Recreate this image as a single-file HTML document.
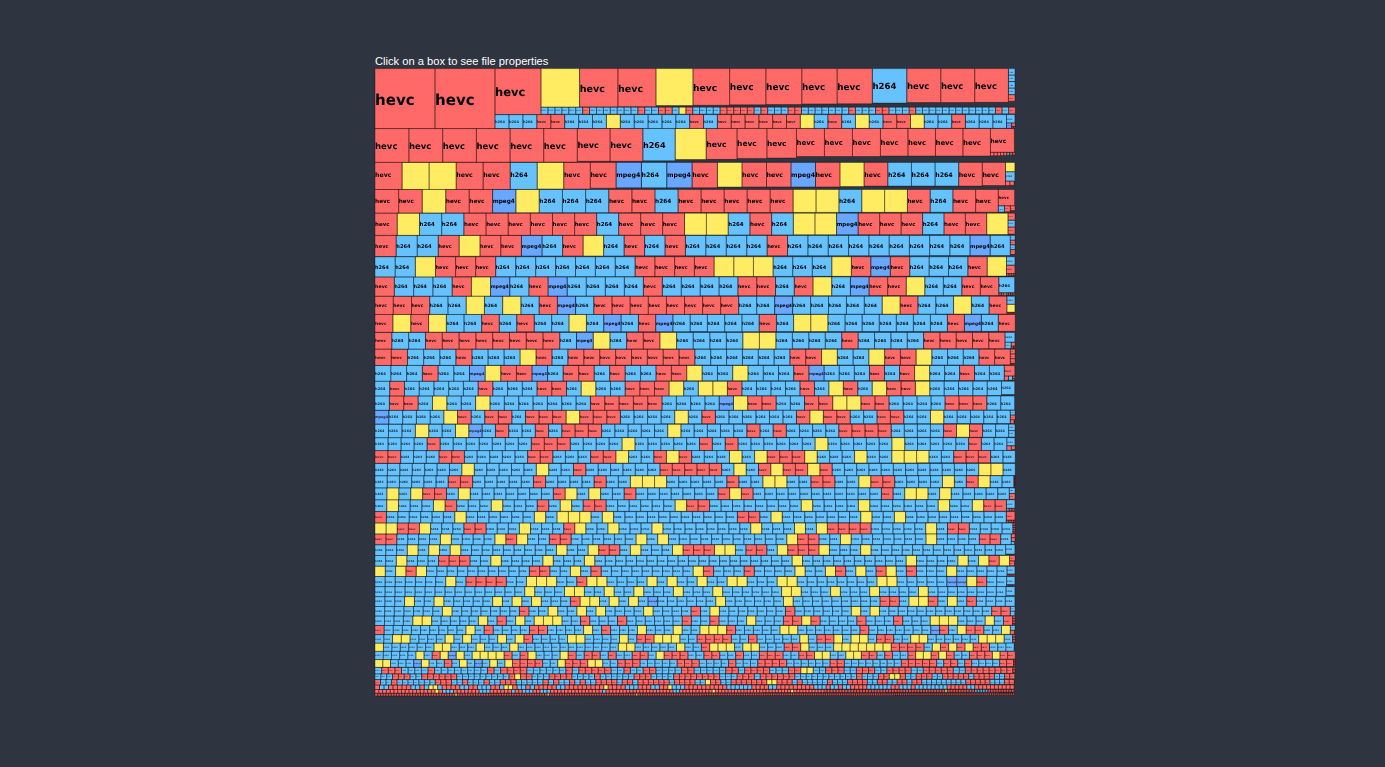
<!DOCTYPE html>
<html lang="en"><head><meta charset="utf-8"><title>Video files</title>
<style>
html,body{margin:0;padding:0;background:#2e3440;}
body{width:1385px;height:767px;overflow:hidden;position:relative;font-family:"Liberation Sans",sans-serif;}
#t{position:absolute;left:375px;top:53.8px;color:#fff;font-size:11.15px;line-height:14px;white-space:nowrap}
svg{position:absolute;left:0;top:0;filter:blur(.3px)}
svg text{font-family:"DejaVu Sans","Liberation Sans",sans-serif;font-weight:bold;fill:#000}
</style></head><body>
<div id="t">Click on a box to see file properties</div>
<svg width="1385" height="767" viewBox="0 0 1385 767" text-rendering="geometricPrecision">
<path fill="#ff6a68" d="M375 68.6h60v60h-60zM435 68.6h60v60h-60zM495 68.6h46v46h-46zM579.6 68.6h38.3v38.3h-38.3zM617.9 68.6h38.1v38.1h-38.1zM693 68.6h36.65v36.65h-36.65zM729.65 68.6h36.25v36.25h-36.25zM765.9 68.6h35.95v35.95h-35.95zM801.85 68.6h35.3v35.3h-35.3zM837.15 68.6h35.2v35.2h-35.2zM906.8 68.6h34v34h-34zM940.8 68.6h33.9v33.9h-33.9zM974.7 68.6h33.75v33.75h-33.75zM375 128.5h33.9v33.9h-33.9zM408.9 128.5h33.8v33.8h-33.8zM442.7 128.5h33.7v33.7h-33.7zM476.4 128.5h33.7v33.7h-33.7zM510.1 128.5h33.6v33.6h-33.6zM543.7 128.5h33.6v33.6h-33.6zM577.3 128.5h32.8v32.8h-32.8zM610.1 128.5h32.8v32.8h-32.8zM706.2 128.5h30.85v30.85h-30.85zM737.05 128.5h29.9v29.9h-29.9zM766.95 128.5h29.5v29.5h-29.5zM796.45 128.5h28v28h-28zM824.45 128.5h28v28h-28zM852.45 128.5h28v28h-28zM880.45 128.5h27.5v27.5h-27.5zM907.95 128.5h27.5v27.5h-27.5zM935.45 128.5h27.5v27.5h-27.5zM962.95 128.5h27.5v27.5h-27.5zM375 162.4h27.1v27.1h-27.1zM456.2 162.4h27v27h-27zM483.2 162.4h27v27h-27zM563.75 162.4h26.55v26.55h-26.55zM590.3 162.4h25.8v25.8h-25.8zM692.1 162.4h25.3v25.3h-25.3zM742 162.4h24.5v24.5h-24.5zM766.5 162.4h24.5v24.5h-24.5zM815.5 162.4h24.5v24.5h-24.5zM864.1 162.4h23.7v23.7h-23.7zM958.7 162.4h23.6v23.6h-23.6zM982.3 162.4h23.2v23.2h-23.2zM375 189.5h23.65v23.65h-23.65zM398.65 189.5h23.58v23.58h-23.58zM445.75 189.5h23.46v23.46h-23.46zM469.21 189.5h23.4v23.4h-23.4zM608.78 189.5h23.13v23.13h-23.13zM631.91 189.5h23.1v23.1h-23.1zM678.07 189.5h23.03v23.03h-23.03zM701.1 189.5h23.05v23.05h-23.05zM724.15 189.5h23.02v23.02h-23.02zM747.17 189.5h22.99v22.99h-22.99zM770.16 189.5h22.96v22.96h-22.96zM907.43 189.5h22.77v22.77h-22.77zM952.93 189.5h22.7v22.7h-22.7zM975.63 189.5h22.67v22.67h-22.67zM375 213.2h22.24v22.24h-22.24zM463.88 213.2h22.18v22.18h-22.18zM486.06 213.2h22.17v22.17h-22.17zM508.23 213.2h22.15v22.15h-22.15zM530.38 213.2h22.14v22.14h-22.14zM552.51 213.2h22.1v22.1h-22.1zM574.61 213.2h22.06v22.06h-22.06zM618.69 213.2h21.98v21.98h-21.98zM640.68 213.2h21.95v21.95h-21.95zM662.62 213.2h21.91v21.91h-21.91zM749.94 213.2h21.71v21.71h-21.71zM858.13 213.2h21.52v21.52h-21.52zM879.65 213.2h21.49v21.49h-21.49zM901.14 213.2h21.45v21.45h-21.45zM944 213.2h21.37v21.37h-21.37zM965.37 213.2h21.33v21.33h-21.33zM375 235.4h21.16v21.16h-21.16zM438.24 235.4h20.92v20.92h-20.92zM480.01 235.4h20.76v20.76h-20.76zM500.77 235.4h20.68v20.68h-20.68zM562.61 235.4h20.53v20.53h-20.53zM624.12 235.4h20.46v20.46h-20.46zM665.01 235.4h20.41v20.41h-20.41zM767.14 235.4h20.4v20.4h-20.4zM435.48 256.8h20.1v20.1h-20.1zM455.58 256.8h20.07v20.07h-20.07zM475.65 256.8h20.03v20.03h-20.03zM635.08 256.8h19.8v19.8h-19.8zM654.87 256.8h19.77v19.77h-19.77zM674.64 256.8h19.74v19.74h-19.74zM694.39 256.8h19.71v19.71h-19.71zM851.35 256.8h19.49v19.49h-19.49zM890.31 256.8h19.44v19.44h-19.44zM967.88 256.8h19.32v19.32h-19.32zM375 277h19.31v19.31h-19.31zM452.13 277h19.23v19.23h-19.23zM528.92 277h19.14v19.14h-19.14zM643.36 277h18.97v18.97h-18.97zM737.92 277h18.82v18.82h-18.82zM756.74 277h18.79v18.79h-18.79zM794.29 277h18.73v18.73h-18.73zM869.05 277h18.62v18.62h-18.62zM887.67 277h18.59v18.59h-18.59zM961.87 277h18.48v18.48h-18.48zM980.35 277h18.45v18.45h-18.45zM375 296.3h18.24v18.24h-18.24zM393.24 296.3h18.24v18.24h-18.24zM411.48 296.3h18.24v18.24h-18.24zM539.15 296.3h18.23v18.23h-18.23zM593.79 296.3h18.18v18.18h-18.18zM611.97 296.3h18.16v18.16h-18.16zM630.13 296.3h18.14v18.14h-18.14zM648.27 296.3h18.13v18.13h-18.13zM666.4 296.3h18.11v18.11h-18.11zM684.51 296.3h18.09v18.09h-18.09zM702.6 296.3h18.04v18.04h-18.04zM720.64 296.3h18.02v18.02h-18.02zM900.07 296.3h17.85v17.85h-17.85zM989.14 296.3h17.76v17.76h-17.76zM375 314.4h17.92v17.92h-17.92zM410.78 314.4h17.8v17.8h-17.8zM481.66 314.4h17.58v17.58h-17.58zM516.76 314.4h17.47v17.47h-17.47zM638.39 314.4h17.29v17.29h-17.29zM759.18 314.4h17.22v17.22h-17.22zM947.4 314.4h16.98v16.98h-16.98zM998.28 314.4h16.92v16.92h-16.92zM375 332.4h16.83v16.83h-16.83zM425.47 332.4h16.81v16.81h-16.81zM442.28 332.4h16.8v16.8h-16.8zM459.08 332.4h16.8v16.8h-16.8zM475.88 332.4h16.79v16.79h-16.79zM492.67 332.4h16.78v16.78h-16.78zM509.46 332.4h16.78v16.78h-16.78zM526.23 332.4h16.77v16.77h-16.77zM543.01 332.4h16.76v16.76h-16.76zM626.63 332.4h16.67v16.67h-16.67zM643.3 332.4h16.65v16.65h-16.65zM841.72 332.4h16.41v16.41h-16.41zM923.58 332.4h16.32v16.32h-16.32zM939.9 332.4h16.3v16.3h-16.3zM956.2 332.4h16.28v16.28h-16.28zM972.49 332.4h16.27v16.27h-16.27zM988.75 332.4h16.25v16.25h-16.25zM375 349.2h16.25v16.25h-16.25zM391.25 349.2h16.21v16.21h-16.21zM455.91 349.2h16.09v16.09h-16.09zM536.04 349.2h15.93v15.93h-15.93zM567.9 349.2h15.91v15.91h-15.91zM583.81 349.2h15.9v15.9h-15.9zM599.71 349.2h15.89v15.89h-15.89zM615.6 349.2h15.88v15.88h-15.88zM631.47 349.2h15.87v15.87h-15.87zM647.34 349.2h15.86v15.86h-15.86zM663.2 349.2h15.85v15.85h-15.85zM679.04 349.2h15.83v15.83h-15.83zM789.92 349.2h15.81v15.81h-15.81zM805.73 349.2h15.8v15.8h-15.8zM884.63 349.2h15.75v15.75h-15.75zM900.38 349.2h15.74v15.74h-15.74zM978.95 349.2h15.68v15.68h-15.68zM994.63 349.2h15.67v15.67h-15.67zM422.34 365.5h15.73v15.73h-15.73zM500.78 365.5h15.62v15.62h-15.62zM516.4 365.5h15.6v15.6h-15.6zM563.13 365.5h15.53v15.53h-15.53zM578.67 365.5h15.51v15.51h-15.51zM609.66 365.5h15.46v15.46h-15.46zM655.98 365.5h15.4v15.4h-15.4zM671.38 365.5h15.37v15.37h-15.37zM793.72 365.5h15.19v15.19h-15.19zM869.44 365.5h15.08v15.08h-15.08zM899.56 365.5h15.03v15.03h-15.03zM959.55 365.5h14.94v14.94h-14.94zM389.73 381.3h14.73v14.73h-14.73zM478.11 381.3h14.73v14.73h-14.73zM537.03 381.3h14.72v14.72h-14.72zM551.75 381.3h14.71v14.71h-14.71zM625.17 381.3h14.65v14.65h-14.65zM639.82 381.3h14.64v14.64h-14.64zM654.46 381.3h14.63v14.63h-14.63zM727.4 381.3h14.53v14.53h-14.53zM799.95 381.3h14.47v14.47h-14.47zM843.34 381.3h14.44v14.44h-14.44zM886.62 381.3h14.4v14.4h-14.4zM901.02 381.3h14.39v14.39h-14.39zM389.37 396h14.37v14.37h-14.37zM403.74 396h14.37v14.37h-14.37zM590.4 396h14.34v14.34h-14.34zM604.74 396h14.33v14.33h-14.33zM619.07 396h14.32v14.32h-14.32zM633.39 396h14.32v14.32h-14.32zM647.71 396h14.31v14.31h-14.31zM747.71 396h14.22v14.22h-14.22zM761.93 396h14.21v14.21h-14.21zM804.5 396h14.13v14.13h-14.13zM818.63 396h14.11v14.11h-14.11zM860.92 396h14.06v14.06h-14.06zM874.98 396h14.04v14.04h-14.04zM945.01 396h13.95v13.95h-13.95zM958.96 396h13.94v13.94h-13.94zM972.9 396h13.92v13.92h-13.92zM457.52 410.3h13.63v13.63h-13.63zM484.75 410.3h13.58v13.58h-13.58zM498.33 410.3h13.57v13.57h-13.57zM525.46 410.3h13.56v13.56h-13.56zM539.02 410.3h13.55v13.55h-13.55zM552.58 410.3h13.55v13.55h-13.55zM579.66 410.3h13.54v13.54h-13.54zM593.2 410.3h13.6v13.6h-13.6zM606.8 410.3h13.59v13.59h-13.59zM701.83 410.3h13.55v13.55h-13.55zM796.43 410.3h13.47v13.47h-13.47zM823.34 410.3h13.43v13.43h-13.43zM836.77 410.3h13.42v13.42h-13.42zM877 410.3h13.38v13.38h-13.38zM890.38 410.3h13.37v13.37h-13.37zM495.44 424.2h13.29v13.29h-13.29zM535.29 424.2h13.27v13.27h-13.27zM561.81 424.2h13.25v13.25h-13.25zM575.06 424.2h13.24v13.24h-13.24zM588.3 424.2h13.26v13.26h-13.26zM746.85 424.2h13.16v13.16h-13.16zM773.17 424.2h13.14v13.14h-13.14zM838.81 424.2h13.11v13.11h-13.11zM851.92 424.2h13.1v13.1h-13.1zM865.02 424.2h13.09v13.09h-13.09zM878.11 424.2h13.08v13.08h-13.08zM943.45 424.2h13.04v13.04h-13.04zM969.54 424.2h13.03v13.03h-13.03zM427.11 437.7h13.03v13.03h-13.03zM531.3 437.7h13v13h-13zM544.29 437.7h12.99v12.99h-12.99zM557.28 437.7h12.98v12.98h-12.98zM699.47 437.7h12.87v12.87h-12.87zM725.2 437.7h12.86v12.86h-12.86zM968.57 437.7h12.75v12.75h-12.75zM375 450.5h12.85v12.85h-12.85zM387.85 450.5h12.83v12.83h-12.83zM438.99 450.5h12.72v12.72h-12.72zM451.71 450.5h12.69v12.69h-12.69zM527.58 450.5h12.61v12.61h-12.61zM540.19 450.5h12.61v12.61h-12.61zM590.6 450.5h12.65v12.65h-12.65zM603.25 450.5h12.65v12.65h-12.65zM653.8 450.5h12.62v12.62h-12.62zM679.04 450.5h12.61v12.61h-12.61zM767.13 450.5h12.54v12.54h-12.54zM779.67 450.5h12.52v12.52h-12.52zM792.19 450.5h12.51v12.51h-12.51zM953.67 450.5h12.33v12.33h-12.33zM966 450.5h12.32v12.32h-12.32zM978.32 450.5h12.31v12.31h-12.31zM573.45 463.4h12.38v12.38h-12.38zM659.95 463.4h12.34v12.34h-12.34zM672.29 463.4h12.33v12.33h-12.33zM684.62 463.4h12.33v12.33h-12.33zM696.95 463.4h12.32v12.32h-12.32zM709.28 463.4h12.32v12.32h-12.32zM758.51 463.4h12.29v12.29h-12.29zM783.08 463.4h12.28v12.28h-12.28zM795.36 463.4h12.27v12.27h-12.27zM819.9 463.4h12.25v12.25h-12.25zM448.2 475.7h12.19v12.19h-12.19zM460.39 475.7h12.19v12.19h-12.19zM533.43 475.7h12.15v12.15h-12.15zM594.1 475.7h12.1v12.1h-12.1zM726.83 475.7h12.03v12.03h-12.03zM810.9 475.7h11.99v11.99h-11.99zM822.89 475.7h11.98v11.98h-11.98zM870.78 475.7h11.96v11.96h-11.96zM882.74 475.7h11.95v11.95h-11.95zM966.29 475.7h11.91v11.91h-11.91zM422.64 487.9h11.9v11.9h-11.9zM434.54 487.9h11.9v11.9h-11.9zM553.32 487.9h11.84v11.84h-11.84zM624.13 487.9h11.76v11.76h-11.76zM717.97 487.9h11.7v11.7h-11.7zM741.37 487.9h11.69v11.69h-11.69zM881.41 487.9h11.65v11.65h-11.65zM445.07 499.8h11.58v11.58h-11.58zM537.23 499.8h11.48v11.48h-11.48zM583.13 499.8h11.47v11.47h-11.47zM594.6 499.8h11.52v11.52h-11.52zM686.61 499.8h11.48v11.48h-11.48zM698.09 499.8h11.48v11.48h-11.48zM983.68 499.8h11.36v11.36h-11.36zM995.04 499.8h11.36v11.36h-11.36zM375 511.6h11.41v11.41h-11.41zM737.36 511.6h11.23v11.23h-11.23zM748.59 511.6h11.22v11.22h-11.22zM397.22 523h11.11v11.11h-11.11zM408.33 523h11.11v11.11h-11.11zM463.88 523h11.11v11.11h-11.11zM474.99 523h11.11v11.11h-11.11zM563.72 523h11.06v11.06h-11.06zM827.34 523h10.94v10.94h-10.94zM838.28 523h10.94v10.94h-10.94zM849.22 523h10.93v10.93h-10.93zM860.15 523h10.93v10.93h-10.93zM947.51 523h10.91v10.91h-10.91zM958.42 523h10.9v10.9h-10.9zM375 533.9h10.9v10.9h-10.9zM385.9 533.9h10.9v10.9h-10.9zM505.84 533.9h10.89v10.89h-10.89zM549.37 533.9h10.87v10.87h-10.87zM560.23 533.9h10.86v10.86h-10.86zM797.55 533.9h10.73v10.73h-10.73zM808.28 533.9h10.72v10.72h-10.72zM979.35 533.9h10.65v10.65h-10.65zM990.01 533.9h10.65v10.65h-10.65zM598.7 544.7h10.56v10.56h-10.56zM609.26 544.7h10.56v10.56h-10.56zM683 544.7h10.5v10.5h-10.5zM693.5 544.7h10.49v10.49h-10.49zM703.99 544.7h10.49v10.49h-10.49zM745.9 544.7h10.46v10.46h-10.46zM756.36 544.7h10.46v10.46h-10.46zM787.71 544.7h10.44v10.44h-10.44zM798.15 544.7h10.43v10.43h-10.43zM808.58 544.7h10.42v10.42h-10.42zM438.54 555.5h10.51v10.51h-10.51zM449.05 555.5h10.49v10.49h-10.49zM459.54 555.5h10.46v10.46h-10.46zM988.92 555.5h10.34v10.34h-10.34zM405.91 566.2h10.3v10.3h-10.3zM529.36 566.2h10.27v10.27h-10.27zM539.62 566.2h10.26v10.26h-10.26zM590.9 566.2h10.24v10.24h-10.24zM703.35 566.2h10.2v10.2h-10.2zM744.12 566.2h10.18v10.18h-10.18zM835.53 566.2h10.13v10.13h-10.13zM876.01 566.2h10.11v10.11h-10.11zM906.32 566.2h10.09v10.09h-10.09zM465.91 576.5h10.09v10.09h-10.09zM476 576.5h10.09v10.09h-10.09zM486.1 576.5h10.09v10.09h-10.09zM496.19 576.5h10.09v10.09h-10.09zM576.79 576.5h10.06v10.06h-10.06zM976.72 576.5h9.96v9.96h-9.96zM570.4 596.6h9.7v9.7h-9.7zM880.01 596.6h9.65v9.65h-9.65zM889.66 596.6h9.64v9.64h-9.64zM928.23 596.6h9.64v9.64h-9.64zM966.77 596.6h9.63v9.63h-9.63zM519.36 606.5h9.6v9.6h-9.6zM691.01 606.5h9.47v9.47h-9.47zM785.46 606.5h9.42v9.42h-9.42zM991.66 606.5h9.32v9.32h-9.32zM1000.98 606.5h9.32v9.32h-9.32zM497 616h9.3v9.3h-9.3zM580.5 616h9.25v9.25h-9.25zM617.52 616h9.25v9.25h-9.25zM682.17 616h9.22v9.22h-9.22zM709.8 616h9.2v9.2h-9.2zM783.37 616h9.19v9.19h-9.19zM792.55 616h9.18v9.18h-9.18zM810.92 616h9.18v9.18h-9.18zM856.84 616h9.18v9.18h-9.18zM893.54 616h9.17v9.17h-9.17zM1003.45 616h9.15v9.15h-9.15zM375 625.5h9.11v9.11h-9.11zM484.12 625.5h9.07v9.07h-9.07zM529.43 625.5h9.04v9.04h-9.04zM538.47 625.5h9.04v9.04h-9.04zM601.58 625.5h8.97v8.97h-8.97zM726.67 625.5h8.9v8.9h-8.9zM859.9 625.5h8.87v8.87h-8.87zM939.62 625.5h8.84v8.84h-8.84zM966.15 625.5h8.84v8.84h-8.84zM974.98 625.5h8.83v8.83h-8.83zM523.91 634.6h8.73v8.73h-8.73zM636.81 634.6h8.62v8.62h-8.62zM645.43 634.6h8.62v8.62h-8.62zM697.05 634.6h8.58v8.58h-8.58zM705.63 634.6h8.58v8.58h-8.58zM714.21 634.6h8.57v8.57h-8.57zM722.78 634.6h8.57v8.57h-8.57zM748.48 634.6h8.56v8.56h-8.56zM816.87 634.6h8.53v8.53h-8.53zM825.4 634.6h8.54v8.54h-8.54zM876.6 634.6h8.52v8.52h-8.52zM885.13 634.6h8.52v8.52h-8.52zM701.39 643h8.29v8.29h-8.29zM784.17 643h8.26v8.26h-8.26zM792.43 643h8.25v8.25h-8.25zM891.24 643h8.21v8.21h-8.21zM899.45 643h8.21v8.21h-8.21zM907.65 643h8.2v8.2h-8.2zM915.85 643h8.2v8.2h-8.2zM940.44 643h8.19v8.19h-8.19zM956.81 643h8.18v8.18h-8.18zM973.17 643h8.17v8.17h-8.17zM981.34 643h8.17v8.17h-8.17zM432.11 651.3h8.05v8.05h-8.05zM504.08 651.3h7.98v7.98h-7.98zM520.03 651.3h7.97v7.97h-7.97zM568.12 651.3h8.02v8.02h-8.02zM584.16 651.3h8.01v8.01h-8.01zM592.17 651.3h8.01v8.01h-8.01zM608.18 651.3h8v8h-8zM632.17 651.3h7.99v7.99h-7.99zM640.15 651.3h7.98v7.98h-7.98zM664.08 651.3h7.96v7.96h-7.96zM672.04 651.3h7.96v7.96h-7.96zM680 651.3h7.96v7.96h-7.96zM703.86 651.3h7.94v7.94h-7.94zM711.8 651.3h7.94v7.94h-7.94zM735.6 651.3h7.92v7.92h-7.92zM759.36 651.3h7.91v7.91h-7.91zM767.26 651.3h7.9v7.9h-7.9zM775.16 651.3h7.89v7.89h-7.89zM798.79 651.3h7.86v7.86h-7.86zM806.65 651.3h7.85v7.85h-7.85zM861.39 651.3h7.78v7.78h-7.78zM869.16 651.3h7.77v7.77h-7.77zM884.69 651.3h7.75v7.75h-7.75zM907.91 651.3h7.72v7.72h-7.72zM931.05 651.3h7.7v7.7h-7.7zM946.43 651.3h7.68v7.68h-7.68zM969.44 651.3h7.65v7.65h-7.65zM977.09 651.3h7.64v7.64h-7.64zM984.73 651.3h7.63v7.63h-7.63zM999.98 651.3h7.61v7.61h-7.61zM1007.6 651.3h7.6v7.6h-7.6zM444.28 659.6h7.61v7.61h-7.61zM512.44 659.6h7.54v7.54h-7.54zM519.97 659.6h7.53v7.53h-7.53zM527.5 659.6h7.56v7.56h-7.56zM535.06 659.6h7.55v7.55h-7.55zM565.21 659.6h7.52v7.52h-7.52zM572.73 659.6h7.51v7.51h-7.51zM580.24 659.6h7.5v7.5h-7.5zM617.69 659.6h7.46v7.46h-7.46zM625.15 659.6h7.45v7.45h-7.45zM632.6 659.6h7.44v7.44h-7.44zM677.12 659.6h7.38v7.38h-7.38zM684.5 659.6h7.37v7.37h-7.37zM691.87 659.6h7.36v7.36h-7.36zM728.55 659.6h7.31v7.31h-7.31zM757.71 659.6h7.27v7.27h-7.27zM764.98 659.6h7.26v7.26h-7.26zM772.24 659.6h7.25v7.25h-7.25zM779.49 659.6h7.24v7.24h-7.24zM829.96 659.6h7.17v7.17h-7.17zM837.14 659.6h7.16v7.16h-7.16zM901.29 659.6h7.08v7.08h-7.08zM908.38 659.6h7.07v7.07h-7.07zM915.45 659.6h7.06v7.06h-7.06zM922.51 659.6h7.05v7.05h-7.05zM929.57 659.6h7.05v7.05h-7.05zM943.65 659.6h7.03v7.03h-7.03zM950.68 659.6h7.02v7.02h-7.02zM964.7 659.6h7v7h-7zM999.6 659.6h6.95v6.95h-6.95zM1006.56 659.6h6.94v6.94h-6.94zM381.62 667.4h6.62v6.62h-6.62zM388.24 667.4h6.62v6.62h-6.62zM394.86 667.4h6.62v6.62h-6.62zM427.96 667.4h6.62v6.62h-6.62zM487.43 667.4h6.58v6.58h-6.58zM500.58 667.4h6.57v6.57h-6.57zM507.14 667.4h6.56v6.56h-6.56zM513.7 667.4h6.55v6.55h-6.55zM520.25 667.4h6.55v6.55h-6.55zM565.83 667.4h6.48v6.48h-6.48zM578.78 667.4h6.47v6.47h-6.47zM585.25 667.4h6.46v6.46h-6.46zM591.71 667.4h6.45v6.45h-6.45zM598.16 667.4h6.45v6.45h-6.45zM604.61 667.4h6.44v6.44h-6.44zM623.91 667.4h6.42v6.42h-6.42zM643.14 667.4h6.4v6.4h-6.4zM649.53 667.4h6.39v6.39h-6.39zM681.4 667.4h6.35v6.35h-6.35zM687.75 667.4h6.35v6.35h-6.35zM725.71 667.4h6.3v6.3h-6.3zM732.01 667.4h6.29v6.29h-6.29zM744.59 667.4h6.28v6.28h-6.28zM750.87 667.4h6.27v6.27h-6.27zM757.14 667.4h6.26v6.26h-6.26zM763.41 667.4h6.26v6.26h-6.26zM788.38 667.4h6.22v6.22h-6.22zM794.6 667.4h6.21v6.21h-6.21zM825.57 667.4h6.17v6.17h-6.17zM831.74 667.4h6.16v6.16h-6.16zM837.9 667.4h6.15v6.15h-6.15zM856.32 667.4h6.12v6.12h-6.12zM862.44 667.4h6.11v6.11h-6.11zM868.55 667.4h6.11v6.11h-6.11zM886.84 667.4h6.08v6.08h-6.08zM892.92 667.4h6.07v6.07h-6.07zM898.99 667.4h6.06v6.06h-6.06zM905.06 667.4h6.05v6.05h-6.05zM923.19 667.4h6.03v6.03h-6.03zM929.22 667.4h6.02v6.02h-6.02zM935.24 667.4h6.01v6.01h-6.01zM941.25 667.4h6v6h-6zM947.25 667.4h5.99v5.99h-5.99zM965.2 667.4h5.97v5.97h-5.97zM971.17 667.4h5.96v5.96h-5.96zM977.13 667.4h5.95v5.95h-5.95zM983.08 667.4h5.94v5.94h-5.94zM989.02 667.4h5.93v5.93h-5.93zM994.95 667.4h5.92v5.92h-5.92zM1000.88 667.4h5.92v5.92h-5.92zM1006.79 667.4h5.91v5.91h-5.91zM392.51 673.8h5.84v5.84h-5.84zM398.35 673.8h5.84v5.84h-5.84zM404.19 673.8h5.84v5.84h-5.84zM421.7 673.8h5.84v5.84h-5.84zM427.54 673.8h5.84v5.84h-5.84zM433.38 673.8h5.84v5.84h-5.84zM439.21 673.8h5.84v5.84h-5.84zM445.05 673.8h5.84v5.84h-5.84zM450.89 673.8h5.83v5.83h-5.83zM508.98 673.8h5.78v5.78h-5.78zM520.53 673.8h5.77v5.77h-5.77zM526.3 673.8h5.71v5.71h-5.71zM549.12 673.8h5.69v5.69h-5.69zM554.82 673.8h5.69v5.69h-5.69zM560.5 673.8h5.68v5.68h-5.68zM566.18 673.8h5.68v5.68h-5.68zM594.5 673.8h5.65v5.65h-5.65zM634.02 673.8h5.65v5.65h-5.65zM639.68 673.8h5.66v5.66h-5.66zM645.33 673.8h5.66v5.66h-5.66zM673.65 673.8h5.67v5.67h-5.67zM679.33 673.8h5.67v5.67h-5.67zM685 673.8h5.77v5.77h-5.77zM690.77 673.8h5.77v5.77h-5.77zM696.53 673.8h5.77v5.77h-5.77zM702.31 673.8h5.77v5.77h-5.77zM708.08 673.8h5.78v5.78h-5.78zM713.86 673.8h5.78v5.78h-5.78zM736.99 673.8h5.79v5.79h-5.79zM742.78 673.8h5.79v5.79h-5.79zM748.57 673.8h5.8v5.8h-5.8zM760.16 673.8h5.8v5.8h-5.8zM765.96 673.8h5.79v5.79h-5.79zM771.75 673.8h5.77v5.77h-5.77zM777.52 673.8h5.76v5.76h-5.76zM783.27 673.8h5.74v5.74h-5.74zM789.01 673.8h5.73v5.73h-5.73zM856.55 673.8h5.49v5.49h-5.49zM878.41 673.8h5.43v5.43h-5.43zM883.84 673.8h5.41v5.41h-5.41zM900.04 673.8h5.37v5.37h-5.37zM916.1 673.8h5.32v5.32h-5.32zM921.42 673.8h5.31v5.31h-5.31zM926.73 673.8h5.29v5.29h-5.29zM942.57 673.8h5.25v5.25h-5.25zM947.81 673.8h5.23v5.23h-5.23zM953.05 673.8h5.22v5.22h-5.22zM958.27 673.8h5.2v5.2h-5.2zM963.47 673.8h5.19v5.19h-5.19zM973.84 673.8h5.16v5.16h-5.16zM979 673.8h5.15v5.15h-5.15zM984.14 673.8h5.13v5.13h-5.13zM989.27 673.8h5.12v5.12h-5.12zM1004.57 673.8h5.07v5.07h-5.07zM1009.64 673.8h5.06v5.06h-5.06zM375 679.5h5.5v5.5h-5.5zM391.48 679.5h5.48v5.48h-5.48zM435.19 679.5h5.44v5.44h-5.44zM440.63 679.5h5.43v5.43h-5.43zM446.06 679.5h5.43v5.43h-5.43zM462.32 679.5h5.41v5.41h-5.41zM483.93 679.5h5.39v5.39h-5.39zM500.07 679.5h5.37v5.37h-5.37zM505.44 679.5h5.36v5.36h-5.36zM510.81 679.5h5.36v5.36h-5.36zM542.88 679.5h5.33v5.33h-5.33zM553.52 679.5h5.31v5.31h-5.31zM569.45 679.5h5.3v5.3h-5.3zM580.04 679.5h5.29v5.29h-5.29zM595.88 679.5h5.27v5.27h-5.27zM601.15 679.5h5.26v5.26h-5.26zM606.41 679.5h5.26v5.26h-5.26zM611.67 679.5h5.25v5.25h-5.25zM622.16 679.5h5.24v5.24h-5.24zM627.4 679.5h5.23v5.23h-5.23zM637.87 679.5h5.22v5.22h-5.22zM643.09 679.5h5.22v5.22h-5.22zM648.31 679.5h5.21v5.21h-5.21zM653.52 679.5h5.21v5.21h-5.21zM658.73 679.5h5.2v5.2h-5.2zM663.93 679.5h5.2v5.2h-5.2zM674.32 679.5h5.18v5.18h-5.18zM679.5 679.5h5.18v5.18h-5.18zM684.68 679.5h5.17v5.17h-5.17zM689.85 679.5h5.17v5.17h-5.17zM710.49 679.5h5.14v5.14h-5.14zM715.63 679.5h5.14v5.14h-5.14zM731.03 679.5h5.12v5.12h-5.12zM736.16 679.5h5.12v5.12h-5.12zM741.27 679.5h5.11v5.11h-5.11zM746.38 679.5h5.11v5.11h-5.11zM751.49 679.5h5.1v5.1h-5.1zM756.59 679.5h5.09v5.09h-5.09zM761.68 679.5h5.09v5.09h-5.09zM776.93 679.5h5.07v5.07h-5.07zM782 679.5h5.07v5.07h-5.07zM787.07 679.5h5.06v5.06h-5.06zM797.18 679.5h5.05v5.05h-5.05zM827.39 679.5h5.02v5.02h-5.02zM847.42 679.5h4.99v4.99h-4.99zM852.41 679.5h4.99v4.99h-4.99zM857.4 679.5h4.98v4.98h-4.98zM862.38 679.5h4.98v4.98h-4.98zM877.29 679.5h4.96v4.96h-4.96zM882.25 679.5h4.95v4.95h-4.95zM897.09 679.5h4.94v4.94h-4.94zM902.03 679.5h4.93v4.93h-4.93zM911.88 679.5h4.92v4.92h-4.92zM916.8 679.5h4.91v4.91h-4.91zM965.68 679.5h4.86v4.86h-4.86zM970.54 679.5h4.85v4.85h-4.85zM975.39 679.5h4.85v4.85h-4.85zM980.24 679.5h4.84v4.84h-4.84zM985.08 679.5h4.83v4.83h-4.83zM1004.38 679.5h4.81v4.81h-4.81zM1009.19 679.5h4.81v4.81h-4.81zM375 685h4.5v4.5h-4.5zM388.49 685h4.49v4.49h-4.49zM392.98 685h4.48v4.48h-4.48zM397.46 685h4.48v4.48h-4.48zM401.94 685h4.48v4.48h-4.48zM406.42 685h4.47v4.47h-4.47zM419.82 685h4.46v4.46h-4.46zM442.09 685h4.44v4.44h-4.44zM446.53 685h4.44v4.44h-4.44zM450.97 685h4.43v4.43h-4.43zM455.4 685h4.43v4.43h-4.43zM468.68 685h4.42v4.42h-4.42zM473.09 685h4.41v4.41h-4.41zM490.73 685h4.4v4.4h-4.4zM495.12 685h4.39v4.39h-4.39zM512.68 685h4.38v4.38h-4.38zM525.8 685h4.37v4.37h-4.37zM534.53 685h4.36v4.36h-4.36zM538.89 685h4.35v4.35h-4.35zM543.24 685h4.35v4.35h-4.35zM547.59 685h4.35v4.35h-4.35zM551.94 685h4.34v4.34h-4.34zM564.96 685h4.33v4.33h-4.33zM569.29 685h4.33v4.33h-4.33zM573.62 685h4.32v4.32h-4.32zM577.94 685h4.32v4.32h-4.32zM582.26 685h4.32v4.32h-4.32zM586.58 685h4.31v4.31h-4.31zM590.89 685h4.31v4.31h-4.31zM595.2 685h4.3v4.3h-4.3zM599.5 685h4.3v4.3h-4.3zM608.1 685h4.29v4.29h-4.29zM612.39 685h4.29v4.29h-4.29zM616.68 685h4.28v4.28h-4.28zM620.96 685h4.28v4.28h-4.28zM638.06 685h4.26v4.26h-4.26zM642.32 685h4.26v4.26h-4.26zM646.58 685h4.26v4.26h-4.26zM659.34 685h4.25v4.25h-4.25zM663.59 685h4.24v4.24h-4.24zM684.76 685h4.22v4.22h-4.22zM688.98 685h4.22v4.22h-4.22zM693.2 685h4.21v4.21h-4.21zM697.41 685h4.21v4.21h-4.21zM701.62 685h4.21v4.21h-4.21zM705.82 685h4.2v4.2h-4.2zM710.03 685h4.2v4.2h-4.2zM714.22 685h4.19v4.19h-4.19zM718.42 685h4.19v4.19h-4.19zM722.61 685h4.19v4.19h-4.19zM751.83 685h4.16v4.16h-4.16zM755.99 685h4.15v4.15h-4.15zM760.14 685h4.15v4.15h-4.15zM764.3 685h4.15v4.15h-4.15zM776.72 685h4.14v4.14h-4.14zM780.86 685h4.13v4.13h-4.13zM784.99 685h4.13v4.13h-4.13zM789.12 685h4.12v4.12h-4.12zM793.24 685h4.12v4.12h-4.12zM797.36 685h4.12v4.12h-4.12zM801.48 685h4.11v4.11h-4.11zM805.59 685h4.11v4.11h-4.11zM809.7 685h4.1v4.1h-4.1zM826.09 685h4.09v4.09h-4.09zM838.34 685h4.08v4.08h-4.08zM850.56 685h4.06v4.06h-4.06zM854.63 685h4.06v4.06h-4.06zM858.69 685h4.06v4.06h-4.06zM862.74 685h4.05v4.05h-4.05zM891.03 685h4.03v4.03h-4.03zM895.06 685h4.02v4.02h-4.02zM911.12 685h4.01v4.01h-4.01zM947.03 685h3.97v3.97h-3.97zM951 685h3.97v3.97h-3.97zM954.97 685h3.96v3.96h-3.96zM958.93 685h3.96v3.96h-3.96zM962.89 685h3.95v3.95h-3.95zM974.74 685h3.94v3.94h-3.94zM978.69 685h3.94v3.94h-3.94zM982.63 685h3.94v3.94h-3.94zM986.56 685h3.93v3.93h-3.93zM990.49 685h3.93v3.93h-3.93zM994.42 685h3.92v3.92h-3.92zM998.34 685h3.92v3.92h-3.92zM1002.26 685h3.92v3.92h-3.92zM1006.18 685h3.91v3.91h-3.91zM1010.09 685h3.91v3.91h-3.91zM375 689.5h3.8v3.8h-3.8zM378.8 689.5h3.79v3.79h-3.79zM382.59 689.5h3.79v3.79h-3.79zM386.38 689.5h3.78v3.78h-3.78zM390.16 689.5h3.78v3.78h-3.78zM393.94 689.5h3.77v3.77h-3.77zM397.71 689.5h3.76v3.76h-3.76zM401.47 689.5h3.76v3.76h-3.76zM405.23 689.5h3.75v3.75h-3.75zM408.98 689.5h3.75v3.75h-3.75zM412.73 689.5h3.74v3.74h-3.74zM416.47 689.5h3.73v3.73h-3.73zM420.2 689.5h3.73v3.73h-3.73zM423.93 689.5h3.72v3.72h-3.72zM427.65 689.5h3.71v3.71h-3.71zM431.36 689.5h3.71v3.71h-3.71zM438.77 689.5h3.7v3.7h-3.7zM453.52 689.5h3.67v3.67h-3.67zM457.2 689.5h3.67v3.67h-3.67zM460.86 689.5h3.66v3.66h-3.66zM464.52 689.5h3.65v3.65h-3.65zM468.18 689.5h3.65v3.65h-3.65zM471.82 689.5h3.64v3.64h-3.64zM475.47 689.5h3.64v3.64h-3.64zM489.97 689.5h3.61v3.61h-3.61zM493.58 689.5h3.61v3.61h-3.61zM497.19 689.5h3.6v3.6h-3.6zM500.79 689.5h3.59v3.59h-3.59zM504.38 689.5h3.59v3.59h-3.59zM507.97 689.5h3.58v3.58h-3.58zM515.13 689.5h3.57v3.57h-3.57zM518.69 689.5h3.56v3.56h-3.56zM532.91 689.5h3.54v3.54h-3.54zM536.45 689.5h3.53v3.53h-3.53zM550.54 689.5h3.51v3.51h-3.51zM554.05 689.5h3.5v3.5h-3.5zM557.55 689.5h3.5v3.5h-3.5zM561.05 689.5h3.49v3.49h-3.49zM564.54 689.5h3.48v3.48h-3.48zM568.02 689.5h3.48v3.48h-3.48zM571.5 689.5h3.47v3.47h-3.47zM574.97 689.5h3.47v3.47h-3.47zM578.44 689.5h3.46v3.46h-3.46zM581.9 689.5h3.45v3.45h-3.45zM585.35 689.5h3.45v3.45h-3.45zM588.8 689.5h3.44v3.44h-3.44zM592.24 689.5h3.44v3.44h-3.44zM595.67 689.5h3.43v3.43h-3.43zM599.1 689.5h3.42v3.42h-3.42zM605.94 689.5h3.41v3.41h-3.41zM609.35 689.5h3.4v3.4h-3.4zM612.76 689.5h3.4v3.4h-3.4zM616.16 689.5h3.39v3.39h-3.39zM619.55 689.5h3.39v3.39h-3.39zM622.94 689.5h3.38v3.38h-3.38zM626.32 689.5h3.37v3.37h-3.37zM629.69 689.5h3.37v3.37h-3.37zM633.06 689.5h3.36v3.36h-3.36zM636.42 689.5h3.36v3.36h-3.36zM639.78 689.5h3.35v3.35h-3.35zM643.13 689.5h3.34v3.34h-3.34zM646.47 689.5h3.34v3.34h-3.34zM649.81 689.5h3.33v3.33h-3.33zM653.14 689.5h3.33v3.33h-3.33zM656.47 689.5h3.32v3.32h-3.32zM659.79 689.5h3.31v3.31h-3.31zM663.1 689.5h3.31v3.31h-3.31zM666.41 689.5h3.3v3.3h-3.3zM669.71 689.5h3.3v3.3h-3.3zM679.58 689.5h3.28v3.28h-3.28zM682.85 689.5h3.27v3.27h-3.27zM686.12 689.5h3.26v3.26h-3.26zM689.39 689.5h3.26v3.26h-3.26zM692.65 689.5h3.25v3.25h-3.25zM695.9 689.5h3.25v3.25h-3.25zM699.15 689.5h3.24v3.24h-3.24zM702.39 689.5h3.23v3.23h-3.23zM705.62 689.5h3.23v3.23h-3.23zM708.85 689.5h3.22v3.22h-3.22zM715.29 689.5h3.21v3.21h-3.21zM718.5 689.5h3.2v3.2h-3.2zM721.7 689.5h3.2v3.2h-3.2zM724.9 689.5h3.19v3.19h-3.19zM728.09 689.5h3.19v3.19h-3.19zM731.28 689.5h3.18v3.18h-3.18zM734.46 689.5h3.17v3.17h-3.17zM737.63 689.5h3.17v3.17h-3.17zM740.8 689.5h3.16v3.16h-3.16zM743.96 689.5h3.16v3.16h-3.16zM747.12 689.5h3.15v3.15h-3.15zM750.27 689.5h3.14v3.14h-3.14zM753.41 689.5h3.14v3.14h-3.14zM756.55 689.5h3.13v3.13h-3.13zM759.68 689.5h3.13v3.13h-3.13zM762.8 689.5h3.12v3.12h-3.12zM765.92 689.5h3.11v3.11h-3.11zM769.04 689.5h3.11v3.11h-3.11zM772.14 689.5h3.1v3.1h-3.1zM775.24 689.5h3.09v3.09h-3.09zM778.34 689.5h3.09v3.09h-3.09zM781.43 689.5h3.08v3.08h-3.08zM784.51 689.5h3.08v3.08h-3.08zM787.59 689.5h3.07v3.07h-3.07zM793.72 689.5h3.06v3.06h-3.06zM796.78 689.5h3.05v3.05h-3.05zM799.83 689.5h3.05v3.05h-3.05zM802.88 689.5h3.04v3.04h-3.04zM805.92 689.5h3.03v3.03h-3.03zM808.95 689.5h3.03v3.03h-3.03zM811.98 689.5h3.02v3.02h-3.02zM815 689.5h3.02v3.02h-3.02zM818.02 689.5h3.01v3.01h-3.01zM821.03 689.5h3v3h-3zM824.03 689.5h3v3h-3zM827.03 689.5h2.99v2.99h-2.99zM830.02 689.5h2.99v2.99h-2.99zM833 689.5h2.98v2.98h-2.98zM835.98 689.5h2.97v2.97h-2.97zM838.95 689.5h2.97v2.97h-2.97zM841.92 689.5h2.96v2.96h-2.96zM844.88 689.5h2.95v2.95h-2.95zM847.84 689.5h2.95v2.95h-2.95zM850.79 689.5h2.94v2.94h-2.94zM853.73 689.5h2.94v2.94h-2.94zM856.67 689.5h2.93v2.93h-2.93zM859.6 689.5h2.92v2.92h-2.92zM862.52 689.5h2.92v2.92h-2.92zM865.44 689.5h2.91v2.91h-2.91zM868.35 689.5h2.91v2.91h-2.91zM871.26 689.5h2.9v2.9h-2.9zM874.16 689.5h2.89v2.89h-2.89zM877.05 689.5h2.89v2.89h-2.89zM879.94 689.5h2.88v2.88h-2.88zM882.82 689.5h2.88v2.88h-2.88zM885.7 689.5h2.87v2.87h-2.87zM888.57 689.5h2.86v2.86h-2.86zM891.43 689.5h2.86v2.86h-2.86zM894.29 689.5h2.85v2.85h-2.85zM897.14 689.5h2.85v2.85h-2.85zM899.98 689.5h2.84v2.84h-2.84zM902.82 689.5h2.83v2.83h-2.83zM905.66 689.5h2.83v2.83h-2.83zM908.48 689.5h2.82v2.82h-2.82zM911.31 689.5h2.81v2.81h-2.81zM914.12 689.5h2.81v2.81h-2.81zM916.93 689.5h2.8v2.8h-2.8zM919.73 689.5h2.8v2.8h-2.8zM922.53 689.5h2.79v2.79h-2.79zM925.32 689.5h2.78v2.78h-2.78zM928.1 689.5h2.78v2.78h-2.78zM930.88 689.5h2.77v2.77h-2.77zM933.66 689.5h2.77v2.77h-2.77zM936.42 689.5h2.76v2.76h-2.76zM939.18 689.5h2.75v2.75h-2.75zM941.94 689.5h2.75v2.75h-2.75zM947.43 689.5h2.74v2.74h-2.74zM950.16 689.5h2.73v2.73h-2.73zM952.89 689.5h2.72v2.72h-2.72zM955.62 689.5h2.72v2.72h-2.72zM958.33 689.5h2.71v2.71h-2.71zM961.04 689.5h2.71v2.71h-2.71zM963.75 689.5h2.7v2.7h-2.7zM966.45 689.5h2.69v2.69h-2.69zM969.14 689.5h2.69v2.69h-2.69zM971.83 689.5h2.68v2.68h-2.68zM987.83 689.5h2.64v2.64h-2.64zM990.47 689.5h2.64v2.64h-2.64zM993.11 689.5h2.63v2.63h-2.63zM995.74 689.5h2.63v2.63h-2.63zM998.37 689.5h2.62v2.62h-2.62zM1000.99 689.5h2.61v2.61h-2.61zM1003.6 689.5h2.61v2.61h-2.61zM1006.21 689.5h2.6v2.6h-2.6zM1008.81 689.5h2.6v2.6h-2.6zM1011.41 689.5h2.59v2.59h-2.59zM375 693.3h2.7v2.7h-2.7zM377.7 693.3h2.7v2.7h-2.7zM380.4 693.3h2.69v2.69h-2.69zM383.09 693.3h2.69v2.69h-2.69zM385.78 693.3h2.69v2.69h-2.69zM388.47 693.3h2.69v2.69h-2.69zM391.16 693.3h2.68v2.68h-2.68zM393.84 693.3h2.68v2.68h-2.68zM396.52 693.3h2.68v2.68h-2.68zM399.2 693.3h2.67v2.67h-2.67zM401.87 693.3h2.67v2.67h-2.67zM404.54 693.3h2.67v2.67h-2.67zM407.21 693.3h2.67v2.67h-2.67zM409.87 693.3h2.66v2.66h-2.66zM412.54 693.3h2.66v2.66h-2.66zM415.2 693.3h2.66v2.66h-2.66zM417.85 693.3h2.65v2.65h-2.65zM420.51 693.3h2.65v2.65h-2.65zM423.16 693.3h2.65v2.65h-2.65zM425.81 693.3h2.65v2.65h-2.65zM428.45 693.3h2.64v2.64h-2.64zM431.09 693.3h2.64v2.64h-2.64zM433.73 693.3h2.64v2.64h-2.64zM436.37 693.3h2.63v2.63h-2.63zM439 693.3h2.63v2.63h-2.63zM441.63 693.3h2.63v2.63h-2.63zM444.26 693.3h2.62v2.62h-2.62zM446.89 693.3h2.62v2.62h-2.62zM449.51 693.3h2.62v2.62h-2.62zM452.13 693.3h2.62v2.62h-2.62zM457.36 693.3h2.61v2.61h-2.61zM459.97 693.3h2.61v2.61h-2.61zM462.58 693.3h2.6v2.6h-2.6zM465.18 693.3h2.6v2.6h-2.6zM467.78 693.3h2.6v2.6h-2.6zM470.38 693.3h2.6v2.6h-2.6zM472.98 693.3h2.59v2.59h-2.59zM475.57 693.3h2.59v2.59h-2.59zM478.16 693.3h2.59v2.59h-2.59zM480.75 693.3h2.58v2.58h-2.58zM483.33 693.3h2.58v2.58h-2.58zM485.92 693.3h2.58v2.58h-2.58zM488.49 693.3h2.58v2.58h-2.58zM491.07 693.3h2.57v2.57h-2.57zM493.64 693.3h2.57v2.57h-2.57zM496.21 693.3h2.57v2.57h-2.57zM498.78 693.3h2.56v2.56h-2.56zM501.35 693.3h2.56v2.56h-2.56zM503.91 693.3h2.56v2.56h-2.56zM506.47 693.3h2.56v2.56h-2.56zM509.02 693.3h2.55v2.55h-2.55zM511.57 693.3h2.55v2.55h-2.55zM514.12 693.3h2.55v2.55h-2.55zM516.67 693.3h2.54v2.54h-2.54zM519.22 693.3h2.54v2.54h-2.54zM521.76 693.3h2.54v2.54h-2.54zM524.29 693.3h2.54v2.54h-2.54zM526.83 693.3h2.53v2.53h-2.53zM529.36 693.3h2.53v2.53h-2.53zM531.89 693.3h2.53v2.53h-2.53zM534.42 693.3h2.52v2.52h-2.52zM536.94 693.3h2.52v2.52h-2.52zM539.46 693.3h2.52v2.52h-2.52zM541.98 693.3h2.52v2.52h-2.52zM544.5 693.3h2.51v2.51h-2.51zM549.52 693.3h2.51v2.51h-2.51zM552.03 693.3h2.5v2.5h-2.5zM554.53 693.3h2.5v2.5h-2.5zM557.03 693.3h2.5v2.5h-2.5zM559.53 693.3h2.5v2.5h-2.5zM562.02 693.3h2.49v2.49h-2.49zM564.52 693.3h2.49v2.49h-2.49zM567.01 693.3h2.49v2.49h-2.49zM569.49 693.3h2.48v2.48h-2.48zM571.98 693.3h2.48v2.48h-2.48zM574.46 693.3h2.48v2.48h-2.48zM576.93 693.3h2.47v2.47h-2.47zM579.41 693.3h2.47v2.47h-2.47zM581.88 693.3h2.47v2.47h-2.47zM584.35 693.3h2.47v2.47h-2.47zM586.82 693.3h2.46v2.46h-2.46zM589.28 693.3h2.46v2.46h-2.46zM591.74 693.3h2.46v2.46h-2.46zM594.2 693.3h2.45v2.45h-2.45zM596.65 693.3h2.45v2.45h-2.45zM599.11 693.3h2.45v2.45h-2.45zM601.55 693.3h2.45v2.45h-2.45zM604 693.3h2.44v2.44h-2.44zM606.44 693.3h2.44v2.44h-2.44zM608.88 693.3h2.44v2.44h-2.44zM611.32 693.3h2.43v2.43h-2.43zM613.76 693.3h2.43v2.43h-2.43zM616.19 693.3h2.43v2.43h-2.43zM618.62 693.3h2.43v2.43h-2.43zM621.04 693.3h2.42v2.42h-2.42zM623.47 693.3h2.42v2.42h-2.42zM625.89 693.3h2.42v2.42h-2.42zM628.3 693.3h2.41v2.41h-2.41zM630.72 693.3h2.41v2.41h-2.41zM633.13 693.3h2.41v2.41h-2.41zM637.94 693.3h2.4v2.4h-2.4zM640.35 693.3h2.4v2.4h-2.4zM642.75 693.3h2.4v2.4h-2.4zM645.14 693.3h2.39v2.39h-2.39zM647.54 693.3h2.39v2.39h-2.39zM649.93 693.3h2.39v2.39h-2.39zM652.32 693.3h2.39v2.39h-2.39zM654.7 693.3h2.38v2.38h-2.38zM657.08 693.3h2.38v2.38h-2.38zM659.46 693.3h2.38v2.38h-2.38zM661.84 693.3h2.37v2.37h-2.37zM664.21 693.3h2.37v2.37h-2.37zM666.59 693.3h2.37v2.37h-2.37zM668.95 693.3h2.37v2.37h-2.37zM671.32 693.3h2.36v2.36h-2.36zM673.68 693.3h2.36v2.36h-2.36zM676.04 693.3h2.36v2.36h-2.36zM678.4 693.3h2.35v2.35h-2.35zM680.75 693.3h2.35v2.35h-2.35zM683.1 693.3h2.35v2.35h-2.35zM685.45 693.3h2.35v2.35h-2.35zM687.8 693.3h2.34v2.34h-2.34zM690.14 693.3h2.34v2.34h-2.34zM692.48 693.3h2.34v2.34h-2.34zM694.81 693.3h2.33v2.33h-2.33zM697.15 693.3h2.33v2.33h-2.33zM699.48 693.3h2.33v2.33h-2.33zM701.81 693.3h2.32v2.32h-2.32zM704.13 693.3h2.32v2.32h-2.32zM706.45 693.3h2.32v2.32h-2.32zM708.77 693.3h2.32v2.32h-2.32zM711.09 693.3h2.31v2.31h-2.31zM713.4 693.3h2.31v2.31h-2.31zM715.71 693.3h2.31v2.31h-2.31zM718.02 693.3h2.3v2.3h-2.3zM720.32 693.3h2.3v2.3h-2.3zM722.63 693.3h2.3v2.3h-2.3zM724.92 693.3h2.3v2.3h-2.3zM727.22 693.3h2.29v2.29h-2.29zM729.51 693.3h2.29v2.29h-2.29zM731.8 693.3h2.29v2.29h-2.29zM734.09 693.3h2.28v2.28h-2.28zM736.38 693.3h2.28v2.28h-2.28zM738.66 693.3h2.28v2.28h-2.28zM740.94 693.3h2.28v2.28h-2.28zM743.21 693.3h2.27v2.27h-2.27zM745.48 693.3h2.27v2.27h-2.27zM747.75 693.3h2.27v2.27h-2.27zM750.02 693.3h2.26v2.26h-2.26zM752.29 693.3h2.26v2.26h-2.26zM754.55 693.3h2.26v2.26h-2.26zM756.81 693.3h2.26v2.26h-2.26zM759.06 693.3h2.25v2.25h-2.25zM761.31 693.3h2.25v2.25h-2.25zM763.56 693.3h2.25v2.25h-2.25zM765.81 693.3h2.24v2.24h-2.24zM768.06 693.3h2.24v2.24h-2.24zM770.3 693.3h2.24v2.24h-2.24zM772.53 693.3h2.24v2.24h-2.24zM774.77 693.3h2.23v2.23h-2.23zM777 693.3h2.23v2.23h-2.23zM779.23 693.3h2.23v2.23h-2.23zM781.46 693.3h2.22v2.22h-2.22zM783.68 693.3h2.22v2.22h-2.22zM785.9 693.3h2.22v2.22h-2.22zM788.12 693.3h2.22v2.22h-2.22zM790.34 693.3h2.21v2.21h-2.21zM792.55 693.3h2.21v2.21h-2.21zM794.76 693.3h2.21v2.21h-2.21zM796.97 693.3h2.2v2.2h-2.2zM799.17 693.3h2.2v2.2h-2.2zM801.37 693.3h2.2v2.2h-2.2zM803.57 693.3h2.2v2.2h-2.2zM805.76 693.3h2.19v2.19h-2.19zM807.96 693.3h2.19v2.19h-2.19zM810.14 693.3h2.19v2.19h-2.19zM812.33 693.3h2.18v2.18h-2.18zM814.51 693.3h2.18v2.18h-2.18zM816.7 693.3h2.18v2.18h-2.18zM818.87 693.3h2.17v2.17h-2.17zM821.05 693.3h2.17v2.17h-2.17zM823.22 693.3h2.17v2.17h-2.17zM825.39 693.3h2.17v2.17h-2.17zM827.56 693.3h2.16v2.16h-2.16zM829.72 693.3h2.16v2.16h-2.16zM831.88 693.3h2.16v2.16h-2.16zM834.04 693.3h2.15v2.15h-2.15zM836.19 693.3h2.15v2.15h-2.15zM838.34 693.3h2.15v2.15h-2.15zM840.49 693.3h2.15v2.15h-2.15zM842.64 693.3h2.14v2.14h-2.14zM844.78 693.3h2.14v2.14h-2.14zM846.92 693.3h2.14v2.14h-2.14zM849.06 693.3h2.13v2.13h-2.13zM851.19 693.3h2.13v2.13h-2.13zM853.32 693.3h2.13v2.13h-2.13zM855.45 693.3h2.13v2.13h-2.13zM857.58 693.3h2.12v2.12h-2.12zM859.7 693.3h2.12v2.12h-2.12zM861.82 693.3h2.12v2.12h-2.12zM863.94 693.3h2.11v2.11h-2.11zM866.05 693.3h2.11v2.11h-2.11zM868.16 693.3h2.11v2.11h-2.11zM870.27 693.3h2.11v2.11h-2.11zM872.38 693.3h2.1v2.1h-2.1zM874.48 693.3h2.1v2.1h-2.1zM876.58 693.3h2.1v2.1h-2.1zM878.68 693.3h2.09v2.09h-2.09zM880.77 693.3h2.09v2.09h-2.09zM882.86 693.3h2.09v2.09h-2.09zM884.95 693.3h2.09v2.09h-2.09zM887.04 693.3h2.08v2.08h-2.08zM889.12 693.3h2.08v2.08h-2.08zM891.2 693.3h2.08v2.08h-2.08zM893.28 693.3h2.07v2.07h-2.07zM895.35 693.3h2.07v2.07h-2.07zM897.42 693.3h2.07v2.07h-2.07zM899.49 693.3h2.07v2.07h-2.07zM901.55 693.3h2.06v2.06h-2.06zM903.62 693.3h2.06v2.06h-2.06zM905.68 693.3h2.06v2.06h-2.06zM907.73 693.3h2.05v2.05h-2.05zM909.79 693.3h2.05v2.05h-2.05zM911.84 693.3h2.05v2.05h-2.05zM913.88 693.3h2.04v2.04h-2.04zM915.93 693.3h2.04v2.04h-2.04zM917.97 693.3h2.04v2.04h-2.04zM920.01 693.3h2.04v2.04h-2.04zM922.05 693.3h2.03v2.03h-2.03zM924.08 693.3h2.03v2.03h-2.03zM926.11 693.3h2.03v2.03h-2.03zM928.14 693.3h2.02v2.02h-2.02zM930.16 693.3h2.02v2.02h-2.02zM932.19 693.3h2.02v2.02h-2.02zM934.2 693.3h2.02v2.02h-2.02zM936.22 693.3h2.01v2.01h-2.01zM938.23 693.3h2.01v2.01h-2.01zM940.24 693.3h2.01v2.01h-2.01zM942.25 693.3h2v2h-2zM944.26 693.3h2v2h-2zM946.26 693.3h2v2h-2zM948.26 693.3h2v2h-2zM950.25 693.3h1.99v1.99h-1.99zM952.25 693.3h1.99v1.99h-1.99zM954.24 693.3h1.99v1.99h-1.99zM956.22 693.3h1.98v1.98h-1.98zM958.21 693.3h1.98v1.98h-1.98zM960.19 693.3h1.98v1.98h-1.98zM962.17 693.3h1.98v1.98h-1.98zM964.14 693.3h1.97v1.97h-1.97zM966.12 693.3h1.97v1.97h-1.97zM968.09 693.3h1.97v1.97h-1.97zM970.05 693.3h1.96v1.96h-1.96zM972.02 693.3h1.96v1.96h-1.96zM973.98 693.3h1.96v1.96h-1.96zM975.94 693.3h1.96v1.96h-1.96zM977.89 693.3h1.95v1.95h-1.95zM979.85 693.3h1.95v1.95h-1.95zM981.8 693.3h1.95v1.95h-1.95zM983.74 693.3h1.94v1.94h-1.94zM985.69 693.3h1.94v1.94h-1.94zM987.63 693.3h1.94v1.94h-1.94zM989.57 693.3h1.94v1.94h-1.94zM991.5 693.3h1.93v1.93h-1.93zM993.43 693.3h1.93v1.93h-1.93zM995.36 693.3h1.93v1.93h-1.93zM997.29 693.3h1.92v1.92h-1.92zM999.21 693.3h1.92v1.92h-1.92zM1001.13 693.3h1.92v1.92h-1.92zM1003.05 693.3h1.92v1.92h-1.92zM1004.97 693.3h1.91v1.91h-1.91zM1006.88 693.3h1.91v1.91h-1.91zM1008.79 693.3h1.91v1.91h-1.91zM1010.7 693.3h1.9v1.9h-1.9zM1012.6 693.3h1.9v1.9h-1.9zM1008.45 94.66h6.51v6.51h-6.51zM990.45 128.5h23.88v23.88h-23.88zM990.45 152.38h3.49v3.49h-3.49zM993.94 152.38h3.37v3.37h-3.37zM997.31 152.38h3.25v3.25h-3.25zM1000.56 152.38h3.14v3.14h-3.14zM1003.69 152.38h3.03v3.03h-3.03zM1009.64 152.38h2.82v2.82h-2.82zM1012.46 152.38h2.65v2.65h-2.65zM1005.5 181.12h4.32v4.32h-4.32zM1009.82 181.12h4.17v4.17h-4.17zM998.3 189.5h16.31v16.31h-16.31zM1004.44 205.81h5.92v5.92h-5.92zM1010.36 205.81h4.67v4.67h-4.67zM1010.36 210.48h1.21v1.21h-1.21zM1008 213.2h6.95v6.95h-6.95zM1008 227.1h6.95v6.95h-6.95zM1010.3 240.13h4.73v4.73h-4.73zM1010.3 249.59h4.73v4.73h-4.73zM1006.5 265.2h8.4v8.4h-8.4zM1006.5 273.59h2.42v2.42h-2.42zM1008.92 273.59h2.33v2.33h-2.33zM1011.25 273.59h2.25v2.25h-2.25zM1013.5 273.59h1.64v1.64h-1.64zM998.8 292.83h2.53v2.53h-2.53zM1001.33 292.83h2.44v2.44h-2.44zM1006.13 292.83h2.28v2.28h-2.28zM1008.41 292.83h2.2v2.2h-2.2zM1010.61 292.83h2.12v2.12h-2.12zM1012.73 292.83h2.05v2.05h-2.05zM1006.9 312.32h1.68v1.68h-1.68zM1008.58 312.32h1.62v1.62h-1.62zM1010.21 312.32h1.57v1.57h-1.57zM1011.77 312.32h1.51v1.51h-1.51zM1013.29 312.32h1.46v1.46h-1.46zM1011.18 342.24h3.88v3.88h-3.88zM1011.18 346.12h2.22v2.22h-2.22zM1013.4 346.12h1.73v1.73h-1.73zM1010.3 349.2h4.73v4.73h-4.73zM1010.3 353.93h4.73v4.73h-4.73zM1010.3 358.66h4.73v4.73h-4.73zM1010.3 363.39h1.43v1.43h-1.43zM1011.73 363.39h1.38v1.38h-1.38zM1013.12 363.39h1.33v1.33h-1.33zM1004.3 365.5h10.52v10.52h-10.52zM1004.3 376.02h4.22v4.22h-4.22zM1012.6 376.02h2.51v2.51h-2.51zM1010.3 415.03h4.73v4.73h-4.73zM1010.3 419.76h3.69v3.69h-3.69zM1006.8 445.81h4.47v4.47h-4.47zM1011.27 445.81h3.79v3.79h-3.79zM1013.9 475.7h1.25v1.25h-1.25zM1013.9 476.95h1.25v1.25h-1.25zM1013.9 478.21h1.25v1.25h-1.25zM1013.9 479.46h1.25v1.25h-1.25zM1013.9 480.72h1.25v1.25h-1.25zM1013.9 481.97h1.25v1.25h-1.25zM1013.9 483.23h1.25v1.25h-1.25zM1013.9 484.48h1.25v1.25h-1.25zM1013.9 485.74h1.25v1.25h-1.25zM1009.3 493.59h5.69v5.69h-5.69zM1009.17 508.29h2.67v2.67h-2.67zM1011.84 508.29h2.58v2.58h-2.58zM1006.3 511.6h8.59v8.59h-8.59zM1006.3 520.19h2.5v2.5h-2.5zM1008.8 520.19h2.42v2.42h-2.42zM1011.22 520.19h2.33v2.33h-2.33zM1013.55 520.19h1.59v1.59h-1.59zM1012.9 523h2.22v2.22h-2.22zM1012.9 525.22h2.22v2.22h-2.22zM1012.9 527.44h2.22v2.22h-2.22zM1012.9 529.66h2.22v2.22h-2.22zM1012.9 531.88h1.94v1.94h-1.94zM1011.3 533.9h3.76v3.76h-3.76zM1011.3 537.66h3.76v3.76h-3.76zM1009.6 555.5h5.4v5.4h-5.4zM1009.6 560.9h4.76v4.76h-4.76zM1007 574.11h2.06v2.06h-2.06zM1009.06 574.11h1.99v1.99h-1.99zM1011.04 574.11h1.92v1.92h-1.92zM1012.96 574.11h1.85v1.85h-1.85zM1006.6 584.8h1.6v1.6h-1.6zM1008.2 584.8h1.55v1.55h-1.55zM1009.75 584.8h1.49v1.49h-1.49zM1011.24 584.8h1.44v1.44h-1.44zM1012.68 584.8h1.39v1.39h-1.39zM1012.6 616h2.51v2.51h-2.51zM1012.6 618.51h2.51v2.51h-2.51zM1012.6 621.02h2.51v2.51h-2.51zM1012.6 623.53h1.56v1.56h-1.56zM1010.3 630.23h3.95v3.95h-3.95zM1012.6 634.6h2.51v2.51h-2.51zM1012.6 637.11h2.51v2.51h-2.51zM1012.6 639.62h2.51v2.51h-2.51zM1013.5 659.6h1.64v1.64h-1.64zM1013.5 661.24h1.64v1.64h-1.64zM1013.5 662.88h1.64v1.64h-1.64zM1013.5 664.52h1.64v1.64h-1.64zM1012.7 667.4h2.41v2.41h-2.41zM1012.7 669.81h2.41v2.41h-2.41zM536.83 114.6h13.93v13.93h-13.93zM550.76 114.6h13.92v13.92h-13.92zM689.67 114.6h13.85v13.85h-13.85zM717.37 114.6h13.84v13.84h-13.84zM731.21 114.6h13.83v13.83h-13.83zM745.04 114.6h13.82v13.82h-13.82zM758.86 114.6h13.82v13.82h-13.82zM772.68 114.6h13.81v13.81h-13.81zM786.49 114.6h13.8v13.8h-13.8zM827.88 114.6h13.78v13.78h-13.78zM882.97 114.6h13.76v13.76h-13.76zM896.73 114.6h13.75v13.75h-13.75zM951.68 114.6h13.72v13.72h-13.72zM1011.67 122.97h3.41v3.41h-3.41zM1011.67 126.38h1.67v1.67h-1.67zM1013.34 126.38h1.61v1.61h-1.61zM582.62 107.2h6.92v6.92h-6.92zM637.84 107.2h6.88v6.88h-6.88zM658.46 107.2h6.86v6.86h-6.86zM665.32 107.2h6.86v6.86h-6.86zM685.88 107.2h6.84v6.84h-6.84zM720.05 107.2h6.82v6.82h-6.82zM726.87 107.2h6.81v6.81h-6.81zM733.68 107.2h6.81v6.81h-6.81zM740.49 107.2h6.8v6.8h-6.8zM747.29 107.2h6.8v6.8h-6.8zM760.88 107.2h6.79v6.79h-6.79zM788 107.2h6.77v6.77h-6.77zM794.77 107.2h6.76v6.76h-6.76zM848.73 107.2h6.72v6.72h-6.72zM875.58 107.2h6.7v6.7h-6.7zM882.29 107.2h6.7v6.7h-6.7zM909.04 107.2h6.68v6.68h-6.68zM995.43 107.2h6.61v6.61h-6.61zM1008.65 107.2h6.6v6.6h-6.6z"/>
<path fill="#66c2ff" d="M872.35 68.6h34.45v34.45h-34.45zM642.9 128.5h32.3v32.3h-32.3zM510.2 162.4h27v27h-27zM641.45 162.4h25.35v25.35h-25.35zM887.8 162.4h23.65v23.65h-23.65zM911.45 162.4h23.65v23.65h-23.65zM935.1 162.4h23.6v23.6h-23.6zM539.21 189.5h23.22v23.22h-23.22zM562.43 189.5h23.19v23.19h-23.19zM585.62 189.5h23.16v23.16h-23.16zM655 189.5h23.06v23.06h-23.06zM838.94 189.5h22.86v22.86h-22.86zM930.19 189.5h22.73v22.73h-22.73zM419.47 213.2h22.21v22.21h-22.21zM441.68 213.2h22.2v22.2h-22.2zM596.67 213.2h22.02v22.02h-22.02zM728.19 213.2h21.75v21.75h-21.75zM771.65 213.2h21.68v21.68h-21.68zM922.59 213.2h21.41v21.41h-21.41zM396.16 235.4h21.08v21.08h-21.08zM417.24 235.4h21v21h-21zM542.06 235.4h20.55v20.55h-20.55zM603.64 235.4h20.48v20.48h-20.48zM644.58 235.4h20.43v20.43h-20.43zM685.42 235.4h20.38v20.38h-20.38zM705.8 235.4h20.47v20.47h-20.47zM726.27 235.4h20.45v20.45h-20.45zM746.71 235.4h20.42v20.42h-20.42zM787.53 235.4h20.37v20.37h-20.37zM807.9 235.4h20.35v20.35h-20.35zM828.25 235.4h20.32v20.32h-20.32zM848.58 235.4h20.3v20.3h-20.3zM868.88 235.4h20.28v20.28h-20.28zM889.15 235.4h20.25v20.25h-20.25zM909.4 235.4h20.23v20.23h-20.23zM929.63 235.4h20.2v20.2h-20.2zM949.84 235.4h20.18v20.18h-20.18zM990.17 235.4h20.13v20.13h-20.13zM375 256.8h20.19v20.19h-20.19zM395.19 256.8h20.16v20.16h-20.16zM495.68 256.8h20v20h-20zM515.69 256.8h19.97v19.97h-19.97zM535.66 256.8h19.94v19.94h-19.94zM555.6 256.8h19.91v19.91h-19.91zM575.51 256.8h19.88v19.88h-19.88zM595.39 256.8h19.86v19.86h-19.86zM615.25 256.8h19.83v19.83h-19.83zM773.09 256.8h19.61v19.61h-19.61zM792.7 256.8h19.58v19.58h-19.58zM812.28 256.8h19.55v19.55h-19.55zM909.74 256.8h19.41v19.41h-19.41zM929.15 256.8h19.38v19.38h-19.38zM948.53 256.8h19.35v19.35h-19.35zM394.31 277h19.29v19.29h-19.29zM413.61 277h19.27v19.27h-19.27zM432.88 277h19.25v19.25h-19.25zM509.76 277h19.17v19.17h-19.17zM567.18 277h19.09v19.09h-19.09zM586.27 277h19.06v19.06h-19.06zM605.33 277h19.03v19.03h-19.03zM624.36 277h19v19h-19zM662.34 277h18.95v18.95h-18.95zM681.28 277h18.92v18.92h-18.92zM700.2 277h18.87v18.87h-18.87zM719.07 277h18.85v18.85h-18.85zM775.53 277h18.76v18.76h-18.76zM831.73 277h18.68v18.68h-18.68zM924.83 277h18.54v18.54h-18.54zM943.36 277h18.51v18.51h-18.51zM429.72 296.3h18.24v18.24h-18.24zM447.95 296.3h18.24v18.24h-18.24zM484.43 296.3h18.24v18.24h-18.24zM520.91 296.3h18.24v18.24h-18.24zM575.59 296.3h18.2v18.2h-18.2zM738.66 296.3h18v18h-18zM756.66 296.3h17.99v17.99h-17.99zM792.61 296.3h17.95v17.95h-17.95zM810.57 296.3h17.93v17.93h-17.93zM828.5 296.3h17.92v17.92h-17.92zM846.42 296.3h17.9v17.9h-17.9zM864.32 296.3h17.88v17.88h-17.88zM917.91 296.3h17.83v17.83h-17.83zM935.75 296.3h17.81v17.81h-17.81zM971.36 296.3h17.78v17.78h-17.78zM446.33 314.4h17.69v17.69h-17.69zM464.02 314.4h17.64v17.64h-17.64zM499.24 314.4h17.52v17.52h-17.52zM534.23 314.4h17.41v17.41h-17.41zM551.64 314.4h17.39v17.39h-17.39zM586.4 314.4h17.35v17.35h-17.35zM621.08 314.4h17.31v17.31h-17.31zM672.94 314.4h17.24v17.24h-17.24zM690.18 314.4h17.22v17.22h-17.22zM707.4 314.4h17.28v17.28h-17.28zM724.68 314.4h17.26v17.26h-17.26zM741.94 314.4h17.24v17.24h-17.24zM776.4 314.4h17.2v17.2h-17.2zM827.92 314.4h17.13v17.13h-17.13zM845.05 314.4h17.11v17.11h-17.11zM862.16 314.4h17.09v17.09h-17.09zM879.25 314.4h17.07v17.07h-17.07zM896.32 314.4h17.05v17.05h-17.05zM913.37 314.4h17.03v17.03h-17.03zM930.39 314.4h17v17h-17zM981.34 314.4h16.94v16.94h-16.94zM391.83 332.4h16.82v16.82h-16.82zM408.65 332.4h16.82v16.82h-16.82zM559.77 332.4h16.74v16.74h-16.74zM609.94 332.4h16.69v16.69h-16.69zM676.58 332.4h16.62v16.62h-16.62zM693.2 332.4h16.6v16.6h-16.6zM709.8 332.4h16.55v16.55h-16.55zM726.35 332.4h16.53v16.53h-16.53zM775.9 332.4h16.48v16.48h-16.48zM792.38 332.4h16.46v16.46h-16.46zM808.84 332.4h16.44v16.44h-16.44zM825.29 332.4h16.43v16.43h-16.43zM858.12 332.4h16.39v16.39h-16.39zM874.52 332.4h16.37v16.37h-16.37zM890.89 332.4h16.36v16.36h-16.36zM907.24 332.4h16.34v16.34h-16.34zM407.46 349.2h16.18v16.18h-16.18zM423.64 349.2h16.15v16.15h-16.15zM439.79 349.2h16.12v16.12h-16.12zM472 349.2h16.06v16.06h-16.06zM488.06 349.2h16.03v16.03h-16.03zM504.09 349.2h15.99v15.99h-15.99zM551.98 349.2h15.92v15.92h-15.92zM694.88 349.2h15.82v15.82h-15.82zM710.7 349.2h15.87v15.87h-15.87zM726.57 349.2h15.86v15.86h-15.86zM742.42 349.2h15.84v15.84h-15.84zM758.27 349.2h15.83v15.83h-15.83zM774.1 349.2h15.82v15.82h-15.82zM837.33 349.2h15.78v15.78h-15.78zM853.1 349.2h15.77v15.77h-15.77zM931.84 349.2h15.71v15.71h-15.71zM947.55 349.2h15.7v15.7h-15.7zM963.26 349.2h15.69v15.69h-15.69zM375 365.5h15.8v15.8h-15.8zM390.8 365.5h15.78v15.78h-15.78zM406.58 365.5h15.76v15.76h-15.76zM438.07 365.5h15.71v15.71h-15.71zM453.78 365.5h15.69v15.69h-15.69zM547.58 365.5h15.55v15.55h-15.55zM594.17 365.5h15.49v15.49h-15.49zM625.12 365.5h15.44v15.44h-15.44zM640.56 365.5h15.42v15.42h-15.42zM702.1 365.5h15.33v15.33h-15.33zM717.43 365.5h15.3v15.3h-15.3zM748.01 365.5h15.26v15.26h-15.26zM763.27 365.5h15.24v15.24h-15.24zM778.5 365.5h15.21v15.21h-15.21zM824.07 365.5h15.14v15.14h-15.14zM839.22 365.5h15.12v15.12h-15.12zM854.34 365.5h15.1v15.1h-15.1zM884.51 365.5h15.05v15.05h-15.05zM929.6 365.5h14.98v14.98h-14.98zM944.59 365.5h14.96v14.96h-14.96zM974.49 365.5h14.92v14.92h-14.92zM989.41 365.5h14.89v14.89h-14.89zM375 381.3h14.73v14.73h-14.73zM404.46 381.3h14.73v14.73h-14.73zM419.19 381.3h14.73v14.73h-14.73zM433.92 381.3h14.73v14.73h-14.73zM448.65 381.3h14.73v14.73h-14.73zM463.38 381.3h14.73v14.73h-14.73zM492.84 381.3h14.73v14.73h-14.73zM507.57 381.3h14.73v14.73h-14.73zM522.3 381.3h14.73v14.73h-14.73zM566.46 381.3h14.7v14.7h-14.7zM595.84 381.3h14.67v14.67h-14.67zM610.51 381.3h14.66v14.66h-14.66zM683.7 381.3h14.6v14.6h-14.6zM741.94 381.3h14.52v14.52h-14.52zM756.46 381.3h14.51v14.51h-14.51zM770.97 381.3h14.5v14.5h-14.5zM785.47 381.3h14.49v14.49h-14.49zM814.43 381.3h14.46v14.46h-14.46zM857.78 381.3h14.43v14.43h-14.43zM929.79 381.3h14.37v14.37h-14.37zM944.15 381.3h14.35v14.35h-14.35zM958.51 381.3h14.34v14.34h-14.34zM972.85 381.3h14.33v14.33h-14.33zM987.18 381.3h14.32v14.32h-14.32zM375 396h14.37v14.37h-14.37zM418.11 396h14.37v14.37h-14.37zM446.85 396h14.37v14.37h-14.37zM461.22 396h14.37v14.37h-14.37zM489.97 396h14.37v14.37h-14.37zM504.33 396h14.36v14.36h-14.36zM518.69 396h14.35v14.35h-14.35zM533.04 396h14.35v14.35h-14.35zM547.39 396h14.34v14.34h-14.34zM561.73 396h14.34v14.34h-14.34zM576.07 396h14.33v14.33h-14.33zM662.02 396h14.31v14.31h-14.31zM676.33 396h14.3v14.3h-14.3zM690.63 396h14.3v14.3h-14.3zM704.93 396h14.28v14.28h-14.28zM776.14 396h14.19v14.19h-14.19zM790.33 396h14.17v14.17h-14.17zM889.02 396h14.02v14.02h-14.02zM903.04 396h14.01v14.01h-14.01zM917.05 396h13.99v13.99h-13.99zM931.04 396h13.97v13.97h-13.97zM986.82 396h13.9v13.9h-13.9zM1000.72 396h13.88v13.88h-13.88zM388.84 410.3h13.81v13.81h-13.81zM402.65 410.3h13.77v13.77h-13.77zM416.42 410.3h13.74v13.74h-13.74zM430.15 410.3h13.7v13.7h-13.7zM471.15 410.3h13.6v13.6h-13.6zM511.9 410.3h13.56v13.56h-13.56zM620.39 410.3h13.59v13.59h-13.59zM633.98 410.3h13.58v13.58h-13.58zM647.56 410.3h13.58v13.58h-13.58zM661.14 410.3h13.57v13.57h-13.57zM688.27 410.3h13.56v13.56h-13.56zM715.38 410.3h13.54v13.54h-13.54zM728.92 410.3h13.53v13.53h-13.53zM742.45 410.3h13.51v13.51h-13.51zM755.96 410.3h13.5v13.5h-13.5zM769.46 410.3h13.49v13.49h-13.49zM782.95 410.3h13.48v13.48h-13.48zM850.19 410.3h13.41v13.41h-13.41zM863.6 410.3h13.4v13.4h-13.4zM903.75 410.3h13.36v13.36h-13.36zM917.11 410.3h13.35v13.35h-13.35zM943.8 410.3h13.32v13.32h-13.32zM957.12 410.3h13.31v13.31h-13.31zM970.43 410.3h13.3v13.3h-13.3zM983.73 410.3h13.29v13.29h-13.29zM997.02 410.3h13.28v13.28h-13.28zM375 424.2h13.47v13.47h-13.47zM388.47 424.2h13.45v13.45h-13.45zM401.92 424.2h13.43v13.43h-13.43zM428.75 424.2h13.38v13.38h-13.38zM442.13 424.2h13.36v13.36h-13.36zM482.14 424.2h13.3v13.3h-13.3zM508.73 424.2h13.28v13.28h-13.28zM522.01 424.2h13.27v13.27h-13.27zM548.55 424.2h13.26v13.26h-13.26zM601.56 424.2h13.25v13.25h-13.25zM614.81 424.2h13.24v13.24h-13.24zM628.05 424.2h13.23v13.23h-13.23zM641.28 424.2h13.23v13.23h-13.23zM654.51 424.2h13.22v13.22h-13.22zM680.94 424.2h13.2v13.2h-13.2zM694.14 424.2h13.19v13.19h-13.19zM707.33 424.2h13.18v13.18h-13.18zM720.51 424.2h13.18v13.18h-13.18zM733.69 424.2h13.17v13.17h-13.17zM760.02 424.2h13.15v13.15h-13.15zM786.31 424.2h13.14v13.14h-13.14zM799.45 424.2h13.13v13.13h-13.13zM812.58 424.2h13.12v13.12h-13.12zM825.7 424.2h13.11v13.11h-13.11zM891.2 424.2h13.08v13.08h-13.08zM904.27 424.2h13.07v13.07h-13.07zM917.34 424.2h13.06v13.06h-13.06zM930.4 424.2h13.05v13.05h-13.05zM982.56 424.2h13.02v13.02h-13.02zM995.59 424.2h13.01v13.01h-13.01zM375 437.7h13.03v13.03h-13.03zM388.03 437.7h13.03v13.03h-13.03zM401.06 437.7h13.03v13.03h-13.03zM414.09 437.7h13.03v13.03h-13.03zM440.14 437.7h13.03v13.03h-13.03zM453.17 437.7h13.03v13.03h-13.03zM466.2 437.7h13.03v13.03h-13.03zM479.23 437.7h13.03v13.03h-13.03zM492.26 437.7h13.02v13.02h-13.02zM505.28 437.7h13.01v13.01h-13.01zM518.29 437.7h13v13h-13zM570.26 437.7h12.97v12.97h-12.97zM583.24 437.7h12.96v12.96h-12.96zM596.2 437.7h12.94v12.94h-12.94zM609.14 437.7h12.93v12.93h-12.93zM634.98 437.7h12.91v12.91h-12.91zM647.9 437.7h12.9v12.9h-12.9zM660.8 437.7h12.9v12.9h-12.9zM673.7 437.7h12.89v12.89h-12.89zM686.59 437.7h12.88v12.88h-12.88zM712.34 437.7h12.87v12.87h-12.87zM738.06 437.7h12.85v12.85h-12.85zM750.92 437.7h12.85v12.85h-12.85zM763.77 437.7h12.84v12.84h-12.84zM776.61 437.7h12.84v12.84h-12.84zM789.45 437.7h12.83v12.83h-12.83zM802.28 437.7h12.82v12.82h-12.82zM827.92 437.7h12.82v12.82h-12.82zM840.74 437.7h12.81v12.81h-12.81zM853.55 437.7h12.8v12.8h-12.8zM866.35 437.7h12.8v12.8h-12.8zM879.15 437.7h12.79v12.79h-12.79zM904.73 437.7h12.78v12.78h-12.78zM917.51 437.7h12.77v12.77h-12.77zM930.28 437.7h12.77v12.77h-12.77zM943.05 437.7h12.76v12.76h-12.76zM955.81 437.7h12.76v12.76h-12.76zM981.32 437.7h12.74v12.74h-12.74zM994.06 437.7h12.74v12.74h-12.74zM400.68 450.5h12.8v12.8h-12.8zM413.48 450.5h12.77v12.77h-12.77zM426.25 450.5h12.74v12.74h-12.74zM464.4 450.5h12.66v12.66h-12.66zM477.07 450.5h12.64v12.64h-12.64zM489.7 450.5h12.63v12.63h-12.63zM502.33 450.5h12.63v12.63h-12.63zM514.96 450.5h12.62v12.62h-12.62zM552.8 450.5h12.6v12.6h-12.6zM565.41 450.5h12.6v12.6h-12.6zM578.01 450.5h12.59v12.59h-12.59zM628.54 450.5h12.63v12.63h-12.63zM641.17 450.5h12.63v12.63h-12.63zM691.66 450.5h12.61v12.61h-12.61zM704.26 450.5h12.6v12.6h-12.6zM716.86 450.5h12.59v12.59h-12.59zM742.02 450.5h12.56v12.56h-12.56zM817.2 450.5h12.47v12.47h-12.47zM829.67 450.5h12.46v12.46h-12.46zM842.13 450.5h12.44v12.44h-12.44zM867 450.5h12.42v12.42h-12.42zM879.42 450.5h12.41v12.41h-12.41zM928.97 450.5h12.36v12.36h-12.36zM941.33 450.5h12.34v12.34h-12.34zM990.63 450.5h12.29v12.29h-12.29zM1002.92 450.5h12.28v12.28h-12.28zM375 463.4h12.41v12.41h-12.41zM387.41 463.4h12.41v12.41h-12.41zM399.82 463.4h12.41v12.41h-12.41zM412.23 463.4h12.41v12.41h-12.41zM424.64 463.4h12.41v12.41h-12.41zM437.05 463.4h12.41v12.41h-12.41zM449.46 463.4h12.41v12.41h-12.41zM474.28 463.4h12.41v12.41h-12.41zM486.69 463.4h12.41v12.41h-12.41zM499.1 463.4h12.4v12.4h-12.4zM511.51 463.4h12.4v12.4h-12.4zM523.9 463.4h12.39v12.39h-12.39zM548.69 463.4h12.38v12.38h-12.38zM561.07 463.4h12.38v12.38h-12.38zM585.83 463.4h12.37v12.37h-12.37zM598.2 463.4h12.36v12.36h-12.36zM610.56 463.4h12.36v12.36h-12.36zM622.92 463.4h12.35v12.35h-12.35zM635.27 463.4h12.35v12.35h-12.35zM647.61 463.4h12.34v12.34h-12.34zM721.59 463.4h12.31v12.31h-12.31zM746.21 463.4h12.3v12.3h-12.3zM832.15 463.4h12.25v12.25h-12.25zM844.4 463.4h12.24v12.24h-12.24zM856.65 463.4h12.24v12.24h-12.24zM868.88 463.4h12.23v12.23h-12.23zM881.11 463.4h12.22v12.22h-12.22zM893.33 463.4h12.22v12.22h-12.22zM905.55 463.4h12.21v12.21h-12.21zM917.76 463.4h12.2v12.2h-12.2zM929.96 463.4h12.2v12.2h-12.2zM942.16 463.4h12.19v12.19h-12.19zM954.35 463.4h12.18v12.18h-12.18zM966.53 463.4h12.18v12.18h-12.18zM1003.04 463.4h12.16v12.16h-12.16zM375 475.7h12.21v12.21h-12.21zM387.21 475.7h12.21v12.21h-12.21zM399.41 475.7h12.2v12.2h-12.2zM411.62 475.7h12.2v12.2h-12.2zM423.81 475.7h12.2v12.2h-12.2zM436.01 475.7h12.19v12.19h-12.19zM472.58 475.7h12.18v12.18h-12.18zM484.76 475.7h12.18v12.18h-12.18zM496.94 475.7h12.17v12.17h-12.17zM509.11 475.7h12.16v12.16h-12.16zM521.27 475.7h12.16v12.16h-12.16zM545.58 475.7h12.14v12.14h-12.14zM557.72 475.7h12.13v12.13h-12.13zM569.85 475.7h12.13v12.13h-12.13zM581.98 475.7h12.12v12.12h-12.12zM606.2 475.7h12.09v12.09h-12.09zM618.3 475.7h12.09v12.09h-12.09zM666.61 475.7h12.06v12.06h-12.06zM678.67 475.7h12.05v12.05h-12.05zM690.72 475.7h12.05v12.05h-12.05zM702.76 475.7h12.04v12.04h-12.04zM714.8 475.7h12.03v12.03h-12.03zM738.86 475.7h12.02v12.02h-12.02zM750.88 475.7h12.02v12.02h-12.02zM786.91 475.7h12v12h-12zM798.91 475.7h11.99v11.99h-11.99zM834.87 475.7h11.98v11.98h-11.98zM846.85 475.7h11.97v11.97h-11.97zM894.69 475.7h11.95v11.95h-11.95zM906.64 475.7h11.94v11.94h-11.94zM918.58 475.7h11.94v11.94h-11.94zM930.52 475.7h11.93v11.93h-11.93zM954.37 475.7h11.92v11.92h-11.92zM990.11 475.7h11.9v11.9h-11.9zM1002.01 475.7h11.89v11.89h-11.89zM375 487.9h11.91v11.91h-11.91zM398.82 487.9h11.91v11.91h-11.91zM446.44 487.9h11.9v11.9h-11.9zM470.23 487.9h11.89v11.89h-11.89zM482.13 487.9h11.89v11.89h-11.89zM494.01 487.9h11.88v11.88h-11.88zM505.89 487.9h11.87v11.87h-11.87zM517.76 487.9h11.86v11.86h-11.86zM529.62 487.9h11.85v11.85h-11.85zM541.48 487.9h11.84v11.84h-11.84zM576.98 487.9h11.82v11.82h-11.82zM600.59 487.9h11.78v11.78h-11.78zM612.36 487.9h11.77v11.77h-11.77zM635.89 487.9h11.75v11.75h-11.75zM647.64 487.9h11.74v11.74h-11.74zM659.39 487.9h11.73v11.73h-11.73zM671.12 487.9h11.73v11.73h-11.73zM682.85 487.9h11.72v11.72h-11.72zM694.56 487.9h11.71v11.71h-11.71zM706.27 487.9h11.7v11.7h-11.7zM753.05 487.9h11.68v11.68h-11.68zM764.74 487.9h11.68v11.68h-11.68zM776.42 487.9h11.68v11.68h-11.68zM788.1 487.9h11.67v11.67h-11.67zM799.77 487.9h11.67v11.67h-11.67zM811.44 487.9h11.66v11.66h-11.66zM823.1 487.9h11.67v11.67h-11.67zM834.77 487.9h11.67v11.67h-11.67zM846.44 487.9h11.66v11.66h-11.66zM858.1 487.9h11.66v11.66h-11.66zM869.75 487.9h11.65v11.65h-11.65zM893.05 487.9h11.64v11.64h-11.64zM927.97 487.9h11.63v11.63h-11.63zM951.23 487.9h11.62v11.62h-11.62zM962.85 487.9h11.62v11.62h-11.62zM974.47 487.9h11.61v11.61h-11.61zM986.09 487.9h11.61v11.61h-11.61zM997.69 487.9h11.61v11.61h-11.61zM375 499.8h11.75v11.75h-11.75zM398.46 499.8h11.69v11.69h-11.69zM410.16 499.8h11.67v11.67h-11.67zM421.82 499.8h11.64v11.64h-11.64zM456.66 499.8h11.56v11.56h-11.56zM468.21 499.8h11.53v11.53h-11.53zM479.75 499.8h11.5v11.5h-11.5zM502.75 499.8h11.5v11.5h-11.5zM514.25 499.8h11.49v11.49h-11.49zM525.74 499.8h11.49v11.49h-11.49zM548.71 499.8h11.48v11.48h-11.48zM571.66 499.8h11.47v11.47h-11.47zM606.12 499.8h11.51v11.51h-11.51zM617.63 499.8h11.51v11.51h-11.51zM629.14 499.8h11.5v11.5h-11.5zM640.64 499.8h11.5v11.5h-11.5zM652.14 499.8h11.49v11.49h-11.49zM663.63 499.8h11.49v11.49h-11.49zM709.57 499.8h11.47v11.47h-11.47zM721.04 499.8h11.47v11.47h-11.47zM732.51 499.8h11.46v11.46h-11.46zM743.98 499.8h11.46v11.46h-11.46zM755.44 499.8h11.46v11.46h-11.46zM766.89 499.8h11.45v11.45h-11.45zM778.34 499.8h11.45v11.45h-11.45zM789.79 499.8h11.44v11.44h-11.44zM812.67 499.8h11.43v11.43h-11.43zM824.1 499.8h11.43v11.43h-11.43zM835.53 499.8h11.42v11.42h-11.42zM846.95 499.8h11.42v11.42h-11.42zM869.78 499.8h11.41v11.41h-11.41zM881.19 499.8h11.41v11.41h-11.41zM892.6 499.8h11.4v11.4h-11.4zM904 499.8h11.4v11.4h-11.4zM915.39 499.8h11.39v11.39h-11.39zM926.79 499.8h11.39v11.39h-11.39zM949.56 499.8h11.38v11.38h-11.38zM960.93 499.8h11.37v11.37h-11.37zM386.41 511.6h11.4v11.4h-11.4zM397.81 511.6h11.4v11.4h-11.4zM409.21 511.6h11.4v11.4h-11.4zM420.61 511.6h11.39v11.39h-11.39zM432 511.6h11.39v11.39h-11.39zM443.39 511.6h11.39v11.39h-11.39zM466.15 511.6h11.38v11.38h-11.38zM477.53 511.6h11.37v11.37h-11.37zM488.91 511.6h11.37v11.37h-11.37zM500.28 511.6h11.36v11.36h-11.36zM511.64 511.6h11.36v11.36h-11.36zM523 511.6h11.35v11.35h-11.35zM545.69 511.6h11.34v11.34h-11.34zM591 511.6h11.3v11.3h-11.3zM613.58 511.6h11.28v11.28h-11.28zM624.87 511.6h11.28v11.28h-11.28zM636.14 511.6h11.27v11.27h-11.27zM647.41 511.6h11.26v11.26h-11.26zM658.68 511.6h11.26v11.26h-11.26zM669.93 511.6h11.25v11.25h-11.25zM681.19 511.6h11.25v11.25h-11.25zM692.43 511.6h11.24v11.24h-11.24zM703.67 511.6h11.23v11.23h-11.23zM714.9 511.6h11.23v11.23h-11.23zM726.13 511.6h11.23v11.23h-11.23zM759.81 511.6h11.22v11.22h-11.22zM782.25 511.6h11.22v11.22h-11.22zM793.47 511.6h11.21v11.21h-11.21zM804.68 511.6h11.21v11.21h-11.21zM815.89 511.6h11.21v11.21h-11.21zM827.1 511.6h11.22v11.22h-11.22zM838.32 511.6h11.22v11.22h-11.22zM849.53 511.6h11.21v11.21h-11.21zM871.96 511.6h11.21v11.21h-11.21zM883.16 511.6h11.21v11.21h-11.21zM905.57 511.6h11.2v11.2h-11.2zM916.77 511.6h11.2v11.2h-11.2zM927.97 511.6h11.2v11.2h-11.2zM939.17 511.6h11.19v11.19h-11.19zM950.36 511.6h11.19v11.19h-11.19zM961.56 511.6h11.19v11.19h-11.19zM972.75 511.6h11.19v11.19h-11.19zM983.93 511.6h11.18v11.18h-11.18zM995.12 511.6h11.18v11.18h-11.18zM430.55 523h11.11v11.11h-11.11zM441.66 523h11.11v11.11h-11.11zM452.77 523h11.11v11.11h-11.11zM486.1 523h11.11v11.11h-11.11zM497.21 523h11.1v11.1h-11.1zM508.31 523h11.09v11.09h-11.09zM530.49 523h11.08v11.08h-11.08zM541.58 523h11.08v11.08h-11.08zM552.65 523h11.07v11.07h-11.07zM585.85 523h11.05v11.05h-11.05zM596.9 523h11.02v11.02h-11.02zM618.94 523h11.01v11.01h-11.01zM629.96 523h11.01v11.01h-11.01zM640.96 523h11v11h-11zM662.96 523h10.99v10.99h-10.99zM673.95 523h10.98v10.98h-10.98zM684.93 523h10.98v10.98h-10.98zM695.91 523h10.97v10.97h-10.97zM706.88 523h10.97v10.97h-10.97zM717.84 523h10.96v10.96h-10.96zM728.81 523h10.96v10.96h-10.96zM739.77 523h10.96v10.96h-10.96zM761.68 523h10.95v10.95h-10.95zM772.63 523h10.95v10.95h-10.95zM783.58 523h10.94v10.94h-10.94zM805.46 523h10.94v10.94h-10.94zM871.08 523h10.93v10.93h-10.93zM882.01 523h10.92v10.92h-10.92zM892.93 523h10.92v10.92h-10.92zM903.86 523h10.92v10.92h-10.92zM914.77 523h10.92v10.92h-10.92zM936.6 523h10.91v10.91h-10.91zM969.32 523h10.9v10.9h-10.9zM980.22 523h10.9v10.9h-10.9zM991.12 523h10.89v10.89h-10.89zM1002.01 523h10.89v10.89h-10.89zM396.81 533.9h10.9v10.9h-10.9zM407.71 533.9h10.9v10.9h-10.9zM418.62 533.9h10.9v10.9h-10.9zM429.52 533.9h10.9v10.9h-10.9zM451.33 533.9h10.9v10.9h-10.9zM462.24 533.9h10.9v10.9h-10.9zM473.14 533.9h10.9v10.9h-10.9zM484.04 533.9h10.9v10.9h-10.9zM527.62 533.9h10.88v10.88h-10.88zM538.49 533.9h10.87v10.87h-10.87zM571.1 533.9h10.86v10.86h-10.86zM581.95 533.9h10.85v10.85h-10.85zM592.8 533.9h10.83v10.83h-10.83zM603.63 533.9h10.82v10.82h-10.82zM614.45 533.9h10.81v10.81h-10.81zM625.26 533.9h10.81v10.81h-10.81zM646.87 533.9h10.8v10.8h-10.8zM668.46 533.9h10.79v10.79h-10.79zM679.25 533.9h10.78v10.78h-10.78zM690.03 533.9h10.77v10.77h-10.77zM700.8 533.9h10.77v10.77h-10.77zM711.57 533.9h10.76v10.76h-10.76zM722.33 533.9h10.76v10.76h-10.76zM733.09 533.9h10.75v10.75h-10.75zM743.84 533.9h10.75v10.75h-10.75zM754.59 533.9h10.75v10.75h-10.75zM765.34 533.9h10.74v10.74h-10.74zM776.08 533.9h10.74v10.74h-10.74zM819 533.9h10.72v10.72h-10.72zM829.72 533.9h10.72v10.72h-10.72zM851.15 533.9h10.71v10.71h-10.71zM861.86 533.9h10.7v10.7h-10.7zM872.56 533.9h10.7v10.7h-10.7zM883.26 533.9h10.69v10.69h-10.69zM893.96 533.9h10.69v10.69h-10.69zM904.65 533.9h10.69v10.69h-10.69zM915.33 533.9h10.68v10.68h-10.68zM936.69 533.9h10.67v10.67h-10.67zM947.36 533.9h10.67v10.67h-10.67zM958.03 533.9h10.66v10.66h-10.66zM968.69 533.9h10.66v10.66h-10.66zM1000.66 533.9h10.64v10.64h-10.64zM375 544.7h10.78v10.78h-10.78zM385.78 544.7h10.77v10.77h-10.77zM396.55 544.7h10.75v10.75h-10.75zM418.04 544.7h10.72v10.72h-10.72zM439.47 544.7h10.69v10.69h-10.69zM460.84 544.7h10.66v10.66h-10.66zM471.5 544.7h10.65v10.65h-10.65zM482.15 544.7h10.63v10.63h-10.63zM492.78 544.7h10.63v10.63h-10.63zM503.41 544.7h10.62v10.62h-10.62zM514.03 544.7h10.61v10.61h-10.61zM524.64 544.7h10.6v10.6h-10.6zM535.24 544.7h10.6v10.6h-10.6zM545.84 544.7h10.59v10.59h-10.59zM567.01 544.7h10.57v10.57h-10.57zM577.58 544.7h10.56v10.56h-10.56zM619.82 544.7h10.55v10.55h-10.55zM640.91 544.7h10.53v10.53h-10.53zM651.44 544.7h10.53v10.53h-10.53zM661.97 544.7h10.52v10.52h-10.52zM735.43 544.7h10.47v10.47h-10.47zM766.82 544.7h10.45v10.45h-10.45zM829.42 544.7h10.41v10.41h-10.41zM839.83 544.7h10.41v10.41h-10.41zM850.24 544.7h10.4v10.4h-10.4zM871.04 544.7h10.39v10.39h-10.39zM881.43 544.7h10.38v10.38h-10.38zM891.81 544.7h10.38v10.38h-10.38zM902.19 544.7h10.37v10.37h-10.37zM912.56 544.7h10.36v10.36h-10.36zM922.92 544.7h10.36v10.36h-10.36zM933.28 544.7h10.35v10.35h-10.35zM943.63 544.7h10.34v10.34h-10.34zM953.97 544.7h10.34v10.34h-10.34zM964.31 544.7h10.33v10.33h-10.33zM974.64 544.7h10.33v10.33h-10.33zM984.97 544.7h10.32v10.32h-10.32zM995.29 544.7h10.31v10.31h-10.31zM375 555.5h10.65v10.65h-10.65zM385.65 555.5h10.63v10.63h-10.63zM406.88 555.5h10.58v10.58h-10.58zM417.45 555.5h10.56v10.56h-10.56zM428.01 555.5h10.53v10.53h-10.53zM470 555.5h10.44v10.44h-10.44zM480.44 555.5h10.42v10.42h-10.42zM501.27 555.5h10.41v10.41h-10.41zM511.68 555.5h10.4v10.4h-10.4zM522.08 555.5h10.4v10.4h-10.4zM532.48 555.5h10.4v10.4h-10.4zM553.27 555.5h10.39v10.39h-10.39zM563.66 555.5h10.38v10.38h-10.38zM574.04 555.5h10.38v10.38h-10.38zM594.8 555.5h10.42v10.42h-10.42zM605.22 555.5h10.41v10.41h-10.41zM615.63 555.5h10.41v10.41h-10.41zM626.04 555.5h10.4v10.4h-10.4zM636.44 555.5h10.4v10.4h-10.4zM646.84 555.5h10.4v10.4h-10.4zM657.24 555.5h10.39v10.39h-10.39zM667.63 555.5h10.39v10.39h-10.39zM678.02 555.5h10.38v10.38h-10.38zM688.41 555.5h10.38v10.38h-10.38zM698.79 555.5h10.38v10.38h-10.38zM709.17 555.5h10.38v10.38h-10.38zM719.54 555.5h10.38v10.38h-10.38zM729.92 555.5h10.37v10.37h-10.37zM740.29 555.5h10.37v10.37h-10.37zM750.66 555.5h10.37v10.37h-10.37zM761.03 555.5h10.37v10.37h-10.37zM771.4 555.5h10.37v10.37h-10.37zM781.77 555.5h10.37v10.37h-10.37zM802.5 555.5h10.37v10.37h-10.37zM812.87 555.5h10.37v10.37h-10.37zM823.24 555.5h10.37v10.37h-10.37zM833.6 555.5h10.36v10.36h-10.36zM843.97 555.5h10.36v10.36h-10.36zM854.33 555.5h10.36v10.36h-10.36zM864.69 555.5h10.36v10.36h-10.36zM875.05 555.5h10.36v10.36h-10.36zM885.41 555.5h10.36v10.36h-10.36zM895.77 555.5h10.36v10.36h-10.36zM916.48 555.5h10.35v10.35h-10.35zM926.83 555.5h10.35v10.35h-10.35zM937.18 555.5h10.35v10.35h-10.35zM947.53 555.5h10.35v10.35h-10.35zM968.23 555.5h10.35v10.35h-10.35zM385.31 566.2h10.3v10.3h-10.3zM426.51 566.2h10.3v10.3h-10.3zM436.8 566.2h10.29v10.29h-10.29zM447.1 566.2h10.29v10.29h-10.29zM457.39 566.2h10.29v10.29h-10.29zM467.68 566.2h10.29v10.29h-10.29zM477.97 566.2h10.29v10.29h-10.29zM488.25 566.2h10.28v10.28h-10.28zM498.53 566.2h10.28v10.28h-10.28zM508.81 566.2h10.27v10.27h-10.27zM519.09 566.2h10.27v10.27h-10.27zM549.89 566.2h10.26v10.26h-10.26zM560.15 566.2h10.26v10.26h-10.26zM580.65 566.2h10.25v10.25h-10.25zM601.14 566.2h10.24v10.24h-10.24zM611.38 566.2h10.23v10.23h-10.23zM621.61 566.2h10.23v10.23h-10.23zM631.85 566.2h10.23v10.23h-10.23zM642.07 566.2h10.22v10.22h-10.22zM652.29 566.2h10.22v10.22h-10.22zM662.51 566.2h10.21v10.21h-10.21zM672.73 566.2h10.21v10.21h-10.21zM682.94 566.2h10.21v10.21h-10.21zM713.55 566.2h10.19v10.19h-10.19zM723.74 566.2h10.19v10.19h-10.19zM733.93 566.2h10.18v10.18h-10.18zM754.3 566.2h10.17v10.17h-10.17zM764.47 566.2h10.17v10.17h-10.17zM774.64 566.2h10.16v10.16h-10.16zM784.8 566.2h10.16v10.16h-10.16zM805.11 566.2h10.15v10.15h-10.15zM815.26 566.2h10.14v10.14h-10.14zM845.66 566.2h10.12v10.12h-10.12zM865.9 566.2h10.11v10.11h-10.11zM896.22 566.2h10.1v10.1h-10.1zM916.41 566.2h10.09v10.09h-10.09zM926.5 566.2h10.08v10.08h-10.08zM936.58 566.2h10.08v10.08h-10.08zM956.72 566.2h10.07v10.07h-10.07zM966.79 566.2h10.06v10.06h-10.06zM976.85 566.2h10.06v10.06h-10.06zM986.91 566.2h10.05v10.05h-10.05zM996.96 566.2h10.04v10.04h-10.04zM375 576.5h10.11v10.11h-10.11zM385.11 576.5h10.1v10.1h-10.1zM395.21 576.5h10.1v10.1h-10.1zM405.31 576.5h10.1v10.1h-10.1zM415.42 576.5h10.1v10.1h-10.1zM425.52 576.5h10.1v10.1h-10.1zM435.62 576.5h10.1v10.1h-10.1zM455.81 576.5h10.1v10.1h-10.1zM506.27 576.5h10.08v10.08h-10.08zM516.36 576.5h10.08v10.08h-10.08zM556.66 576.5h10.07v10.07h-10.07zM566.72 576.5h10.06v10.06h-10.06zM606.94 576.5h10.04v10.04h-10.04zM616.98 576.5h10.03v10.03h-10.03zM627.01 576.5h10.03v10.03h-10.03zM637.04 576.5h10.03v10.03h-10.03zM657.09 576.5h10.02v10.02h-10.02zM677.13 576.5h10.01v10.01h-10.01zM687.14 576.5h10.01v10.01h-10.01zM707.16 576.5h10v10h-10zM717.16 576.5h10v10h-10zM747.16 576.5h10v10h-10zM757.16 576.5h9.99v9.99h-9.99zM767.15 576.5h9.99v9.99h-9.99zM797.13 576.5h9.99v9.99h-9.99zM807.11 576.5h9.99v9.99h-9.99zM817.1 576.5h9.99v9.99h-9.99zM827.09 576.5h9.99v9.99h-9.99zM837.08 576.5h9.99v9.99h-9.99zM847.06 576.5h9.98v9.98h-9.98zM857.05 576.5h9.98v9.98h-9.98zM867.03 576.5h9.98v9.98h-9.98zM896.97 576.5h9.98v9.98h-9.98zM906.94 576.5h9.97v9.97h-9.97zM916.91 576.5h9.97v9.97h-9.97zM926.89 576.5h9.97v9.97h-9.97zM936.86 576.5h9.97v9.97h-9.97zM986.68 576.5h9.96v9.96h-9.96zM996.64 576.5h9.96v9.96h-9.96zM375 586.6h10.01v10.01h-10.01zM385.01 586.6h10v10h-10zM395.01 586.6h10v10h-10zM405.01 586.6h10v10h-10zM415.01 586.6h9.99v9.99h-9.99zM425 586.6h9.99v9.99h-9.99zM434.99 586.6h9.99v9.99h-9.99zM444.98 586.6h9.99v9.99h-9.99zM454.97 586.6h9.98v9.98h-9.98zM464.95 586.6h9.98v9.98h-9.98zM474.93 586.6h9.98v9.98h-9.98zM484.9 586.6h9.97v9.97h-9.97zM494.88 586.6h9.97v9.97h-9.97zM504.84 586.6h9.96v9.96h-9.96zM514.8 586.6h9.96v9.96h-9.96zM534.71 586.6h9.95v9.95h-9.95zM544.65 586.6h9.94v9.94h-9.94zM554.59 586.6h9.93v9.93h-9.93zM584.38 586.6h9.92v9.92h-9.92zM594.3 586.6h9.91v9.91h-9.91zM614.1 586.6h9.89v9.89h-9.89zM624 586.6h9.89v9.89h-9.89zM643.77 586.6h9.88v9.88h-9.88zM653.65 586.6h9.87v9.87h-9.87zM663.52 586.6h9.87v9.87h-9.87zM683.25 586.6h9.86v9.86h-9.86zM693.11 586.6h9.85v9.85h-9.85zM702.96 586.6h9.85v9.85h-9.85zM722.65 586.6h9.84v9.84h-9.84zM732.49 586.6h9.83v9.83h-9.83zM742.32 586.6h9.83v9.83h-9.83zM752.14 586.6h9.82v9.82h-9.82zM761.97 586.6h9.82v9.82h-9.82zM771.78 586.6h9.81v9.81h-9.81zM801.21 586.6h9.8v9.8h-9.8zM811.01 586.6h9.79v9.79h-9.79zM820.8 586.6h9.79v9.79h-9.79zM840.38 586.6h9.78v9.78h-9.78zM850.16 586.6h9.78v9.78h-9.78zM859.93 586.6h9.77v9.77h-9.77zM879.47 586.6h9.76v9.76h-9.76zM889.23 586.6h9.76v9.76h-9.76zM898.99 586.6h9.75v9.75h-9.75zM908.74 586.6h9.75v9.75h-9.75zM928.23 586.6h9.74v9.74h-9.74zM937.97 586.6h9.73v9.73h-9.73zM947.7 586.6h9.73v9.73h-9.73zM957.43 586.6h9.72v9.72h-9.72zM967.15 586.6h9.72v9.72h-9.72zM976.87 586.6h9.71v9.71h-9.71zM986.59 586.6h9.71v9.71h-9.71zM996.3 586.6h9.7v9.7h-9.7zM375 596.6h9.87v9.87h-9.87zM384.87 596.6h9.86v9.86h-9.86zM394.73 596.6h9.85v9.85h-9.85zM414.42 596.6h9.82v9.82h-9.82zM424.24 596.6h9.81v9.81h-9.81zM443.85 596.6h9.79v9.79h-9.79zM453.64 596.6h9.77v9.77h-9.77zM463.41 596.6h9.76v9.76h-9.76zM473.17 596.6h9.75v9.75h-9.75zM482.92 596.6h9.73v9.73h-9.73zM502.38 596.6h9.73v9.73h-9.73zM521.84 596.6h9.72v9.72h-9.72zM541.27 596.6h9.71v9.71h-9.71zM550.99 596.6h9.71v9.71h-9.71zM560.7 596.6h9.71v9.71h-9.71zM599.5 596.6h9.71v9.71h-9.71zM618.92 596.6h9.71v9.71h-9.71zM638.33 596.6h9.7v9.7h-9.7zM657.72 596.6h9.69v9.69h-9.69zM667.41 596.6h9.69v9.69h-9.69zM677.1 596.6h9.68v9.68h-9.68zM686.78 596.6h9.68v9.68h-9.68zM696.46 596.6h9.68v9.68h-9.68zM706.14 596.6h9.67v9.67h-9.67zM725.48 596.6h9.67v9.67h-9.67zM735.15 596.6h9.67v9.67h-9.67zM744.82 596.6h9.67v9.67h-9.67zM754.49 596.6h9.66v9.66h-9.66zM764.15 596.6h9.66v9.66h-9.66zM773.81 596.6h9.66v9.66h-9.66zM793.13 596.6h9.66v9.66h-9.66zM802.79 596.6h9.66v9.66h-9.66zM812.45 596.6h9.65v9.65h-9.65zM822.1 596.6h9.66v9.66h-9.66zM831.76 596.6h9.66v9.66h-9.66zM841.41 596.6h9.65v9.65h-9.65zM851.07 596.6h9.65v9.65h-9.65zM860.72 596.6h9.65v9.65h-9.65zM870.37 596.6h9.65v9.65h-9.65zM899.31 596.6h9.64v9.64h-9.64zM937.87 596.6h9.64v9.64h-9.64zM957.13 596.6h9.63v9.63h-9.63zM976.4 596.6h9.63v9.63h-9.63zM986.03 596.6h9.63v9.63h-9.63zM995.65 596.6h9.62v9.62h-9.62zM1005.28 596.6h9.62v9.62h-9.62zM375 606.5h9.63v9.63h-9.63zM384.63 606.5h9.63v9.63h-9.63zM394.25 606.5h9.63v9.63h-9.63zM403.88 606.5h9.63v9.63h-9.63zM413.51 606.5h9.63v9.63h-9.63zM423.13 606.5h9.63v9.63h-9.63zM432.76 606.5h9.63v9.63h-9.63zM452.01 606.5h9.63v9.63h-9.63zM461.64 606.5h9.63v9.63h-9.63zM471.27 606.5h9.63v9.63h-9.63zM480.89 606.5h9.63v9.63h-9.63zM490.52 606.5h9.62v9.62h-9.62zM500.14 606.5h9.61v9.61h-9.61zM509.75 606.5h9.61v9.61h-9.61zM528.96 606.5h9.6v9.6h-9.6zM538.56 606.5h9.59v9.59h-9.59zM557.73 606.5h9.58v9.58h-9.58zM567.31 606.5h9.57v9.57h-9.57zM586.44 606.5h9.56v9.56h-9.56zM605.53 606.5h9.52v9.52h-9.52zM615.05 606.5h9.52v9.52h-9.52zM624.57 606.5h9.51v9.51h-9.51zM634.08 606.5h9.5v9.5h-9.5zM653.08 606.5h9.49v9.49h-9.49zM662.57 606.5h9.49v9.49h-9.49zM672.06 606.5h9.48v9.48h-9.48zM681.54 606.5h9.47v9.47h-9.47zM700.48 606.5h9.46v9.46h-9.46zM719.4 606.5h9.45v9.45h-9.45zM728.85 606.5h9.45v9.45h-9.45zM738.29 606.5h9.44v9.44h-9.44zM747.74 606.5h9.44v9.44h-9.44zM757.17 606.5h9.43v9.43h-9.43zM766.6 606.5h9.43v9.43h-9.43zM776.03 606.5h9.42v9.42h-9.42zM794.87 606.5h9.41v9.41h-9.41zM804.29 606.5h9.41v9.41h-9.41zM813.7 606.5h9.4v9.4h-9.4zM823.1 606.5h9.4v9.4h-9.4zM832.5 606.5h9.4v9.4h-9.4zM841.9 606.5h9.39v9.39h-9.39zM860.69 606.5h9.39v9.39h-9.39zM879.46 606.5h9.38v9.38h-9.38zM888.83 606.5h9.37v9.37h-9.37zM898.2 606.5h9.37v9.37h-9.37zM907.57 606.5h9.36v9.36h-9.36zM916.93 606.5h9.36v9.36h-9.36zM926.29 606.5h9.35v9.35h-9.35zM935.64 606.5h9.35v9.35h-9.35zM944.99 606.5h9.34v9.34h-9.34zM954.34 606.5h9.34v9.34h-9.34zM963.67 606.5h9.33v9.33h-9.33zM973.01 606.5h9.33v9.33h-9.33zM982.34 606.5h9.33v9.33h-9.33zM375 616h9.47v9.47h-9.47zM384.47 616h9.46v9.46h-9.46zM393.93 616h9.44v9.44h-9.44zM403.37 616h9.43v9.43h-9.43zM431.61 616h9.38v9.38h-9.38zM441 616h9.37v9.37h-9.37zM450.37 616h9.36v9.36h-9.36zM459.72 616h9.34v9.34h-9.34zM469.06 616h9.33v9.33h-9.33zM487.7 616h9.3v9.3h-9.3zM506.3 616h9.29v9.29h-9.29zM524.88 616h9.28v9.28h-9.28zM561.98 616h9.26v9.26h-9.26zM571.24 616h9.26v9.26h-9.26zM589.75 616h9.25v9.25h-9.25zM599 616h9.26v9.26h-9.26zM608.26 616h9.26v9.26h-9.26zM626.77 616h9.25v9.25h-9.25zM636.02 616h9.24v9.24h-9.24zM645.26 616h9.24v9.24h-9.24zM654.49 616h9.23v9.23h-9.23zM663.72 616h9.23v9.23h-9.23zM672.95 616h9.22v9.22h-9.22zM691.39 616h9.21v9.21h-9.21zM700.6 616h9.21v9.21h-9.21zM719.01 616h9.2v9.2h-9.2zM728.21 616h9.2v9.2h-9.2zM737.41 616h9.2v9.2h-9.2zM755.8 616h9.19v9.19h-9.19zM764.99 616h9.19v9.19h-9.19zM774.18 616h9.19v9.19h-9.19zM820.1 616h9.19v9.19h-9.19zM829.29 616h9.19v9.19h-9.19zM838.47 616h9.18v9.18h-9.18zM847.65 616h9.18v9.18h-9.18zM866.01 616h9.18v9.18h-9.18zM875.19 616h9.17v9.17h-9.17zM884.37 616h9.17v9.17h-9.17zM902.71 616h9.17v9.17h-9.17zM911.88 616h9.17v9.17h-9.17zM921.05 616h9.16v9.16h-9.16zM957.69 616h9.16v9.16h-9.16zM966.85 616h9.15v9.15h-9.15zM976 616h9.15v9.15h-9.15zM994.31 616h9.15v9.15h-9.15zM384.11 625.5h9.11v9.11h-9.11zM393.22 625.5h9.1v9.1h-9.1zM402.32 625.5h9.1v9.1h-9.1zM411.42 625.5h9.1v9.1h-9.1zM420.52 625.5h9.09v9.09h-9.09zM429.61 625.5h9.09v9.09h-9.09zM438.71 625.5h9.09v9.09h-9.09zM447.79 625.5h9.09v9.09h-9.09zM456.88 625.5h9.08v9.08h-9.08zM475.04 625.5h9.08v9.08h-9.08zM493.2 625.5h9.07v9.07h-9.07zM502.26 625.5h9.06v9.06h-9.06zM511.32 625.5h9.05v9.05h-9.05zM520.38 625.5h9.05v9.05h-9.05zM547.51 625.5h9.03v9.03h-9.03zM556.54 625.5h9.02v9.02h-9.02zM565.56 625.5h9.02v9.02h-9.02zM574.58 625.5h9.01v9.01h-9.01zM592.6 625.5h8.98v8.98h-8.98zM610.55 625.5h8.97v8.97h-8.97zM619.52 625.5h8.96v8.96h-8.96zM628.48 625.5h8.96v8.96h-8.96zM646.39 625.5h8.94v8.94h-8.94zM655.33 625.5h8.94v8.94h-8.94zM664.27 625.5h8.93v8.93h-8.93zM682.13 625.5h8.92v8.92h-8.92zM691.05 625.5h8.91v8.91h-8.91zM735.57 625.5h8.9v8.9h-8.9zM744.46 625.5h8.89v8.89h-8.89zM753.36 625.5h8.89v8.89h-8.89zM762.25 625.5h8.89v8.89h-8.89zM771.13 625.5h8.88v8.88h-8.88zM797.78 625.5h8.88v8.88h-8.88zM806.66 625.5h8.87v8.87h-8.87zM815.53 625.5h8.87v8.87h-8.87zM824.4 625.5h8.88v8.88h-8.88zM833.28 625.5h8.88v8.88h-8.88zM842.16 625.5h8.87v8.87h-8.87zM851.03 625.5h8.87v8.87h-8.87zM868.77 625.5h8.87v8.87h-8.87zM877.63 625.5h8.86v8.86h-8.86zM886.5 625.5h8.86v8.86h-8.86zM895.36 625.5h8.86v8.86h-8.86zM904.22 625.5h8.86v8.86h-8.86zM913.07 625.5h8.85v8.85h-8.85zM921.92 625.5h8.85v8.85h-8.85zM948.46 625.5h8.84v8.84h-8.84zM983.82 625.5h8.83v8.83h-8.83zM992.65 625.5h8.83v8.83h-8.83zM375 634.6h8.76v8.76h-8.76zM383.76 634.6h8.76v8.76h-8.76zM410.05 634.6h8.76v8.76h-8.76zM418.82 634.6h8.76v8.76h-8.76zM427.58 634.6h8.76v8.76h-8.76zM436.34 634.6h8.76v8.76h-8.76zM453.87 634.6h8.76v8.76h-8.76zM471.39 634.6h8.76v8.76h-8.76zM480.16 634.6h8.76v8.76h-8.76zM488.92 634.6h8.76v8.76h-8.76zM506.43 634.6h8.74v8.74h-8.74zM532.64 634.6h8.73v8.73h-8.73zM541.37 634.6h8.72v8.72h-8.72zM550.09 634.6h8.71v8.71h-8.71zM558.8 634.6h8.71v8.71h-8.71zM584.91 634.6h8.69v8.69h-8.69zM593.6 634.6h8.65v8.65h-8.65zM602.25 634.6h8.65v8.65h-8.65zM610.9 634.6h8.64v8.64h-8.64zM628.18 634.6h8.63v8.63h-8.63zM679.87 634.6h8.59v8.59h-8.59zM688.46 634.6h8.59v8.59h-8.59zM731.35 634.6h8.57v8.57h-8.57zM739.91 634.6h8.56v8.56h-8.56zM757.04 634.6h8.56v8.56h-8.56zM765.59 634.6h8.55v8.55h-8.55zM774.14 634.6h8.55v8.55h-8.55zM782.7 634.6h8.55v8.55h-8.55zM791.24 634.6h8.54v8.54h-8.54zM808.33 634.6h8.54v8.54h-8.54zM842.48 634.6h8.54v8.54h-8.54zM868.08 634.6h8.53v8.53h-8.53zM893.65 634.6h8.52v8.52h-8.52zM902.16 634.6h8.51v8.51h-8.51zM927.7 634.6h8.5v8.5h-8.5zM936.2 634.6h8.5v8.5h-8.5zM944.7 634.6h8.5v8.5h-8.5zM953.2 634.6h8.5v8.5h-8.5zM961.69 634.6h8.49v8.49h-8.49zM970.19 634.6h8.49v8.49h-8.49zM1004.12 634.6h8.48v8.48h-8.48zM383.43 643h8.43v8.43h-8.43zM391.85 643h8.43v8.43h-8.43zM400.28 643h8.43v8.43h-8.43zM408.71 643h8.43v8.43h-8.43zM417.14 643h8.43v8.43h-8.43zM425.56 643h8.43v8.43h-8.43zM450.84 643h8.42v8.42h-8.42zM459.27 643h8.42v8.42h-8.42zM467.69 643h8.42v8.42h-8.42zM484.51 643h8.41v8.41h-8.41zM492.92 643h8.4v8.4h-8.4zM501.32 643h8.4v8.4h-8.4zM518.11 643h8.39v8.39h-8.39zM526.5 643h8.37v8.37h-8.37zM534.87 643h8.37v8.37h-8.37zM543.24 643h8.36v8.36h-8.36zM551.6 643h8.36v8.36h-8.36zM559.95 643h8.35v8.35h-8.35zM568.3 643h8.35v8.35h-8.35zM576.65 643h8.34v8.34h-8.34zM584.99 643h8.34v8.34h-8.34zM593.33 643h8.33v8.33h-8.33zM601.66 643h8.33v8.33h-8.33zM609.99 643h8.33v8.33h-8.33zM634.96 643h8.32v8.32h-8.32zM643.27 643h8.31v8.31h-8.31zM651.59 643h8.31v8.31h-8.31zM659.89 643h8.31v8.31h-8.31zM668.2 643h8.3v8.3h-8.3zM684.8 643h8.3v8.3h-8.3zM693.1 643h8.3v8.3h-8.3zM734.54 643h8.28v8.28h-8.28zM759.37 643h8.27v8.27h-8.27zM767.64 643h8.27v8.27h-8.27zM775.91 643h8.26v8.26h-8.26zM808.93 643h8.25v8.25h-8.25zM817.18 643h8.24v8.24h-8.24zM825.42 643h8.24v8.24h-8.24zM924.05 643h8.2v8.2h-8.2zM989.51 643h8.17v8.17h-8.17zM997.68 643h8.16v8.16h-8.16zM1005.84 643h8.16v8.16h-8.16zM375 651.3h8.24v8.24h-8.24zM383.24 651.3h8.21v8.21h-8.21zM391.45 651.3h8.19v8.19h-8.19zM399.64 651.3h8.16v8.16h-8.16zM407.8 651.3h8.13v8.13h-8.13zM424.03 651.3h8.08v8.08h-8.08zM464.16 651.3h7.99v7.99h-7.99zM512.06 651.3h7.97v7.97h-7.97zM536.03 651.3h8.03v8.03h-8.03zM544.06 651.3h8.02v8.02h-8.02zM552.08 651.3h8.02v8.02h-8.02zM576.14 651.3h8.01v8.01h-8.01zM600.18 651.3h8.01v8.01h-8.01zM616.18 651.3h8v8h-8zM624.18 651.3h7.99v7.99h-7.99zM648.13 651.3h7.97v7.97h-7.97zM687.96 651.3h7.95v7.95h-7.95zM695.91 651.3h7.95v7.95h-7.95zM719.74 651.3h7.93v7.93h-7.93zM727.68 651.3h7.93v7.93h-7.93zM743.53 651.3h7.92v7.92h-7.92zM751.44 651.3h7.91v7.91h-7.91zM783.04 651.3h7.88v7.88h-7.88zM790.92 651.3h7.87v7.87h-7.87zM830.18 651.3h7.82v7.82h-7.82zM838 651.3h7.8v7.8h-7.8zM876.93 651.3h7.76v7.76h-7.76zM892.44 651.3h7.74v7.74h-7.74zM900.18 651.3h7.73v7.73h-7.73zM954.11 651.3h7.67v7.67h-7.67zM961.78 651.3h7.66v7.66h-7.66zM390.52 659.6h7.73v7.73h-7.73zM398.26 659.6h7.72v7.72h-7.72zM405.98 659.6h7.7v7.7h-7.7zM429.02 659.6h7.64v7.64h-7.64zM436.66 659.6h7.62v7.62h-7.62zM451.89 659.6h7.59v7.59h-7.59zM467.07 659.6h7.58v7.58h-7.58zM482.22 659.6h7.56v7.56h-7.56zM497.34 659.6h7.55v7.55h-7.55zM542.6 659.6h7.54v7.54h-7.54zM550.15 659.6h7.53v7.53h-7.53zM602.73 659.6h7.48v7.48h-7.48zM610.21 659.6h7.47v7.47h-7.47zM640.05 659.6h7.43v7.43h-7.43zM647.48 659.6h7.42v7.42h-7.42zM654.9 659.6h7.41v7.41h-7.41zM662.32 659.6h7.4v7.4h-7.4zM669.72 659.6h7.39v7.39h-7.39zM699.22 659.6h7.35v7.35h-7.35zM706.57 659.6h7.34v7.34h-7.34zM713.9 659.6h7.33v7.33h-7.33zM721.23 659.6h7.32v7.32h-7.32zM735.85 659.6h7.3v7.3h-7.3zM743.15 659.6h7.29v7.29h-7.29zM750.44 659.6h7.28v7.28h-7.28zM786.72 659.6h7.23v7.23h-7.23zM793.95 659.6h7.22v7.22h-7.22zM801.17 659.6h7.21v7.21h-7.21zM808.38 659.6h7.2v7.2h-7.2zM815.59 659.6h7.19v7.19h-7.19zM822.78 659.6h7.18v7.18h-7.18zM844.3 659.6h7.16v7.16h-7.16zM851.46 659.6h7.15v7.15h-7.15zM858.6 659.6h7.14v7.14h-7.14zM865.74 659.6h7.13v7.13h-7.13zM872.87 659.6h7.12v7.12h-7.12zM879.99 659.6h7.11v7.11h-7.11zM887.1 659.6h7.1v7.1h-7.1zM894.2 659.6h7.09v7.09h-7.09zM936.61 659.6h7.04v7.04h-7.04zM957.69 659.6h7.01v7.01h-7.01zM971.7 659.6h6.99v6.99h-6.99zM978.69 659.6h6.98v6.98h-6.98zM985.67 659.6h6.97v6.97h-6.97zM992.64 659.6h6.96v6.96h-6.96zM375 667.4h6.62v6.62h-6.62zM401.48 667.4h6.62v6.62h-6.62zM408.1 667.4h6.62v6.62h-6.62zM414.72 667.4h6.62v6.62h-6.62zM421.34 667.4h6.62v6.62h-6.62zM434.57 667.4h6.62v6.62h-6.62zM441.19 667.4h6.62v6.62h-6.62zM447.81 667.4h6.62v6.62h-6.62zM454.43 667.4h6.61v6.61h-6.61zM461.05 667.4h6.61v6.61h-6.61zM467.65 667.4h6.6v6.6h-6.6zM474.25 667.4h6.59v6.59h-6.59zM480.84 667.4h6.59v6.59h-6.59zM494.01 667.4h6.57v6.57h-6.57zM526.8 667.4h6.52v6.52h-6.52zM533.32 667.4h6.51v6.51h-6.51zM539.84 667.4h6.51v6.51h-6.51zM546.34 667.4h6.5v6.5h-6.5zM552.84 667.4h6.49v6.49h-6.49zM559.34 667.4h6.49v6.49h-6.49zM572.31 667.4h6.47v6.47h-6.47zM611.05 667.4h6.43v6.43h-6.43zM617.48 667.4h6.43v6.43h-6.43zM630.33 667.4h6.41v6.41h-6.41zM636.74 667.4h6.4v6.4h-6.4zM655.92 667.4h6.38v6.38h-6.38zM662.3 667.4h6.37v6.37h-6.37zM668.68 667.4h6.37v6.37h-6.37zM675.04 667.4h6.36v6.36h-6.36zM694.1 667.4h6.34v6.34h-6.34zM700.44 667.4h6.33v6.33h-6.33zM706.77 667.4h6.32v6.32h-6.32zM713.09 667.4h6.32v6.32h-6.32zM719.41 667.4h6.31v6.31h-6.31zM738.31 667.4h6.29v6.29h-6.29zM769.66 667.4h6.25v6.25h-6.25zM775.91 667.4h6.24v6.24h-6.24zM782.15 667.4h6.23v6.23h-6.23zM813.21 667.4h6.19v6.19h-6.19zM819.39 667.4h6.18v6.18h-6.18zM844.05 667.4h6.14v6.14h-6.14zM850.19 667.4h6.13v6.13h-6.13zM874.66 667.4h6.1v6.1h-6.1zM880.76 667.4h6.09v6.09h-6.09zM911.11 667.4h6.04v6.04h-6.04zM917.15 667.4h6.04v6.04h-6.04zM953.24 667.4h5.98v5.98h-5.98zM959.23 667.4h5.98v5.98h-5.98zM375 673.8h5.84v5.84h-5.84zM380.84 673.8h5.84v5.84h-5.84zM386.68 673.8h5.84v5.84h-5.84zM410.03 673.8h5.84v5.84h-5.84zM415.86 673.8h5.84v5.84h-5.84zM456.72 673.8h5.83v5.83h-5.83zM462.55 673.8h5.82v5.82h-5.82zM468.37 673.8h5.82v5.82h-5.82zM474.19 673.8h5.81v5.81h-5.81zM480 673.8h5.81v5.81h-5.81zM485.81 673.8h5.8v5.8h-5.8zM491.61 673.8h5.8v5.8h-5.8zM497.41 673.8h5.79v5.79h-5.79zM503.2 673.8h5.78v5.78h-5.78zM532.01 673.8h5.71v5.71h-5.71zM537.72 673.8h5.7v5.7h-5.7zM543.43 673.8h5.7v5.7h-5.7zM571.86 673.8h5.67v5.67h-5.67zM577.53 673.8h5.66v5.66h-5.66zM583.19 673.8h5.66v5.66h-5.66zM588.85 673.8h5.65v5.65h-5.65zM600.15 673.8h5.64v5.64h-5.64zM605.79 673.8h5.64v5.64h-5.64zM611.43 673.8h5.64v5.64h-5.64zM617.08 673.8h5.65v5.65h-5.65zM622.72 673.8h5.65v5.65h-5.65zM628.37 673.8h5.65v5.65h-5.65zM650.99 673.8h5.66v5.66h-5.66zM656.65 673.8h5.66v5.66h-5.66zM662.32 673.8h5.67v5.67h-5.67zM667.98 673.8h5.67v5.67h-5.67zM719.63 673.8h5.78v5.78h-5.78zM725.42 673.8h5.78v5.78h-5.78zM731.2 673.8h5.79v5.79h-5.79zM754.36 673.8h5.8v5.8h-5.8zM794.74 673.8h5.71v5.71h-5.71zM800.45 673.8h5.7v5.7h-5.7zM806.15 673.8h5.68v5.68h-5.68zM811.83 673.8h5.67v5.67h-5.67zM817.49 673.8h5.65v5.65h-5.65zM823.14 673.8h5.63v5.63h-5.63zM828.78 673.8h5.62v5.62h-5.62zM834.4 673.8h5.6v5.6h-5.6zM840 673.8h5.53v5.53h-5.53zM845.53 673.8h5.52v5.52h-5.52zM851.05 673.8h5.5v5.5h-5.5zM862.04 673.8h5.47v5.47h-5.47zM867.51 673.8h5.46v5.46h-5.46zM872.97 673.8h5.44v5.44h-5.44zM905.4 673.8h5.35v5.35h-5.35zM910.76 673.8h5.34v5.34h-5.34zM932.02 673.8h5.28v5.28h-5.28zM937.3 673.8h5.26v5.26h-5.26zM968.66 673.8h5.17v5.17h-5.17zM994.39 673.8h5.1v5.1h-5.1zM999.49 673.8h5.09v5.09h-5.09zM380.5 679.5h5.49v5.49h-5.49zM385.99 679.5h5.49v5.49h-5.49zM396.97 679.5h5.48v5.48h-5.48zM402.44 679.5h5.47v5.47h-5.47zM407.92 679.5h5.47v5.47h-5.47zM413.38 679.5h5.46v5.46h-5.46zM418.84 679.5h5.45v5.45h-5.45zM424.3 679.5h5.45v5.45h-5.45zM429.75 679.5h5.44v5.44h-5.44zM451.49 679.5h5.42v5.42h-5.42zM456.91 679.5h5.42v5.42h-5.42zM467.73 679.5h5.4v5.4h-5.4zM473.14 679.5h5.4v5.4h-5.4zM478.54 679.5h5.39v5.39h-5.39zM489.32 679.5h5.38v5.38h-5.38zM494.7 679.5h5.38v5.38h-5.38zM516.17 679.5h5.35v5.35h-5.35zM521.52 679.5h5.35v5.35h-5.35zM526.87 679.5h5.34v5.34h-5.34zM532.21 679.5h5.34v5.34h-5.34zM537.55 679.5h5.33v5.33h-5.33zM548.2 679.5h5.32v5.32h-5.32zM558.84 679.5h5.31v5.31h-5.31zM564.15 679.5h5.3v5.3h-5.3zM574.74 679.5h5.29v5.29h-5.29zM585.32 679.5h5.28v5.28h-5.28zM590.6 679.5h5.27v5.27h-5.27zM616.92 679.5h5.25v5.25h-5.25zM632.64 679.5h5.23v5.23h-5.23zM669.13 679.5h5.19v5.19h-5.19zM695.02 679.5h5.16v5.16h-5.16zM700.18 679.5h5.16v5.16h-5.16zM720.77 679.5h5.13v5.13h-5.13zM725.91 679.5h5.13v5.13h-5.13zM792.13 679.5h5.05v5.05h-5.05zM802.23 679.5h5.04v5.04h-5.04zM807.27 679.5h5.04v5.04h-5.04zM812.31 679.5h5.03v5.03h-5.03zM817.34 679.5h5.03v5.03h-5.03zM822.37 679.5h5.02v5.02h-5.02zM832.41 679.5h5.01v5.01h-5.01zM837.42 679.5h5v5h-5zM842.42 679.5h5v5h-5zM867.35 679.5h4.97v4.97h-4.97zM872.32 679.5h4.96v4.96h-4.96zM887.2 679.5h4.95v4.95h-4.95zM892.15 679.5h4.94v4.94h-4.94zM906.96 679.5h4.92v4.92h-4.92zM921.71 679.5h4.91v4.91h-4.91zM926.62 679.5h4.9v4.9h-4.9zM931.52 679.5h4.9v4.9h-4.9zM936.42 679.5h4.89v4.89h-4.89zM941.31 679.5h4.89v4.89h-4.89zM946.2 679.5h4.88v4.88h-4.88zM951.08 679.5h4.87v4.87h-4.87zM955.95 679.5h4.87v4.87h-4.87zM960.82 679.5h4.86v4.86h-4.86zM989.91 679.5h4.83v4.83h-4.83zM994.74 679.5h4.82v4.82h-4.82zM999.56 679.5h4.82v4.82h-4.82zM379.5 685h4.5v4.5h-4.5zM384 685h4.49v4.49h-4.49zM410.89 685h4.47v4.47h-4.47zM415.36 685h4.46v4.46h-4.46zM424.28 685h4.46v4.46h-4.46zM437.64 685h4.45v4.45h-4.45zM459.83 685h4.43v4.43h-4.43zM464.25 685h4.42v4.42h-4.42zM477.51 685h4.41v4.41h-4.41zM481.92 685h4.41v4.41h-4.41zM486.32 685h4.4v4.4h-4.4zM499.52 685h4.39v4.39h-4.39zM517.06 685h4.37v4.37h-4.37zM521.43 685h4.37v4.37h-4.37zM530.17 685h4.36v4.36h-4.36zM556.28 685h4.34v4.34h-4.34zM560.62 685h4.34v4.34h-4.34zM625.24 685h4.28v4.28h-4.28zM629.52 685h4.27v4.27h-4.27zM633.79 685h4.27v4.27h-4.27zM650.84 685h4.25v4.25h-4.25zM655.09 685h4.25v4.25h-4.25zM672.07 685h4.23v4.23h-4.23zM676.3 685h4.23v4.23h-4.23zM680.53 685h4.23v4.23h-4.23zM726.8 685h4.18v4.18h-4.18zM730.98 685h4.18v4.18h-4.18zM735.16 685h4.17v4.17h-4.17zM739.33 685h4.17v4.17h-4.17zM743.5 685h4.17v4.17h-4.17zM747.67 685h4.16v4.16h-4.16zM768.44 685h4.14v4.14h-4.14zM772.59 685h4.14v4.14h-4.14zM813.8 685h4.1v4.1h-4.1zM817.9 685h4.1v4.1h-4.1zM822 685h4.09v4.09h-4.09zM830.18 685h4.08v4.08h-4.08zM834.26 685h4.08v4.08h-4.08zM842.42 685h4.07v4.07h-4.07zM846.49 685h4.07v4.07h-4.07zM866.8 685h4.05v4.05h-4.05zM870.85 685h4.05v4.05h-4.05zM874.89 685h4.04v4.04h-4.04zM878.93 685h4.04v4.04h-4.04zM882.97 685h4.03v4.03h-4.03zM887 685h4.03v4.03h-4.03zM899.08 685h4.02v4.02h-4.02zM903.1 685h4.01v4.01h-4.01zM907.11 685h4.01v4.01h-4.01zM915.13 685h4v4h-4zM919.13 685h4v4h-4zM923.13 685h3.99v3.99h-3.99zM927.12 685h3.99v3.99h-3.99zM931.11 685h3.99v3.99h-3.99zM935.1 685h3.98v3.98h-3.98zM939.08 685h3.98v3.98h-3.98zM943.06 685h3.97v3.97h-3.97zM966.85 685h3.95v3.95h-3.95zM970.8 685h3.95v3.95h-3.95zM442.47 689.5h3.69v3.69h-3.69zM446.16 689.5h3.68v3.68h-3.68zM449.84 689.5h3.68v3.68h-3.68zM479.1 689.5h3.63v3.63h-3.63zM482.73 689.5h3.62v3.62h-3.62zM486.36 689.5h3.62v3.62h-3.62zM511.55 689.5h3.58v3.58h-3.58zM522.26 689.5h3.56v3.56h-3.56zM525.81 689.5h3.55v3.55h-3.55zM529.36 689.5h3.54v3.54h-3.54zM539.98 689.5h3.53v3.53h-3.53zM543.51 689.5h3.52v3.52h-3.52zM547.03 689.5h3.51v3.51h-3.51zM602.52 689.5h3.42v3.42h-3.42zM673 689.5h3.29v3.29h-3.29zM676.29 689.5h3.28v3.28h-3.28zM974.51 689.5h2.68v2.68h-2.68zM977.19 689.5h2.67v2.67h-2.67zM979.86 689.5h2.66v2.66h-2.66zM982.52 689.5h2.66v2.66h-2.66zM985.18 689.5h2.65v2.65h-2.65zM1008.45 68.6h6.51v6.51h-6.51zM1008.45 75.11h6.51v6.51h-6.51zM1008.45 81.63h6.51v6.51h-6.51zM1008.45 88.14h6.51v6.51h-6.51zM1006.72 152.38h2.92v2.92h-2.92zM1005.5 171.76h9.36v9.36h-9.36zM998.3 205.81h6.14v6.14h-6.14zM1008 220.15h6.95v6.95h-6.95zM1010.3 235.4h4.73v4.73h-4.73zM1010.3 244.86h4.73v4.73h-4.73zM1006.5 256.8h8.4v8.4h-8.4zM998.8 277h15.83v15.83h-15.83zM1006.9 296.3h8.01v8.01h-8.01zM1005 332.4h9.84v9.84h-9.84zM1005 342.24h6.18v6.18h-6.18zM1008.52 376.02h4.07v4.07h-4.07zM1001.5 381.3h13.22v13.22h-13.22zM1010.3 410.3h4.73v4.73h-4.73zM1008.6 424.2h6.37v6.37h-6.37zM1008.6 430.57h6.37v6.37h-6.37zM1006.8 437.7h8.11v8.11h-8.11zM1009.3 487.9h5.69v5.69h-5.69zM1006.4 499.8h8.49v8.49h-8.49zM1006.4 508.29h2.77v2.77h-2.77zM1011.3 541.43h3.01v3.01h-3.01zM1005.6 544.7h9.26v9.26h-9.26zM1007 566.2h7.91v7.91h-7.91zM1006.6 576.5h8.3v8.3h-8.3zM1006 586.6h8.88v8.88h-8.88zM1010.3 606.5h4.73v4.73h-4.73zM1010.3 611.23h4.43v4.43h-4.43zM1010.3 625.5h4.73v4.73h-4.73zM495 114.6h13.95v13.95h-13.95zM508.95 114.6h13.94v13.94h-13.94zM522.89 114.6h13.94v13.94h-13.94zM564.68 114.6h13.92v13.92h-13.92zM578.6 114.6h13.91v13.91h-13.91zM592.5 114.6h13.9v13.9h-13.9zM620.3 114.6h13.89v13.89h-13.89zM634.19 114.6h13.88v13.88h-13.88zM648.07 114.6h13.87v13.87h-13.87zM661.94 114.6h13.87v13.87h-13.87zM675.81 114.6h13.86v13.86h-13.86zM703.52 114.6h13.85v13.85h-13.85zM814.09 114.6h13.79v13.79h-13.79zM841.67 114.6h13.78v13.78h-13.78zM869.21 114.6h13.76v13.76h-13.76zM924.22 114.6h13.73v13.73h-13.73zM937.96 114.6h13.73v13.73h-13.73zM965.4 114.6h13.71v13.71h-13.71zM979.12 114.6h13.71v13.71h-13.71zM992.82 114.6h13.7v13.7h-13.7zM1006.52 114.6h8.37v8.37h-8.37zM541 107.2h6.95v6.95h-6.95zM547.95 107.2h6.94v6.94h-6.94zM554.89 107.2h6.94v6.94h-6.94zM561.83 107.2h6.93v6.93h-6.93zM568.77 107.2h6.93v6.93h-6.93zM575.7 107.2h6.92v6.92h-6.92zM589.54 107.2h6.91v6.91h-6.91zM596.46 107.2h6.91v6.91h-6.91zM603.37 107.2h6.9v6.9h-6.9zM610.27 107.2h6.9v6.9h-6.9zM617.17 107.2h6.89v6.89h-6.89zM624.07 107.2h6.89v6.89h-6.89zM630.95 107.2h6.88v6.88h-6.88zM644.72 107.2h6.87v6.87h-6.87zM651.59 107.2h6.87v6.87h-6.87zM672.18 107.2h6.85v6.85h-6.85zM692.73 107.2h6.84v6.84h-6.84zM699.57 107.2h6.83v6.83h-6.83zM706.4 107.2h6.83v6.83h-6.83zM713.23 107.2h6.82v6.82h-6.82zM754.09 107.2h6.79v6.79h-6.79zM767.67 107.2h6.78v6.78h-6.78zM774.45 107.2h6.78v6.78h-6.78zM781.23 107.2h6.77v6.77h-6.77zM801.53 107.2h6.76v6.76h-6.76zM808.29 107.2h6.75v6.75h-6.75zM815.04 107.2h6.75v6.75h-6.75zM821.79 107.2h6.74v6.74h-6.74zM828.53 107.2h6.74v6.74h-6.74zM835.27 107.2h6.73v6.73h-6.73zM842 107.2h6.73v6.73h-6.73zM855.45 107.2h6.72v6.72h-6.72zM862.17 107.2h6.71v6.71h-6.71zM868.88 107.2h6.71v6.71h-6.71zM888.98 107.2h6.69v6.69h-6.69zM895.67 107.2h6.69v6.69h-6.69zM902.36 107.2h6.68v6.68h-6.68zM915.72 107.2h6.67v6.67h-6.67zM922.39 107.2h6.67v6.67h-6.67zM929.05 107.2h6.66v6.66h-6.66zM935.72 107.2h6.66v6.66h-6.66zM942.37 107.2h6.65v6.65h-6.65zM949.02 107.2h6.65v6.65h-6.65zM955.67 107.2h6.64v6.64h-6.64zM962.31 107.2h6.64v6.64h-6.64zM968.94 107.2h6.63v6.63h-6.63zM975.57 107.2h6.63v6.63h-6.63zM982.2 107.2h6.62v6.62h-6.62zM988.82 107.2h6.62v6.62h-6.62zM1002.04 107.2h6.61v6.61h-6.61z"/>
<path fill="#ffec62" d="M541 68.6h38.6v38.6h-38.6zM656 68.6h37v37h-37zM675.2 128.5h31v31h-31zM402.1 162.4h27.05v27.05h-27.05zM429.15 162.4h27.05v27.05h-27.05zM537.2 162.4h26.55v26.55h-26.55zM717.4 162.4h24.6v24.6h-24.6zM840 162.4h24.1v24.1h-24.1zM422.23 189.5h23.52v23.52h-23.52zM515.94 189.5h23.27v23.27h-23.27zM793.12 189.5h22.93v22.93h-22.93zM816.05 189.5h22.89v22.89h-22.89zM861.8 189.5h22.83v22.83h-22.83zM884.63 189.5h22.8v22.8h-22.8zM397.24 213.2h22.23v22.23h-22.23zM684.53 213.2h21.87v21.87h-21.87zM706.4 213.2h21.79v21.79h-21.79zM793.33 213.2h21.64v21.64h-21.64zM814.97 213.2h21.6v21.6h-21.6zM986.7 213.2h21.3v21.3h-21.3zM459.17 235.4h20.84v20.84h-20.84zM583.14 235.4h20.5v20.5h-20.5zM415.35 256.8h20.13v20.13h-20.13zM714.1 256.8h19.69v19.69h-19.69zM733.79 256.8h19.66v19.66h-19.66zM753.46 256.8h19.64v19.64h-19.64zM831.83 256.8h19.52v19.52h-19.52zM987.21 256.8h19.29v19.29h-19.29zM471.36 277h19.21v19.21h-19.21zM813.02 277h18.7v18.7h-18.7zM906.27 277h18.56v18.56h-18.56zM466.19 296.3h18.24v18.24h-18.24zM502.67 296.3h18.24v18.24h-18.24zM882.2 296.3h17.87v17.87h-17.87zM953.56 296.3h17.8v17.8h-17.8zM392.92 314.4h17.86v17.86h-17.86zM428.58 314.4h17.75v17.75h-17.75zM569.03 314.4h17.37v17.37h-17.37zM793.59 314.4h17.17v17.17h-17.17zM810.77 314.4h17.15v17.15h-17.15zM593.23 332.4h16.71v16.71h-16.71zM659.95 332.4h16.63v16.63h-16.63zM742.89 332.4h16.52v16.52h-16.52zM759.4 332.4h16.5v16.5h-16.5zM520.08 349.2h15.96v15.96h-15.96zM821.54 349.2h15.79v15.79h-15.79zM868.87 349.2h15.76v15.76h-15.76zM916.11 349.2h15.72v15.72h-15.72zM485.14 365.5h15.64v15.64h-15.64zM686.75 365.5h15.35v15.35h-15.35zM732.73 365.5h15.28v15.28h-15.28zM914.6 365.5h15.01v15.01h-15.01zM581.15 381.3h14.69v14.69h-14.69zM669.09 381.3h14.61v14.61h-14.61zM698.3 381.3h14.56v14.56h-14.56zM712.86 381.3h14.55v14.55h-14.55zM828.89 381.3h14.45v14.45h-14.45zM872.2 381.3h14.41v14.41h-14.41zM915.41 381.3h14.38v14.38h-14.38zM432.48 396h14.37v14.37h-14.37zM475.6 396h14.37v14.37h-14.37zM733.47 396h14.24v14.24h-14.24zM832.74 396h14.1v14.1h-14.1zM846.84 396h14.08v14.08h-14.08zM443.86 410.3h13.67v13.67h-13.67zM566.12 410.3h13.54v13.54h-13.54zM674.71 410.3h13.56v13.56h-13.56zM809.9 410.3h13.44v13.44h-13.44zM930.46 410.3h13.34v13.34h-13.34zM415.35 424.2h13.4v13.4h-13.4zM455.49 424.2h13.34v13.34h-13.34zM667.73 424.2h13.21v13.21h-13.21zM956.5 424.2h13.04v13.04h-13.04zM622.06 437.7h12.92v12.92h-12.92zM815.1 437.7h12.82v12.82h-12.82zM891.94 437.7h12.79v12.79h-12.79zM615.9 450.5h12.64v12.64h-12.64zM666.42 450.5h12.62v12.62h-12.62zM729.45 450.5h12.57v12.57h-12.57zM754.58 450.5h12.55v12.55h-12.55zM804.7 450.5h12.5v12.5h-12.5zM854.57 450.5h12.43v12.43h-12.43zM891.83 450.5h12.39v12.39h-12.39zM904.22 450.5h12.38v12.38h-12.38zM916.6 450.5h12.37v12.37h-12.37zM461.87 463.4h12.41v12.41h-12.41zM536.3 463.4h12.39v12.39h-12.39zM733.9 463.4h12.3v12.3h-12.3zM770.8 463.4h12.29v12.29h-12.29zM807.63 463.4h12.27v12.27h-12.27zM978.71 463.4h12.17v12.17h-12.17zM990.88 463.4h12.16v12.16h-12.16zM630.38 475.7h12.08v12.08h-12.08zM642.47 475.7h12.07v12.07h-12.07zM654.54 475.7h12.07v12.07h-12.07zM762.9 475.7h12.01v12.01h-12.01zM774.91 475.7h12v12h-12zM858.82 475.7h11.96v11.96h-11.96zM942.45 475.7h11.92v11.92h-11.92zM978.2 475.7h11.91v11.91h-11.91zM386.91 487.9h11.91v11.91h-11.91zM410.73 487.9h11.91v11.91h-11.91zM458.34 487.9h11.9v11.9h-11.9zM565.15 487.9h11.83v11.83h-11.83zM588.8 487.9h11.79v11.79h-11.79zM729.67 487.9h11.69v11.69h-11.69zM904.7 487.9h11.64v11.64h-11.64zM916.34 487.9h11.64v11.64h-11.64zM939.6 487.9h11.63v11.63h-11.63zM386.75 499.8h11.72v11.72h-11.72zM433.46 499.8h11.61v11.61h-11.61zM491.25 499.8h11.5v11.5h-11.5zM560.19 499.8h11.47v11.47h-11.47zM675.12 499.8h11.49v11.49h-11.49zM801.23 499.8h11.44v11.44h-11.44zM858.37 499.8h11.41v11.41h-11.41zM938.17 499.8h11.38v11.38h-11.38zM972.31 499.8h11.37v11.37h-11.37zM454.77 511.6h11.38v11.38h-11.38zM534.34 511.6h11.34v11.34h-11.34zM557.03 511.6h11.33v11.33h-11.33zM568.36 511.6h11.32v11.32h-11.32zM579.68 511.6h11.32v11.32h-11.32zM602.3 511.6h11.29v11.29h-11.29zM771.03 511.6h11.22v11.22h-11.22zM860.75 511.6h11.21v11.21h-11.21zM894.37 511.6h11.2v11.2h-11.2zM375 523h11.11v11.11h-11.11zM386.11 523h11.11v11.11h-11.11zM419.44 523h11.11v11.11h-11.11zM519.4 523h11.09v11.09h-11.09zM574.79 523h11.06v11.06h-11.06zM607.92 523h11.02v11.02h-11.02zM651.96 523h10.99v10.99h-10.99zM750.72 523h10.95v10.95h-10.95zM794.52 523h10.94v10.94h-10.94zM816.4 523h10.94v10.94h-10.94zM925.69 523h10.91v10.91h-10.91zM440.43 533.9h10.9v10.9h-10.9zM494.95 533.9h10.9v10.9h-10.9zM516.73 533.9h10.88v10.88h-10.88zM636.07 533.9h10.8v10.8h-10.8zM657.67 533.9h10.79v10.79h-10.79zM786.82 533.9h10.73v10.73h-10.73zM840.44 533.9h10.71v10.71h-10.71zM926.01 533.9h10.68v10.68h-10.68zM407.3 544.7h10.74v10.74h-10.74zM428.76 544.7h10.71v10.71h-10.71zM450.16 544.7h10.68v10.68h-10.68zM556.43 544.7h10.58v10.58h-10.58zM588.14 544.7h10.56v10.56h-10.56zM630.37 544.7h10.54v10.54h-10.54zM672.49 544.7h10.51v10.51h-10.51zM714.48 544.7h10.48v10.48h-10.48zM724.96 544.7h10.47v10.47h-10.47zM777.27 544.7h10.44v10.44h-10.44zM819 544.7h10.42v10.42h-10.42zM860.64 544.7h10.4v10.4h-10.4zM396.27 555.5h10.6v10.6h-10.6zM490.86 555.5h10.41v10.41h-10.41zM542.88 555.5h10.39v10.39h-10.39zM584.42 555.5h10.38v10.38h-10.38zM792.14 555.5h10.36v10.36h-10.36zM906.12 555.5h10.35v10.35h-10.35zM957.88 555.5h10.35v10.35h-10.35zM978.57 555.5h10.34v10.34h-10.34zM999.26 555.5h10.34v10.34h-10.34zM375 566.2h10.31v10.31h-10.31zM395.61 566.2h10.3v10.3h-10.3zM416.21 566.2h10.3v10.3h-10.3zM570.4 566.2h10.25v10.25h-10.25zM693.15 566.2h10.2v10.2h-10.2zM794.96 566.2h10.15v10.15h-10.15zM825.4 566.2h10.13v10.13h-10.13zM855.78 566.2h10.12v10.12h-10.12zM886.12 566.2h10.1v10.1h-10.1zM946.65 566.2h10.07v10.07h-10.07zM445.72 576.5h10.1v10.1h-10.1zM526.44 576.5h10.08v10.08h-10.08zM536.51 576.5h10.07v10.07h-10.07zM546.59 576.5h10.07v10.07h-10.07zM586.84 576.5h10.06v10.06h-10.06zM596.9 576.5h10.04v10.04h-10.04zM647.07 576.5h10.02v10.02h-10.02zM667.11 576.5h10.02v10.02h-10.02zM697.15 576.5h10.01v10.01h-10.01zM727.16 576.5h10v10h-10zM737.16 576.5h10v10h-10zM777.15 576.5h9.99v9.99h-9.99zM787.14 576.5h9.99v9.99h-9.99zM877.01 576.5h9.98v9.98h-9.98zM886.99 576.5h9.98v9.98h-9.98zM966.76 576.5h9.96v9.96h-9.96zM524.76 586.6h9.95v9.95h-9.95zM564.53 586.6h9.93v9.93h-9.93zM574.46 586.6h9.92v9.92h-9.92zM604.21 586.6h9.9v9.9h-9.9zM633.89 586.6h9.88v9.88h-9.88zM673.39 586.6h9.86v9.86h-9.86zM712.81 586.6h9.84v9.84h-9.84zM781.6 586.6h9.81v9.81h-9.81zM791.4 586.6h9.8v9.8h-9.8zM830.59 586.6h9.79v9.79h-9.79zM869.7 586.6h9.77v9.77h-9.77zM918.49 586.6h9.74v9.74h-9.74zM404.58 596.6h9.84v9.84h-9.84zM434.05 596.6h9.8v9.8h-9.8zM492.65 596.6h9.73v9.73h-9.73zM512.11 596.6h9.72v9.72h-9.72zM531.56 596.6h9.72v9.72h-9.72zM580.11 596.6h9.7v9.7h-9.7zM589.8 596.6h9.7v9.7h-9.7zM609.21 596.6h9.71v9.71h-9.71zM628.63 596.6h9.7v9.7h-9.7zM715.81 596.6h9.67v9.67h-9.67zM783.48 596.6h9.66v9.66h-9.66zM908.95 596.6h9.64v9.64h-9.64zM918.59 596.6h9.64v9.64h-9.64zM947.5 596.6h9.63v9.63h-9.63zM442.39 606.5h9.63v9.63h-9.63zM548.15 606.5h9.58v9.58h-9.58zM576.88 606.5h9.56v9.56h-9.56zM596 606.5h9.53v9.53h-9.53zM643.58 606.5h9.5v9.5h-9.5zM709.94 606.5h9.46v9.46h-9.46zM851.3 606.5h9.39v9.39h-9.39zM870.07 606.5h9.38v9.38h-9.38zM412.8 616h9.41v9.41h-9.41zM422.21 616h9.4v9.4h-9.4zM478.39 616h9.31v9.31h-9.31zM515.59 616h9.29v9.29h-9.29zM534.16 616h9.28v9.28h-9.28zM543.44 616h9.27v9.27h-9.27zM552.71 616h9.27v9.27h-9.27zM746.6 616h9.19v9.19h-9.19zM801.74 616h9.18v9.18h-9.18zM930.21 616h9.16v9.16h-9.16zM939.37 616h9.16v9.16h-9.16zM948.53 616h9.16v9.16h-9.16zM985.15 616h9.15v9.15h-9.15zM465.96 625.5h9.08v9.08h-9.08zM583.59 625.5h9.01v9.01h-9.01zM637.44 625.5h8.95v8.95h-8.95zM673.2 625.5h8.93v8.93h-8.93zM699.96 625.5h8.91v8.91h-8.91zM708.87 625.5h8.9v8.9h-8.9zM717.77 625.5h8.9v8.9h-8.9zM780.02 625.5h8.88v8.88h-8.88zM788.9 625.5h8.88v8.88h-8.88zM957.31 625.5h8.84v8.84h-8.84zM1001.47 625.5h8.83v8.83h-8.83zM392.53 634.6h8.76v8.76h-8.76zM401.29 634.6h8.76v8.76h-8.76zM445.1 634.6h8.76v8.76h-8.76zM462.63 634.6h8.76v8.76h-8.76zM497.68 634.6h8.75v8.75h-8.75zM515.17 634.6h8.74v8.74h-8.74zM567.51 634.6h8.7v8.7h-8.7zM576.21 634.6h8.7v8.7h-8.7zM619.54 634.6h8.64v8.64h-8.64zM654.05 634.6h8.61v8.61h-8.61zM662.66 634.6h8.61v8.61h-8.61zM671.27 634.6h8.6v8.6h-8.6zM799.79 634.6h8.54v8.54h-8.54zM833.94 634.6h8.54v8.54h-8.54zM851.02 634.6h8.53v8.53h-8.53zM859.55 634.6h8.53v8.53h-8.53zM910.68 634.6h8.51v8.51h-8.51zM919.19 634.6h8.51v8.51h-8.51zM978.68 634.6h8.49v8.49h-8.49zM987.16 634.6h8.48v8.48h-8.48zM995.64 634.6h8.48v8.48h-8.48zM375 643h8.43v8.43h-8.43zM433.99 643h8.43v8.43h-8.43zM442.42 643h8.43v8.43h-8.43zM476.1 643h8.41v8.41h-8.41zM509.72 643h8.39v8.39h-8.39zM618.32 643h8.32v8.32h-8.32zM626.64 643h8.32v8.32h-8.32zM676.5 643h8.3v8.3h-8.3zM709.69 643h8.29v8.29h-8.29zM717.98 643h8.29v8.29h-8.29zM726.26 643h8.28v8.28h-8.28zM742.82 643h8.28v8.28h-8.28zM751.1 643h8.27v8.27h-8.27zM800.68 643h8.25v8.25h-8.25zM833.66 643h8.24v8.24h-8.24zM841.9 643h8.23v8.23h-8.23zM850.13 643h8.23v8.23h-8.23zM858.36 643h8.22v8.22h-8.22zM866.58 643h8.22v8.22h-8.22zM874.81 643h8.22v8.22h-8.22zM883.02 643h8.21v8.21h-8.21zM932.25 643h8.19v8.19h-8.19zM948.63 643h8.18v8.18h-8.18zM964.99 643h8.18v8.18h-8.18zM415.93 651.3h8.1v8.1h-8.1zM440.16 651.3h8.02v8.02h-8.02zM456.17 651.3h7.99v7.99h-7.99zM472.15 651.3h7.99v7.99h-7.99zM480.14 651.3h7.98v7.98h-7.98zM488.12 651.3h7.98v7.98h-7.98zM496.1 651.3h7.98v7.98h-7.98zM528 651.3h8.03v8.03h-8.03zM560.11 651.3h8.02v8.02h-8.02zM656.11 651.3h7.97v7.97h-7.97zM814.5 651.3h7.84v7.84h-7.84zM822.34 651.3h7.83v7.83h-7.83zM845.8 651.3h7.8v7.8h-7.8zM853.6 651.3h7.79v7.79h-7.79zM915.63 651.3h7.71v7.71h-7.71zM923.35 651.3h7.7v7.7h-7.7zM938.75 651.3h7.69v7.69h-7.69zM992.36 651.3h7.62v7.62h-7.62zM375 659.6h7.77v7.77h-7.77zM382.77 659.6h7.75v7.75h-7.75zM421.35 659.6h7.66v7.66h-7.66zM459.48 659.6h7.59v7.59h-7.59zM489.79 659.6h7.56v7.56h-7.56zM504.89 659.6h7.54v7.54h-7.54zM557.68 659.6h7.53v7.53h-7.53zM587.74 659.6h7.5v7.5h-7.5zM595.24 659.6h7.49v7.49h-7.49zM800.81 667.4h6.2v6.2h-6.2zM807.01 667.4h6.19v6.19h-6.19zM514.76 673.8h5.77v5.77h-5.77zM889.25 673.8h5.4v5.4h-5.4zM894.65 673.8h5.38v5.38h-5.38zM705.34 679.5h5.15v5.15h-5.15zM766.77 679.5h5.08v5.08h-5.08zM771.85 679.5h5.08v5.08h-5.08zM428.74 685h4.45v4.45h-4.45zM433.19 685h4.45v4.45h-4.45zM503.91 685h4.39v4.39h-4.39zM508.29 685h4.38v4.38h-4.38zM603.8 685h4.3v4.3h-4.3zM667.83 685h4.24v4.24h-4.24zM435.07 689.5h3.7v3.7h-3.7zM712.07 689.5h3.22v3.22h-3.22zM790.66 689.5h3.06v3.06h-3.06zM944.68 689.5h2.74v2.74h-2.74zM454.74 693.3h2.61v2.61h-2.61zM547.01 693.3h2.51v2.51h-2.51zM635.54 693.3h2.41v2.41h-2.41zM1005.5 162.4h9.36v9.36h-9.36zM1003.78 292.83h2.36v2.36h-2.36zM1006.9 304.31h8.01v8.01h-8.01zM1012.6 378.53h1.51v1.51h-1.51zM606.41 114.6h13.89v13.89h-13.89zM800.3 114.6h13.8v13.8h-13.8zM855.44 114.6h13.77v13.77h-13.77zM910.48 114.6h13.74v13.74h-13.74zM679.04 107.2h6.85v6.85h-6.85z"/>
<path fill="#68a6ff" d="M616.1 162.4h25.35v25.35h-25.35zM666.8 162.4h25.3v25.3h-25.3zM791 162.4h24.5v24.5h-24.5zM492.6 189.5h23.33v23.33h-23.33zM836.57 213.2h21.56v21.56h-21.56zM521.45 235.4h20.6v20.6h-20.6zM970.01 235.4h20.15v20.15h-20.15zM870.84 256.8h19.46v19.46h-19.46zM490.57 277h19.19v19.19h-19.19zM548.07 277h19.12v19.12h-19.12zM850.41 277h18.65v18.65h-18.65zM557.38 296.3h18.21v18.21h-18.21zM774.65 296.3h17.97v17.97h-17.97zM603.75 314.4h17.33v17.33h-17.33zM655.67 314.4h17.26v17.26h-17.26zM964.38 314.4h16.96v16.96h-16.96zM576.51 332.4h16.72v16.72h-16.72zM469.47 365.5h15.67v15.67h-15.67zM532 365.5h15.58v15.58h-15.58zM808.9 365.5h15.17v15.17h-15.17zM719.21 396h14.26v14.26h-14.26zM375 410.3h13.84v13.84h-13.84zM468.83 424.2h13.31v13.31h-13.31zM946.83 576.5h9.97v9.97h-9.97zM956.79 576.5h9.97v9.97h-9.97zM648.03 596.6h9.69v9.69h-9.69zM930.77 625.5h8.85v8.85h-8.85zM448.18 651.3h7.99v7.99h-7.99zM413.67 659.6h7.68v7.68h-7.68zM474.65 659.6h7.57v7.57h-7.57zM1006.52 122.97h5.14v5.14h-5.14z"/>
<path fill="none" stroke="#000" stroke-opacity=".5" stroke-width=".7" d="M375 68.6h60v60h-60zM435 68.6h60v60h-60zM495 68.6h46v46h-46zM541 68.6h38.6v38.6h-38.6zM579.6 68.6h38.3v38.3h-38.3zM617.9 68.6h38.1v38.1h-38.1zM656 68.6h37v37h-37zM693 68.6h36.65v36.65h-36.65zM729.65 68.6h36.25v36.25h-36.25zM765.9 68.6h35.95v35.95h-35.95zM801.85 68.6h35.3v35.3h-35.3zM837.15 68.6h35.2v35.2h-35.2zM872.35 68.6h34.45v34.45h-34.45zM906.8 68.6h34v34h-34zM940.8 68.6h33.9v33.9h-33.9zM974.7 68.6h33.75v33.75h-33.75zM375 128.5h33.9v33.9h-33.9zM408.9 128.5h33.8v33.8h-33.8zM442.7 128.5h33.7v33.7h-33.7zM476.4 128.5h33.7v33.7h-33.7zM510.1 128.5h33.6v33.6h-33.6zM543.7 128.5h33.6v33.6h-33.6zM577.3 128.5h32.8v32.8h-32.8zM610.1 128.5h32.8v32.8h-32.8zM642.9 128.5h32.3v32.3h-32.3zM675.2 128.5h31v31h-31zM706.2 128.5h30.85v30.85h-30.85zM737.05 128.5h29.9v29.9h-29.9zM766.95 128.5h29.5v29.5h-29.5zM796.45 128.5h28v28h-28zM824.45 128.5h28v28h-28zM852.45 128.5h28v28h-28zM880.45 128.5h27.5v27.5h-27.5zM907.95 128.5h27.5v27.5h-27.5zM935.45 128.5h27.5v27.5h-27.5zM962.95 128.5h27.5v27.5h-27.5zM375 162.4h27.1v27.1h-27.1zM402.1 162.4h27.05v27.05h-27.05zM429.15 162.4h27.05v27.05h-27.05zM456.2 162.4h27v27h-27zM483.2 162.4h27v27h-27zM510.2 162.4h27v27h-27zM537.2 162.4h26.55v26.55h-26.55zM563.75 162.4h26.55v26.55h-26.55zM590.3 162.4h25.8v25.8h-25.8zM616.1 162.4h25.35v25.35h-25.35zM641.45 162.4h25.35v25.35h-25.35zM666.8 162.4h25.3v25.3h-25.3zM692.1 162.4h25.3v25.3h-25.3zM717.4 162.4h24.6v24.6h-24.6zM742 162.4h24.5v24.5h-24.5zM766.5 162.4h24.5v24.5h-24.5zM791 162.4h24.5v24.5h-24.5zM815.5 162.4h24.5v24.5h-24.5zM840 162.4h24.1v24.1h-24.1zM864.1 162.4h23.7v23.7h-23.7zM887.8 162.4h23.65v23.65h-23.65zM911.45 162.4h23.65v23.65h-23.65zM935.1 162.4h23.6v23.6h-23.6zM958.7 162.4h23.6v23.6h-23.6zM982.3 162.4h23.2v23.2h-23.2zM375 189.5h23.65v23.65h-23.65zM398.65 189.5h23.58v23.58h-23.58zM422.23 189.5h23.52v23.52h-23.52zM445.75 189.5h23.46v23.46h-23.46zM469.21 189.5h23.4v23.4h-23.4zM492.6 189.5h23.33v23.33h-23.33zM515.94 189.5h23.27v23.27h-23.27zM539.21 189.5h23.22v23.22h-23.22zM562.43 189.5h23.19v23.19h-23.19zM585.62 189.5h23.16v23.16h-23.16zM608.78 189.5h23.13v23.13h-23.13zM631.91 189.5h23.1v23.1h-23.1zM655 189.5h23.06v23.06h-23.06zM678.07 189.5h23.03v23.03h-23.03zM701.1 189.5h23.05v23.05h-23.05zM724.15 189.5h23.02v23.02h-23.02zM747.17 189.5h22.99v22.99h-22.99zM770.16 189.5h22.96v22.96h-22.96zM793.12 189.5h22.93v22.93h-22.93zM816.05 189.5h22.89v22.89h-22.89zM838.94 189.5h22.86v22.86h-22.86zM861.8 189.5h22.83v22.83h-22.83zM884.63 189.5h22.8v22.8h-22.8zM907.43 189.5h22.77v22.77h-22.77zM930.19 189.5h22.73v22.73h-22.73zM952.93 189.5h22.7v22.7h-22.7zM975.63 189.5h22.67v22.67h-22.67zM375 213.2h22.24v22.24h-22.24zM397.24 213.2h22.23v22.23h-22.23zM419.47 213.2h22.21v22.21h-22.21zM441.68 213.2h22.2v22.2h-22.2zM463.88 213.2h22.18v22.18h-22.18zM486.06 213.2h22.17v22.17h-22.17zM508.23 213.2h22.15v22.15h-22.15zM530.38 213.2h22.14v22.14h-22.14zM552.51 213.2h22.1v22.1h-22.1zM574.61 213.2h22.06v22.06h-22.06zM596.67 213.2h22.02v22.02h-22.02zM618.69 213.2h21.98v21.98h-21.98zM640.68 213.2h21.95v21.95h-21.95zM662.62 213.2h21.91v21.91h-21.91zM684.53 213.2h21.87v21.87h-21.87zM706.4 213.2h21.79v21.79h-21.79zM728.19 213.2h21.75v21.75h-21.75zM749.94 213.2h21.71v21.71h-21.71zM771.65 213.2h21.68v21.68h-21.68zM793.33 213.2h21.64v21.64h-21.64zM814.97 213.2h21.6v21.6h-21.6zM836.57 213.2h21.56v21.56h-21.56zM858.13 213.2h21.52v21.52h-21.52zM879.65 213.2h21.49v21.49h-21.49zM901.14 213.2h21.45v21.45h-21.45zM922.59 213.2h21.41v21.41h-21.41zM944 213.2h21.37v21.37h-21.37zM965.37 213.2h21.33v21.33h-21.33zM986.7 213.2h21.3v21.3h-21.3zM375 235.4h21.16v21.16h-21.16zM396.16 235.4h21.08v21.08h-21.08zM417.24 235.4h21v21h-21zM438.24 235.4h20.92v20.92h-20.92zM459.17 235.4h20.84v20.84h-20.84zM480.01 235.4h20.76v20.76h-20.76zM500.77 235.4h20.68v20.68h-20.68zM521.45 235.4h20.6v20.6h-20.6zM542.06 235.4h20.55v20.55h-20.55zM562.61 235.4h20.53v20.53h-20.53zM583.14 235.4h20.5v20.5h-20.5zM603.64 235.4h20.48v20.48h-20.48zM624.12 235.4h20.46v20.46h-20.46zM644.58 235.4h20.43v20.43h-20.43zM665.01 235.4h20.41v20.41h-20.41zM685.42 235.4h20.38v20.38h-20.38zM705.8 235.4h20.47v20.47h-20.47zM726.27 235.4h20.45v20.45h-20.45zM746.71 235.4h20.42v20.42h-20.42zM767.14 235.4h20.4v20.4h-20.4zM787.53 235.4h20.37v20.37h-20.37zM807.9 235.4h20.35v20.35h-20.35zM828.25 235.4h20.32v20.32h-20.32zM848.58 235.4h20.3v20.3h-20.3zM868.88 235.4h20.28v20.28h-20.28zM889.15 235.4h20.25v20.25h-20.25zM909.4 235.4h20.23v20.23h-20.23zM929.63 235.4h20.2v20.2h-20.2zM949.84 235.4h20.18v20.18h-20.18zM970.01 235.4h20.15v20.15h-20.15zM990.17 235.4h20.13v20.13h-20.13zM375 256.8h20.19v20.19h-20.19zM395.19 256.8h20.16v20.16h-20.16zM415.35 256.8h20.13v20.13h-20.13zM435.48 256.8h20.1v20.1h-20.1zM455.58 256.8h20.07v20.07h-20.07zM475.65 256.8h20.03v20.03h-20.03zM495.68 256.8h20v20h-20zM515.69 256.8h19.97v19.97h-19.97zM535.66 256.8h19.94v19.94h-19.94zM555.6 256.8h19.91v19.91h-19.91zM575.51 256.8h19.88v19.88h-19.88zM595.39 256.8h19.86v19.86h-19.86zM615.25 256.8h19.83v19.83h-19.83zM635.08 256.8h19.8v19.8h-19.8zM654.87 256.8h19.77v19.77h-19.77zM674.64 256.8h19.74v19.74h-19.74zM694.39 256.8h19.71v19.71h-19.71zM714.1 256.8h19.69v19.69h-19.69zM733.79 256.8h19.66v19.66h-19.66zM753.46 256.8h19.64v19.64h-19.64zM773.09 256.8h19.61v19.61h-19.61zM792.7 256.8h19.58v19.58h-19.58zM812.28 256.8h19.55v19.55h-19.55zM831.83 256.8h19.52v19.52h-19.52zM851.35 256.8h19.49v19.49h-19.49zM870.84 256.8h19.46v19.46h-19.46zM890.31 256.8h19.44v19.44h-19.44zM909.74 256.8h19.41v19.41h-19.41zM929.15 256.8h19.38v19.38h-19.38zM948.53 256.8h19.35v19.35h-19.35zM967.88 256.8h19.32v19.32h-19.32zM987.21 256.8h19.29v19.29h-19.29zM375 277h19.31v19.31h-19.31zM394.31 277h19.29v19.29h-19.29zM413.61 277h19.27v19.27h-19.27zM432.88 277h19.25v19.25h-19.25zM452.13 277h19.23v19.23h-19.23zM471.36 277h19.21v19.21h-19.21zM490.57 277h19.19v19.19h-19.19zM509.76 277h19.17v19.17h-19.17zM528.92 277h19.14v19.14h-19.14zM548.07 277h19.12v19.12h-19.12zM567.18 277h19.09v19.09h-19.09zM586.27 277h19.06v19.06h-19.06zM605.33 277h19.03v19.03h-19.03zM624.36 277h19v19h-19zM643.36 277h18.97v18.97h-18.97zM662.34 277h18.95v18.95h-18.95zM681.28 277h18.92v18.92h-18.92zM700.2 277h18.87v18.87h-18.87zM719.07 277h18.85v18.85h-18.85zM737.92 277h18.82v18.82h-18.82zM756.74 277h18.79v18.79h-18.79zM775.53 277h18.76v18.76h-18.76zM794.29 277h18.73v18.73h-18.73zM813.02 277h18.7v18.7h-18.7zM831.73 277h18.68v18.68h-18.68zM850.41 277h18.65v18.65h-18.65zM869.05 277h18.62v18.62h-18.62zM887.67 277h18.59v18.59h-18.59zM906.27 277h18.56v18.56h-18.56zM924.83 277h18.54v18.54h-18.54zM943.36 277h18.51v18.51h-18.51zM961.87 277h18.48v18.48h-18.48zM980.35 277h18.45v18.45h-18.45zM375 296.3h18.24v18.24h-18.24zM393.24 296.3h18.24v18.24h-18.24zM411.48 296.3h18.24v18.24h-18.24zM429.72 296.3h18.24v18.24h-18.24zM447.95 296.3h18.24v18.24h-18.24zM466.19 296.3h18.24v18.24h-18.24zM484.43 296.3h18.24v18.24h-18.24zM502.67 296.3h18.24v18.24h-18.24zM520.91 296.3h18.24v18.24h-18.24zM539.15 296.3h18.23v18.23h-18.23zM557.38 296.3h18.21v18.21h-18.21zM575.59 296.3h18.2v18.2h-18.2zM593.79 296.3h18.18v18.18h-18.18zM611.97 296.3h18.16v18.16h-18.16zM630.13 296.3h18.14v18.14h-18.14zM648.27 296.3h18.13v18.13h-18.13zM666.4 296.3h18.11v18.11h-18.11zM684.51 296.3h18.09v18.09h-18.09zM702.6 296.3h18.04v18.04h-18.04zM720.64 296.3h18.02v18.02h-18.02zM738.66 296.3h18v18h-18zM756.66 296.3h17.99v17.99h-17.99zM774.65 296.3h17.97v17.97h-17.97zM792.61 296.3h17.95v17.95h-17.95zM810.57 296.3h17.93v17.93h-17.93zM828.5 296.3h17.92v17.92h-17.92zM846.42 296.3h17.9v17.9h-17.9zM864.32 296.3h17.88v17.88h-17.88zM882.2 296.3h17.87v17.87h-17.87zM900.07 296.3h17.85v17.85h-17.85zM917.91 296.3h17.83v17.83h-17.83zM935.75 296.3h17.81v17.81h-17.81zM953.56 296.3h17.8v17.8h-17.8zM971.36 296.3h17.78v17.78h-17.78zM989.14 296.3h17.76v17.76h-17.76zM375 314.4h17.92v17.92h-17.92zM392.92 314.4h17.86v17.86h-17.86zM410.78 314.4h17.8v17.8h-17.8zM428.58 314.4h17.75v17.75h-17.75zM446.33 314.4h17.69v17.69h-17.69zM464.02 314.4h17.64v17.64h-17.64zM481.66 314.4h17.58v17.58h-17.58zM499.24 314.4h17.52v17.52h-17.52zM516.76 314.4h17.47v17.47h-17.47zM534.23 314.4h17.41v17.41h-17.41zM551.64 314.4h17.39v17.39h-17.39zM569.03 314.4h17.37v17.37h-17.37zM586.4 314.4h17.35v17.35h-17.35zM603.75 314.4h17.33v17.33h-17.33zM621.08 314.4h17.31v17.31h-17.31zM638.39 314.4h17.29v17.29h-17.29zM655.67 314.4h17.26v17.26h-17.26zM672.94 314.4h17.24v17.24h-17.24zM690.18 314.4h17.22v17.22h-17.22zM707.4 314.4h17.28v17.28h-17.28zM724.68 314.4h17.26v17.26h-17.26zM741.94 314.4h17.24v17.24h-17.24zM759.18 314.4h17.22v17.22h-17.22zM776.4 314.4h17.2v17.2h-17.2zM793.59 314.4h17.17v17.17h-17.17zM810.77 314.4h17.15v17.15h-17.15zM827.92 314.4h17.13v17.13h-17.13zM845.05 314.4h17.11v17.11h-17.11zM862.16 314.4h17.09v17.09h-17.09zM879.25 314.4h17.07v17.07h-17.07zM896.32 314.4h17.05v17.05h-17.05zM913.37 314.4h17.03v17.03h-17.03zM930.39 314.4h17v17h-17zM947.4 314.4h16.98v16.98h-16.98zM964.38 314.4h16.96v16.96h-16.96zM981.34 314.4h16.94v16.94h-16.94zM998.28 314.4h16.92v16.92h-16.92zM375 332.4h16.83v16.83h-16.83zM391.83 332.4h16.82v16.82h-16.82zM408.65 332.4h16.82v16.82h-16.82zM425.47 332.4h16.81v16.81h-16.81zM442.28 332.4h16.8v16.8h-16.8zM459.08 332.4h16.8v16.8h-16.8zM475.88 332.4h16.79v16.79h-16.79zM492.67 332.4h16.78v16.78h-16.78zM509.46 332.4h16.78v16.78h-16.78zM526.23 332.4h16.77v16.77h-16.77zM543.01 332.4h16.76v16.76h-16.76zM559.77 332.4h16.74v16.74h-16.74zM576.51 332.4h16.72v16.72h-16.72zM593.23 332.4h16.71v16.71h-16.71zM609.94 332.4h16.69v16.69h-16.69zM626.63 332.4h16.67v16.67h-16.67zM643.3 332.4h16.65v16.65h-16.65zM659.95 332.4h16.63v16.63h-16.63zM676.58 332.4h16.62v16.62h-16.62zM693.2 332.4h16.6v16.6h-16.6zM709.8 332.4h16.55v16.55h-16.55zM726.35 332.4h16.53v16.53h-16.53zM742.89 332.4h16.52v16.52h-16.52zM759.4 332.4h16.5v16.5h-16.5zM775.9 332.4h16.48v16.48h-16.48zM792.38 332.4h16.46v16.46h-16.46zM808.84 332.4h16.44v16.44h-16.44zM825.29 332.4h16.43v16.43h-16.43zM841.72 332.4h16.41v16.41h-16.41zM858.12 332.4h16.39v16.39h-16.39zM874.52 332.4h16.37v16.37h-16.37zM890.89 332.4h16.36v16.36h-16.36zM907.24 332.4h16.34v16.34h-16.34zM923.58 332.4h16.32v16.32h-16.32zM939.9 332.4h16.3v16.3h-16.3zM956.2 332.4h16.28v16.28h-16.28zM972.49 332.4h16.27v16.27h-16.27zM988.75 332.4h16.25v16.25h-16.25zM375 349.2h16.25v16.25h-16.25zM391.25 349.2h16.21v16.21h-16.21zM407.46 349.2h16.18v16.18h-16.18zM423.64 349.2h16.15v16.15h-16.15zM439.79 349.2h16.12v16.12h-16.12zM455.91 349.2h16.09v16.09h-16.09zM472 349.2h16.06v16.06h-16.06zM488.06 349.2h16.03v16.03h-16.03zM504.09 349.2h15.99v15.99h-15.99zM520.08 349.2h15.96v15.96h-15.96zM536.04 349.2h15.93v15.93h-15.93zM551.98 349.2h15.92v15.92h-15.92zM567.9 349.2h15.91v15.91h-15.91zM583.81 349.2h15.9v15.9h-15.9zM599.71 349.2h15.89v15.89h-15.89zM615.6 349.2h15.88v15.88h-15.88zM631.47 349.2h15.87v15.87h-15.87zM647.34 349.2h15.86v15.86h-15.86zM663.2 349.2h15.85v15.85h-15.85zM679.04 349.2h15.83v15.83h-15.83zM694.88 349.2h15.82v15.82h-15.82zM710.7 349.2h15.87v15.87h-15.87zM726.57 349.2h15.86v15.86h-15.86zM742.42 349.2h15.84v15.84h-15.84zM758.27 349.2h15.83v15.83h-15.83zM774.1 349.2h15.82v15.82h-15.82zM789.92 349.2h15.81v15.81h-15.81zM805.73 349.2h15.8v15.8h-15.8zM821.54 349.2h15.79v15.79h-15.79zM837.33 349.2h15.78v15.78h-15.78zM853.1 349.2h15.77v15.77h-15.77zM868.87 349.2h15.76v15.76h-15.76zM884.63 349.2h15.75v15.75h-15.75zM900.38 349.2h15.74v15.74h-15.74zM916.11 349.2h15.72v15.72h-15.72zM931.84 349.2h15.71v15.71h-15.71zM947.55 349.2h15.7v15.7h-15.7zM963.26 349.2h15.69v15.69h-15.69zM978.95 349.2h15.68v15.68h-15.68zM994.63 349.2h15.67v15.67h-15.67zM375 365.5h15.8v15.8h-15.8zM390.8 365.5h15.78v15.78h-15.78zM406.58 365.5h15.76v15.76h-15.76zM422.34 365.5h15.73v15.73h-15.73zM438.07 365.5h15.71v15.71h-15.71zM453.78 365.5h15.69v15.69h-15.69zM469.47 365.5h15.67v15.67h-15.67zM485.14 365.5h15.64v15.64h-15.64zM500.78 365.5h15.62v15.62h-15.62zM516.4 365.5h15.6v15.6h-15.6zM532 365.5h15.58v15.58h-15.58zM547.58 365.5h15.55v15.55h-15.55zM563.13 365.5h15.53v15.53h-15.53zM578.67 365.5h15.51v15.51h-15.51zM594.17 365.5h15.49v15.49h-15.49zM609.66 365.5h15.46v15.46h-15.46zM625.12 365.5h15.44v15.44h-15.44zM640.56 365.5h15.42v15.42h-15.42zM655.98 365.5h15.4v15.4h-15.4zM671.38 365.5h15.37v15.37h-15.37zM686.75 365.5h15.35v15.35h-15.35zM702.1 365.5h15.33v15.33h-15.33zM717.43 365.5h15.3v15.3h-15.3zM732.73 365.5h15.28v15.28h-15.28zM748.01 365.5h15.26v15.26h-15.26zM763.27 365.5h15.24v15.24h-15.24zM778.5 365.5h15.21v15.21h-15.21zM793.72 365.5h15.19v15.19h-15.19zM808.9 365.5h15.17v15.17h-15.17zM824.07 365.5h15.14v15.14h-15.14zM839.22 365.5h15.12v15.12h-15.12zM854.34 365.5h15.1v15.1h-15.1zM869.44 365.5h15.08v15.08h-15.08zM884.51 365.5h15.05v15.05h-15.05zM899.56 365.5h15.03v15.03h-15.03zM914.6 365.5h15.01v15.01h-15.01zM929.6 365.5h14.98v14.98h-14.98zM944.59 365.5h14.96v14.96h-14.96zM959.55 365.5h14.94v14.94h-14.94zM974.49 365.5h14.92v14.92h-14.92zM989.41 365.5h14.89v14.89h-14.89zM375 381.3h14.73v14.73h-14.73zM389.73 381.3h14.73v14.73h-14.73zM404.46 381.3h14.73v14.73h-14.73zM419.19 381.3h14.73v14.73h-14.73zM433.92 381.3h14.73v14.73h-14.73zM448.65 381.3h14.73v14.73h-14.73zM463.38 381.3h14.73v14.73h-14.73zM478.11 381.3h14.73v14.73h-14.73zM492.84 381.3h14.73v14.73h-14.73zM507.57 381.3h14.73v14.73h-14.73zM522.3 381.3h14.73v14.73h-14.73zM537.03 381.3h14.72v14.72h-14.72zM551.75 381.3h14.71v14.71h-14.71zM566.46 381.3h14.7v14.7h-14.7zM581.15 381.3h14.69v14.69h-14.69zM595.84 381.3h14.67v14.67h-14.67zM610.51 381.3h14.66v14.66h-14.66zM625.17 381.3h14.65v14.65h-14.65zM639.82 381.3h14.64v14.64h-14.64zM654.46 381.3h14.63v14.63h-14.63zM669.09 381.3h14.61v14.61h-14.61zM683.7 381.3h14.6v14.6h-14.6zM698.3 381.3h14.56v14.56h-14.56zM712.86 381.3h14.55v14.55h-14.55zM727.4 381.3h14.53v14.53h-14.53zM741.94 381.3h14.52v14.52h-14.52zM756.46 381.3h14.51v14.51h-14.51zM770.97 381.3h14.5v14.5h-14.5zM785.47 381.3h14.49v14.49h-14.49zM799.95 381.3h14.47v14.47h-14.47zM814.43 381.3h14.46v14.46h-14.46zM828.89 381.3h14.45v14.45h-14.45zM843.34 381.3h14.44v14.44h-14.44zM857.78 381.3h14.43v14.43h-14.43zM872.2 381.3h14.41v14.41h-14.41zM886.62 381.3h14.4v14.4h-14.4zM901.02 381.3h14.39v14.39h-14.39zM915.41 381.3h14.38v14.38h-14.38zM929.79 381.3h14.37v14.37h-14.37zM944.15 381.3h14.35v14.35h-14.35zM958.51 381.3h14.34v14.34h-14.34zM972.85 381.3h14.33v14.33h-14.33zM987.18 381.3h14.32v14.32h-14.32zM375 396h14.37v14.37h-14.37zM389.37 396h14.37v14.37h-14.37zM403.74 396h14.37v14.37h-14.37zM418.11 396h14.37v14.37h-14.37zM432.48 396h14.37v14.37h-14.37zM446.85 396h14.37v14.37h-14.37zM461.22 396h14.37v14.37h-14.37zM475.6 396h14.37v14.37h-14.37zM489.97 396h14.37v14.37h-14.37zM504.33 396h14.36v14.36h-14.36zM518.69 396h14.35v14.35h-14.35zM533.04 396h14.35v14.35h-14.35zM547.39 396h14.34v14.34h-14.34zM561.73 396h14.34v14.34h-14.34zM576.07 396h14.33v14.33h-14.33zM590.4 396h14.34v14.34h-14.34zM604.74 396h14.33v14.33h-14.33zM619.07 396h14.32v14.32h-14.32zM633.39 396h14.32v14.32h-14.32zM647.71 396h14.31v14.31h-14.31zM662.02 396h14.31v14.31h-14.31zM676.33 396h14.3v14.3h-14.3zM690.63 396h14.3v14.3h-14.3zM704.93 396h14.28v14.28h-14.28zM719.21 396h14.26v14.26h-14.26zM733.47 396h14.24v14.24h-14.24zM747.71 396h14.22v14.22h-14.22zM761.93 396h14.21v14.21h-14.21zM776.14 396h14.19v14.19h-14.19zM790.33 396h14.17v14.17h-14.17zM804.5 396h14.13v14.13h-14.13zM818.63 396h14.11v14.11h-14.11zM832.74 396h14.1v14.1h-14.1zM846.84 396h14.08v14.08h-14.08zM860.92 396h14.06v14.06h-14.06zM874.98 396h14.04v14.04h-14.04zM889.02 396h14.02v14.02h-14.02zM903.04 396h14.01v14.01h-14.01zM917.05 396h13.99v13.99h-13.99zM931.04 396h13.97v13.97h-13.97zM945.01 396h13.95v13.95h-13.95zM958.96 396h13.94v13.94h-13.94zM972.9 396h13.92v13.92h-13.92zM986.82 396h13.9v13.9h-13.9zM1000.72 396h13.88v13.88h-13.88zM375 410.3h13.84v13.84h-13.84zM388.84 410.3h13.81v13.81h-13.81zM402.65 410.3h13.77v13.77h-13.77zM416.42 410.3h13.74v13.74h-13.74zM430.15 410.3h13.7v13.7h-13.7zM443.86 410.3h13.67v13.67h-13.67zM457.52 410.3h13.63v13.63h-13.63zM471.15 410.3h13.6v13.6h-13.6zM484.75 410.3h13.58v13.58h-13.58zM498.33 410.3h13.57v13.57h-13.57zM511.9 410.3h13.56v13.56h-13.56zM525.46 410.3h13.56v13.56h-13.56zM539.02 410.3h13.55v13.55h-13.55zM552.58 410.3h13.55v13.55h-13.55zM566.12 410.3h13.54v13.54h-13.54zM579.66 410.3h13.54v13.54h-13.54zM593.2 410.3h13.6v13.6h-13.6zM606.8 410.3h13.59v13.59h-13.59zM620.39 410.3h13.59v13.59h-13.59zM633.98 410.3h13.58v13.58h-13.58zM647.56 410.3h13.58v13.58h-13.58zM661.14 410.3h13.57v13.57h-13.57zM674.71 410.3h13.56v13.56h-13.56zM688.27 410.3h13.56v13.56h-13.56zM701.83 410.3h13.55v13.55h-13.55zM715.38 410.3h13.54v13.54h-13.54zM728.92 410.3h13.53v13.53h-13.53zM742.45 410.3h13.51v13.51h-13.51zM755.96 410.3h13.5v13.5h-13.5zM769.46 410.3h13.49v13.49h-13.49zM782.95 410.3h13.48v13.48h-13.48zM796.43 410.3h13.47v13.47h-13.47zM809.9 410.3h13.44v13.44h-13.44zM823.34 410.3h13.43v13.43h-13.43zM836.77 410.3h13.42v13.42h-13.42zM850.19 410.3h13.41v13.41h-13.41zM863.6 410.3h13.4v13.4h-13.4zM877 410.3h13.38v13.38h-13.38zM890.38 410.3h13.37v13.37h-13.37zM903.75 410.3h13.36v13.36h-13.36zM917.11 410.3h13.35v13.35h-13.35zM930.46 410.3h13.34v13.34h-13.34zM943.8 410.3h13.32v13.32h-13.32zM957.12 410.3h13.31v13.31h-13.31zM970.43 410.3h13.3v13.3h-13.3zM983.73 410.3h13.29v13.29h-13.29zM997.02 410.3h13.28v13.28h-13.28zM375 424.2h13.47v13.47h-13.47zM388.47 424.2h13.45v13.45h-13.45zM401.92 424.2h13.43v13.43h-13.43zM415.35 424.2h13.4v13.4h-13.4zM428.75 424.2h13.38v13.38h-13.38zM442.13 424.2h13.36v13.36h-13.36zM455.49 424.2h13.34v13.34h-13.34zM468.83 424.2h13.31v13.31h-13.31zM482.14 424.2h13.3v13.3h-13.3zM495.44 424.2h13.29v13.29h-13.29zM508.73 424.2h13.28v13.28h-13.28zM522.01 424.2h13.27v13.27h-13.27zM535.29 424.2h13.27v13.27h-13.27zM548.55 424.2h13.26v13.26h-13.26zM561.81 424.2h13.25v13.25h-13.25zM575.06 424.2h13.24v13.24h-13.24zM588.3 424.2h13.26v13.26h-13.26zM601.56 424.2h13.25v13.25h-13.25zM614.81 424.2h13.24v13.24h-13.24zM628.05 424.2h13.23v13.23h-13.23zM641.28 424.2h13.23v13.23h-13.23zM654.51 424.2h13.22v13.22h-13.22zM667.73 424.2h13.21v13.21h-13.21zM680.94 424.2h13.2v13.2h-13.2zM694.14 424.2h13.19v13.19h-13.19zM707.33 424.2h13.18v13.18h-13.18zM720.51 424.2h13.18v13.18h-13.18zM733.69 424.2h13.17v13.17h-13.17zM746.85 424.2h13.16v13.16h-13.16zM760.02 424.2h13.15v13.15h-13.15zM773.17 424.2h13.14v13.14h-13.14zM786.31 424.2h13.14v13.14h-13.14zM799.45 424.2h13.13v13.13h-13.13zM812.58 424.2h13.12v13.12h-13.12zM825.7 424.2h13.11v13.11h-13.11zM838.81 424.2h13.11v13.11h-13.11zM851.92 424.2h13.1v13.1h-13.1zM865.02 424.2h13.09v13.09h-13.09zM878.11 424.2h13.08v13.08h-13.08zM891.2 424.2h13.08v13.08h-13.08zM904.27 424.2h13.07v13.07h-13.07zM917.34 424.2h13.06v13.06h-13.06zM930.4 424.2h13.05v13.05h-13.05zM943.45 424.2h13.04v13.04h-13.04zM956.5 424.2h13.04v13.04h-13.04zM969.54 424.2h13.03v13.03h-13.03zM982.56 424.2h13.02v13.02h-13.02zM995.59 424.2h13.01v13.01h-13.01zM375 437.7h13.03v13.03h-13.03zM388.03 437.7h13.03v13.03h-13.03zM401.06 437.7h13.03v13.03h-13.03zM414.09 437.7h13.03v13.03h-13.03zM427.11 437.7h13.03v13.03h-13.03zM440.14 437.7h13.03v13.03h-13.03zM453.17 437.7h13.03v13.03h-13.03zM466.2 437.7h13.03v13.03h-13.03zM479.23 437.7h13.03v13.03h-13.03zM492.26 437.7h13.02v13.02h-13.02zM505.28 437.7h13.01v13.01h-13.01zM518.29 437.7h13v13h-13zM531.3 437.7h13v13h-13zM544.29 437.7h12.99v12.99h-12.99zM557.28 437.7h12.98v12.98h-12.98zM570.26 437.7h12.97v12.97h-12.97zM583.24 437.7h12.96v12.96h-12.96zM596.2 437.7h12.94v12.94h-12.94zM609.14 437.7h12.93v12.93h-12.93zM622.06 437.7h12.92v12.92h-12.92zM634.98 437.7h12.91v12.91h-12.91zM647.9 437.7h12.9v12.9h-12.9zM660.8 437.7h12.9v12.9h-12.9zM673.7 437.7h12.89v12.89h-12.89zM686.59 437.7h12.88v12.88h-12.88zM699.47 437.7h12.87v12.87h-12.87zM712.34 437.7h12.87v12.87h-12.87zM725.2 437.7h12.86v12.86h-12.86zM738.06 437.7h12.85v12.85h-12.85zM750.92 437.7h12.85v12.85h-12.85zM763.77 437.7h12.84v12.84h-12.84zM776.61 437.7h12.84v12.84h-12.84zM789.45 437.7h12.83v12.83h-12.83zM802.28 437.7h12.82v12.82h-12.82zM815.1 437.7h12.82v12.82h-12.82zM827.92 437.7h12.82v12.82h-12.82zM840.74 437.7h12.81v12.81h-12.81zM853.55 437.7h12.8v12.8h-12.8zM866.35 437.7h12.8v12.8h-12.8zM879.15 437.7h12.79v12.79h-12.79zM891.94 437.7h12.79v12.79h-12.79zM904.73 437.7h12.78v12.78h-12.78zM917.51 437.7h12.77v12.77h-12.77zM930.28 437.7h12.77v12.77h-12.77zM943.05 437.7h12.76v12.76h-12.76zM955.81 437.7h12.76v12.76h-12.76zM968.57 437.7h12.75v12.75h-12.75zM981.32 437.7h12.74v12.74h-12.74zM994.06 437.7h12.74v12.74h-12.74zM375 450.5h12.85v12.85h-12.85zM387.85 450.5h12.83v12.83h-12.83zM400.68 450.5h12.8v12.8h-12.8zM413.48 450.5h12.77v12.77h-12.77zM426.25 450.5h12.74v12.74h-12.74zM438.99 450.5h12.72v12.72h-12.72zM451.71 450.5h12.69v12.69h-12.69zM464.4 450.5h12.66v12.66h-12.66zM477.07 450.5h12.64v12.64h-12.64zM489.7 450.5h12.63v12.63h-12.63zM502.33 450.5h12.63v12.63h-12.63zM514.96 450.5h12.62v12.62h-12.62zM527.58 450.5h12.61v12.61h-12.61zM540.19 450.5h12.61v12.61h-12.61zM552.8 450.5h12.6v12.6h-12.6zM565.41 450.5h12.6v12.6h-12.6zM578.01 450.5h12.59v12.59h-12.59zM590.6 450.5h12.65v12.65h-12.65zM603.25 450.5h12.65v12.65h-12.65zM615.9 450.5h12.64v12.64h-12.64zM628.54 450.5h12.63v12.63h-12.63zM641.17 450.5h12.63v12.63h-12.63zM653.8 450.5h12.62v12.62h-12.62zM666.42 450.5h12.62v12.62h-12.62zM679.04 450.5h12.61v12.61h-12.61zM691.66 450.5h12.61v12.61h-12.61zM704.26 450.5h12.6v12.6h-12.6zM716.86 450.5h12.59v12.59h-12.59zM729.45 450.5h12.57v12.57h-12.57zM742.02 450.5h12.56v12.56h-12.56zM754.58 450.5h12.55v12.55h-12.55zM767.13 450.5h12.54v12.54h-12.54zM779.67 450.5h12.52v12.52h-12.52zM792.19 450.5h12.51v12.51h-12.51zM804.7 450.5h12.5v12.5h-12.5zM817.2 450.5h12.47v12.47h-12.47zM829.67 450.5h12.46v12.46h-12.46zM842.13 450.5h12.44v12.44h-12.44zM854.57 450.5h12.43v12.43h-12.43zM867 450.5h12.42v12.42h-12.42zM879.42 450.5h12.41v12.41h-12.41zM891.83 450.5h12.39v12.39h-12.39zM904.22 450.5h12.38v12.38h-12.38zM916.6 450.5h12.37v12.37h-12.37zM928.97 450.5h12.36v12.36h-12.36zM941.33 450.5h12.34v12.34h-12.34zM953.67 450.5h12.33v12.33h-12.33zM966 450.5h12.32v12.32h-12.32zM978.32 450.5h12.31v12.31h-12.31zM990.63 450.5h12.29v12.29h-12.29zM1002.92 450.5h12.28v12.28h-12.28zM375 463.4h12.41v12.41h-12.41zM387.41 463.4h12.41v12.41h-12.41zM399.82 463.4h12.41v12.41h-12.41zM412.23 463.4h12.41v12.41h-12.41zM424.64 463.4h12.41v12.41h-12.41zM437.05 463.4h12.41v12.41h-12.41zM449.46 463.4h12.41v12.41h-12.41zM461.87 463.4h12.41v12.41h-12.41zM474.28 463.4h12.41v12.41h-12.41zM486.69 463.4h12.41v12.41h-12.41zM499.1 463.4h12.4v12.4h-12.4zM511.51 463.4h12.4v12.4h-12.4zM523.9 463.4h12.39v12.39h-12.39zM536.3 463.4h12.39v12.39h-12.39zM548.69 463.4h12.38v12.38h-12.38zM561.07 463.4h12.38v12.38h-12.38zM573.45 463.4h12.38v12.38h-12.38zM585.83 463.4h12.37v12.37h-12.37zM598.2 463.4h12.36v12.36h-12.36zM610.56 463.4h12.36v12.36h-12.36zM622.92 463.4h12.35v12.35h-12.35zM635.27 463.4h12.35v12.35h-12.35zM647.61 463.4h12.34v12.34h-12.34zM659.95 463.4h12.34v12.34h-12.34zM672.29 463.4h12.33v12.33h-12.33zM684.62 463.4h12.33v12.33h-12.33zM696.95 463.4h12.32v12.32h-12.32zM709.28 463.4h12.32v12.32h-12.32zM721.59 463.4h12.31v12.31h-12.31zM733.9 463.4h12.3v12.3h-12.3zM746.21 463.4h12.3v12.3h-12.3zM758.51 463.4h12.29v12.29h-12.29zM770.8 463.4h12.29v12.29h-12.29zM783.08 463.4h12.28v12.28h-12.28zM795.36 463.4h12.27v12.27h-12.27zM807.63 463.4h12.27v12.27h-12.27zM819.9 463.4h12.25v12.25h-12.25zM832.15 463.4h12.25v12.25h-12.25zM844.4 463.4h12.24v12.24h-12.24zM856.65 463.4h12.24v12.24h-12.24zM868.88 463.4h12.23v12.23h-12.23zM881.11 463.4h12.22v12.22h-12.22zM893.33 463.4h12.22v12.22h-12.22zM905.55 463.4h12.21v12.21h-12.21zM917.76 463.4h12.2v12.2h-12.2zM929.96 463.4h12.2v12.2h-12.2zM942.16 463.4h12.19v12.19h-12.19zM954.35 463.4h12.18v12.18h-12.18zM966.53 463.4h12.18v12.18h-12.18zM978.71 463.4h12.17v12.17h-12.17zM990.88 463.4h12.16v12.16h-12.16zM1003.04 463.4h12.16v12.16h-12.16zM375 475.7h12.21v12.21h-12.21zM387.21 475.7h12.21v12.21h-12.21zM399.41 475.7h12.2v12.2h-12.2zM411.62 475.7h12.2v12.2h-12.2zM423.81 475.7h12.2v12.2h-12.2zM436.01 475.7h12.19v12.19h-12.19zM448.2 475.7h12.19v12.19h-12.19zM460.39 475.7h12.19v12.19h-12.19zM472.58 475.7h12.18v12.18h-12.18zM484.76 475.7h12.18v12.18h-12.18zM496.94 475.7h12.17v12.17h-12.17zM509.11 475.7h12.16v12.16h-12.16zM521.27 475.7h12.16v12.16h-12.16zM533.43 475.7h12.15v12.15h-12.15zM545.58 475.7h12.14v12.14h-12.14zM557.72 475.7h12.13v12.13h-12.13zM569.85 475.7h12.13v12.13h-12.13zM581.98 475.7h12.12v12.12h-12.12zM594.1 475.7h12.1v12.1h-12.1zM606.2 475.7h12.09v12.09h-12.09zM618.3 475.7h12.09v12.09h-12.09zM630.38 475.7h12.08v12.08h-12.08zM642.47 475.7h12.07v12.07h-12.07zM654.54 475.7h12.07v12.07h-12.07zM666.61 475.7h12.06v12.06h-12.06zM678.67 475.7h12.05v12.05h-12.05zM690.72 475.7h12.05v12.05h-12.05zM702.76 475.7h12.04v12.04h-12.04zM714.8 475.7h12.03v12.03h-12.03zM726.83 475.7h12.03v12.03h-12.03zM738.86 475.7h12.02v12.02h-12.02zM750.88 475.7h12.02v12.02h-12.02zM762.9 475.7h12.01v12.01h-12.01zM774.91 475.7h12v12h-12zM786.91 475.7h12v12h-12zM798.91 475.7h11.99v11.99h-11.99zM810.9 475.7h11.99v11.99h-11.99zM822.89 475.7h11.98v11.98h-11.98zM834.87 475.7h11.98v11.98h-11.98zM846.85 475.7h11.97v11.97h-11.97zM858.82 475.7h11.96v11.96h-11.96zM870.78 475.7h11.96v11.96h-11.96zM882.74 475.7h11.95v11.95h-11.95zM894.69 475.7h11.95v11.95h-11.95zM906.64 475.7h11.94v11.94h-11.94zM918.58 475.7h11.94v11.94h-11.94zM930.52 475.7h11.93v11.93h-11.93zM942.45 475.7h11.92v11.92h-11.92zM954.37 475.7h11.92v11.92h-11.92zM966.29 475.7h11.91v11.91h-11.91zM978.2 475.7h11.91v11.91h-11.91zM990.11 475.7h11.9v11.9h-11.9zM1002.01 475.7h11.89v11.89h-11.89zM375 487.9h11.91v11.91h-11.91zM386.91 487.9h11.91v11.91h-11.91zM398.82 487.9h11.91v11.91h-11.91zM410.73 487.9h11.91v11.91h-11.91zM422.64 487.9h11.9v11.9h-11.9zM434.54 487.9h11.9v11.9h-11.9zM446.44 487.9h11.9v11.9h-11.9zM458.34 487.9h11.9v11.9h-11.9zM470.23 487.9h11.89v11.89h-11.89zM482.13 487.9h11.89v11.89h-11.89zM494.01 487.9h11.88v11.88h-11.88zM505.89 487.9h11.87v11.87h-11.87zM517.76 487.9h11.86v11.86h-11.86zM529.62 487.9h11.85v11.85h-11.85zM541.48 487.9h11.84v11.84h-11.84zM553.32 487.9h11.84v11.84h-11.84zM565.15 487.9h11.83v11.83h-11.83zM576.98 487.9h11.82v11.82h-11.82zM588.8 487.9h11.79v11.79h-11.79zM600.59 487.9h11.78v11.78h-11.78zM612.36 487.9h11.77v11.77h-11.77zM624.13 487.9h11.76v11.76h-11.76zM635.89 487.9h11.75v11.75h-11.75zM647.64 487.9h11.74v11.74h-11.74zM659.39 487.9h11.73v11.73h-11.73zM671.12 487.9h11.73v11.73h-11.73zM682.85 487.9h11.72v11.72h-11.72zM694.56 487.9h11.71v11.71h-11.71zM706.27 487.9h11.7v11.7h-11.7zM717.97 487.9h11.7v11.7h-11.7zM729.67 487.9h11.69v11.69h-11.69zM741.37 487.9h11.69v11.69h-11.69zM753.05 487.9h11.68v11.68h-11.68zM764.74 487.9h11.68v11.68h-11.68zM776.42 487.9h11.68v11.68h-11.68zM788.1 487.9h11.67v11.67h-11.67zM799.77 487.9h11.67v11.67h-11.67zM811.44 487.9h11.66v11.66h-11.66zM823.1 487.9h11.67v11.67h-11.67zM834.77 487.9h11.67v11.67h-11.67zM846.44 487.9h11.66v11.66h-11.66zM858.1 487.9h11.66v11.66h-11.66zM869.75 487.9h11.65v11.65h-11.65zM881.41 487.9h11.65v11.65h-11.65zM893.05 487.9h11.64v11.64h-11.64zM904.7 487.9h11.64v11.64h-11.64zM916.34 487.9h11.64v11.64h-11.64zM927.97 487.9h11.63v11.63h-11.63zM939.6 487.9h11.63v11.63h-11.63zM951.23 487.9h11.62v11.62h-11.62zM962.85 487.9h11.62v11.62h-11.62zM974.47 487.9h11.61v11.61h-11.61zM986.09 487.9h11.61v11.61h-11.61zM997.69 487.9h11.61v11.61h-11.61zM375 499.8h11.75v11.75h-11.75zM386.75 499.8h11.72v11.72h-11.72zM398.46 499.8h11.69v11.69h-11.69zM410.16 499.8h11.67v11.67h-11.67zM421.82 499.8h11.64v11.64h-11.64zM433.46 499.8h11.61v11.61h-11.61zM445.07 499.8h11.58v11.58h-11.58zM456.66 499.8h11.56v11.56h-11.56zM468.21 499.8h11.53v11.53h-11.53zM479.75 499.8h11.5v11.5h-11.5zM491.25 499.8h11.5v11.5h-11.5zM502.75 499.8h11.5v11.5h-11.5zM514.25 499.8h11.49v11.49h-11.49zM525.74 499.8h11.49v11.49h-11.49zM537.23 499.8h11.48v11.48h-11.48zM548.71 499.8h11.48v11.48h-11.48zM560.19 499.8h11.47v11.47h-11.47zM571.66 499.8h11.47v11.47h-11.47zM583.13 499.8h11.47v11.47h-11.47zM594.6 499.8h11.52v11.52h-11.52zM606.12 499.8h11.51v11.51h-11.51zM617.63 499.8h11.51v11.51h-11.51zM629.14 499.8h11.5v11.5h-11.5zM640.64 499.8h11.5v11.5h-11.5zM652.14 499.8h11.49v11.49h-11.49zM663.63 499.8h11.49v11.49h-11.49zM675.12 499.8h11.49v11.49h-11.49zM686.61 499.8h11.48v11.48h-11.48zM698.09 499.8h11.48v11.48h-11.48zM709.57 499.8h11.47v11.47h-11.47zM721.04 499.8h11.47v11.47h-11.47zM732.51 499.8h11.46v11.46h-11.46zM743.98 499.8h11.46v11.46h-11.46zM755.44 499.8h11.46v11.46h-11.46zM766.89 499.8h11.45v11.45h-11.45zM778.34 499.8h11.45v11.45h-11.45zM789.79 499.8h11.44v11.44h-11.44zM801.23 499.8h11.44v11.44h-11.44zM812.67 499.8h11.43v11.43h-11.43zM824.1 499.8h11.43v11.43h-11.43zM835.53 499.8h11.42v11.42h-11.42zM846.95 499.8h11.42v11.42h-11.42zM858.37 499.8h11.41v11.41h-11.41zM869.78 499.8h11.41v11.41h-11.41zM881.19 499.8h11.41v11.41h-11.41zM892.6 499.8h11.4v11.4h-11.4zM904 499.8h11.4v11.4h-11.4zM915.39 499.8h11.39v11.39h-11.39zM926.79 499.8h11.39v11.39h-11.39zM938.17 499.8h11.38v11.38h-11.38zM949.56 499.8h11.38v11.38h-11.38zM960.93 499.8h11.37v11.37h-11.37zM972.31 499.8h11.37v11.37h-11.37zM983.68 499.8h11.36v11.36h-11.36zM995.04 499.8h11.36v11.36h-11.36zM375 511.6h11.41v11.41h-11.41zM386.41 511.6h11.4v11.4h-11.4zM397.81 511.6h11.4v11.4h-11.4zM409.21 511.6h11.4v11.4h-11.4zM420.61 511.6h11.39v11.39h-11.39zM432 511.6h11.39v11.39h-11.39zM443.39 511.6h11.39v11.39h-11.39zM454.77 511.6h11.38v11.38h-11.38zM466.15 511.6h11.38v11.38h-11.38zM477.53 511.6h11.37v11.37h-11.37zM488.91 511.6h11.37v11.37h-11.37zM500.28 511.6h11.36v11.36h-11.36zM511.64 511.6h11.36v11.36h-11.36zM523 511.6h11.35v11.35h-11.35zM534.34 511.6h11.34v11.34h-11.34zM545.69 511.6h11.34v11.34h-11.34zM557.03 511.6h11.33v11.33h-11.33zM568.36 511.6h11.32v11.32h-11.32zM579.68 511.6h11.32v11.32h-11.32zM591 511.6h11.3v11.3h-11.3zM602.3 511.6h11.29v11.29h-11.29zM613.58 511.6h11.28v11.28h-11.28zM624.87 511.6h11.28v11.28h-11.28zM636.14 511.6h11.27v11.27h-11.27zM647.41 511.6h11.26v11.26h-11.26zM658.68 511.6h11.26v11.26h-11.26zM669.93 511.6h11.25v11.25h-11.25zM681.19 511.6h11.25v11.25h-11.25zM692.43 511.6h11.24v11.24h-11.24zM703.67 511.6h11.23v11.23h-11.23zM714.9 511.6h11.23v11.23h-11.23zM726.13 511.6h11.23v11.23h-11.23zM737.36 511.6h11.23v11.23h-11.23zM748.59 511.6h11.22v11.22h-11.22zM759.81 511.6h11.22v11.22h-11.22zM771.03 511.6h11.22v11.22h-11.22zM782.25 511.6h11.22v11.22h-11.22zM793.47 511.6h11.21v11.21h-11.21zM804.68 511.6h11.21v11.21h-11.21zM815.89 511.6h11.21v11.21h-11.21zM827.1 511.6h11.22v11.22h-11.22zM838.32 511.6h11.22v11.22h-11.22zM849.53 511.6h11.21v11.21h-11.21zM860.75 511.6h11.21v11.21h-11.21zM871.96 511.6h11.21v11.21h-11.21zM883.16 511.6h11.21v11.21h-11.21zM894.37 511.6h11.2v11.2h-11.2zM905.57 511.6h11.2v11.2h-11.2zM916.77 511.6h11.2v11.2h-11.2zM927.97 511.6h11.2v11.2h-11.2zM939.17 511.6h11.19v11.19h-11.19zM950.36 511.6h11.19v11.19h-11.19zM961.56 511.6h11.19v11.19h-11.19zM972.75 511.6h11.19v11.19h-11.19zM983.93 511.6h11.18v11.18h-11.18zM995.12 511.6h11.18v11.18h-11.18zM375 523h11.11v11.11h-11.11zM386.11 523h11.11v11.11h-11.11zM397.22 523h11.11v11.11h-11.11zM408.33 523h11.11v11.11h-11.11zM419.44 523h11.11v11.11h-11.11zM430.55 523h11.11v11.11h-11.11zM441.66 523h11.11v11.11h-11.11zM452.77 523h11.11v11.11h-11.11zM463.88 523h11.11v11.11h-11.11zM474.99 523h11.11v11.11h-11.11zM486.1 523h11.11v11.11h-11.11zM497.21 523h11.1v11.1h-11.1zM508.31 523h11.09v11.09h-11.09zM519.4 523h11.09v11.09h-11.09zM530.49 523h11.08v11.08h-11.08zM541.58 523h11.08v11.08h-11.08zM552.65 523h11.07v11.07h-11.07zM563.72 523h11.06v11.06h-11.06zM574.79 523h11.06v11.06h-11.06zM585.85 523h11.05v11.05h-11.05zM596.9 523h11.02v11.02h-11.02zM607.92 523h11.02v11.02h-11.02zM618.94 523h11.01v11.01h-11.01zM629.96 523h11.01v11.01h-11.01zM640.96 523h11v11h-11zM651.96 523h10.99v10.99h-10.99zM662.96 523h10.99v10.99h-10.99zM673.95 523h10.98v10.98h-10.98zM684.93 523h10.98v10.98h-10.98zM695.91 523h10.97v10.97h-10.97zM706.88 523h10.97v10.97h-10.97zM717.84 523h10.96v10.96h-10.96zM728.81 523h10.96v10.96h-10.96zM739.77 523h10.96v10.96h-10.96zM750.72 523h10.95v10.95h-10.95zM761.68 523h10.95v10.95h-10.95zM772.63 523h10.95v10.95h-10.95zM783.58 523h10.94v10.94h-10.94zM794.52 523h10.94v10.94h-10.94zM805.46 523h10.94v10.94h-10.94zM816.4 523h10.94v10.94h-10.94zM827.34 523h10.94v10.94h-10.94zM838.28 523h10.94v10.94h-10.94zM849.22 523h10.93v10.93h-10.93zM860.15 523h10.93v10.93h-10.93zM871.08 523h10.93v10.93h-10.93zM882.01 523h10.92v10.92h-10.92zM892.93 523h10.92v10.92h-10.92zM903.86 523h10.92v10.92h-10.92zM914.77 523h10.92v10.92h-10.92zM925.69 523h10.91v10.91h-10.91zM936.6 523h10.91v10.91h-10.91zM947.51 523h10.91v10.91h-10.91zM958.42 523h10.9v10.9h-10.9zM969.32 523h10.9v10.9h-10.9zM980.22 523h10.9v10.9h-10.9zM991.12 523h10.89v10.89h-10.89zM1002.01 523h10.89v10.89h-10.89zM375 533.9h10.9v10.9h-10.9zM385.9 533.9h10.9v10.9h-10.9zM396.81 533.9h10.9v10.9h-10.9zM407.71 533.9h10.9v10.9h-10.9zM418.62 533.9h10.9v10.9h-10.9zM429.52 533.9h10.9v10.9h-10.9zM440.43 533.9h10.9v10.9h-10.9zM451.33 533.9h10.9v10.9h-10.9zM462.24 533.9h10.9v10.9h-10.9zM473.14 533.9h10.9v10.9h-10.9zM484.04 533.9h10.9v10.9h-10.9zM494.95 533.9h10.9v10.9h-10.9zM505.84 533.9h10.89v10.89h-10.89zM516.73 533.9h10.88v10.88h-10.88zM527.62 533.9h10.88v10.88h-10.88zM538.49 533.9h10.87v10.87h-10.87zM549.37 533.9h10.87v10.87h-10.87zM560.23 533.9h10.86v10.86h-10.86zM571.1 533.9h10.86v10.86h-10.86zM581.95 533.9h10.85v10.85h-10.85zM592.8 533.9h10.83v10.83h-10.83zM603.63 533.9h10.82v10.82h-10.82zM614.45 533.9h10.81v10.81h-10.81zM625.26 533.9h10.81v10.81h-10.81zM636.07 533.9h10.8v10.8h-10.8zM646.87 533.9h10.8v10.8h-10.8zM657.67 533.9h10.79v10.79h-10.79zM668.46 533.9h10.79v10.79h-10.79zM679.25 533.9h10.78v10.78h-10.78zM690.03 533.9h10.77v10.77h-10.77zM700.8 533.9h10.77v10.77h-10.77zM711.57 533.9h10.76v10.76h-10.76zM722.33 533.9h10.76v10.76h-10.76zM733.09 533.9h10.75v10.75h-10.75zM743.84 533.9h10.75v10.75h-10.75zM754.59 533.9h10.75v10.75h-10.75zM765.34 533.9h10.74v10.74h-10.74zM776.08 533.9h10.74v10.74h-10.74zM786.82 533.9h10.73v10.73h-10.73zM797.55 533.9h10.73v10.73h-10.73zM808.28 533.9h10.72v10.72h-10.72zM819 533.9h10.72v10.72h-10.72zM829.72 533.9h10.72v10.72h-10.72zM840.44 533.9h10.71v10.71h-10.71zM851.15 533.9h10.71v10.71h-10.71zM861.86 533.9h10.7v10.7h-10.7zM872.56 533.9h10.7v10.7h-10.7zM883.26 533.9h10.69v10.69h-10.69zM893.96 533.9h10.69v10.69h-10.69zM904.65 533.9h10.69v10.69h-10.69zM915.33 533.9h10.68v10.68h-10.68zM926.01 533.9h10.68v10.68h-10.68zM936.69 533.9h10.67v10.67h-10.67zM947.36 533.9h10.67v10.67h-10.67zM958.03 533.9h10.66v10.66h-10.66zM968.69 533.9h10.66v10.66h-10.66zM979.35 533.9h10.65v10.65h-10.65zM990.01 533.9h10.65v10.65h-10.65zM1000.66 533.9h10.64v10.64h-10.64zM375 544.7h10.78v10.78h-10.78zM385.78 544.7h10.77v10.77h-10.77zM396.55 544.7h10.75v10.75h-10.75zM407.3 544.7h10.74v10.74h-10.74zM418.04 544.7h10.72v10.72h-10.72zM428.76 544.7h10.71v10.71h-10.71zM439.47 544.7h10.69v10.69h-10.69zM450.16 544.7h10.68v10.68h-10.68zM460.84 544.7h10.66v10.66h-10.66zM471.5 544.7h10.65v10.65h-10.65zM482.15 544.7h10.63v10.63h-10.63zM492.78 544.7h10.63v10.63h-10.63zM503.41 544.7h10.62v10.62h-10.62zM514.03 544.7h10.61v10.61h-10.61zM524.64 544.7h10.6v10.6h-10.6zM535.24 544.7h10.6v10.6h-10.6zM545.84 544.7h10.59v10.59h-10.59zM556.43 544.7h10.58v10.58h-10.58zM567.01 544.7h10.57v10.57h-10.57zM577.58 544.7h10.56v10.56h-10.56zM588.14 544.7h10.56v10.56h-10.56zM598.7 544.7h10.56v10.56h-10.56zM609.26 544.7h10.56v10.56h-10.56zM619.82 544.7h10.55v10.55h-10.55zM630.37 544.7h10.54v10.54h-10.54zM640.91 544.7h10.53v10.53h-10.53zM651.44 544.7h10.53v10.53h-10.53zM661.97 544.7h10.52v10.52h-10.52zM672.49 544.7h10.51v10.51h-10.51zM683 544.7h10.5v10.5h-10.5zM693.5 544.7h10.49v10.49h-10.49zM703.99 544.7h10.49v10.49h-10.49zM714.48 544.7h10.48v10.48h-10.48zM724.96 544.7h10.47v10.47h-10.47zM735.43 544.7h10.47v10.47h-10.47zM745.9 544.7h10.46v10.46h-10.46zM756.36 544.7h10.46v10.46h-10.46zM766.82 544.7h10.45v10.45h-10.45zM777.27 544.7h10.44v10.44h-10.44zM787.71 544.7h10.44v10.44h-10.44zM798.15 544.7h10.43v10.43h-10.43zM808.58 544.7h10.42v10.42h-10.42zM819 544.7h10.42v10.42h-10.42zM829.42 544.7h10.41v10.41h-10.41zM839.83 544.7h10.41v10.41h-10.41zM850.24 544.7h10.4v10.4h-10.4zM860.64 544.7h10.4v10.4h-10.4zM871.04 544.7h10.39v10.39h-10.39zM881.43 544.7h10.38v10.38h-10.38zM891.81 544.7h10.38v10.38h-10.38zM902.19 544.7h10.37v10.37h-10.37zM912.56 544.7h10.36v10.36h-10.36zM922.92 544.7h10.36v10.36h-10.36zM933.28 544.7h10.35v10.35h-10.35zM943.63 544.7h10.34v10.34h-10.34zM953.97 544.7h10.34v10.34h-10.34zM964.31 544.7h10.33v10.33h-10.33zM974.64 544.7h10.33v10.33h-10.33zM984.97 544.7h10.32v10.32h-10.32zM995.29 544.7h10.31v10.31h-10.31zM375 555.5h10.65v10.65h-10.65zM385.65 555.5h10.63v10.63h-10.63zM396.27 555.5h10.6v10.6h-10.6zM406.88 555.5h10.58v10.58h-10.58zM417.45 555.5h10.56v10.56h-10.56zM428.01 555.5h10.53v10.53h-10.53zM438.54 555.5h10.51v10.51h-10.51zM449.05 555.5h10.49v10.49h-10.49zM459.54 555.5h10.46v10.46h-10.46zM470 555.5h10.44v10.44h-10.44zM480.44 555.5h10.42v10.42h-10.42zM490.86 555.5h10.41v10.41h-10.41zM501.27 555.5h10.41v10.41h-10.41zM511.68 555.5h10.4v10.4h-10.4zM522.08 555.5h10.4v10.4h-10.4zM532.48 555.5h10.4v10.4h-10.4zM542.88 555.5h10.39v10.39h-10.39zM553.27 555.5h10.39v10.39h-10.39zM563.66 555.5h10.38v10.38h-10.38zM574.04 555.5h10.38v10.38h-10.38zM584.42 555.5h10.38v10.38h-10.38zM594.8 555.5h10.42v10.42h-10.42zM605.22 555.5h10.41v10.41h-10.41zM615.63 555.5h10.41v10.41h-10.41zM626.04 555.5h10.4v10.4h-10.4zM636.44 555.5h10.4v10.4h-10.4zM646.84 555.5h10.4v10.4h-10.4zM657.24 555.5h10.39v10.39h-10.39zM667.63 555.5h10.39v10.39h-10.39zM678.02 555.5h10.38v10.38h-10.38zM688.41 555.5h10.38v10.38h-10.38zM698.79 555.5h10.38v10.38h-10.38zM709.17 555.5h10.38v10.38h-10.38zM719.54 555.5h10.38v10.38h-10.38zM729.92 555.5h10.37v10.37h-10.37zM740.29 555.5h10.37v10.37h-10.37zM750.66 555.5h10.37v10.37h-10.37zM761.03 555.5h10.37v10.37h-10.37zM771.4 555.5h10.37v10.37h-10.37zM781.77 555.5h10.37v10.37h-10.37zM792.14 555.5h10.36v10.36h-10.36zM802.5 555.5h10.37v10.37h-10.37zM812.87 555.5h10.37v10.37h-10.37zM823.24 555.5h10.37v10.37h-10.37zM833.6 555.5h10.36v10.36h-10.36zM843.97 555.5h10.36v10.36h-10.36zM854.33 555.5h10.36v10.36h-10.36zM864.69 555.5h10.36v10.36h-10.36zM875.05 555.5h10.36v10.36h-10.36zM885.41 555.5h10.36v10.36h-10.36zM895.77 555.5h10.36v10.36h-10.36zM906.12 555.5h10.35v10.35h-10.35zM916.48 555.5h10.35v10.35h-10.35zM926.83 555.5h10.35v10.35h-10.35zM937.18 555.5h10.35v10.35h-10.35zM947.53 555.5h10.35v10.35h-10.35zM957.88 555.5h10.35v10.35h-10.35zM968.23 555.5h10.35v10.35h-10.35zM978.57 555.5h10.34v10.34h-10.34zM988.92 555.5h10.34v10.34h-10.34zM999.26 555.5h10.34v10.34h-10.34zM375 566.2h10.31v10.31h-10.31zM385.31 566.2h10.3v10.3h-10.3zM395.61 566.2h10.3v10.3h-10.3zM405.91 566.2h10.3v10.3h-10.3zM416.21 566.2h10.3v10.3h-10.3zM426.51 566.2h10.3v10.3h-10.3zM436.8 566.2h10.29v10.29h-10.29zM447.1 566.2h10.29v10.29h-10.29zM457.39 566.2h10.29v10.29h-10.29zM467.68 566.2h10.29v10.29h-10.29zM477.97 566.2h10.29v10.29h-10.29zM488.25 566.2h10.28v10.28h-10.28zM498.53 566.2h10.28v10.28h-10.28zM508.81 566.2h10.27v10.27h-10.27zM519.09 566.2h10.27v10.27h-10.27zM529.36 566.2h10.27v10.27h-10.27zM539.62 566.2h10.26v10.26h-10.26zM549.89 566.2h10.26v10.26h-10.26zM560.15 566.2h10.26v10.26h-10.26zM570.4 566.2h10.25v10.25h-10.25zM580.65 566.2h10.25v10.25h-10.25zM590.9 566.2h10.24v10.24h-10.24zM601.14 566.2h10.24v10.24h-10.24zM611.38 566.2h10.23v10.23h-10.23zM621.61 566.2h10.23v10.23h-10.23zM631.85 566.2h10.23v10.23h-10.23zM642.07 566.2h10.22v10.22h-10.22zM652.29 566.2h10.22v10.22h-10.22zM662.51 566.2h10.21v10.21h-10.21zM672.73 566.2h10.21v10.21h-10.21zM682.94 566.2h10.21v10.21h-10.21zM693.15 566.2h10.2v10.2h-10.2zM703.35 566.2h10.2v10.2h-10.2zM713.55 566.2h10.19v10.19h-10.19zM723.74 566.2h10.19v10.19h-10.19zM733.93 566.2h10.18v10.18h-10.18zM744.12 566.2h10.18v10.18h-10.18zM754.3 566.2h10.17v10.17h-10.17zM764.47 566.2h10.17v10.17h-10.17zM774.64 566.2h10.16v10.16h-10.16zM784.8 566.2h10.16v10.16h-10.16zM794.96 566.2h10.15v10.15h-10.15zM805.11 566.2h10.15v10.15h-10.15zM815.26 566.2h10.14v10.14h-10.14zM825.4 566.2h10.13v10.13h-10.13zM835.53 566.2h10.13v10.13h-10.13zM845.66 566.2h10.12v10.12h-10.12zM855.78 566.2h10.12v10.12h-10.12zM865.9 566.2h10.11v10.11h-10.11zM876.01 566.2h10.11v10.11h-10.11zM886.12 566.2h10.1v10.1h-10.1zM896.22 566.2h10.1v10.1h-10.1zM906.32 566.2h10.09v10.09h-10.09zM916.41 566.2h10.09v10.09h-10.09zM926.5 566.2h10.08v10.08h-10.08zM936.58 566.2h10.08v10.08h-10.08zM946.65 566.2h10.07v10.07h-10.07zM956.72 566.2h10.07v10.07h-10.07zM966.79 566.2h10.06v10.06h-10.06zM976.85 566.2h10.06v10.06h-10.06zM986.91 566.2h10.05v10.05h-10.05zM996.96 566.2h10.04v10.04h-10.04zM375 576.5h10.11v10.11h-10.11zM385.11 576.5h10.1v10.1h-10.1zM395.21 576.5h10.1v10.1h-10.1zM405.31 576.5h10.1v10.1h-10.1zM415.42 576.5h10.1v10.1h-10.1zM425.52 576.5h10.1v10.1h-10.1zM435.62 576.5h10.1v10.1h-10.1zM445.72 576.5h10.1v10.1h-10.1zM455.81 576.5h10.1v10.1h-10.1zM465.91 576.5h10.09v10.09h-10.09zM476 576.5h10.09v10.09h-10.09zM486.1 576.5h10.09v10.09h-10.09zM496.19 576.5h10.09v10.09h-10.09zM506.27 576.5h10.08v10.08h-10.08zM516.36 576.5h10.08v10.08h-10.08zM526.44 576.5h10.08v10.08h-10.08zM536.51 576.5h10.07v10.07h-10.07zM546.59 576.5h10.07v10.07h-10.07zM556.66 576.5h10.07v10.07h-10.07zM566.72 576.5h10.06v10.06h-10.06zM576.79 576.5h10.06v10.06h-10.06zM586.84 576.5h10.06v10.06h-10.06zM596.9 576.5h10.04v10.04h-10.04zM606.94 576.5h10.04v10.04h-10.04zM616.98 576.5h10.03v10.03h-10.03zM627.01 576.5h10.03v10.03h-10.03zM637.04 576.5h10.03v10.03h-10.03zM647.07 576.5h10.02v10.02h-10.02zM657.09 576.5h10.02v10.02h-10.02zM667.11 576.5h10.02v10.02h-10.02zM677.13 576.5h10.01v10.01h-10.01zM687.14 576.5h10.01v10.01h-10.01zM697.15 576.5h10.01v10.01h-10.01zM707.16 576.5h10v10h-10zM717.16 576.5h10v10h-10zM727.16 576.5h10v10h-10zM737.16 576.5h10v10h-10zM747.16 576.5h10v10h-10zM757.16 576.5h9.99v9.99h-9.99zM767.15 576.5h9.99v9.99h-9.99zM777.15 576.5h9.99v9.99h-9.99zM787.14 576.5h9.99v9.99h-9.99zM797.13 576.5h9.99v9.99h-9.99zM807.11 576.5h9.99v9.99h-9.99zM817.1 576.5h9.99v9.99h-9.99zM827.09 576.5h9.99v9.99h-9.99zM837.08 576.5h9.99v9.99h-9.99zM847.06 576.5h9.98v9.98h-9.98zM857.05 576.5h9.98v9.98h-9.98zM867.03 576.5h9.98v9.98h-9.98zM877.01 576.5h9.98v9.98h-9.98zM886.99 576.5h9.98v9.98h-9.98zM896.97 576.5h9.98v9.98h-9.98zM906.94 576.5h9.97v9.97h-9.97zM916.91 576.5h9.97v9.97h-9.97zM926.89 576.5h9.97v9.97h-9.97zM936.86 576.5h9.97v9.97h-9.97zM946.83 576.5h9.97v9.97h-9.97zM956.79 576.5h9.97v9.97h-9.97zM966.76 576.5h9.96v9.96h-9.96zM976.72 576.5h9.96v9.96h-9.96zM986.68 576.5h9.96v9.96h-9.96zM996.64 576.5h9.96v9.96h-9.96zM375 586.6h10.01v10.01h-10.01zM385.01 586.6h10v10h-10zM395.01 586.6h10v10h-10zM405.01 586.6h10v10h-10zM415.01 586.6h9.99v9.99h-9.99zM425 586.6h9.99v9.99h-9.99zM434.99 586.6h9.99v9.99h-9.99zM444.98 586.6h9.99v9.99h-9.99zM454.97 586.6h9.98v9.98h-9.98zM464.95 586.6h9.98v9.98h-9.98zM474.93 586.6h9.98v9.98h-9.98zM484.9 586.6h9.97v9.97h-9.97zM494.88 586.6h9.97v9.97h-9.97zM504.84 586.6h9.96v9.96h-9.96zM514.8 586.6h9.96v9.96h-9.96zM524.76 586.6h9.95v9.95h-9.95zM534.71 586.6h9.95v9.95h-9.95zM544.65 586.6h9.94v9.94h-9.94zM554.59 586.6h9.93v9.93h-9.93zM564.53 586.6h9.93v9.93h-9.93zM574.46 586.6h9.92v9.92h-9.92zM584.38 586.6h9.92v9.92h-9.92zM594.3 586.6h9.91v9.91h-9.91zM604.21 586.6h9.9v9.9h-9.9zM614.1 586.6h9.89v9.89h-9.89zM624 586.6h9.89v9.89h-9.89zM633.89 586.6h9.88v9.88h-9.88zM643.77 586.6h9.88v9.88h-9.88zM653.65 586.6h9.87v9.87h-9.87zM663.52 586.6h9.87v9.87h-9.87zM673.39 586.6h9.86v9.86h-9.86zM683.25 586.6h9.86v9.86h-9.86zM693.11 586.6h9.85v9.85h-9.85zM702.96 586.6h9.85v9.85h-9.85zM712.81 586.6h9.84v9.84h-9.84zM722.65 586.6h9.84v9.84h-9.84zM732.49 586.6h9.83v9.83h-9.83zM742.32 586.6h9.83v9.83h-9.83zM752.14 586.6h9.82v9.82h-9.82zM761.97 586.6h9.82v9.82h-9.82zM771.78 586.6h9.81v9.81h-9.81zM781.6 586.6h9.81v9.81h-9.81zM791.4 586.6h9.8v9.8h-9.8zM801.21 586.6h9.8v9.8h-9.8zM811.01 586.6h9.79v9.79h-9.79zM820.8 586.6h9.79v9.79h-9.79zM830.59 586.6h9.79v9.79h-9.79zM840.38 586.6h9.78v9.78h-9.78zM850.16 586.6h9.78v9.78h-9.78zM859.93 586.6h9.77v9.77h-9.77zM869.7 586.6h9.77v9.77h-9.77zM879.47 586.6h9.76v9.76h-9.76zM889.23 586.6h9.76v9.76h-9.76zM898.99 586.6h9.75v9.75h-9.75zM908.74 586.6h9.75v9.75h-9.75zM918.49 586.6h9.74v9.74h-9.74zM928.23 586.6h9.74v9.74h-9.74zM937.97 586.6h9.73v9.73h-9.73zM947.7 586.6h9.73v9.73h-9.73zM957.43 586.6h9.72v9.72h-9.72zM967.15 586.6h9.72v9.72h-9.72zM976.87 586.6h9.71v9.71h-9.71zM986.59 586.6h9.71v9.71h-9.71zM996.3 586.6h9.7v9.7h-9.7zM375 596.6h9.87v9.87h-9.87zM384.87 596.6h9.86v9.86h-9.86zM394.73 596.6h9.85v9.85h-9.85zM404.58 596.6h9.84v9.84h-9.84zM414.42 596.6h9.82v9.82h-9.82zM424.24 596.6h9.81v9.81h-9.81zM434.05 596.6h9.8v9.8h-9.8zM443.85 596.6h9.79v9.79h-9.79zM453.64 596.6h9.77v9.77h-9.77zM463.41 596.6h9.76v9.76h-9.76zM473.17 596.6h9.75v9.75h-9.75zM482.92 596.6h9.73v9.73h-9.73zM492.65 596.6h9.73v9.73h-9.73zM502.38 596.6h9.73v9.73h-9.73zM512.11 596.6h9.72v9.72h-9.72zM521.84 596.6h9.72v9.72h-9.72zM531.56 596.6h9.72v9.72h-9.72zM541.27 596.6h9.71v9.71h-9.71zM550.99 596.6h9.71v9.71h-9.71zM560.7 596.6h9.71v9.71h-9.71zM570.4 596.6h9.7v9.7h-9.7zM580.11 596.6h9.7v9.7h-9.7zM589.8 596.6h9.7v9.7h-9.7zM599.5 596.6h9.71v9.71h-9.71zM609.21 596.6h9.71v9.71h-9.71zM618.92 596.6h9.71v9.71h-9.71zM628.63 596.6h9.7v9.7h-9.7zM638.33 596.6h9.7v9.7h-9.7zM648.03 596.6h9.69v9.69h-9.69zM657.72 596.6h9.69v9.69h-9.69zM667.41 596.6h9.69v9.69h-9.69zM677.1 596.6h9.68v9.68h-9.68zM686.78 596.6h9.68v9.68h-9.68zM696.46 596.6h9.68v9.68h-9.68zM706.14 596.6h9.67v9.67h-9.67zM715.81 596.6h9.67v9.67h-9.67zM725.48 596.6h9.67v9.67h-9.67zM735.15 596.6h9.67v9.67h-9.67zM744.82 596.6h9.67v9.67h-9.67zM754.49 596.6h9.66v9.66h-9.66zM764.15 596.6h9.66v9.66h-9.66zM773.81 596.6h9.66v9.66h-9.66zM783.48 596.6h9.66v9.66h-9.66zM793.13 596.6h9.66v9.66h-9.66zM802.79 596.6h9.66v9.66h-9.66zM812.45 596.6h9.65v9.65h-9.65zM822.1 596.6h9.66v9.66h-9.66zM831.76 596.6h9.66v9.66h-9.66zM841.41 596.6h9.65v9.65h-9.65zM851.07 596.6h9.65v9.65h-9.65zM860.72 596.6h9.65v9.65h-9.65zM870.37 596.6h9.65v9.65h-9.65zM880.01 596.6h9.65v9.65h-9.65zM889.66 596.6h9.64v9.64h-9.64zM899.31 596.6h9.64v9.64h-9.64zM908.95 596.6h9.64v9.64h-9.64zM918.59 596.6h9.64v9.64h-9.64zM928.23 596.6h9.64v9.64h-9.64zM937.87 596.6h9.64v9.64h-9.64zM947.5 596.6h9.63v9.63h-9.63zM957.13 596.6h9.63v9.63h-9.63zM966.77 596.6h9.63v9.63h-9.63zM976.4 596.6h9.63v9.63h-9.63zM986.03 596.6h9.63v9.63h-9.63zM995.65 596.6h9.62v9.62h-9.62zM1005.28 596.6h9.62v9.62h-9.62zM375 606.5h9.63v9.63h-9.63zM384.63 606.5h9.63v9.63h-9.63zM394.25 606.5h9.63v9.63h-9.63zM403.88 606.5h9.63v9.63h-9.63zM413.51 606.5h9.63v9.63h-9.63zM423.13 606.5h9.63v9.63h-9.63zM432.76 606.5h9.63v9.63h-9.63zM442.39 606.5h9.63v9.63h-9.63zM452.01 606.5h9.63v9.63h-9.63zM461.64 606.5h9.63v9.63h-9.63zM471.27 606.5h9.63v9.63h-9.63zM480.89 606.5h9.63v9.63h-9.63zM490.52 606.5h9.62v9.62h-9.62zM500.14 606.5h9.61v9.61h-9.61zM509.75 606.5h9.61v9.61h-9.61zM519.36 606.5h9.6v9.6h-9.6zM528.96 606.5h9.6v9.6h-9.6zM538.56 606.5h9.59v9.59h-9.59zM548.15 606.5h9.58v9.58h-9.58zM557.73 606.5h9.58v9.58h-9.58zM567.31 606.5h9.57v9.57h-9.57zM576.88 606.5h9.56v9.56h-9.56zM586.44 606.5h9.56v9.56h-9.56zM596 606.5h9.53v9.53h-9.53zM605.53 606.5h9.52v9.52h-9.52zM615.05 606.5h9.52v9.52h-9.52zM624.57 606.5h9.51v9.51h-9.51zM634.08 606.5h9.5v9.5h-9.5zM643.58 606.5h9.5v9.5h-9.5zM653.08 606.5h9.49v9.49h-9.49zM662.57 606.5h9.49v9.49h-9.49zM672.06 606.5h9.48v9.48h-9.48zM681.54 606.5h9.47v9.47h-9.47zM691.01 606.5h9.47v9.47h-9.47zM700.48 606.5h9.46v9.46h-9.46zM709.94 606.5h9.46v9.46h-9.46zM719.4 606.5h9.45v9.45h-9.45zM728.85 606.5h9.45v9.45h-9.45zM738.29 606.5h9.44v9.44h-9.44zM747.74 606.5h9.44v9.44h-9.44zM757.17 606.5h9.43v9.43h-9.43zM766.6 606.5h9.43v9.43h-9.43zM776.03 606.5h9.42v9.42h-9.42zM785.46 606.5h9.42v9.42h-9.42zM794.87 606.5h9.41v9.41h-9.41zM804.29 606.5h9.41v9.41h-9.41zM813.7 606.5h9.4v9.4h-9.4zM823.1 606.5h9.4v9.4h-9.4zM832.5 606.5h9.4v9.4h-9.4zM841.9 606.5h9.39v9.39h-9.39zM851.3 606.5h9.39v9.39h-9.39zM860.69 606.5h9.39v9.39h-9.39zM870.07 606.5h9.38v9.38h-9.38zM879.46 606.5h9.38v9.38h-9.38zM888.83 606.5h9.37v9.37h-9.37zM898.2 606.5h9.37v9.37h-9.37zM907.57 606.5h9.36v9.36h-9.36zM916.93 606.5h9.36v9.36h-9.36zM926.29 606.5h9.35v9.35h-9.35zM935.64 606.5h9.35v9.35h-9.35zM944.99 606.5h9.34v9.34h-9.34zM954.34 606.5h9.34v9.34h-9.34zM963.67 606.5h9.33v9.33h-9.33zM973.01 606.5h9.33v9.33h-9.33zM982.34 606.5h9.33v9.33h-9.33zM991.66 606.5h9.32v9.32h-9.32zM1000.98 606.5h9.32v9.32h-9.32zM375 616h9.47v9.47h-9.47zM384.47 616h9.46v9.46h-9.46zM393.93 616h9.44v9.44h-9.44zM403.37 616h9.43v9.43h-9.43zM412.8 616h9.41v9.41h-9.41zM422.21 616h9.4v9.4h-9.4zM431.61 616h9.38v9.38h-9.38zM441 616h9.37v9.37h-9.37zM450.37 616h9.36v9.36h-9.36zM459.72 616h9.34v9.34h-9.34zM469.06 616h9.33v9.33h-9.33zM478.39 616h9.31v9.31h-9.31zM487.7 616h9.3v9.3h-9.3zM497 616h9.3v9.3h-9.3zM506.3 616h9.29v9.29h-9.29zM515.59 616h9.29v9.29h-9.29zM524.88 616h9.28v9.28h-9.28zM534.16 616h9.28v9.28h-9.28zM543.44 616h9.27v9.27h-9.27zM552.71 616h9.27v9.27h-9.27zM561.98 616h9.26v9.26h-9.26zM571.24 616h9.26v9.26h-9.26zM580.5 616h9.25v9.25h-9.25zM589.75 616h9.25v9.25h-9.25zM599 616h9.26v9.26h-9.26zM608.26 616h9.26v9.26h-9.26zM617.52 616h9.25v9.25h-9.25zM626.77 616h9.25v9.25h-9.25zM636.02 616h9.24v9.24h-9.24zM645.26 616h9.24v9.24h-9.24zM654.49 616h9.23v9.23h-9.23zM663.72 616h9.23v9.23h-9.23zM672.95 616h9.22v9.22h-9.22zM682.17 616h9.22v9.22h-9.22zM691.39 616h9.21v9.21h-9.21zM700.6 616h9.21v9.21h-9.21zM709.8 616h9.2v9.2h-9.2zM719.01 616h9.2v9.2h-9.2zM728.21 616h9.2v9.2h-9.2zM737.41 616h9.2v9.2h-9.2zM746.6 616h9.19v9.19h-9.19zM755.8 616h9.19v9.19h-9.19zM764.99 616h9.19v9.19h-9.19zM774.18 616h9.19v9.19h-9.19zM783.37 616h9.19v9.19h-9.19zM792.55 616h9.18v9.18h-9.18zM801.74 616h9.18v9.18h-9.18zM810.92 616h9.18v9.18h-9.18zM820.1 616h9.19v9.19h-9.19zM829.29 616h9.19v9.19h-9.19zM838.47 616h9.18v9.18h-9.18zM847.65 616h9.18v9.18h-9.18zM856.84 616h9.18v9.18h-9.18zM866.01 616h9.18v9.18h-9.18zM875.19 616h9.17v9.17h-9.17zM884.37 616h9.17v9.17h-9.17zM893.54 616h9.17v9.17h-9.17zM902.71 616h9.17v9.17h-9.17zM911.88 616h9.17v9.17h-9.17zM921.05 616h9.16v9.16h-9.16zM930.21 616h9.16v9.16h-9.16zM939.37 616h9.16v9.16h-9.16zM948.53 616h9.16v9.16h-9.16zM957.69 616h9.16v9.16h-9.16zM966.85 616h9.15v9.15h-9.15zM976 616h9.15v9.15h-9.15zM985.15 616h9.15v9.15h-9.15zM994.31 616h9.15v9.15h-9.15zM1003.45 616h9.15v9.15h-9.15zM375 625.5h9.11v9.11h-9.11zM384.11 625.5h9.11v9.11h-9.11zM393.22 625.5h9.1v9.1h-9.1zM402.32 625.5h9.1v9.1h-9.1zM411.42 625.5h9.1v9.1h-9.1zM420.52 625.5h9.09v9.09h-9.09zM429.61 625.5h9.09v9.09h-9.09zM438.71 625.5h9.09v9.09h-9.09zM447.79 625.5h9.09v9.09h-9.09zM456.88 625.5h9.08v9.08h-9.08zM465.96 625.5h9.08v9.08h-9.08zM475.04 625.5h9.08v9.08h-9.08zM484.12 625.5h9.07v9.07h-9.07zM493.2 625.5h9.07v9.07h-9.07zM502.26 625.5h9.06v9.06h-9.06zM511.32 625.5h9.05v9.05h-9.05zM520.38 625.5h9.05v9.05h-9.05zM529.43 625.5h9.04v9.04h-9.04zM538.47 625.5h9.04v9.04h-9.04zM547.51 625.5h9.03v9.03h-9.03zM556.54 625.5h9.02v9.02h-9.02zM565.56 625.5h9.02v9.02h-9.02zM574.58 625.5h9.01v9.01h-9.01zM583.59 625.5h9.01v9.01h-9.01zM592.6 625.5h8.98v8.98h-8.98zM601.58 625.5h8.97v8.97h-8.97zM610.55 625.5h8.97v8.97h-8.97zM619.52 625.5h8.96v8.96h-8.96zM628.48 625.5h8.96v8.96h-8.96zM637.44 625.5h8.95v8.95h-8.95zM646.39 625.5h8.94v8.94h-8.94zM655.33 625.5h8.94v8.94h-8.94zM664.27 625.5h8.93v8.93h-8.93zM673.2 625.5h8.93v8.93h-8.93zM682.13 625.5h8.92v8.92h-8.92zM691.05 625.5h8.91v8.91h-8.91zM699.96 625.5h8.91v8.91h-8.91zM708.87 625.5h8.9v8.9h-8.9zM717.77 625.5h8.9v8.9h-8.9zM726.67 625.5h8.9v8.9h-8.9zM735.57 625.5h8.9v8.9h-8.9zM744.46 625.5h8.89v8.89h-8.89zM753.36 625.5h8.89v8.89h-8.89zM762.25 625.5h8.89v8.89h-8.89zM771.13 625.5h8.88v8.88h-8.88zM780.02 625.5h8.88v8.88h-8.88zM788.9 625.5h8.88v8.88h-8.88zM797.78 625.5h8.88v8.88h-8.88zM806.66 625.5h8.87v8.87h-8.87zM815.53 625.5h8.87v8.87h-8.87zM824.4 625.5h8.88v8.88h-8.88zM833.28 625.5h8.88v8.88h-8.88zM842.16 625.5h8.87v8.87h-8.87zM851.03 625.5h8.87v8.87h-8.87zM859.9 625.5h8.87v8.87h-8.87zM868.77 625.5h8.87v8.87h-8.87zM877.63 625.5h8.86v8.86h-8.86zM886.5 625.5h8.86v8.86h-8.86zM895.36 625.5h8.86v8.86h-8.86zM904.22 625.5h8.86v8.86h-8.86zM913.07 625.5h8.85v8.85h-8.85zM921.92 625.5h8.85v8.85h-8.85zM930.77 625.5h8.85v8.85h-8.85zM939.62 625.5h8.84v8.84h-8.84zM948.46 625.5h8.84v8.84h-8.84zM957.31 625.5h8.84v8.84h-8.84zM966.15 625.5h8.84v8.84h-8.84zM974.98 625.5h8.83v8.83h-8.83zM983.82 625.5h8.83v8.83h-8.83zM992.65 625.5h8.83v8.83h-8.83zM1001.47 625.5h8.83v8.83h-8.83zM375 634.6h8.76v8.76h-8.76zM383.76 634.6h8.76v8.76h-8.76zM392.53 634.6h8.76v8.76h-8.76zM401.29 634.6h8.76v8.76h-8.76zM410.05 634.6h8.76v8.76h-8.76zM418.82 634.6h8.76v8.76h-8.76zM427.58 634.6h8.76v8.76h-8.76zM436.34 634.6h8.76v8.76h-8.76zM445.1 634.6h8.76v8.76h-8.76zM453.87 634.6h8.76v8.76h-8.76zM462.63 634.6h8.76v8.76h-8.76zM471.39 634.6h8.76v8.76h-8.76zM480.16 634.6h8.76v8.76h-8.76zM488.92 634.6h8.76v8.76h-8.76zM497.68 634.6h8.75v8.75h-8.75zM506.43 634.6h8.74v8.74h-8.74zM515.17 634.6h8.74v8.74h-8.74zM523.91 634.6h8.73v8.73h-8.73zM532.64 634.6h8.73v8.73h-8.73zM541.37 634.6h8.72v8.72h-8.72zM550.09 634.6h8.71v8.71h-8.71zM558.8 634.6h8.71v8.71h-8.71zM567.51 634.6h8.7v8.7h-8.7zM576.21 634.6h8.7v8.7h-8.7zM584.91 634.6h8.69v8.69h-8.69zM593.6 634.6h8.65v8.65h-8.65zM602.25 634.6h8.65v8.65h-8.65zM610.9 634.6h8.64v8.64h-8.64zM619.54 634.6h8.64v8.64h-8.64zM628.18 634.6h8.63v8.63h-8.63zM636.81 634.6h8.62v8.62h-8.62zM645.43 634.6h8.62v8.62h-8.62zM654.05 634.6h8.61v8.61h-8.61zM662.66 634.6h8.61v8.61h-8.61zM671.27 634.6h8.6v8.6h-8.6zM679.87 634.6h8.59v8.59h-8.59zM688.46 634.6h8.59v8.59h-8.59zM697.05 634.6h8.58v8.58h-8.58zM705.63 634.6h8.58v8.58h-8.58zM714.21 634.6h8.57v8.57h-8.57zM722.78 634.6h8.57v8.57h-8.57zM731.35 634.6h8.57v8.57h-8.57zM739.91 634.6h8.56v8.56h-8.56zM748.48 634.6h8.56v8.56h-8.56zM757.04 634.6h8.56v8.56h-8.56zM765.59 634.6h8.55v8.55h-8.55zM774.14 634.6h8.55v8.55h-8.55zM782.7 634.6h8.55v8.55h-8.55zM791.24 634.6h8.54v8.54h-8.54zM799.79 634.6h8.54v8.54h-8.54zM808.33 634.6h8.54v8.54h-8.54zM816.87 634.6h8.53v8.53h-8.53zM825.4 634.6h8.54v8.54h-8.54zM833.94 634.6h8.54v8.54h-8.54zM842.48 634.6h8.54v8.54h-8.54zM851.02 634.6h8.53v8.53h-8.53zM859.55 634.6h8.53v8.53h-8.53zM868.08 634.6h8.53v8.53h-8.53zM876.6 634.6h8.52v8.52h-8.52zM885.13 634.6h8.52v8.52h-8.52zM893.65 634.6h8.52v8.52h-8.52zM902.16 634.6h8.51v8.51h-8.51zM910.68 634.6h8.51v8.51h-8.51zM919.19 634.6h8.51v8.51h-8.51zM927.7 634.6h8.5v8.5h-8.5zM936.2 634.6h8.5v8.5h-8.5zM944.7 634.6h8.5v8.5h-8.5zM953.2 634.6h8.5v8.5h-8.5zM961.69 634.6h8.49v8.49h-8.49zM970.19 634.6h8.49v8.49h-8.49zM978.68 634.6h8.49v8.49h-8.49zM987.16 634.6h8.48v8.48h-8.48zM995.64 634.6h8.48v8.48h-8.48zM1004.12 634.6h8.48v8.48h-8.48zM375 643h8.43v8.43h-8.43zM383.43 643h8.43v8.43h-8.43zM391.85 643h8.43v8.43h-8.43zM400.28 643h8.43v8.43h-8.43zM408.71 643h8.43v8.43h-8.43zM417.14 643h8.43v8.43h-8.43zM425.56 643h8.43v8.43h-8.43zM433.99 643h8.43v8.43h-8.43zM442.42 643h8.43v8.43h-8.43zM450.84 643h8.42v8.42h-8.42zM459.27 643h8.42v8.42h-8.42zM467.69 643h8.42v8.42h-8.42zM476.1 643h8.41v8.41h-8.41zM484.51 643h8.41v8.41h-8.41zM492.92 643h8.4v8.4h-8.4zM501.32 643h8.4v8.4h-8.4zM509.72 643h8.39v8.39h-8.39zM518.11 643h8.39v8.39h-8.39zM526.5 643h8.37v8.37h-8.37zM534.87 643h8.37v8.37h-8.37zM543.24 643h8.36v8.36h-8.36zM551.6 643h8.36v8.36h-8.36zM559.95 643h8.35v8.35h-8.35zM568.3 643h8.35v8.35h-8.35zM576.65 643h8.34v8.34h-8.34zM584.99 643h8.34v8.34h-8.34zM593.33 643h8.33v8.33h-8.33zM601.66 643h8.33v8.33h-8.33zM609.99 643h8.33v8.33h-8.33zM618.32 643h8.32v8.32h-8.32zM626.64 643h8.32v8.32h-8.32zM634.96 643h8.32v8.32h-8.32zM643.27 643h8.31v8.31h-8.31zM651.59 643h8.31v8.31h-8.31zM659.89 643h8.31v8.31h-8.31zM668.2 643h8.3v8.3h-8.3zM676.5 643h8.3v8.3h-8.3zM684.8 643h8.3v8.3h-8.3zM693.1 643h8.3v8.3h-8.3zM701.39 643h8.29v8.29h-8.29zM709.69 643h8.29v8.29h-8.29zM717.98 643h8.29v8.29h-8.29zM726.26 643h8.28v8.28h-8.28zM734.54 643h8.28v8.28h-8.28zM742.82 643h8.28v8.28h-8.28zM751.1 643h8.27v8.27h-8.27zM759.37 643h8.27v8.27h-8.27zM767.64 643h8.27v8.27h-8.27zM775.91 643h8.26v8.26h-8.26zM784.17 643h8.26v8.26h-8.26zM792.43 643h8.25v8.25h-8.25zM800.68 643h8.25v8.25h-8.25zM808.93 643h8.25v8.25h-8.25zM817.18 643h8.24v8.24h-8.24zM825.42 643h8.24v8.24h-8.24zM833.66 643h8.24v8.24h-8.24zM841.9 643h8.23v8.23h-8.23zM850.13 643h8.23v8.23h-8.23zM858.36 643h8.22v8.22h-8.22zM866.58 643h8.22v8.22h-8.22zM874.81 643h8.22v8.22h-8.22zM883.02 643h8.21v8.21h-8.21zM891.24 643h8.21v8.21h-8.21zM899.45 643h8.21v8.21h-8.21zM907.65 643h8.2v8.2h-8.2zM915.85 643h8.2v8.2h-8.2zM924.05 643h8.2v8.2h-8.2zM932.25 643h8.19v8.19h-8.19zM940.44 643h8.19v8.19h-8.19zM948.63 643h8.18v8.18h-8.18zM956.81 643h8.18v8.18h-8.18zM964.99 643h8.18v8.18h-8.18zM973.17 643h8.17v8.17h-8.17zM981.34 643h8.17v8.17h-8.17zM989.51 643h8.17v8.17h-8.17zM997.68 643h8.16v8.16h-8.16zM1005.84 643h8.16v8.16h-8.16zM375 651.3h8.24v8.24h-8.24zM383.24 651.3h8.21v8.21h-8.21zM391.45 651.3h8.19v8.19h-8.19zM399.64 651.3h8.16v8.16h-8.16zM407.8 651.3h8.13v8.13h-8.13zM415.93 651.3h8.1v8.1h-8.1zM424.03 651.3h8.08v8.08h-8.08zM432.11 651.3h8.05v8.05h-8.05zM440.16 651.3h8.02v8.02h-8.02zM448.18 651.3h7.99v7.99h-7.99zM456.17 651.3h7.99v7.99h-7.99zM464.16 651.3h7.99v7.99h-7.99zM472.15 651.3h7.99v7.99h-7.99zM480.14 651.3h7.98v7.98h-7.98zM488.12 651.3h7.98v7.98h-7.98zM496.1 651.3h7.98v7.98h-7.98zM504.08 651.3h7.98v7.98h-7.98zM512.06 651.3h7.97v7.97h-7.97zM520.03 651.3h7.97v7.97h-7.97zM528 651.3h8.03v8.03h-8.03zM536.03 651.3h8.03v8.03h-8.03zM544.06 651.3h8.02v8.02h-8.02zM552.08 651.3h8.02v8.02h-8.02zM560.11 651.3h8.02v8.02h-8.02zM568.12 651.3h8.02v8.02h-8.02zM576.14 651.3h8.01v8.01h-8.01zM584.16 651.3h8.01v8.01h-8.01zM592.17 651.3h8.01v8.01h-8.01zM600.18 651.3h8.01v8.01h-8.01zM608.18 651.3h8v8h-8zM616.18 651.3h8v8h-8zM624.18 651.3h7.99v7.99h-7.99zM632.17 651.3h7.99v7.99h-7.99zM640.15 651.3h7.98v7.98h-7.98zM648.13 651.3h7.97v7.97h-7.97zM656.11 651.3h7.97v7.97h-7.97zM664.08 651.3h7.96v7.96h-7.96zM672.04 651.3h7.96v7.96h-7.96zM680 651.3h7.96v7.96h-7.96zM687.96 651.3h7.95v7.95h-7.95zM695.91 651.3h7.95v7.95h-7.95zM703.86 651.3h7.94v7.94h-7.94zM711.8 651.3h7.94v7.94h-7.94zM719.74 651.3h7.93v7.93h-7.93zM727.68 651.3h7.93v7.93h-7.93zM735.6 651.3h7.92v7.92h-7.92zM743.53 651.3h7.92v7.92h-7.92zM751.44 651.3h7.91v7.91h-7.91zM759.36 651.3h7.91v7.91h-7.91zM767.26 651.3h7.9v7.9h-7.9zM775.16 651.3h7.89v7.89h-7.89zM783.04 651.3h7.88v7.88h-7.88zM790.92 651.3h7.87v7.87h-7.87zM798.79 651.3h7.86v7.86h-7.86zM806.65 651.3h7.85v7.85h-7.85zM814.5 651.3h7.84v7.84h-7.84zM822.34 651.3h7.83v7.83h-7.83zM830.18 651.3h7.82v7.82h-7.82zM838 651.3h7.8v7.8h-7.8zM845.8 651.3h7.8v7.8h-7.8zM853.6 651.3h7.79v7.79h-7.79zM861.39 651.3h7.78v7.78h-7.78zM869.16 651.3h7.77v7.77h-7.77zM876.93 651.3h7.76v7.76h-7.76zM884.69 651.3h7.75v7.75h-7.75zM892.44 651.3h7.74v7.74h-7.74zM900.18 651.3h7.73v7.73h-7.73zM907.91 651.3h7.72v7.72h-7.72zM915.63 651.3h7.71v7.71h-7.71zM923.35 651.3h7.7v7.7h-7.7zM931.05 651.3h7.7v7.7h-7.7zM938.75 651.3h7.69v7.69h-7.69zM946.43 651.3h7.68v7.68h-7.68zM954.11 651.3h7.67v7.67h-7.67zM961.78 651.3h7.66v7.66h-7.66zM969.44 651.3h7.65v7.65h-7.65zM977.09 651.3h7.64v7.64h-7.64zM984.73 651.3h7.63v7.63h-7.63zM992.36 651.3h7.62v7.62h-7.62zM999.98 651.3h7.61v7.61h-7.61zM1007.6 651.3h7.6v7.6h-7.6zM375 659.6h7.77v7.77h-7.77zM382.77 659.6h7.75v7.75h-7.75zM390.52 659.6h7.73v7.73h-7.73zM398.26 659.6h7.72v7.72h-7.72zM405.98 659.6h7.7v7.7h-7.7zM413.67 659.6h7.68v7.68h-7.68zM421.35 659.6h7.66v7.66h-7.66zM429.02 659.6h7.64v7.64h-7.64zM436.66 659.6h7.62v7.62h-7.62zM444.28 659.6h7.61v7.61h-7.61zM451.89 659.6h7.59v7.59h-7.59zM459.48 659.6h7.59v7.59h-7.59zM467.07 659.6h7.58v7.58h-7.58zM474.65 659.6h7.57v7.57h-7.57zM482.22 659.6h7.56v7.56h-7.56zM489.79 659.6h7.56v7.56h-7.56zM497.34 659.6h7.55v7.55h-7.55zM504.89 659.6h7.54v7.54h-7.54zM512.44 659.6h7.54v7.54h-7.54zM519.97 659.6h7.53v7.53h-7.53zM527.5 659.6h7.56v7.56h-7.56zM535.06 659.6h7.55v7.55h-7.55zM542.6 659.6h7.54v7.54h-7.54zM550.15 659.6h7.53v7.53h-7.53zM557.68 659.6h7.53v7.53h-7.53zM565.21 659.6h7.52v7.52h-7.52zM572.73 659.6h7.51v7.51h-7.51zM580.24 659.6h7.5v7.5h-7.5zM587.74 659.6h7.5v7.5h-7.5zM595.24 659.6h7.49v7.49h-7.49zM602.73 659.6h7.48v7.48h-7.48zM610.21 659.6h7.47v7.47h-7.47zM617.69 659.6h7.46v7.46h-7.46zM625.15 659.6h7.45v7.45h-7.45zM632.6 659.6h7.44v7.44h-7.44zM640.05 659.6h7.43v7.43h-7.43zM647.48 659.6h7.42v7.42h-7.42zM654.9 659.6h7.41v7.41h-7.41zM662.32 659.6h7.4v7.4h-7.4zM669.72 659.6h7.39v7.39h-7.39zM677.12 659.6h7.38v7.38h-7.38zM684.5 659.6h7.37v7.37h-7.37zM691.87 659.6h7.36v7.36h-7.36zM699.22 659.6h7.35v7.35h-7.35zM706.57 659.6h7.34v7.34h-7.34zM713.9 659.6h7.33v7.33h-7.33zM721.23 659.6h7.32v7.32h-7.32zM728.55 659.6h7.31v7.31h-7.31zM735.85 659.6h7.3v7.3h-7.3zM743.15 659.6h7.29v7.29h-7.29zM750.44 659.6h7.28v7.28h-7.28zM757.71 659.6h7.27v7.27h-7.27zM764.98 659.6h7.26v7.26h-7.26zM772.24 659.6h7.25v7.25h-7.25zM779.49 659.6h7.24v7.24h-7.24zM786.72 659.6h7.23v7.23h-7.23zM793.95 659.6h7.22v7.22h-7.22zM801.17 659.6h7.21v7.21h-7.21zM808.38 659.6h7.2v7.2h-7.2zM815.59 659.6h7.19v7.19h-7.19zM822.78 659.6h7.18v7.18h-7.18zM829.96 659.6h7.17v7.17h-7.17zM837.14 659.6h7.16v7.16h-7.16zM844.3 659.6h7.16v7.16h-7.16zM851.46 659.6h7.15v7.15h-7.15zM858.6 659.6h7.14v7.14h-7.14zM865.74 659.6h7.13v7.13h-7.13zM872.87 659.6h7.12v7.12h-7.12zM879.99 659.6h7.11v7.11h-7.11zM887.1 659.6h7.1v7.1h-7.1zM894.2 659.6h7.09v7.09h-7.09zM901.29 659.6h7.08v7.08h-7.08zM908.38 659.6h7.07v7.07h-7.07zM915.45 659.6h7.06v7.06h-7.06zM922.51 659.6h7.05v7.05h-7.05zM929.57 659.6h7.05v7.05h-7.05zM936.61 659.6h7.04v7.04h-7.04zM943.65 659.6h7.03v7.03h-7.03zM950.68 659.6h7.02v7.02h-7.02zM957.69 659.6h7.01v7.01h-7.01zM964.7 659.6h7v7h-7zM971.7 659.6h6.99v6.99h-6.99zM978.69 659.6h6.98v6.98h-6.98zM985.67 659.6h6.97v6.97h-6.97zM992.64 659.6h6.96v6.96h-6.96zM999.6 659.6h6.95v6.95h-6.95zM1006.56 659.6h6.94v6.94h-6.94zM375 667.4h6.62v6.62h-6.62zM381.62 667.4h6.62v6.62h-6.62zM388.24 667.4h6.62v6.62h-6.62zM394.86 667.4h6.62v6.62h-6.62zM401.48 667.4h6.62v6.62h-6.62zM408.1 667.4h6.62v6.62h-6.62zM414.72 667.4h6.62v6.62h-6.62zM421.34 667.4h6.62v6.62h-6.62zM427.96 667.4h6.62v6.62h-6.62zM434.57 667.4h6.62v6.62h-6.62zM441.19 667.4h6.62v6.62h-6.62zM447.81 667.4h6.62v6.62h-6.62zM454.43 667.4h6.61v6.61h-6.61zM461.05 667.4h6.61v6.61h-6.61zM467.65 667.4h6.6v6.6h-6.6zM474.25 667.4h6.59v6.59h-6.59zM480.84 667.4h6.59v6.59h-6.59zM487.43 667.4h6.58v6.58h-6.58zM494.01 667.4h6.57v6.57h-6.57zM500.58 667.4h6.57v6.57h-6.57zM507.14 667.4h6.56v6.56h-6.56zM513.7 667.4h6.55v6.55h-6.55zM520.25 667.4h6.55v6.55h-6.55zM526.8 667.4h6.52v6.52h-6.52zM533.32 667.4h6.51v6.51h-6.51zM539.84 667.4h6.51v6.51h-6.51zM546.34 667.4h6.5v6.5h-6.5zM552.84 667.4h6.49v6.49h-6.49zM559.34 667.4h6.49v6.49h-6.49zM565.83 667.4h6.48v6.48h-6.48zM572.31 667.4h6.47v6.47h-6.47zM578.78 667.4h6.47v6.47h-6.47zM585.25 667.4h6.46v6.46h-6.46zM591.71 667.4h6.45v6.45h-6.45zM598.16 667.4h6.45v6.45h-6.45zM604.61 667.4h6.44v6.44h-6.44zM611.05 667.4h6.43v6.43h-6.43zM617.48 667.4h6.43v6.43h-6.43zM623.91 667.4h6.42v6.42h-6.42zM630.33 667.4h6.41v6.41h-6.41zM636.74 667.4h6.4v6.4h-6.4zM643.14 667.4h6.4v6.4h-6.4zM649.53 667.4h6.39v6.39h-6.39zM655.92 667.4h6.38v6.38h-6.38zM662.3 667.4h6.37v6.37h-6.37zM668.68 667.4h6.37v6.37h-6.37zM675.04 667.4h6.36v6.36h-6.36zM681.4 667.4h6.35v6.35h-6.35zM687.75 667.4h6.35v6.35h-6.35zM694.1 667.4h6.34v6.34h-6.34zM700.44 667.4h6.33v6.33h-6.33zM706.77 667.4h6.32v6.32h-6.32zM713.09 667.4h6.32v6.32h-6.32zM719.41 667.4h6.31v6.31h-6.31zM725.71 667.4h6.3v6.3h-6.3zM732.01 667.4h6.29v6.29h-6.29zM738.31 667.4h6.29v6.29h-6.29zM744.59 667.4h6.28v6.28h-6.28zM750.87 667.4h6.27v6.27h-6.27zM757.14 667.4h6.26v6.26h-6.26zM763.41 667.4h6.26v6.26h-6.26zM769.66 667.4h6.25v6.25h-6.25zM775.91 667.4h6.24v6.24h-6.24zM782.15 667.4h6.23v6.23h-6.23zM788.38 667.4h6.22v6.22h-6.22zM794.6 667.4h6.21v6.21h-6.21zM800.81 667.4h6.2v6.2h-6.2zM807.01 667.4h6.19v6.19h-6.19zM813.21 667.4h6.19v6.19h-6.19zM819.39 667.4h6.18v6.18h-6.18zM825.57 667.4h6.17v6.17h-6.17zM831.74 667.4h6.16v6.16h-6.16zM837.9 667.4h6.15v6.15h-6.15zM844.05 667.4h6.14v6.14h-6.14zM850.19 667.4h6.13v6.13h-6.13zM856.32 667.4h6.12v6.12h-6.12zM862.44 667.4h6.11v6.11h-6.11zM868.55 667.4h6.11v6.11h-6.11zM874.66 667.4h6.1v6.1h-6.1zM880.76 667.4h6.09v6.09h-6.09zM886.84 667.4h6.08v6.08h-6.08zM892.92 667.4h6.07v6.07h-6.07zM898.99 667.4h6.06v6.06h-6.06zM905.06 667.4h6.05v6.05h-6.05zM911.11 667.4h6.04v6.04h-6.04zM917.15 667.4h6.04v6.04h-6.04zM923.19 667.4h6.03v6.03h-6.03zM929.22 667.4h6.02v6.02h-6.02zM935.24 667.4h6.01v6.01h-6.01zM941.25 667.4h6v6h-6zM947.25 667.4h5.99v5.99h-5.99zM953.24 667.4h5.98v5.98h-5.98zM959.23 667.4h5.98v5.98h-5.98zM965.2 667.4h5.97v5.97h-5.97zM971.17 667.4h5.96v5.96h-5.96zM977.13 667.4h5.95v5.95h-5.95zM983.08 667.4h5.94v5.94h-5.94zM989.02 667.4h5.93v5.93h-5.93zM994.95 667.4h5.92v5.92h-5.92zM1000.88 667.4h5.92v5.92h-5.92zM1006.79 667.4h5.91v5.91h-5.91zM375 673.8h5.84v5.84h-5.84zM380.84 673.8h5.84v5.84h-5.84zM386.68 673.8h5.84v5.84h-5.84zM392.51 673.8h5.84v5.84h-5.84zM398.35 673.8h5.84v5.84h-5.84zM404.19 673.8h5.84v5.84h-5.84zM410.03 673.8h5.84v5.84h-5.84zM415.86 673.8h5.84v5.84h-5.84zM421.7 673.8h5.84v5.84h-5.84zM427.54 673.8h5.84v5.84h-5.84zM433.38 673.8h5.84v5.84h-5.84zM439.21 673.8h5.84v5.84h-5.84zM445.05 673.8h5.84v5.84h-5.84zM450.89 673.8h5.83v5.83h-5.83zM456.72 673.8h5.83v5.83h-5.83zM462.55 673.8h5.82v5.82h-5.82zM468.37 673.8h5.82v5.82h-5.82zM474.19 673.8h5.81v5.81h-5.81zM480 673.8h5.81v5.81h-5.81zM485.81 673.8h5.8v5.8h-5.8zM491.61 673.8h5.8v5.8h-5.8zM497.41 673.8h5.79v5.79h-5.79zM503.2 673.8h5.78v5.78h-5.78zM508.98 673.8h5.78v5.78h-5.78zM514.76 673.8h5.77v5.77h-5.77zM520.53 673.8h5.77v5.77h-5.77zM526.3 673.8h5.71v5.71h-5.71zM532.01 673.8h5.71v5.71h-5.71zM537.72 673.8h5.7v5.7h-5.7zM543.43 673.8h5.7v5.7h-5.7zM549.12 673.8h5.69v5.69h-5.69zM554.82 673.8h5.69v5.69h-5.69zM560.5 673.8h5.68v5.68h-5.68zM566.18 673.8h5.68v5.68h-5.68zM571.86 673.8h5.67v5.67h-5.67zM577.53 673.8h5.66v5.66h-5.66zM583.19 673.8h5.66v5.66h-5.66zM588.85 673.8h5.65v5.65h-5.65zM594.5 673.8h5.65v5.65h-5.65zM600.15 673.8h5.64v5.64h-5.64zM605.79 673.8h5.64v5.64h-5.64zM611.43 673.8h5.64v5.64h-5.64zM617.08 673.8h5.65v5.65h-5.65zM622.72 673.8h5.65v5.65h-5.65zM628.37 673.8h5.65v5.65h-5.65zM634.02 673.8h5.65v5.65h-5.65zM639.68 673.8h5.66v5.66h-5.66zM645.33 673.8h5.66v5.66h-5.66zM650.99 673.8h5.66v5.66h-5.66zM656.65 673.8h5.66v5.66h-5.66zM662.32 673.8h5.67v5.67h-5.67zM667.98 673.8h5.67v5.67h-5.67zM673.65 673.8h5.67v5.67h-5.67zM679.33 673.8h5.67v5.67h-5.67zM685 673.8h5.77v5.77h-5.77zM690.77 673.8h5.77v5.77h-5.77zM696.53 673.8h5.77v5.77h-5.77zM702.31 673.8h5.77v5.77h-5.77zM708.08 673.8h5.78v5.78h-5.78zM713.86 673.8h5.78v5.78h-5.78zM719.63 673.8h5.78v5.78h-5.78zM725.42 673.8h5.78v5.78h-5.78zM731.2 673.8h5.79v5.79h-5.79zM736.99 673.8h5.79v5.79h-5.79zM742.78 673.8h5.79v5.79h-5.79zM748.57 673.8h5.8v5.8h-5.8zM754.36 673.8h5.8v5.8h-5.8zM760.16 673.8h5.8v5.8h-5.8zM765.96 673.8h5.79v5.79h-5.79zM771.75 673.8h5.77v5.77h-5.77zM777.52 673.8h5.76v5.76h-5.76zM783.27 673.8h5.74v5.74h-5.74zM789.01 673.8h5.73v5.73h-5.73zM794.74 673.8h5.71v5.71h-5.71zM800.45 673.8h5.7v5.7h-5.7zM806.15 673.8h5.68v5.68h-5.68zM811.83 673.8h5.67v5.67h-5.67zM817.49 673.8h5.65v5.65h-5.65zM823.14 673.8h5.63v5.63h-5.63zM828.78 673.8h5.62v5.62h-5.62zM834.4 673.8h5.6v5.6h-5.6zM840 673.8h5.53v5.53h-5.53zM845.53 673.8h5.52v5.52h-5.52zM851.05 673.8h5.5v5.5h-5.5zM856.55 673.8h5.49v5.49h-5.49zM862.04 673.8h5.47v5.47h-5.47zM867.51 673.8h5.46v5.46h-5.46zM872.97 673.8h5.44v5.44h-5.44zM878.41 673.8h5.43v5.43h-5.43zM883.84 673.8h5.41v5.41h-5.41zM889.25 673.8h5.4v5.4h-5.4zM894.65 673.8h5.38v5.38h-5.38zM900.04 673.8h5.37v5.37h-5.37zM905.4 673.8h5.35v5.35h-5.35zM910.76 673.8h5.34v5.34h-5.34zM916.1 673.8h5.32v5.32h-5.32zM921.42 673.8h5.31v5.31h-5.31zM926.73 673.8h5.29v5.29h-5.29zM932.02 673.8h5.28v5.28h-5.28zM937.3 673.8h5.26v5.26h-5.26zM942.57 673.8h5.25v5.25h-5.25zM947.81 673.8h5.23v5.23h-5.23zM953.05 673.8h5.22v5.22h-5.22zM958.27 673.8h5.2v5.2h-5.2zM963.47 673.8h5.19v5.19h-5.19zM968.66 673.8h5.17v5.17h-5.17zM973.84 673.8h5.16v5.16h-5.16zM979 673.8h5.15v5.15h-5.15zM984.14 673.8h5.13v5.13h-5.13zM989.27 673.8h5.12v5.12h-5.12zM994.39 673.8h5.1v5.1h-5.1zM999.49 673.8h5.09v5.09h-5.09zM1004.57 673.8h5.07v5.07h-5.07zM1009.64 673.8h5.06v5.06h-5.06zM375 679.5h5.5v5.5h-5.5zM380.5 679.5h5.49v5.49h-5.49zM385.99 679.5h5.49v5.49h-5.49zM391.48 679.5h5.48v5.48h-5.48zM396.97 679.5h5.48v5.48h-5.48zM402.44 679.5h5.47v5.47h-5.47zM407.92 679.5h5.47v5.47h-5.47zM413.38 679.5h5.46v5.46h-5.46zM418.84 679.5h5.45v5.45h-5.45zM424.3 679.5h5.45v5.45h-5.45zM429.75 679.5h5.44v5.44h-5.44zM435.19 679.5h5.44v5.44h-5.44zM440.63 679.5h5.43v5.43h-5.43zM446.06 679.5h5.43v5.43h-5.43zM451.49 679.5h5.42v5.42h-5.42zM456.91 679.5h5.42v5.42h-5.42zM462.32 679.5h5.41v5.41h-5.41zM467.73 679.5h5.4v5.4h-5.4zM473.14 679.5h5.4v5.4h-5.4zM478.54 679.5h5.39v5.39h-5.39zM483.93 679.5h5.39v5.39h-5.39zM489.32 679.5h5.38v5.38h-5.38zM494.7 679.5h5.38v5.38h-5.38zM500.07 679.5h5.37v5.37h-5.37zM505.44 679.5h5.36v5.36h-5.36zM510.81 679.5h5.36v5.36h-5.36zM516.17 679.5h5.35v5.35h-5.35zM521.52 679.5h5.35v5.35h-5.35zM526.87 679.5h5.34v5.34h-5.34zM532.21 679.5h5.34v5.34h-5.34zM537.55 679.5h5.33v5.33h-5.33zM542.88 679.5h5.33v5.33h-5.33zM548.2 679.5h5.32v5.32h-5.32zM553.52 679.5h5.31v5.31h-5.31zM558.84 679.5h5.31v5.31h-5.31zM564.15 679.5h5.3v5.3h-5.3zM569.45 679.5h5.3v5.3h-5.3zM574.74 679.5h5.29v5.29h-5.29zM580.04 679.5h5.29v5.29h-5.29zM585.32 679.5h5.28v5.28h-5.28zM590.6 679.5h5.27v5.27h-5.27zM595.88 679.5h5.27v5.27h-5.27zM601.15 679.5h5.26v5.26h-5.26zM606.41 679.5h5.26v5.26h-5.26zM611.67 679.5h5.25v5.25h-5.25zM616.92 679.5h5.25v5.25h-5.25zM622.16 679.5h5.24v5.24h-5.24zM627.4 679.5h5.23v5.23h-5.23zM632.64 679.5h5.23v5.23h-5.23zM637.87 679.5h5.22v5.22h-5.22zM643.09 679.5h5.22v5.22h-5.22zM648.31 679.5h5.21v5.21h-5.21zM653.52 679.5h5.21v5.21h-5.21zM658.73 679.5h5.2v5.2h-5.2zM663.93 679.5h5.2v5.2h-5.2zM669.13 679.5h5.19v5.19h-5.19zM674.32 679.5h5.18v5.18h-5.18zM679.5 679.5h5.18v5.18h-5.18zM684.68 679.5h5.17v5.17h-5.17zM689.85 679.5h5.17v5.17h-5.17zM695.02 679.5h5.16v5.16h-5.16zM700.18 679.5h5.16v5.16h-5.16zM705.34 679.5h5.15v5.15h-5.15zM710.49 679.5h5.14v5.14h-5.14zM715.63 679.5h5.14v5.14h-5.14zM720.77 679.5h5.13v5.13h-5.13zM725.91 679.5h5.13v5.13h-5.13zM731.03 679.5h5.12v5.12h-5.12zM736.16 679.5h5.12v5.12h-5.12zM741.27 679.5h5.11v5.11h-5.11zM746.38 679.5h5.11v5.11h-5.11zM751.49 679.5h5.1v5.1h-5.1zM756.59 679.5h5.09v5.09h-5.09zM761.68 679.5h5.09v5.09h-5.09zM766.77 679.5h5.08v5.08h-5.08zM771.85 679.5h5.08v5.08h-5.08zM776.93 679.5h5.07v5.07h-5.07zM782 679.5h5.07v5.07h-5.07zM787.07 679.5h5.06v5.06h-5.06zM792.13 679.5h5.05v5.05h-5.05zM797.18 679.5h5.05v5.05h-5.05zM802.23 679.5h5.04v5.04h-5.04zM807.27 679.5h5.04v5.04h-5.04zM812.31 679.5h5.03v5.03h-5.03zM817.34 679.5h5.03v5.03h-5.03zM822.37 679.5h5.02v5.02h-5.02zM827.39 679.5h5.02v5.02h-5.02zM832.41 679.5h5.01v5.01h-5.01zM837.42 679.5h5v5h-5zM842.42 679.5h5v5h-5zM847.42 679.5h4.99v4.99h-4.99zM852.41 679.5h4.99v4.99h-4.99zM857.4 679.5h4.98v4.98h-4.98zM862.38 679.5h4.98v4.98h-4.98zM867.35 679.5h4.97v4.97h-4.97zM872.32 679.5h4.96v4.96h-4.96zM877.29 679.5h4.96v4.96h-4.96zM882.25 679.5h4.95v4.95h-4.95zM887.2 679.5h4.95v4.95h-4.95zM892.15 679.5h4.94v4.94h-4.94zM897.09 679.5h4.94v4.94h-4.94zM902.03 679.5h4.93v4.93h-4.93zM906.96 679.5h4.92v4.92h-4.92zM911.88 679.5h4.92v4.92h-4.92zM916.8 679.5h4.91v4.91h-4.91zM921.71 679.5h4.91v4.91h-4.91zM926.62 679.5h4.9v4.9h-4.9zM931.52 679.5h4.9v4.9h-4.9zM936.42 679.5h4.89v4.89h-4.89zM941.31 679.5h4.89v4.89h-4.89zM946.2 679.5h4.88v4.88h-4.88zM951.08 679.5h4.87v4.87h-4.87zM955.95 679.5h4.87v4.87h-4.87zM960.82 679.5h4.86v4.86h-4.86zM965.68 679.5h4.86v4.86h-4.86zM970.54 679.5h4.85v4.85h-4.85zM975.39 679.5h4.85v4.85h-4.85zM980.24 679.5h4.84v4.84h-4.84zM985.08 679.5h4.83v4.83h-4.83zM989.91 679.5h4.83v4.83h-4.83zM994.74 679.5h4.82v4.82h-4.82zM999.56 679.5h4.82v4.82h-4.82zM1004.38 679.5h4.81v4.81h-4.81zM1009.19 679.5h4.81v4.81h-4.81zM375 685h4.5v4.5h-4.5zM379.5 685h4.5v4.5h-4.5zM384 685h4.49v4.49h-4.49zM388.49 685h4.49v4.49h-4.49zM392.98 685h4.48v4.48h-4.48zM397.46 685h4.48v4.48h-4.48zM401.94 685h4.48v4.48h-4.48zM406.42 685h4.47v4.47h-4.47zM410.89 685h4.47v4.47h-4.47zM415.36 685h4.46v4.46h-4.46zM419.82 685h4.46v4.46h-4.46zM424.28 685h4.46v4.46h-4.46zM428.74 685h4.45v4.45h-4.45zM433.19 685h4.45v4.45h-4.45zM437.64 685h4.45v4.45h-4.45zM442.09 685h4.44v4.44h-4.44zM446.53 685h4.44v4.44h-4.44zM450.97 685h4.43v4.43h-4.43zM455.4 685h4.43v4.43h-4.43zM459.83 685h4.43v4.43h-4.43zM464.25 685h4.42v4.42h-4.42zM468.68 685h4.42v4.42h-4.42zM473.09 685h4.41v4.41h-4.41zM477.51 685h4.41v4.41h-4.41zM481.92 685h4.41v4.41h-4.41zM486.32 685h4.4v4.4h-4.4zM490.73 685h4.4v4.4h-4.4zM495.12 685h4.39v4.39h-4.39zM499.52 685h4.39v4.39h-4.39zM503.91 685h4.39v4.39h-4.39zM508.29 685h4.38v4.38h-4.38zM512.68 685h4.38v4.38h-4.38zM517.06 685h4.37v4.37h-4.37zM521.43 685h4.37v4.37h-4.37zM525.8 685h4.37v4.37h-4.37zM530.17 685h4.36v4.36h-4.36zM534.53 685h4.36v4.36h-4.36zM538.89 685h4.35v4.35h-4.35zM543.24 685h4.35v4.35h-4.35zM547.59 685h4.35v4.35h-4.35zM551.94 685h4.34v4.34h-4.34zM556.28 685h4.34v4.34h-4.34zM560.62 685h4.34v4.34h-4.34zM564.96 685h4.33v4.33h-4.33zM569.29 685h4.33v4.33h-4.33zM573.62 685h4.32v4.32h-4.32zM577.94 685h4.32v4.32h-4.32zM582.26 685h4.32v4.32h-4.32zM586.58 685h4.31v4.31h-4.31zM590.89 685h4.31v4.31h-4.31zM595.2 685h4.3v4.3h-4.3zM599.5 685h4.3v4.3h-4.3zM603.8 685h4.3v4.3h-4.3zM608.1 685h4.29v4.29h-4.29zM612.39 685h4.29v4.29h-4.29zM616.68 685h4.28v4.28h-4.28zM620.96 685h4.28v4.28h-4.28zM625.24 685h4.28v4.28h-4.28zM629.52 685h4.27v4.27h-4.27zM633.79 685h4.27v4.27h-4.27zM638.06 685h4.26v4.26h-4.26zM642.32 685h4.26v4.26h-4.26zM646.58 685h4.26v4.26h-4.26zM650.84 685h4.25v4.25h-4.25zM655.09 685h4.25v4.25h-4.25zM659.34 685h4.25v4.25h-4.25zM663.59 685h4.24v4.24h-4.24zM667.83 685h4.24v4.24h-4.24zM672.07 685h4.23v4.23h-4.23zM676.3 685h4.23v4.23h-4.23zM680.53 685h4.23v4.23h-4.23zM684.76 685h4.22v4.22h-4.22zM688.98 685h4.22v4.22h-4.22zM693.2 685h4.21v4.21h-4.21zM697.41 685h4.21v4.21h-4.21zM701.62 685h4.21v4.21h-4.21zM705.82 685h4.2v4.2h-4.2zM710.03 685h4.2v4.2h-4.2zM714.22 685h4.19v4.19h-4.19zM718.42 685h4.19v4.19h-4.19zM722.61 685h4.19v4.19h-4.19zM726.8 685h4.18v4.18h-4.18zM730.98 685h4.18v4.18h-4.18zM735.16 685h4.17v4.17h-4.17zM739.33 685h4.17v4.17h-4.17zM743.5 685h4.17v4.17h-4.17zM747.67 685h4.16v4.16h-4.16zM751.83 685h4.16v4.16h-4.16zM755.99 685h4.15v4.15h-4.15zM760.14 685h4.15v4.15h-4.15zM764.3 685h4.15v4.15h-4.15zM768.44 685h4.14v4.14h-4.14zM772.59 685h4.14v4.14h-4.14zM776.72 685h4.14v4.14h-4.14zM780.86 685h4.13v4.13h-4.13zM784.99 685h4.13v4.13h-4.13zM789.12 685h4.12v4.12h-4.12zM793.24 685h4.12v4.12h-4.12zM797.36 685h4.12v4.12h-4.12zM801.48 685h4.11v4.11h-4.11zM805.59 685h4.11v4.11h-4.11zM809.7 685h4.1v4.1h-4.1zM813.8 685h4.1v4.1h-4.1zM817.9 685h4.1v4.1h-4.1zM822 685h4.09v4.09h-4.09zM826.09 685h4.09v4.09h-4.09zM830.18 685h4.08v4.08h-4.08zM834.26 685h4.08v4.08h-4.08zM838.34 685h4.08v4.08h-4.08zM842.42 685h4.07v4.07h-4.07zM846.49 685h4.07v4.07h-4.07zM850.56 685h4.06v4.06h-4.06zM854.63 685h4.06v4.06h-4.06zM858.69 685h4.06v4.06h-4.06zM862.74 685h4.05v4.05h-4.05zM866.8 685h4.05v4.05h-4.05zM870.85 685h4.05v4.05h-4.05zM874.89 685h4.04v4.04h-4.04zM878.93 685h4.04v4.04h-4.04zM882.97 685h4.03v4.03h-4.03zM887 685h4.03v4.03h-4.03zM891.03 685h4.03v4.03h-4.03zM895.06 685h4.02v4.02h-4.02zM899.08 685h4.02v4.02h-4.02zM903.1 685h4.01v4.01h-4.01zM907.11 685h4.01v4.01h-4.01zM911.12 685h4.01v4.01h-4.01zM915.13 685h4v4h-4zM919.13 685h4v4h-4zM923.13 685h3.99v3.99h-3.99zM927.12 685h3.99v3.99h-3.99zM931.11 685h3.99v3.99h-3.99zM935.1 685h3.98v3.98h-3.98zM939.08 685h3.98v3.98h-3.98zM943.06 685h3.97v3.97h-3.97zM947.03 685h3.97v3.97h-3.97zM951 685h3.97v3.97h-3.97zM954.97 685h3.96v3.96h-3.96zM958.93 685h3.96v3.96h-3.96zM962.89 685h3.95v3.95h-3.95zM966.85 685h3.95v3.95h-3.95zM970.8 685h3.95v3.95h-3.95zM974.74 685h3.94v3.94h-3.94zM978.69 685h3.94v3.94h-3.94zM982.63 685h3.94v3.94h-3.94zM986.56 685h3.93v3.93h-3.93zM990.49 685h3.93v3.93h-3.93zM994.42 685h3.92v3.92h-3.92zM998.34 685h3.92v3.92h-3.92zM1002.26 685h3.92v3.92h-3.92zM1006.18 685h3.91v3.91h-3.91zM1010.09 685h3.91v3.91h-3.91zM375 689.5h3.8v3.8h-3.8zM378.8 689.5h3.79v3.79h-3.79zM382.59 689.5h3.79v3.79h-3.79zM386.38 689.5h3.78v3.78h-3.78zM390.16 689.5h3.78v3.78h-3.78zM393.94 689.5h3.77v3.77h-3.77zM397.71 689.5h3.76v3.76h-3.76zM401.47 689.5h3.76v3.76h-3.76zM405.23 689.5h3.75v3.75h-3.75zM408.98 689.5h3.75v3.75h-3.75zM412.73 689.5h3.74v3.74h-3.74zM416.47 689.5h3.73v3.73h-3.73zM420.2 689.5h3.73v3.73h-3.73zM423.93 689.5h3.72v3.72h-3.72zM427.65 689.5h3.71v3.71h-3.71zM431.36 689.5h3.71v3.71h-3.71zM435.07 689.5h3.7v3.7h-3.7zM438.77 689.5h3.7v3.7h-3.7zM442.47 689.5h3.69v3.69h-3.69zM446.16 689.5h3.68v3.68h-3.68zM449.84 689.5h3.68v3.68h-3.68zM453.52 689.5h3.67v3.67h-3.67zM457.2 689.5h3.67v3.67h-3.67zM460.86 689.5h3.66v3.66h-3.66zM464.52 689.5h3.65v3.65h-3.65zM468.18 689.5h3.65v3.65h-3.65zM471.82 689.5h3.64v3.64h-3.64zM475.47 689.5h3.64v3.64h-3.64zM479.1 689.5h3.63v3.63h-3.63zM482.73 689.5h3.62v3.62h-3.62zM486.36 689.5h3.62v3.62h-3.62zM489.97 689.5h3.61v3.61h-3.61zM493.58 689.5h3.61v3.61h-3.61zM497.19 689.5h3.6v3.6h-3.6zM500.79 689.5h3.59v3.59h-3.59zM504.38 689.5h3.59v3.59h-3.59zM507.97 689.5h3.58v3.58h-3.58zM511.55 689.5h3.58v3.58h-3.58zM515.13 689.5h3.57v3.57h-3.57zM518.69 689.5h3.56v3.56h-3.56zM522.26 689.5h3.56v3.56h-3.56zM525.81 689.5h3.55v3.55h-3.55zM529.36 689.5h3.54v3.54h-3.54zM532.91 689.5h3.54v3.54h-3.54zM536.45 689.5h3.53v3.53h-3.53zM539.98 689.5h3.53v3.53h-3.53zM543.51 689.5h3.52v3.52h-3.52zM547.03 689.5h3.51v3.51h-3.51zM550.54 689.5h3.51v3.51h-3.51zM554.05 689.5h3.5v3.5h-3.5zM557.55 689.5h3.5v3.5h-3.5zM561.05 689.5h3.49v3.49h-3.49zM564.54 689.5h3.48v3.48h-3.48zM568.02 689.5h3.48v3.48h-3.48zM571.5 689.5h3.47v3.47h-3.47zM574.97 689.5h3.47v3.47h-3.47zM578.44 689.5h3.46v3.46h-3.46zM581.9 689.5h3.45v3.45h-3.45zM585.35 689.5h3.45v3.45h-3.45zM588.8 689.5h3.44v3.44h-3.44zM592.24 689.5h3.44v3.44h-3.44zM595.67 689.5h3.43v3.43h-3.43zM599.1 689.5h3.42v3.42h-3.42zM602.52 689.5h3.42v3.42h-3.42zM605.94 689.5h3.41v3.41h-3.41zM609.35 689.5h3.4v3.4h-3.4zM612.76 689.5h3.4v3.4h-3.4zM616.16 689.5h3.39v3.39h-3.39zM619.55 689.5h3.39v3.39h-3.39zM622.94 689.5h3.38v3.38h-3.38zM626.32 689.5h3.37v3.37h-3.37zM629.69 689.5h3.37v3.37h-3.37zM633.06 689.5h3.36v3.36h-3.36zM636.42 689.5h3.36v3.36h-3.36zM639.78 689.5h3.35v3.35h-3.35zM643.13 689.5h3.34v3.34h-3.34zM646.47 689.5h3.34v3.34h-3.34zM649.81 689.5h3.33v3.33h-3.33zM653.14 689.5h3.33v3.33h-3.33zM656.47 689.5h3.32v3.32h-3.32zM659.79 689.5h3.31v3.31h-3.31zM663.1 689.5h3.31v3.31h-3.31zM666.41 689.5h3.3v3.3h-3.3zM669.71 689.5h3.3v3.3h-3.3zM673 689.5h3.29v3.29h-3.29zM676.29 689.5h3.28v3.28h-3.28zM679.58 689.5h3.28v3.28h-3.28zM682.85 689.5h3.27v3.27h-3.27zM686.12 689.5h3.26v3.26h-3.26zM689.39 689.5h3.26v3.26h-3.26zM692.65 689.5h3.25v3.25h-3.25zM695.9 689.5h3.25v3.25h-3.25zM699.15 689.5h3.24v3.24h-3.24zM702.39 689.5h3.23v3.23h-3.23zM705.62 689.5h3.23v3.23h-3.23zM708.85 689.5h3.22v3.22h-3.22zM712.07 689.5h3.22v3.22h-3.22zM715.29 689.5h3.21v3.21h-3.21zM718.5 689.5h3.2v3.2h-3.2zM721.7 689.5h3.2v3.2h-3.2zM724.9 689.5h3.19v3.19h-3.19zM728.09 689.5h3.19v3.19h-3.19zM731.28 689.5h3.18v3.18h-3.18zM734.46 689.5h3.17v3.17h-3.17zM737.63 689.5h3.17v3.17h-3.17zM740.8 689.5h3.16v3.16h-3.16zM743.96 689.5h3.16v3.16h-3.16zM747.12 689.5h3.15v3.15h-3.15zM750.27 689.5h3.14v3.14h-3.14zM753.41 689.5h3.14v3.14h-3.14zM756.55 689.5h3.13v3.13h-3.13zM759.68 689.5h3.13v3.13h-3.13zM762.8 689.5h3.12v3.12h-3.12zM765.92 689.5h3.11v3.11h-3.11zM769.04 689.5h3.11v3.11h-3.11zM772.14 689.5h3.1v3.1h-3.1zM775.24 689.5h3.09v3.09h-3.09zM778.34 689.5h3.09v3.09h-3.09zM781.43 689.5h3.08v3.08h-3.08zM784.51 689.5h3.08v3.08h-3.08zM787.59 689.5h3.07v3.07h-3.07zM790.66 689.5h3.06v3.06h-3.06zM793.72 689.5h3.06v3.06h-3.06zM796.78 689.5h3.05v3.05h-3.05zM799.83 689.5h3.05v3.05h-3.05zM802.88 689.5h3.04v3.04h-3.04zM805.92 689.5h3.03v3.03h-3.03zM808.95 689.5h3.03v3.03h-3.03zM811.98 689.5h3.02v3.02h-3.02zM815 689.5h3.02v3.02h-3.02zM818.02 689.5h3.01v3.01h-3.01zM821.03 689.5h3v3h-3zM824.03 689.5h3v3h-3zM827.03 689.5h2.99v2.99h-2.99zM830.02 689.5h2.99v2.99h-2.99zM833 689.5h2.98v2.98h-2.98zM835.98 689.5h2.97v2.97h-2.97zM838.95 689.5h2.97v2.97h-2.97zM841.92 689.5h2.96v2.96h-2.96zM844.88 689.5h2.95v2.95h-2.95zM847.84 689.5h2.95v2.95h-2.95zM850.79 689.5h2.94v2.94h-2.94zM853.73 689.5h2.94v2.94h-2.94zM856.67 689.5h2.93v2.93h-2.93zM859.6 689.5h2.92v2.92h-2.92zM862.52 689.5h2.92v2.92h-2.92zM865.44 689.5h2.91v2.91h-2.91zM868.35 689.5h2.91v2.91h-2.91zM871.26 689.5h2.9v2.9h-2.9zM874.16 689.5h2.89v2.89h-2.89zM877.05 689.5h2.89v2.89h-2.89zM879.94 689.5h2.88v2.88h-2.88zM882.82 689.5h2.88v2.88h-2.88zM885.7 689.5h2.87v2.87h-2.87zM888.57 689.5h2.86v2.86h-2.86zM891.43 689.5h2.86v2.86h-2.86zM894.29 689.5h2.85v2.85h-2.85zM897.14 689.5h2.85v2.85h-2.85zM899.98 689.5h2.84v2.84h-2.84zM902.82 689.5h2.83v2.83h-2.83zM905.66 689.5h2.83v2.83h-2.83zM908.48 689.5h2.82v2.82h-2.82zM911.31 689.5h2.81v2.81h-2.81zM914.12 689.5h2.81v2.81h-2.81zM916.93 689.5h2.8v2.8h-2.8zM919.73 689.5h2.8v2.8h-2.8zM922.53 689.5h2.79v2.79h-2.79zM925.32 689.5h2.78v2.78h-2.78zM928.1 689.5h2.78v2.78h-2.78zM930.88 689.5h2.77v2.77h-2.77zM933.66 689.5h2.77v2.77h-2.77zM936.42 689.5h2.76v2.76h-2.76zM939.18 689.5h2.75v2.75h-2.75zM941.94 689.5h2.75v2.75h-2.75zM944.68 689.5h2.74v2.74h-2.74zM947.43 689.5h2.74v2.74h-2.74zM950.16 689.5h2.73v2.73h-2.73zM952.89 689.5h2.72v2.72h-2.72zM955.62 689.5h2.72v2.72h-2.72zM958.33 689.5h2.71v2.71h-2.71zM961.04 689.5h2.71v2.71h-2.71zM963.75 689.5h2.7v2.7h-2.7zM966.45 689.5h2.69v2.69h-2.69zM969.14 689.5h2.69v2.69h-2.69zM971.83 689.5h2.68v2.68h-2.68zM974.51 689.5h2.68v2.68h-2.68zM977.19 689.5h2.67v2.67h-2.67zM979.86 689.5h2.66v2.66h-2.66zM982.52 689.5h2.66v2.66h-2.66zM985.18 689.5h2.65v2.65h-2.65zM987.83 689.5h2.64v2.64h-2.64zM990.47 689.5h2.64v2.64h-2.64zM993.11 689.5h2.63v2.63h-2.63zM995.74 689.5h2.63v2.63h-2.63zM998.37 689.5h2.62v2.62h-2.62zM1000.99 689.5h2.61v2.61h-2.61zM1003.6 689.5h2.61v2.61h-2.61zM1006.21 689.5h2.6v2.6h-2.6zM1008.81 689.5h2.6v2.6h-2.6zM1011.41 689.5h2.59v2.59h-2.59zM375 693.3h2.7v2.7h-2.7zM377.7 693.3h2.7v2.7h-2.7zM380.4 693.3h2.69v2.69h-2.69zM383.09 693.3h2.69v2.69h-2.69zM385.78 693.3h2.69v2.69h-2.69zM388.47 693.3h2.69v2.69h-2.69zM391.16 693.3h2.68v2.68h-2.68zM393.84 693.3h2.68v2.68h-2.68zM396.52 693.3h2.68v2.68h-2.68zM399.2 693.3h2.67v2.67h-2.67zM401.87 693.3h2.67v2.67h-2.67zM404.54 693.3h2.67v2.67h-2.67zM407.21 693.3h2.67v2.67h-2.67zM409.87 693.3h2.66v2.66h-2.66zM412.54 693.3h2.66v2.66h-2.66zM415.2 693.3h2.66v2.66h-2.66zM417.85 693.3h2.65v2.65h-2.65zM420.51 693.3h2.65v2.65h-2.65zM423.16 693.3h2.65v2.65h-2.65zM425.81 693.3h2.65v2.65h-2.65zM428.45 693.3h2.64v2.64h-2.64zM431.09 693.3h2.64v2.64h-2.64zM433.73 693.3h2.64v2.64h-2.64zM436.37 693.3h2.63v2.63h-2.63zM439 693.3h2.63v2.63h-2.63zM441.63 693.3h2.63v2.63h-2.63zM444.26 693.3h2.62v2.62h-2.62zM446.89 693.3h2.62v2.62h-2.62zM449.51 693.3h2.62v2.62h-2.62zM452.13 693.3h2.62v2.62h-2.62zM454.74 693.3h2.61v2.61h-2.61zM457.36 693.3h2.61v2.61h-2.61zM459.97 693.3h2.61v2.61h-2.61zM462.58 693.3h2.6v2.6h-2.6zM465.18 693.3h2.6v2.6h-2.6zM467.78 693.3h2.6v2.6h-2.6zM470.38 693.3h2.6v2.6h-2.6zM472.98 693.3h2.59v2.59h-2.59zM475.57 693.3h2.59v2.59h-2.59zM478.16 693.3h2.59v2.59h-2.59zM480.75 693.3h2.58v2.58h-2.58zM483.33 693.3h2.58v2.58h-2.58zM485.92 693.3h2.58v2.58h-2.58zM488.49 693.3h2.58v2.58h-2.58zM491.07 693.3h2.57v2.57h-2.57zM493.64 693.3h2.57v2.57h-2.57zM496.21 693.3h2.57v2.57h-2.57zM498.78 693.3h2.56v2.56h-2.56zM501.35 693.3h2.56v2.56h-2.56zM503.91 693.3h2.56v2.56h-2.56zM506.47 693.3h2.56v2.56h-2.56zM509.02 693.3h2.55v2.55h-2.55zM511.57 693.3h2.55v2.55h-2.55zM514.12 693.3h2.55v2.55h-2.55zM516.67 693.3h2.54v2.54h-2.54zM519.22 693.3h2.54v2.54h-2.54zM521.76 693.3h2.54v2.54h-2.54zM524.29 693.3h2.54v2.54h-2.54zM526.83 693.3h2.53v2.53h-2.53zM529.36 693.3h2.53v2.53h-2.53zM531.89 693.3h2.53v2.53h-2.53zM534.42 693.3h2.52v2.52h-2.52zM536.94 693.3h2.52v2.52h-2.52zM539.46 693.3h2.52v2.52h-2.52zM541.98 693.3h2.52v2.52h-2.52zM544.5 693.3h2.51v2.51h-2.51zM547.01 693.3h2.51v2.51h-2.51zM549.52 693.3h2.51v2.51h-2.51zM552.03 693.3h2.5v2.5h-2.5zM554.53 693.3h2.5v2.5h-2.5zM557.03 693.3h2.5v2.5h-2.5zM559.53 693.3h2.5v2.5h-2.5zM562.02 693.3h2.49v2.49h-2.49zM564.52 693.3h2.49v2.49h-2.49zM567.01 693.3h2.49v2.49h-2.49zM569.49 693.3h2.48v2.48h-2.48zM571.98 693.3h2.48v2.48h-2.48zM574.46 693.3h2.48v2.48h-2.48zM576.93 693.3h2.47v2.47h-2.47zM579.41 693.3h2.47v2.47h-2.47zM581.88 693.3h2.47v2.47h-2.47zM584.35 693.3h2.47v2.47h-2.47zM586.82 693.3h2.46v2.46h-2.46zM589.28 693.3h2.46v2.46h-2.46zM591.74 693.3h2.46v2.46h-2.46zM594.2 693.3h2.45v2.45h-2.45zM596.65 693.3h2.45v2.45h-2.45zM599.11 693.3h2.45v2.45h-2.45zM601.55 693.3h2.45v2.45h-2.45zM604 693.3h2.44v2.44h-2.44zM606.44 693.3h2.44v2.44h-2.44zM608.88 693.3h2.44v2.44h-2.44zM611.32 693.3h2.43v2.43h-2.43zM613.76 693.3h2.43v2.43h-2.43zM616.19 693.3h2.43v2.43h-2.43zM618.62 693.3h2.43v2.43h-2.43zM621.04 693.3h2.42v2.42h-2.42zM623.47 693.3h2.42v2.42h-2.42zM625.89 693.3h2.42v2.42h-2.42zM628.3 693.3h2.41v2.41h-2.41zM630.72 693.3h2.41v2.41h-2.41zM633.13 693.3h2.41v2.41h-2.41zM635.54 693.3h2.41v2.41h-2.41zM637.94 693.3h2.4v2.4h-2.4zM640.35 693.3h2.4v2.4h-2.4zM642.75 693.3h2.4v2.4h-2.4zM645.14 693.3h2.39v2.39h-2.39zM647.54 693.3h2.39v2.39h-2.39zM649.93 693.3h2.39v2.39h-2.39zM652.32 693.3h2.39v2.39h-2.39zM654.7 693.3h2.38v2.38h-2.38zM657.08 693.3h2.38v2.38h-2.38zM659.46 693.3h2.38v2.38h-2.38zM661.84 693.3h2.37v2.37h-2.37zM664.21 693.3h2.37v2.37h-2.37zM666.59 693.3h2.37v2.37h-2.37zM668.95 693.3h2.37v2.37h-2.37zM671.32 693.3h2.36v2.36h-2.36zM673.68 693.3h2.36v2.36h-2.36zM676.04 693.3h2.36v2.36h-2.36zM678.4 693.3h2.35v2.35h-2.35zM680.75 693.3h2.35v2.35h-2.35zM683.1 693.3h2.35v2.35h-2.35zM685.45 693.3h2.35v2.35h-2.35zM687.8 693.3h2.34v2.34h-2.34zM690.14 693.3h2.34v2.34h-2.34zM692.48 693.3h2.34v2.34h-2.34zM694.81 693.3h2.33v2.33h-2.33zM697.15 693.3h2.33v2.33h-2.33zM699.48 693.3h2.33v2.33h-2.33zM701.81 693.3h2.32v2.32h-2.32zM704.13 693.3h2.32v2.32h-2.32zM706.45 693.3h2.32v2.32h-2.32zM708.77 693.3h2.32v2.32h-2.32zM711.09 693.3h2.31v2.31h-2.31zM713.4 693.3h2.31v2.31h-2.31zM715.71 693.3h2.31v2.31h-2.31zM718.02 693.3h2.3v2.3h-2.3zM720.32 693.3h2.3v2.3h-2.3zM722.63 693.3h2.3v2.3h-2.3zM724.92 693.3h2.3v2.3h-2.3zM727.22 693.3h2.29v2.29h-2.29zM729.51 693.3h2.29v2.29h-2.29zM731.8 693.3h2.29v2.29h-2.29zM734.09 693.3h2.28v2.28h-2.28zM736.38 693.3h2.28v2.28h-2.28zM738.66 693.3h2.28v2.28h-2.28zM740.94 693.3h2.28v2.28h-2.28zM743.21 693.3h2.27v2.27h-2.27zM745.48 693.3h2.27v2.27h-2.27zM747.75 693.3h2.27v2.27h-2.27zM750.02 693.3h2.26v2.26h-2.26zM752.29 693.3h2.26v2.26h-2.26zM754.55 693.3h2.26v2.26h-2.26zM756.81 693.3h2.26v2.26h-2.26zM759.06 693.3h2.25v2.25h-2.25zM761.31 693.3h2.25v2.25h-2.25zM763.56 693.3h2.25v2.25h-2.25zM765.81 693.3h2.24v2.24h-2.24zM768.06 693.3h2.24v2.24h-2.24zM770.3 693.3h2.24v2.24h-2.24zM772.53 693.3h2.24v2.24h-2.24zM774.77 693.3h2.23v2.23h-2.23zM777 693.3h2.23v2.23h-2.23zM779.23 693.3h2.23v2.23h-2.23zM781.46 693.3h2.22v2.22h-2.22zM783.68 693.3h2.22v2.22h-2.22zM785.9 693.3h2.22v2.22h-2.22zM788.12 693.3h2.22v2.22h-2.22zM790.34 693.3h2.21v2.21h-2.21zM792.55 693.3h2.21v2.21h-2.21zM794.76 693.3h2.21v2.21h-2.21zM796.97 693.3h2.2v2.2h-2.2zM799.17 693.3h2.2v2.2h-2.2zM801.37 693.3h2.2v2.2h-2.2zM803.57 693.3h2.2v2.2h-2.2zM805.76 693.3h2.19v2.19h-2.19zM807.96 693.3h2.19v2.19h-2.19zM810.14 693.3h2.19v2.19h-2.19zM812.33 693.3h2.18v2.18h-2.18zM814.51 693.3h2.18v2.18h-2.18zM816.7 693.3h2.18v2.18h-2.18zM818.87 693.3h2.17v2.17h-2.17zM821.05 693.3h2.17v2.17h-2.17zM823.22 693.3h2.17v2.17h-2.17zM825.39 693.3h2.17v2.17h-2.17zM827.56 693.3h2.16v2.16h-2.16zM829.72 693.3h2.16v2.16h-2.16zM831.88 693.3h2.16v2.16h-2.16zM834.04 693.3h2.15v2.15h-2.15zM836.19 693.3h2.15v2.15h-2.15zM838.34 693.3h2.15v2.15h-2.15zM840.49 693.3h2.15v2.15h-2.15zM842.64 693.3h2.14v2.14h-2.14zM844.78 693.3h2.14v2.14h-2.14zM846.92 693.3h2.14v2.14h-2.14zM849.06 693.3h2.13v2.13h-2.13zM851.19 693.3h2.13v2.13h-2.13zM853.32 693.3h2.13v2.13h-2.13zM855.45 693.3h2.13v2.13h-2.13zM857.58 693.3h2.12v2.12h-2.12zM859.7 693.3h2.12v2.12h-2.12zM861.82 693.3h2.12v2.12h-2.12zM863.94 693.3h2.11v2.11h-2.11zM866.05 693.3h2.11v2.11h-2.11zM868.16 693.3h2.11v2.11h-2.11zM870.27 693.3h2.11v2.11h-2.11zM872.38 693.3h2.1v2.1h-2.1zM874.48 693.3h2.1v2.1h-2.1zM876.58 693.3h2.1v2.1h-2.1zM878.68 693.3h2.09v2.09h-2.09zM880.77 693.3h2.09v2.09h-2.09zM882.86 693.3h2.09v2.09h-2.09zM884.95 693.3h2.09v2.09h-2.09zM887.04 693.3h2.08v2.08h-2.08zM889.12 693.3h2.08v2.08h-2.08zM891.2 693.3h2.08v2.08h-2.08zM893.28 693.3h2.07v2.07h-2.07zM895.35 693.3h2.07v2.07h-2.07zM897.42 693.3h2.07v2.07h-2.07zM899.49 693.3h2.07v2.07h-2.07zM901.55 693.3h2.06v2.06h-2.06zM903.62 693.3h2.06v2.06h-2.06zM905.68 693.3h2.06v2.06h-2.06zM907.73 693.3h2.05v2.05h-2.05zM909.79 693.3h2.05v2.05h-2.05zM911.84 693.3h2.05v2.05h-2.05zM913.88 693.3h2.04v2.04h-2.04zM915.93 693.3h2.04v2.04h-2.04zM917.97 693.3h2.04v2.04h-2.04zM920.01 693.3h2.04v2.04h-2.04zM922.05 693.3h2.03v2.03h-2.03zM924.08 693.3h2.03v2.03h-2.03zM926.11 693.3h2.03v2.03h-2.03zM928.14 693.3h2.02v2.02h-2.02zM930.16 693.3h2.02v2.02h-2.02zM932.19 693.3h2.02v2.02h-2.02zM934.2 693.3h2.02v2.02h-2.02zM936.22 693.3h2.01v2.01h-2.01zM938.23 693.3h2.01v2.01h-2.01zM940.24 693.3h2.01v2.01h-2.01zM942.25 693.3h2v2h-2zM944.26 693.3h2v2h-2zM946.26 693.3h2v2h-2zM948.26 693.3h2v2h-2zM950.25 693.3h1.99v1.99h-1.99zM952.25 693.3h1.99v1.99h-1.99zM954.24 693.3h1.99v1.99h-1.99zM956.22 693.3h1.98v1.98h-1.98zM958.21 693.3h1.98v1.98h-1.98zM960.19 693.3h1.98v1.98h-1.98zM962.17 693.3h1.98v1.98h-1.98zM964.14 693.3h1.97v1.97h-1.97zM966.12 693.3h1.97v1.97h-1.97zM968.09 693.3h1.97v1.97h-1.97zM970.05 693.3h1.96v1.96h-1.96zM972.02 693.3h1.96v1.96h-1.96zM973.98 693.3h1.96v1.96h-1.96zM975.94 693.3h1.96v1.96h-1.96zM977.89 693.3h1.95v1.95h-1.95zM979.85 693.3h1.95v1.95h-1.95zM981.8 693.3h1.95v1.95h-1.95zM983.74 693.3h1.94v1.94h-1.94zM985.69 693.3h1.94v1.94h-1.94zM987.63 693.3h1.94v1.94h-1.94zM989.57 693.3h1.94v1.94h-1.94zM991.5 693.3h1.93v1.93h-1.93zM993.43 693.3h1.93v1.93h-1.93zM995.36 693.3h1.93v1.93h-1.93zM997.29 693.3h1.92v1.92h-1.92zM999.21 693.3h1.92v1.92h-1.92zM1001.13 693.3h1.92v1.92h-1.92zM1003.05 693.3h1.92v1.92h-1.92zM1004.97 693.3h1.91v1.91h-1.91zM1006.88 693.3h1.91v1.91h-1.91zM1008.79 693.3h1.91v1.91h-1.91zM1010.7 693.3h1.9v1.9h-1.9zM1012.6 693.3h1.9v1.9h-1.9zM1008.45 68.6h6.51v6.51h-6.51zM1008.45 75.11h6.51v6.51h-6.51zM1008.45 81.63h6.51v6.51h-6.51zM1008.45 88.14h6.51v6.51h-6.51zM1008.45 94.66h6.51v6.51h-6.51zM990.45 128.5h23.88v23.88h-23.88zM990.45 152.38h3.49v3.49h-3.49zM993.94 152.38h3.37v3.37h-3.37zM997.31 152.38h3.25v3.25h-3.25zM1000.56 152.38h3.14v3.14h-3.14zM1003.69 152.38h3.03v3.03h-3.03zM1006.72 152.38h2.92v2.92h-2.92zM1009.64 152.38h2.82v2.82h-2.82zM1012.46 152.38h2.65v2.65h-2.65zM1005.5 162.4h9.36v9.36h-9.36zM1005.5 171.76h9.36v9.36h-9.36zM1005.5 181.12h4.32v4.32h-4.32zM1009.82 181.12h4.17v4.17h-4.17zM998.3 189.5h16.31v16.31h-16.31zM998.3 205.81h6.14v6.14h-6.14zM1004.44 205.81h5.92v5.92h-5.92zM1010.36 205.81h4.67v4.67h-4.67zM1010.36 210.48h1.21v1.21h-1.21zM1008 213.2h6.95v6.95h-6.95zM1008 220.15h6.95v6.95h-6.95zM1008 227.1h6.95v6.95h-6.95zM1010.3 235.4h4.73v4.73h-4.73zM1010.3 240.13h4.73v4.73h-4.73zM1010.3 244.86h4.73v4.73h-4.73zM1010.3 249.59h4.73v4.73h-4.73zM1006.5 256.8h8.4v8.4h-8.4zM1006.5 265.2h8.4v8.4h-8.4zM1006.5 273.59h2.42v2.42h-2.42zM1008.92 273.59h2.33v2.33h-2.33zM1011.25 273.59h2.25v2.25h-2.25zM1013.5 273.59h1.64v1.64h-1.64zM998.8 277h15.83v15.83h-15.83zM998.8 292.83h2.53v2.53h-2.53zM1001.33 292.83h2.44v2.44h-2.44zM1003.78 292.83h2.36v2.36h-2.36zM1006.13 292.83h2.28v2.28h-2.28zM1008.41 292.83h2.2v2.2h-2.2zM1010.61 292.83h2.12v2.12h-2.12zM1012.73 292.83h2.05v2.05h-2.05zM1006.9 296.3h8.01v8.01h-8.01zM1006.9 304.31h8.01v8.01h-8.01zM1006.9 312.32h1.68v1.68h-1.68zM1008.58 312.32h1.62v1.62h-1.62zM1010.21 312.32h1.57v1.57h-1.57zM1011.77 312.32h1.51v1.51h-1.51zM1013.29 312.32h1.46v1.46h-1.46zM1005 332.4h9.84v9.84h-9.84zM1005 342.24h6.18v6.18h-6.18zM1011.18 342.24h3.88v3.88h-3.88zM1011.18 346.12h2.22v2.22h-2.22zM1013.4 346.12h1.73v1.73h-1.73zM1010.3 349.2h4.73v4.73h-4.73zM1010.3 353.93h4.73v4.73h-4.73zM1010.3 358.66h4.73v4.73h-4.73zM1010.3 363.39h1.43v1.43h-1.43zM1011.73 363.39h1.38v1.38h-1.38zM1013.12 363.39h1.33v1.33h-1.33zM1004.3 365.5h10.52v10.52h-10.52zM1004.3 376.02h4.22v4.22h-4.22zM1008.52 376.02h4.07v4.07h-4.07zM1012.6 376.02h2.51v2.51h-2.51zM1012.6 378.53h1.51v1.51h-1.51zM1001.5 381.3h13.22v13.22h-13.22zM1010.3 410.3h4.73v4.73h-4.73zM1010.3 415.03h4.73v4.73h-4.73zM1010.3 419.76h3.69v3.69h-3.69zM1008.6 424.2h6.37v6.37h-6.37zM1008.6 430.57h6.37v6.37h-6.37zM1006.8 437.7h8.11v8.11h-8.11zM1006.8 445.81h4.47v4.47h-4.47zM1011.27 445.81h3.79v3.79h-3.79zM1013.9 475.7h1.25v1.25h-1.25zM1013.9 476.95h1.25v1.25h-1.25zM1013.9 478.21h1.25v1.25h-1.25zM1013.9 479.46h1.25v1.25h-1.25zM1013.9 480.72h1.25v1.25h-1.25zM1013.9 481.97h1.25v1.25h-1.25zM1013.9 483.23h1.25v1.25h-1.25zM1013.9 484.48h1.25v1.25h-1.25zM1013.9 485.74h1.25v1.25h-1.25zM1009.3 487.9h5.69v5.69h-5.69zM1009.3 493.59h5.69v5.69h-5.69zM1006.4 499.8h8.49v8.49h-8.49zM1006.4 508.29h2.77v2.77h-2.77zM1009.17 508.29h2.67v2.67h-2.67zM1011.84 508.29h2.58v2.58h-2.58zM1006.3 511.6h8.59v8.59h-8.59zM1006.3 520.19h2.5v2.5h-2.5zM1008.8 520.19h2.42v2.42h-2.42zM1011.22 520.19h2.33v2.33h-2.33zM1013.55 520.19h1.59v1.59h-1.59zM1012.9 523h2.22v2.22h-2.22zM1012.9 525.22h2.22v2.22h-2.22zM1012.9 527.44h2.22v2.22h-2.22zM1012.9 529.66h2.22v2.22h-2.22zM1012.9 531.88h1.94v1.94h-1.94zM1011.3 533.9h3.76v3.76h-3.76zM1011.3 537.66h3.76v3.76h-3.76zM1011.3 541.43h3.01v3.01h-3.01zM1005.6 544.7h9.26v9.26h-9.26zM1009.6 555.5h5.4v5.4h-5.4zM1009.6 560.9h4.76v4.76h-4.76zM1007 566.2h7.91v7.91h-7.91zM1007 574.11h2.06v2.06h-2.06zM1009.06 574.11h1.99v1.99h-1.99zM1011.04 574.11h1.92v1.92h-1.92zM1012.96 574.11h1.85v1.85h-1.85zM1006.6 576.5h8.3v8.3h-8.3zM1006.6 584.8h1.6v1.6h-1.6zM1008.2 584.8h1.55v1.55h-1.55zM1009.75 584.8h1.49v1.49h-1.49zM1011.24 584.8h1.44v1.44h-1.44zM1012.68 584.8h1.39v1.39h-1.39zM1006 586.6h8.88v8.88h-8.88zM1010.3 606.5h4.73v4.73h-4.73zM1010.3 611.23h4.43v4.43h-4.43zM1012.6 616h2.51v2.51h-2.51zM1012.6 618.51h2.51v2.51h-2.51zM1012.6 621.02h2.51v2.51h-2.51zM1012.6 623.53h1.56v1.56h-1.56zM1010.3 625.5h4.73v4.73h-4.73zM1010.3 630.23h3.95v3.95h-3.95zM1012.6 634.6h2.51v2.51h-2.51zM1012.6 637.11h2.51v2.51h-2.51zM1012.6 639.62h2.51v2.51h-2.51zM1013.5 659.6h1.64v1.64h-1.64zM1013.5 661.24h1.64v1.64h-1.64zM1013.5 662.88h1.64v1.64h-1.64zM1013.5 664.52h1.64v1.64h-1.64zM1012.7 667.4h2.41v2.41h-2.41zM1012.7 669.81h2.41v2.41h-2.41zM495 114.6h13.95v13.95h-13.95zM508.95 114.6h13.94v13.94h-13.94zM522.89 114.6h13.94v13.94h-13.94zM536.83 114.6h13.93v13.93h-13.93zM550.76 114.6h13.92v13.92h-13.92zM564.68 114.6h13.92v13.92h-13.92zM578.6 114.6h13.91v13.91h-13.91zM592.5 114.6h13.9v13.9h-13.9zM606.41 114.6h13.89v13.89h-13.89zM620.3 114.6h13.89v13.89h-13.89zM634.19 114.6h13.88v13.88h-13.88zM648.07 114.6h13.87v13.87h-13.87zM661.94 114.6h13.87v13.87h-13.87zM675.81 114.6h13.86v13.86h-13.86zM689.67 114.6h13.85v13.85h-13.85zM703.52 114.6h13.85v13.85h-13.85zM717.37 114.6h13.84v13.84h-13.84zM731.21 114.6h13.83v13.83h-13.83zM745.04 114.6h13.82v13.82h-13.82zM758.86 114.6h13.82v13.82h-13.82zM772.68 114.6h13.81v13.81h-13.81zM786.49 114.6h13.8v13.8h-13.8zM800.3 114.6h13.8v13.8h-13.8zM814.09 114.6h13.79v13.79h-13.79zM827.88 114.6h13.78v13.78h-13.78zM841.67 114.6h13.78v13.78h-13.78zM855.44 114.6h13.77v13.77h-13.77zM869.21 114.6h13.76v13.76h-13.76zM882.97 114.6h13.76v13.76h-13.76zM896.73 114.6h13.75v13.75h-13.75zM910.48 114.6h13.74v13.74h-13.74zM924.22 114.6h13.73v13.73h-13.73zM937.96 114.6h13.73v13.73h-13.73zM951.68 114.6h13.72v13.72h-13.72zM965.4 114.6h13.71v13.71h-13.71zM979.12 114.6h13.71v13.71h-13.71zM992.82 114.6h13.7v13.7h-13.7zM1006.52 114.6h8.37v8.37h-8.37zM1006.52 122.97h5.14v5.14h-5.14zM1011.67 122.97h3.41v3.41h-3.41zM1011.67 126.38h1.67v1.67h-1.67zM1013.34 126.38h1.61v1.61h-1.61zM541 107.2h6.95v6.95h-6.95zM547.95 107.2h6.94v6.94h-6.94zM554.89 107.2h6.94v6.94h-6.94zM561.83 107.2h6.93v6.93h-6.93zM568.77 107.2h6.93v6.93h-6.93zM575.7 107.2h6.92v6.92h-6.92zM582.62 107.2h6.92v6.92h-6.92zM589.54 107.2h6.91v6.91h-6.91zM596.46 107.2h6.91v6.91h-6.91zM603.37 107.2h6.9v6.9h-6.9zM610.27 107.2h6.9v6.9h-6.9zM617.17 107.2h6.89v6.89h-6.89zM624.07 107.2h6.89v6.89h-6.89zM630.95 107.2h6.88v6.88h-6.88zM637.84 107.2h6.88v6.88h-6.88zM644.72 107.2h6.87v6.87h-6.87zM651.59 107.2h6.87v6.87h-6.87zM658.46 107.2h6.86v6.86h-6.86zM665.32 107.2h6.86v6.86h-6.86zM672.18 107.2h6.85v6.85h-6.85zM679.04 107.2h6.85v6.85h-6.85zM685.88 107.2h6.84v6.84h-6.84zM692.73 107.2h6.84v6.84h-6.84zM699.57 107.2h6.83v6.83h-6.83zM706.4 107.2h6.83v6.83h-6.83zM713.23 107.2h6.82v6.82h-6.82zM720.05 107.2h6.82v6.82h-6.82zM726.87 107.2h6.81v6.81h-6.81zM733.68 107.2h6.81v6.81h-6.81zM740.49 107.2h6.8v6.8h-6.8zM747.29 107.2h6.8v6.8h-6.8zM754.09 107.2h6.79v6.79h-6.79zM760.88 107.2h6.79v6.79h-6.79zM767.67 107.2h6.78v6.78h-6.78zM774.45 107.2h6.78v6.78h-6.78zM781.23 107.2h6.77v6.77h-6.77zM788 107.2h6.77v6.77h-6.77zM794.77 107.2h6.76v6.76h-6.76zM801.53 107.2h6.76v6.76h-6.76zM808.29 107.2h6.75v6.75h-6.75zM815.04 107.2h6.75v6.75h-6.75zM821.79 107.2h6.74v6.74h-6.74zM828.53 107.2h6.74v6.74h-6.74zM835.27 107.2h6.73v6.73h-6.73zM842 107.2h6.73v6.73h-6.73zM848.73 107.2h6.72v6.72h-6.72zM855.45 107.2h6.72v6.72h-6.72zM862.17 107.2h6.71v6.71h-6.71zM868.88 107.2h6.71v6.71h-6.71zM875.58 107.2h6.7v6.7h-6.7zM882.29 107.2h6.7v6.7h-6.7zM888.98 107.2h6.69v6.69h-6.69zM895.67 107.2h6.69v6.69h-6.69zM902.36 107.2h6.68v6.68h-6.68zM909.04 107.2h6.68v6.68h-6.68zM915.72 107.2h6.67v6.67h-6.67zM922.39 107.2h6.67v6.67h-6.67zM929.05 107.2h6.66v6.66h-6.66zM935.72 107.2h6.66v6.66h-6.66zM942.37 107.2h6.65v6.65h-6.65zM949.02 107.2h6.65v6.65h-6.65zM955.67 107.2h6.64v6.64h-6.64zM962.31 107.2h6.64v6.64h-6.64zM968.94 107.2h6.63v6.63h-6.63zM975.57 107.2h6.63v6.63h-6.63zM982.2 107.2h6.62v6.62h-6.62zM988.82 107.2h6.62v6.62h-6.62zM995.43 107.2h6.61v6.61h-6.61zM1002.04 107.2h6.61v6.61h-6.61zM1008.65 107.2h6.6v6.6h-6.6z"/>
<path fill="#000" fill-opacity=".16" d="M824.03 689.5h3v3h-3zM827.03 689.5h2.99v2.99h-2.99zM830.02 689.5h2.99v2.99h-2.99zM833 689.5h2.98v2.98h-2.98zM835.98 689.5h2.97v2.97h-2.97zM838.95 689.5h2.97v2.97h-2.97zM841.92 689.5h2.96v2.96h-2.96zM844.88 689.5h2.95v2.95h-2.95zM847.84 689.5h2.95v2.95h-2.95zM850.79 689.5h2.94v2.94h-2.94zM853.73 689.5h2.94v2.94h-2.94zM856.67 689.5h2.93v2.93h-2.93zM859.6 689.5h2.92v2.92h-2.92zM862.52 689.5h2.92v2.92h-2.92zM865.44 689.5h2.91v2.91h-2.91zM868.35 689.5h2.91v2.91h-2.91zM871.26 689.5h2.9v2.9h-2.9zM874.16 689.5h2.89v2.89h-2.89zM877.05 689.5h2.89v2.89h-2.89zM879.94 689.5h2.88v2.88h-2.88zM882.82 689.5h2.88v2.88h-2.88zM885.7 689.5h2.87v2.87h-2.87zM888.57 689.5h2.86v2.86h-2.86zM891.43 689.5h2.86v2.86h-2.86zM894.29 689.5h2.85v2.85h-2.85zM897.14 689.5h2.85v2.85h-2.85zM899.98 689.5h2.84v2.84h-2.84zM902.82 689.5h2.83v2.83h-2.83zM905.66 689.5h2.83v2.83h-2.83zM908.48 689.5h2.82v2.82h-2.82zM911.31 689.5h2.81v2.81h-2.81zM914.12 689.5h2.81v2.81h-2.81zM916.93 689.5h2.8v2.8h-2.8zM919.73 689.5h2.8v2.8h-2.8zM922.53 689.5h2.79v2.79h-2.79zM925.32 689.5h2.78v2.78h-2.78zM928.1 689.5h2.78v2.78h-2.78zM930.88 689.5h2.77v2.77h-2.77zM933.66 689.5h2.77v2.77h-2.77zM936.42 689.5h2.76v2.76h-2.76zM939.18 689.5h2.75v2.75h-2.75zM941.94 689.5h2.75v2.75h-2.75zM944.68 689.5h2.74v2.74h-2.74zM947.43 689.5h2.74v2.74h-2.74zM950.16 689.5h2.73v2.73h-2.73zM952.89 689.5h2.72v2.72h-2.72zM955.62 689.5h2.72v2.72h-2.72zM958.33 689.5h2.71v2.71h-2.71zM961.04 689.5h2.71v2.71h-2.71zM963.75 689.5h2.7v2.7h-2.7zM966.45 689.5h2.69v2.69h-2.69zM969.14 689.5h2.69v2.69h-2.69zM971.83 689.5h2.68v2.68h-2.68zM974.51 689.5h2.68v2.68h-2.68zM977.19 689.5h2.67v2.67h-2.67zM979.86 689.5h2.66v2.66h-2.66zM982.52 689.5h2.66v2.66h-2.66zM985.18 689.5h2.65v2.65h-2.65zM987.83 689.5h2.64v2.64h-2.64zM990.47 689.5h2.64v2.64h-2.64zM993.11 689.5h2.63v2.63h-2.63zM995.74 689.5h2.63v2.63h-2.63zM998.37 689.5h2.62v2.62h-2.62zM1000.99 689.5h2.61v2.61h-2.61zM1003.6 689.5h2.61v2.61h-2.61zM1006.21 689.5h2.6v2.6h-2.6zM1008.81 689.5h2.6v2.6h-2.6zM1011.41 689.5h2.59v2.59h-2.59zM375 693.3h2.7v2.7h-2.7zM377.7 693.3h2.7v2.7h-2.7zM380.4 693.3h2.69v2.69h-2.69zM383.09 693.3h2.69v2.69h-2.69zM385.78 693.3h2.69v2.69h-2.69zM388.47 693.3h2.69v2.69h-2.69zM391.16 693.3h2.68v2.68h-2.68zM393.84 693.3h2.68v2.68h-2.68zM396.52 693.3h2.68v2.68h-2.68zM399.2 693.3h2.67v2.67h-2.67zM401.87 693.3h2.67v2.67h-2.67zM404.54 693.3h2.67v2.67h-2.67zM407.21 693.3h2.67v2.67h-2.67zM409.87 693.3h2.66v2.66h-2.66zM412.54 693.3h2.66v2.66h-2.66zM415.2 693.3h2.66v2.66h-2.66zM417.85 693.3h2.65v2.65h-2.65zM420.51 693.3h2.65v2.65h-2.65zM423.16 693.3h2.65v2.65h-2.65zM425.81 693.3h2.65v2.65h-2.65zM428.45 693.3h2.64v2.64h-2.64zM431.09 693.3h2.64v2.64h-2.64zM433.73 693.3h2.64v2.64h-2.64zM436.37 693.3h2.63v2.63h-2.63zM439 693.3h2.63v2.63h-2.63zM441.63 693.3h2.63v2.63h-2.63zM444.26 693.3h2.62v2.62h-2.62zM446.89 693.3h2.62v2.62h-2.62zM449.51 693.3h2.62v2.62h-2.62zM452.13 693.3h2.62v2.62h-2.62zM454.74 693.3h2.61v2.61h-2.61zM457.36 693.3h2.61v2.61h-2.61zM459.97 693.3h2.61v2.61h-2.61zM462.58 693.3h2.6v2.6h-2.6zM465.18 693.3h2.6v2.6h-2.6zM467.78 693.3h2.6v2.6h-2.6zM470.38 693.3h2.6v2.6h-2.6zM472.98 693.3h2.59v2.59h-2.59zM475.57 693.3h2.59v2.59h-2.59zM478.16 693.3h2.59v2.59h-2.59zM480.75 693.3h2.58v2.58h-2.58zM483.33 693.3h2.58v2.58h-2.58zM485.92 693.3h2.58v2.58h-2.58zM488.49 693.3h2.58v2.58h-2.58zM491.07 693.3h2.57v2.57h-2.57zM493.64 693.3h2.57v2.57h-2.57zM496.21 693.3h2.57v2.57h-2.57zM498.78 693.3h2.56v2.56h-2.56zM501.35 693.3h2.56v2.56h-2.56zM503.91 693.3h2.56v2.56h-2.56zM506.47 693.3h2.56v2.56h-2.56zM509.02 693.3h2.55v2.55h-2.55zM511.57 693.3h2.55v2.55h-2.55zM514.12 693.3h2.55v2.55h-2.55zM516.67 693.3h2.54v2.54h-2.54zM519.22 693.3h2.54v2.54h-2.54zM521.76 693.3h2.54v2.54h-2.54zM524.29 693.3h2.54v2.54h-2.54zM526.83 693.3h2.53v2.53h-2.53zM529.36 693.3h2.53v2.53h-2.53zM531.89 693.3h2.53v2.53h-2.53zM534.42 693.3h2.52v2.52h-2.52zM536.94 693.3h2.52v2.52h-2.52zM539.46 693.3h2.52v2.52h-2.52zM541.98 693.3h2.52v2.52h-2.52zM544.5 693.3h2.51v2.51h-2.51zM547.01 693.3h2.51v2.51h-2.51zM549.52 693.3h2.51v2.51h-2.51zM552.03 693.3h2.5v2.5h-2.5zM554.53 693.3h2.5v2.5h-2.5zM557.03 693.3h2.5v2.5h-2.5zM559.53 693.3h2.5v2.5h-2.5zM562.02 693.3h2.49v2.49h-2.49zM564.52 693.3h2.49v2.49h-2.49zM567.01 693.3h2.49v2.49h-2.49zM569.49 693.3h2.48v2.48h-2.48zM571.98 693.3h2.48v2.48h-2.48zM574.46 693.3h2.48v2.48h-2.48zM576.93 693.3h2.47v2.47h-2.47zM579.41 693.3h2.47v2.47h-2.47zM581.88 693.3h2.47v2.47h-2.47zM584.35 693.3h2.47v2.47h-2.47zM586.82 693.3h2.46v2.46h-2.46zM589.28 693.3h2.46v2.46h-2.46zM591.74 693.3h2.46v2.46h-2.46zM594.2 693.3h2.45v2.45h-2.45zM596.65 693.3h2.45v2.45h-2.45zM599.11 693.3h2.45v2.45h-2.45zM601.55 693.3h2.45v2.45h-2.45zM604 693.3h2.44v2.44h-2.44zM606.44 693.3h2.44v2.44h-2.44zM608.88 693.3h2.44v2.44h-2.44zM611.32 693.3h2.43v2.43h-2.43zM613.76 693.3h2.43v2.43h-2.43zM616.19 693.3h2.43v2.43h-2.43zM618.62 693.3h2.43v2.43h-2.43zM621.04 693.3h2.42v2.42h-2.42zM623.47 693.3h2.42v2.42h-2.42zM625.89 693.3h2.42v2.42h-2.42zM628.3 693.3h2.41v2.41h-2.41zM630.72 693.3h2.41v2.41h-2.41zM633.13 693.3h2.41v2.41h-2.41zM635.54 693.3h2.41v2.41h-2.41zM637.94 693.3h2.4v2.4h-2.4zM640.35 693.3h2.4v2.4h-2.4zM642.75 693.3h2.4v2.4h-2.4zM645.14 693.3h2.39v2.39h-2.39zM647.54 693.3h2.39v2.39h-2.39zM649.93 693.3h2.39v2.39h-2.39zM652.32 693.3h2.39v2.39h-2.39zM654.7 693.3h2.38v2.38h-2.38zM657.08 693.3h2.38v2.38h-2.38zM659.46 693.3h2.38v2.38h-2.38zM661.84 693.3h2.37v2.37h-2.37zM664.21 693.3h2.37v2.37h-2.37zM666.59 693.3h2.37v2.37h-2.37zM668.95 693.3h2.37v2.37h-2.37zM671.32 693.3h2.36v2.36h-2.36zM673.68 693.3h2.36v2.36h-2.36zM676.04 693.3h2.36v2.36h-2.36zM678.4 693.3h2.35v2.35h-2.35zM680.75 693.3h2.35v2.35h-2.35zM683.1 693.3h2.35v2.35h-2.35zM685.45 693.3h2.35v2.35h-2.35zM687.8 693.3h2.34v2.34h-2.34zM690.14 693.3h2.34v2.34h-2.34zM692.48 693.3h2.34v2.34h-2.34zM694.81 693.3h2.33v2.33h-2.33zM697.15 693.3h2.33v2.33h-2.33zM699.48 693.3h2.33v2.33h-2.33zM701.81 693.3h2.32v2.32h-2.32zM704.13 693.3h2.32v2.32h-2.32zM706.45 693.3h2.32v2.32h-2.32zM708.77 693.3h2.32v2.32h-2.32zM711.09 693.3h2.31v2.31h-2.31zM713.4 693.3h2.31v2.31h-2.31zM715.71 693.3h2.31v2.31h-2.31zM718.02 693.3h2.3v2.3h-2.3zM720.32 693.3h2.3v2.3h-2.3zM722.63 693.3h2.3v2.3h-2.3zM724.92 693.3h2.3v2.3h-2.3zM727.22 693.3h2.29v2.29h-2.29zM729.51 693.3h2.29v2.29h-2.29zM731.8 693.3h2.29v2.29h-2.29zM734.09 693.3h2.28v2.28h-2.28zM736.38 693.3h2.28v2.28h-2.28zM738.66 693.3h2.28v2.28h-2.28zM740.94 693.3h2.28v2.28h-2.28zM743.21 693.3h2.27v2.27h-2.27zM745.48 693.3h2.27v2.27h-2.27zM747.75 693.3h2.27v2.27h-2.27zM750.02 693.3h2.26v2.26h-2.26zM752.29 693.3h2.26v2.26h-2.26zM754.55 693.3h2.26v2.26h-2.26zM756.81 693.3h2.26v2.26h-2.26zM759.06 693.3h2.25v2.25h-2.25zM761.31 693.3h2.25v2.25h-2.25zM763.56 693.3h2.25v2.25h-2.25zM765.81 693.3h2.24v2.24h-2.24zM768.06 693.3h2.24v2.24h-2.24zM770.3 693.3h2.24v2.24h-2.24zM772.53 693.3h2.24v2.24h-2.24zM774.77 693.3h2.23v2.23h-2.23zM777 693.3h2.23v2.23h-2.23zM779.23 693.3h2.23v2.23h-2.23zM781.46 693.3h2.22v2.22h-2.22zM783.68 693.3h2.22v2.22h-2.22zM785.9 693.3h2.22v2.22h-2.22zM788.12 693.3h2.22v2.22h-2.22zM790.34 693.3h2.21v2.21h-2.21zM792.55 693.3h2.21v2.21h-2.21zM794.76 693.3h2.21v2.21h-2.21zM796.97 693.3h2.2v2.2h-2.2zM799.17 693.3h2.2v2.2h-2.2zM801.37 693.3h2.2v2.2h-2.2zM803.57 693.3h2.2v2.2h-2.2zM805.76 693.3h2.19v2.19h-2.19zM807.96 693.3h2.19v2.19h-2.19zM810.14 693.3h2.19v2.19h-2.19zM812.33 693.3h2.18v2.18h-2.18zM814.51 693.3h2.18v2.18h-2.18zM816.7 693.3h2.18v2.18h-2.18zM818.87 693.3h2.17v2.17h-2.17zM821.05 693.3h2.17v2.17h-2.17zM823.22 693.3h2.17v2.17h-2.17zM825.39 693.3h2.17v2.17h-2.17zM827.56 693.3h2.16v2.16h-2.16zM829.72 693.3h2.16v2.16h-2.16zM831.88 693.3h2.16v2.16h-2.16zM834.04 693.3h2.15v2.15h-2.15zM836.19 693.3h2.15v2.15h-2.15zM838.34 693.3h2.15v2.15h-2.15zM840.49 693.3h2.15v2.15h-2.15zM842.64 693.3h2.14v2.14h-2.14zM844.78 693.3h2.14v2.14h-2.14zM846.92 693.3h2.14v2.14h-2.14zM849.06 693.3h2.13v2.13h-2.13zM851.19 693.3h2.13v2.13h-2.13zM853.32 693.3h2.13v2.13h-2.13zM855.45 693.3h2.13v2.13h-2.13zM857.58 693.3h2.12v2.12h-2.12zM859.7 693.3h2.12v2.12h-2.12zM861.82 693.3h2.12v2.12h-2.12zM863.94 693.3h2.11v2.11h-2.11zM866.05 693.3h2.11v2.11h-2.11zM868.16 693.3h2.11v2.11h-2.11zM870.27 693.3h2.11v2.11h-2.11zM872.38 693.3h2.1v2.1h-2.1zM874.48 693.3h2.1v2.1h-2.1zM876.58 693.3h2.1v2.1h-2.1zM878.68 693.3h2.09v2.09h-2.09zM880.77 693.3h2.09v2.09h-2.09zM882.86 693.3h2.09v2.09h-2.09zM884.95 693.3h2.09v2.09h-2.09zM887.04 693.3h2.08v2.08h-2.08zM889.12 693.3h2.08v2.08h-2.08zM891.2 693.3h2.08v2.08h-2.08zM893.28 693.3h2.07v2.07h-2.07zM895.35 693.3h2.07v2.07h-2.07zM897.42 693.3h2.07v2.07h-2.07zM899.49 693.3h2.07v2.07h-2.07zM901.55 693.3h2.06v2.06h-2.06zM903.62 693.3h2.06v2.06h-2.06zM905.68 693.3h2.06v2.06h-2.06zM907.73 693.3h2.05v2.05h-2.05zM909.79 693.3h2.05v2.05h-2.05zM911.84 693.3h2.05v2.05h-2.05zM913.88 693.3h2.04v2.04h-2.04zM915.93 693.3h2.04v2.04h-2.04zM917.97 693.3h2.04v2.04h-2.04zM920.01 693.3h2.04v2.04h-2.04zM922.05 693.3h2.03v2.03h-2.03zM924.08 693.3h2.03v2.03h-2.03zM926.11 693.3h2.03v2.03h-2.03zM928.14 693.3h2.02v2.02h-2.02zM930.16 693.3h2.02v2.02h-2.02zM932.19 693.3h2.02v2.02h-2.02zM934.2 693.3h2.02v2.02h-2.02zM936.22 693.3h2.01v2.01h-2.01zM938.23 693.3h2.01v2.01h-2.01zM940.24 693.3h2.01v2.01h-2.01zM942.25 693.3h2v2h-2zM944.26 693.3h2v2h-2zM946.26 693.3h2v2h-2zM948.26 693.3h2v2h-2zM950.25 693.3h1.99v1.99h-1.99zM952.25 693.3h1.99v1.99h-1.99zM954.24 693.3h1.99v1.99h-1.99zM956.22 693.3h1.98v1.98h-1.98zM958.21 693.3h1.98v1.98h-1.98zM960.19 693.3h1.98v1.98h-1.98zM962.17 693.3h1.98v1.98h-1.98zM964.14 693.3h1.97v1.97h-1.97zM966.12 693.3h1.97v1.97h-1.97zM968.09 693.3h1.97v1.97h-1.97zM970.05 693.3h1.96v1.96h-1.96zM972.02 693.3h1.96v1.96h-1.96zM973.98 693.3h1.96v1.96h-1.96zM975.94 693.3h1.96v1.96h-1.96zM977.89 693.3h1.95v1.95h-1.95zM979.85 693.3h1.95v1.95h-1.95zM981.8 693.3h1.95v1.95h-1.95zM983.74 693.3h1.94v1.94h-1.94zM985.69 693.3h1.94v1.94h-1.94zM987.63 693.3h1.94v1.94h-1.94zM989.57 693.3h1.94v1.94h-1.94zM991.5 693.3h1.93v1.93h-1.93zM993.43 693.3h1.93v1.93h-1.93zM995.36 693.3h1.93v1.93h-1.93zM997.29 693.3h1.92v1.92h-1.92zM999.21 693.3h1.92v1.92h-1.92zM1001.13 693.3h1.92v1.92h-1.92zM1003.05 693.3h1.92v1.92h-1.92zM1004.97 693.3h1.91v1.91h-1.91zM1006.88 693.3h1.91v1.91h-1.91zM1008.79 693.3h1.91v1.91h-1.91zM1010.7 693.3h1.9v1.9h-1.9zM1012.6 693.3h1.9v1.9h-1.9zM1006.72 152.38h2.92v2.92h-2.92zM1009.64 152.38h2.82v2.82h-2.82zM1012.46 152.38h2.65v2.65h-2.65zM1010.36 210.48h1.21v1.21h-1.21zM1006.5 273.59h2.42v2.42h-2.42zM1008.92 273.59h2.33v2.33h-2.33zM1011.25 273.59h2.25v2.25h-2.25zM1013.5 273.59h1.64v1.64h-1.64zM998.8 292.83h2.53v2.53h-2.53zM1001.33 292.83h2.44v2.44h-2.44zM1003.78 292.83h2.36v2.36h-2.36zM1006.13 292.83h2.28v2.28h-2.28zM1008.41 292.83h2.2v2.2h-2.2zM1010.61 292.83h2.12v2.12h-2.12zM1012.73 292.83h2.05v2.05h-2.05zM1006.9 312.32h1.68v1.68h-1.68zM1008.58 312.32h1.62v1.62h-1.62zM1010.21 312.32h1.57v1.57h-1.57zM1011.77 312.32h1.51v1.51h-1.51zM1013.29 312.32h1.46v1.46h-1.46zM1011.18 346.12h2.22v2.22h-2.22zM1013.4 346.12h1.73v1.73h-1.73zM1010.3 363.39h1.43v1.43h-1.43zM1011.73 363.39h1.38v1.38h-1.38zM1013.12 363.39h1.33v1.33h-1.33zM1012.6 376.02h2.51v2.51h-2.51zM1012.6 378.53h1.51v1.51h-1.51zM1013.9 475.7h1.25v1.25h-1.25zM1013.9 476.95h1.25v1.25h-1.25zM1013.9 478.21h1.25v1.25h-1.25zM1013.9 479.46h1.25v1.25h-1.25zM1013.9 480.72h1.25v1.25h-1.25zM1013.9 481.97h1.25v1.25h-1.25zM1013.9 483.23h1.25v1.25h-1.25zM1013.9 484.48h1.25v1.25h-1.25zM1013.9 485.74h1.25v1.25h-1.25zM1006.4 508.29h2.77v2.77h-2.77zM1009.17 508.29h2.67v2.67h-2.67zM1011.84 508.29h2.58v2.58h-2.58zM1006.3 520.19h2.5v2.5h-2.5zM1008.8 520.19h2.42v2.42h-2.42zM1011.22 520.19h2.33v2.33h-2.33zM1013.55 520.19h1.59v1.59h-1.59zM1012.9 523h2.22v2.22h-2.22zM1012.9 525.22h2.22v2.22h-2.22zM1012.9 527.44h2.22v2.22h-2.22zM1012.9 529.66h2.22v2.22h-2.22zM1012.9 531.88h1.94v1.94h-1.94zM1007 574.11h2.06v2.06h-2.06zM1009.06 574.11h1.99v1.99h-1.99zM1011.04 574.11h1.92v1.92h-1.92zM1012.96 574.11h1.85v1.85h-1.85zM1006.6 584.8h1.6v1.6h-1.6zM1008.2 584.8h1.55v1.55h-1.55zM1009.75 584.8h1.49v1.49h-1.49zM1011.24 584.8h1.44v1.44h-1.44zM1012.68 584.8h1.39v1.39h-1.39zM1012.6 616h2.51v2.51h-2.51zM1012.6 618.51h2.51v2.51h-2.51zM1012.6 621.02h2.51v2.51h-2.51zM1012.6 623.53h1.56v1.56h-1.56zM1012.6 634.6h2.51v2.51h-2.51zM1012.6 637.11h2.51v2.51h-2.51zM1012.6 639.62h2.51v2.51h-2.51zM1013.5 659.6h1.64v1.64h-1.64zM1013.5 661.24h1.64v1.64h-1.64zM1013.5 662.88h1.64v1.64h-1.64zM1013.5 664.52h1.64v1.64h-1.64zM1012.7 667.4h2.41v2.41h-2.41zM1012.7 669.81h2.41v2.41h-2.41zM1011.67 126.38h1.67v1.67h-1.67zM1013.34 126.38h1.61v1.61h-1.61z"/>
<g>
<text x="375.1" y="104.6" font-size="15">hevc</text>
<text x="435.1" y="104.6" font-size="15">hevc</text>
<text x="495.1" y="96.2" font-size="11.5">hevc</text>
<text x="579.7" y="91.6" font-size="9.57">hevc</text>
<text x="618" y="91.5" font-size="9.53">hevc</text>
<text x="693.1" y="90.6" font-size="9.16">hevc</text>
<text x="729.8" y="90.3" font-size="9.06">hevc</text>
<text x="766" y="90.2" font-size="8.99">hevc</text>
<text x="802" y="89.8" font-size="8.82">hevc</text>
<text x="837.2" y="89.7" font-size="8.8">hevc</text>
<text x="872.5" y="89.3" font-size="8.61">h264</text>
<text x="906.9" y="89" font-size="8.5">hevc</text>
<text x="940.9" y="88.9" font-size="8.47">hevc</text>
<text x="974.8" y="88.8" font-size="8.44">hevc</text>
<text x="375.1" y="148.8" font-size="8.47">hevc</text>
<text x="409" y="148.8" font-size="8.45">hevc</text>
<text x="442.8" y="148.7" font-size="8.43">hevc</text>
<text x="476.5" y="148.7" font-size="8.43">hevc</text>
<text x="510.2" y="148.7" font-size="8.4">hevc</text>
<text x="543.8" y="148.7" font-size="8.4">hevc</text>
<text x="577.4" y="148.2" font-size="8.2">hevc</text>
<text x="610.2" y="148.2" font-size="8.2">hevc</text>
<text x="643" y="147.9" font-size="8.07">h264</text>
<text x="706.3" y="147" font-size="7.71">hevc</text>
<text x="737.1" y="146.4" font-size="7.47">hevc</text>
<text x="767" y="146.2" font-size="7.38">hevc</text>
<text x="796.5" y="145.3" font-size="7">hevc</text>
<text x="824.5" y="145.3" font-size="7">hevc</text>
<text x="852.5" y="145.3" font-size="7">hevc</text>
<text x="880.5" y="145" font-size="6.88">hevc</text>
<text x="908" y="145" font-size="6.88">hevc</text>
<text x="935.5" y="145" font-size="6.88">hevc</text>
<text x="963" y="145" font-size="6.88">hevc</text>
<text x="1008.6" y="72.5" font-size="1.63" fill-opacity=".57">h264</text>
<text x="1008.6" y="79" font-size="1.63" fill-opacity=".57">h264</text>
<text x="1008.6" y="85.5" font-size="1.63" fill-opacity=".57">h264</text>
<text x="1008.6" y="92" font-size="1.63" fill-opacity=".57">h264</text>
<text x="1008.6" y="98.6" font-size="1.63" fill-opacity=".57">hevc</text>
<text x="990.5" y="142.8" font-size="5.97">hevc</text>
<text x="1005.6" y="177.4" font-size="2.34" fill-opacity=".66">h264</text>
<text x="998.4" y="199.3" font-size="4.08" fill-opacity=".89">hevc</text>
<text x="998.4" y="209.5" font-size="1.53" fill-opacity=".56">h264</text>
<text x="1004.5" y="209.4" font-size="1.48" fill-opacity=".55">hevc</text>
<text x="1010.5" y="208.6" font-size="1.17" fill-opacity=".51">hevc</text>
<text x="1008.1" y="217.4" font-size="1.74" fill-opacity=".59">hevc</text>
<text x="1008.1" y="224.3" font-size="1.74" fill-opacity=".59">h264</text>
<text x="1008.1" y="231.3" font-size="1.74" fill-opacity=".59">hevc</text>
<text x="1010.4" y="238.2" font-size="1.18" fill-opacity=".51">h264</text>
<text x="1010.4" y="243" font-size="1.18" fill-opacity=".51">hevc</text>
<text x="1010.4" y="247.7" font-size="1.18" fill-opacity=".51">h264</text>
<text x="1010.4" y="252.4" font-size="1.18" fill-opacity=".51">hevc</text>
<text x="1006.6" y="261.8" font-size="2.1" fill-opacity=".63">h264</text>
<text x="1006.6" y="270.2" font-size="2.1" fill-opacity=".63">hevc</text>
<text x="998.9" y="286.5" font-size="3.96" fill-opacity=".87">h264</text>
<text x="1007" y="301.1" font-size="2" fill-opacity=".62">h264</text>
<text x="1005.1" y="338.3" font-size="2.46" fill-opacity=".68">h264</text>
<text x="1005.1" y="346" font-size="1.55" fill-opacity=".56">h264</text>
<text x="1010.4" y="352" font-size="1.18" fill-opacity=".51">hevc</text>
<text x="1010.4" y="356.8" font-size="1.18" fill-opacity=".51">hevc</text>
<text x="1010.4" y="361.5" font-size="1.18" fill-opacity=".51">hevc</text>
<text x="1004.4" y="371.8" font-size="2.63" fill-opacity=".7">hevc</text>
<text x="1001.6" y="389.2" font-size="3.31" fill-opacity=".79">h264</text>
<text x="1010.4" y="413.1" font-size="1.18" fill-opacity=".51">h264</text>
<text x="1010.4" y="417.9" font-size="1.18" fill-opacity=".51">hevc</text>
<text x="1008.7" y="428" font-size="1.59" fill-opacity=".57">h264</text>
<text x="1008.7" y="434.4" font-size="1.59" fill-opacity=".57">h264</text>
<text x="1006.9" y="442.6" font-size="2.03" fill-opacity=".62">h264</text>
<text x="1009.4" y="491.3" font-size="1.42" fill-opacity=".55">h264</text>
<text x="1009.4" y="497" font-size="1.42" fill-opacity=".55">hevc</text>
<text x="1006.5" y="504.9" font-size="2.12" fill-opacity=".64">h264</text>
<text x="1006.4" y="516.8" font-size="2.15" fill-opacity=".64">hevc</text>
<text x="1005.7" y="550.3" font-size="2.32" fill-opacity=".66">h264</text>
<text x="1009.7" y="558.7" font-size="1.35" fill-opacity=".54">hevc</text>
<text x="1009.7" y="563.8" font-size="1.19" fill-opacity=".51">hevc</text>
<text x="1007.1" y="570.9" font-size="1.98" fill-opacity=".62">h264</text>
<text x="1006.7" y="581.5" font-size="2.07" fill-opacity=".63">h264</text>
<text x="1006.1" y="591.9" font-size="2.22" fill-opacity=".65">h264</text>
<text x="1010.4" y="609.3" font-size="1.18" fill-opacity=".51">h264</text>
<text x="1010.4" y="628.3" font-size="1.18" fill-opacity=".51">h264</text>
<text x="495.1" y="123" font-size="3.49" fill-opacity=".81">h264</text>
<text x="509.1" y="123" font-size="3.49" fill-opacity=".81">h264</text>
<text x="523" y="123" font-size="3.48" fill-opacity=".81">h264</text>
<text x="536.9" y="123" font-size="3.48" fill-opacity=".81">hevc</text>
<text x="550.9" y="123" font-size="3.48" fill-opacity=".81">hevc</text>
<text x="564.8" y="122.9" font-size="3.48" fill-opacity=".81">h264</text>
<text x="578.7" y="122.9" font-size="3.48" fill-opacity=".81">h264</text>
<text x="592.6" y="122.9" font-size="3.48" fill-opacity=".81">h264</text>
<text x="620.4" y="122.9" font-size="3.47" fill-opacity=".81">h264</text>
<text x="634.3" y="122.9" font-size="3.47" fill-opacity=".81">h264</text>
<text x="648.2" y="122.9" font-size="3.47" fill-opacity=".81">h264</text>
<text x="662" y="122.9" font-size="3.47" fill-opacity=".81">h264</text>
<text x="675.9" y="122.9" font-size="3.46" fill-opacity=".81">h264</text>
<text x="689.8" y="122.9" font-size="3.46" fill-opacity=".81">hevc</text>
<text x="703.6" y="122.9" font-size="3.46" fill-opacity=".81">h264</text>
<text x="717.5" y="122.9" font-size="3.46" fill-opacity=".81">hevc</text>
<text x="731.3" y="122.9" font-size="3.46" fill-opacity=".81">hevc</text>
<text x="745.1" y="122.9" font-size="3.46" fill-opacity=".81">hevc</text>
<text x="759" y="122.9" font-size="3.45" fill-opacity=".81">hevc</text>
<text x="772.8" y="122.9" font-size="3.45" fill-opacity=".81">hevc</text>
<text x="786.6" y="122.9" font-size="3.45" fill-opacity=".81">hevc</text>
<text x="814.2" y="122.9" font-size="3.45" fill-opacity=".81">h264</text>
<text x="828" y="122.9" font-size="3.45" fill-opacity=".81">hevc</text>
<text x="841.8" y="122.9" font-size="3.44" fill-opacity=".81">h264</text>
<text x="869.3" y="122.9" font-size="3.44" fill-opacity=".81">h264</text>
<text x="883.1" y="122.9" font-size="3.44" fill-opacity=".81">hevc</text>
<text x="896.8" y="122.8" font-size="3.44" fill-opacity=".81">hevc</text>
<text x="924.3" y="122.8" font-size="3.43" fill-opacity=".81">h264</text>
<text x="938.1" y="122.8" font-size="3.43" fill-opacity=".81">h264</text>
<text x="951.8" y="122.8" font-size="3.43" fill-opacity=".81">hevc</text>
<text x="965.5" y="122.8" font-size="3.43" fill-opacity=".81">h264</text>
<text x="979.2" y="122.8" font-size="3.43" fill-opacity=".81">h264</text>
<text x="992.9" y="122.8" font-size="3.42" fill-opacity=".81">h264</text>
<text x="1006.6" y="119.6" font-size="2.09" fill-opacity=".63">h264</text>
<text x="1006.6" y="126.1" font-size="1.29" fill-opacity=".53">mpeg4</text>
<text x="541.1" y="111.4" font-size="1.74" fill-opacity=".59">h264</text>
<text x="548.1" y="111.4" font-size="1.74" fill-opacity=".59">h264</text>
<text x="555" y="111.4" font-size="1.73" fill-opacity=".59">h264</text>
<text x="561.9" y="111.4" font-size="1.73" fill-opacity=".59">h264</text>
<text x="568.9" y="111.4" font-size="1.73" fill-opacity=".59">h264</text>
<text x="575.8" y="111.4" font-size="1.73" fill-opacity=".59">h264</text>
<text x="582.7" y="111.4" font-size="1.73" fill-opacity=".58">hevc</text>
<text x="589.6" y="111.3" font-size="1.73" fill-opacity=".58">h264</text>
<text x="596.6" y="111.3" font-size="1.73" fill-opacity=".58">h264</text>
<text x="603.5" y="111.3" font-size="1.73" fill-opacity=".58">h264</text>
<text x="610.4" y="111.3" font-size="1.72" fill-opacity=".58">h264</text>
<text x="617.3" y="111.3" font-size="1.72" fill-opacity=".58">h264</text>
<text x="624.2" y="111.3" font-size="1.72" fill-opacity=".58">h264</text>
<text x="631.1" y="111.3" font-size="1.72" fill-opacity=".58">h264</text>
<text x="637.9" y="111.3" font-size="1.72" fill-opacity=".58">hevc</text>
<text x="644.8" y="111.3" font-size="1.72" fill-opacity=".58">h264</text>
<text x="651.7" y="111.3" font-size="1.72" fill-opacity=".58">h264</text>
<text x="658.6" y="111.3" font-size="1.72" fill-opacity=".58">hevc</text>
<text x="665.4" y="111.3" font-size="1.71" fill-opacity=".58">hevc</text>
<text x="672.3" y="111.3" font-size="1.71" fill-opacity=".58">h264</text>
<text x="686" y="111.3" font-size="1.71" fill-opacity=".58">hevc</text>
<text x="692.8" y="111.3" font-size="1.71" fill-opacity=".58">h264</text>
<text x="699.7" y="111.3" font-size="1.71" fill-opacity=".58">h264</text>
<text x="706.5" y="111.3" font-size="1.71" fill-opacity=".58">h264</text>
<text x="713.3" y="111.3" font-size="1.71" fill-opacity=".58">h264</text>
<text x="720.2" y="111.3" font-size="1.7" fill-opacity=".58">hevc</text>
<text x="727" y="111.3" font-size="1.7" fill-opacity=".58">hevc</text>
<text x="733.8" y="111.3" font-size="1.7" fill-opacity=".58">hevc</text>
<text x="740.6" y="111.3" font-size="1.7" fill-opacity=".58">hevc</text>
<text x="747.4" y="111.3" font-size="1.7" fill-opacity=".58">hevc</text>
<text x="754.2" y="111.3" font-size="1.7" fill-opacity=".58">h264</text>
<text x="761" y="111.3" font-size="1.7" fill-opacity=".58">hevc</text>
<text x="767.8" y="111.3" font-size="1.7" fill-opacity=".58">h264</text>
<text x="774.6" y="111.3" font-size="1.69" fill-opacity=".58">h264</text>
<text x="781.3" y="111.3" font-size="1.69" fill-opacity=".58">h264</text>
<text x="788.1" y="111.3" font-size="1.69" fill-opacity=".58">hevc</text>
<text x="794.9" y="111.3" font-size="1.69" fill-opacity=".58">hevc</text>
<text x="801.6" y="111.3" font-size="1.69" fill-opacity=".58">h264</text>
<text x="808.4" y="111.3" font-size="1.69" fill-opacity=".58">h264</text>
<text x="815.1" y="111.2" font-size="1.69" fill-opacity=".58">h264</text>
<text x="821.9" y="111.2" font-size="1.69" fill-opacity=".58">h264</text>
<text x="828.6" y="111.2" font-size="1.68" fill-opacity=".58">h264</text>
<text x="835.4" y="111.2" font-size="1.68" fill-opacity=".58">h264</text>
<text x="842.1" y="111.2" font-size="1.68" fill-opacity=".58">h264</text>
<text x="848.8" y="111.2" font-size="1.68" fill-opacity=".58">hevc</text>
<text x="855.6" y="111.2" font-size="1.68" fill-opacity=".58">h264</text>
<text x="862.3" y="111.2" font-size="1.68" fill-opacity=".58">h264</text>
<text x="869" y="111.2" font-size="1.68" fill-opacity=".58">h264</text>
<text x="875.7" y="111.2" font-size="1.68" fill-opacity=".58">hevc</text>
<text x="882.4" y="111.2" font-size="1.67" fill-opacity=".58">hevc</text>
<text x="889.1" y="111.2" font-size="1.67" fill-opacity=".58">h264</text>
<text x="895.8" y="111.2" font-size="1.67" fill-opacity=".58">h264</text>
<text x="902.5" y="111.2" font-size="1.67" fill-opacity=".58">h264</text>
<text x="909.1" y="111.2" font-size="1.67" fill-opacity=".58">hevc</text>
<text x="915.8" y="111.2" font-size="1.67" fill-opacity=".58">h264</text>
<text x="922.5" y="111.2" font-size="1.67" fill-opacity=".58">h264</text>
<text x="929.2" y="111.2" font-size="1.67" fill-opacity=".58">h264</text>
<text x="935.8" y="111.2" font-size="1.66" fill-opacity=".58">h264</text>
<text x="942.5" y="111.2" font-size="1.66" fill-opacity=".58">h264</text>
<text x="949.1" y="111.2" font-size="1.66" fill-opacity=".58">h264</text>
<text x="955.8" y="111.2" font-size="1.66" fill-opacity=".58">h264</text>
<text x="962.4" y="111.2" font-size="1.66" fill-opacity=".58">h264</text>
<text x="969" y="111.2" font-size="1.66" fill-opacity=".58">h264</text>
<text x="975.7" y="111.2" font-size="1.66" fill-opacity=".58">h264</text>
<text x="982.3" y="111.2" font-size="1.66" fill-opacity=".58">h264</text>
<text x="988.9" y="111.2" font-size="1.65" fill-opacity=".57">h264</text>
<text x="995.5" y="111.2" font-size="1.65" fill-opacity=".57">hevc</text>
<text x="1002.1" y="111.2" font-size="1.65" fill-opacity=".57">h264</text>
<text x="1008.8" y="111.2" font-size="1.65" fill-opacity=".57">hevc</text>
<text y="177.4" font-size="6.26"><tspan x="375.1">hevc</tspan><tspan x="456.3">hevc</tspan><tspan x="483.3">hevc</tspan><tspan x="510.3">h264</tspan><tspan x="563.9">hevc</tspan><tspan x="590.4">hevc</tspan><tspan x="616.2">mpeg4</tspan><tspan x="641.5">h264</tspan><tspan x="666.9">mpeg4</tspan><tspan x="692.2">hevc</tspan><tspan x="742.1">hevc</tspan><tspan x="766.6">hevc</tspan><tspan x="791.1">mpeg4</tspan><tspan x="815.6">hevc</tspan><tspan x="864.2">hevc</tspan><tspan x="887.9">h264</tspan><tspan x="911.5">h264</tspan><tspan x="935.2">h264</tspan><tspan x="958.8">hevc</tspan><tspan x="982.4">hevc</tspan></text>
<text y="203.4" font-size="5.77"><tspan x="375.1">hevc</tspan><tspan x="398.7">hevc</tspan><tspan x="445.8">hevc</tspan><tspan x="469.3">hevc</tspan><tspan x="492.7">mpeg4</tspan><tspan x="539.3">h264</tspan><tspan x="562.5">h264</tspan><tspan x="585.7">h264</tspan><tspan x="608.9">hevc</tspan><tspan x="632">hevc</tspan><tspan x="655.1">h264</tspan><tspan x="678.2">hevc</tspan><tspan x="701.2">hevc</tspan><tspan x="724.3">hevc</tspan><tspan x="747.3">hevc</tspan><tspan x="770.3">hevc</tspan><tspan x="839">h264</tspan><tspan x="907.5">hevc</tspan><tspan x="930.3">h264</tspan><tspan x="953">hevc</tspan><tspan x="975.7">hevc</tspan></text>
<text y="226.3" font-size="5.46"><tspan x="375.1">hevc</tspan><tspan x="419.6">h264</tspan><tspan x="441.8">h264</tspan><tspan x="464">hevc</tspan><tspan x="486.2">hevc</tspan><tspan x="508.3">hevc</tspan><tspan x="530.5">hevc</tspan><tspan x="552.6">hevc</tspan><tspan x="574.7">hevc</tspan><tspan x="596.8">h264</tspan><tspan x="618.8">hevc</tspan><tspan x="640.8">hevc</tspan><tspan x="662.7">hevc</tspan><tspan x="728.3">h264</tspan><tspan x="750">hevc</tspan><tspan x="771.8">h264</tspan><tspan x="836.7">mpeg4</tspan><tspan x="858.2">hevc</tspan><tspan x="879.8">hevc</tspan><tspan x="901.2">hevc</tspan><tspan x="922.7">h264</tspan><tspan x="944.1">hevc</tspan><tspan x="965.5">hevc</tspan></text>
<text y="247.7" font-size="5.12"><tspan x="375.1">hevc</tspan><tspan x="396.3">h264</tspan><tspan x="417.3">h264</tspan><tspan x="438.3">hevc</tspan><tspan x="480.1">hevc</tspan><tspan x="500.9">hevc</tspan><tspan x="521.6">mpeg4</tspan><tspan x="542.2">h264</tspan><tspan x="562.7">hevc</tspan><tspan x="603.7">h264</tspan><tspan x="624.2">hevc</tspan><tspan x="644.7">h264</tspan><tspan x="665.1">hevc</tspan><tspan x="685.5">h264</tspan><tspan x="705.9">h264</tspan><tspan x="726.4">h264</tspan><tspan x="746.8">h264</tspan><tspan x="767.2">hevc</tspan><tspan x="787.6">h264</tspan><tspan x="808">h264</tspan><tspan x="828.4">h264</tspan><tspan x="848.7">h264</tspan><tspan x="869">h264</tspan><tspan x="889.3">h264</tspan><tspan x="909.5">h264</tspan><tspan x="929.7">h264</tspan><tspan x="949.9">h264</tspan><tspan x="970.1">mpeg4</tspan><tspan x="990.3">h264</tspan></text>
<text y="268.7" font-size="4.94"><tspan x="375.1">h264</tspan><tspan x="395.3">h264</tspan><tspan x="435.6">hevc</tspan><tspan x="455.7">hevc</tspan><tspan x="475.7">hevc</tspan><tspan x="495.8">h264</tspan><tspan x="515.8">h264</tspan><tspan x="535.8">h264</tspan><tspan x="555.7">h264</tspan><tspan x="575.6">h264</tspan><tspan x="595.5">h264</tspan><tspan x="615.3">h264</tspan><tspan x="635.2">hevc</tspan><tspan x="655">hevc</tspan><tspan x="674.7">hevc</tspan><tspan x="694.5">hevc</tspan><tspan x="773.2">h264</tspan><tspan x="792.8">h264</tspan><tspan x="812.4">h264</tspan><tspan x="851.4">hevc</tspan><tspan x="870.9">mpeg4</tspan><tspan x="890.4">hevc</tspan><tspan x="909.8">h264</tspan><tspan x="929.3">h264</tspan><tspan x="948.6">h264</tspan><tspan x="968">hevc</tspan></text>
<text y="288.3" font-size="4.73" fill-opacity=".97"><tspan x="375.1">hevc</tspan><tspan x="394.4">h264</tspan><tspan x="413.7">h264</tspan><tspan x="433">h264</tspan><tspan x="452.2">hevc</tspan><tspan x="490.7">mpeg4</tspan><tspan x="509.9">h264</tspan><tspan x="529">hevc</tspan><tspan x="548.2">mpeg4</tspan><tspan x="567.3">h264</tspan><tspan x="586.4">h264</tspan><tspan x="605.4">h264</tspan><tspan x="624.5">h264</tspan><tspan x="643.5">hevc</tspan><tspan x="662.4">h264</tspan><tspan x="681.4">h264</tspan><tspan x="700.3">h264</tspan><tspan x="719.2">h264</tspan><tspan x="738">hevc</tspan><tspan x="756.8">hevc</tspan><tspan x="775.6">h264</tspan><tspan x="794.4">hevc</tspan><tspan x="831.8">h264</tspan><tspan x="850.5">mpeg4</tspan><tspan x="869.2">hevc</tspan><tspan x="887.8">hevc</tspan><tspan x="924.9">h264</tspan><tspan x="943.5">h264</tspan><tspan x="962">hevc</tspan><tspan x="980.4">hevc</tspan></text>
<text y="307.1" font-size="4.51" fill-opacity=".95"><tspan x="375.1">hevc</tspan><tspan x="393.3">hevc</tspan><tspan x="411.6">hevc</tspan><tspan x="429.8">h264</tspan><tspan x="448.1">h264</tspan><tspan x="484.5">h264</tspan><tspan x="521">h264</tspan><tspan x="539.2">hevc</tspan><tspan x="557.5">mpeg4</tspan><tspan x="575.7">h264</tspan><tspan x="593.9">hevc</tspan><tspan x="612.1">hevc</tspan><tspan x="630.2">hevc</tspan><tspan x="648.4">hevc</tspan><tspan x="666.5">hevc</tspan><tspan x="684.6">hevc</tspan><tspan x="702.7">hevc</tspan><tspan x="720.7">hevc</tspan><tspan x="738.8">h264</tspan><tspan x="756.8">h264</tspan><tspan x="774.7">mpeg4</tspan><tspan x="792.7">h264</tspan><tspan x="810.7">h264</tspan><tspan x="828.6">h264</tspan><tspan x="846.5">h264</tspan><tspan x="864.4">h264</tspan><tspan x="900.2">hevc</tspan><tspan x="918">h264</tspan><tspan x="935.8">h264</tspan><tspan x="971.5">h264</tspan><tspan x="989.2">hevc</tspan></text>
<text y="324.8" font-size="4.32" fill-opacity=".92"><tspan x="375.1">hevc</tspan><tspan x="410.9">hevc</tspan><tspan x="446.4">h264</tspan><tspan x="464.1">h264</tspan><tspan x="481.8">hevc</tspan><tspan x="499.3">h264</tspan><tspan x="516.9">hevc</tspan><tspan x="534.3">h264</tspan><tspan x="551.7">h264</tspan><tspan x="586.5">h264</tspan><tspan x="603.9">mpeg4</tspan><tspan x="621.2">h264</tspan><tspan x="638.5">hevc</tspan><tspan x="655.8">mpeg4</tspan><tspan x="673">h264</tspan><tspan x="690.3">h264</tspan><tspan x="707.5">h264</tspan><tspan x="724.8">h264</tspan><tspan x="742">h264</tspan><tspan x="759.3">hevc</tspan><tspan x="776.5">h264</tspan><tspan x="828">h264</tspan><tspan x="845.2">h264</tspan><tspan x="862.3">h264</tspan><tspan x="879.4">h264</tspan><tspan x="896.4">h264</tspan><tspan x="913.5">h264</tspan><tspan x="930.5">h264</tspan><tspan x="947.5">hevc</tspan><tspan x="964.5">mpeg4</tspan><tspan x="981.4">h264</tspan><tspan x="998.4">hevc</tspan></text>
<text y="342.3" font-size="4.14" fill-opacity=".9"><tspan x="375.1">hevc</tspan><tspan x="391.9">h264</tspan><tspan x="408.8">h264</tspan><tspan x="425.6">hevc</tspan><tspan x="442.4">hevc</tspan><tspan x="459.2">hevc</tspan><tspan x="476">hevc</tspan><tspan x="492.8">hevc</tspan><tspan x="509.6">hevc</tspan><tspan x="526.3">hevc</tspan><tspan x="543.1">hevc</tspan><tspan x="559.9">h264</tspan><tspan x="576.6">mpeg4</tspan><tspan x="610">h264</tspan><tspan x="626.7">hevc</tspan><tspan x="643.4">hevc</tspan><tspan x="676.7">h264</tspan><tspan x="693.3">h264</tspan><tspan x="709.9">h264</tspan><tspan x="726.5">h264</tspan><tspan x="776">h264</tspan><tspan x="792.5">h264</tspan><tspan x="808.9">h264</tspan><tspan x="825.4">h264</tspan><tspan x="841.8">hevc</tspan><tspan x="858.2">h264</tspan><tspan x="874.6">h264</tspan><tspan x="891">h264</tspan><tspan x="907.3">h264</tspan><tspan x="923.7">hevc</tspan><tspan x="940">hevc</tspan><tspan x="956.3">hevc</tspan><tspan x="972.6">hevc</tspan><tspan x="988.9">hevc</tspan></text>
<text y="358.7" font-size="3.97" fill-opacity=".88"><tspan x="375.1">hevc</tspan><tspan x="391.3">hevc</tspan><tspan x="407.6">h264</tspan><tspan x="423.7">h264</tspan><tspan x="439.9">h264</tspan><tspan x="456">hevc</tspan><tspan x="472.1">h264</tspan><tspan x="488.2">h264</tspan><tspan x="504.2">h264</tspan><tspan x="536.1">hevc</tspan><tspan x="552.1">h264</tspan><tspan x="568">hevc</tspan><tspan x="583.9">hevc</tspan><tspan x="599.8">hevc</tspan><tspan x="615.7">hevc</tspan><tspan x="631.6">hevc</tspan><tspan x="647.4">hevc</tspan><tspan x="663.3">hevc</tspan><tspan x="679.1">hevc</tspan><tspan x="695">h264</tspan><tspan x="710.8">h264</tspan><tspan x="726.7">h264</tspan><tspan x="742.5">h264</tspan><tspan x="758.4">h264</tspan><tspan x="774.2">h264</tspan><tspan x="790">hevc</tspan><tspan x="805.8">hevc</tspan><tspan x="837.4">h264</tspan><tspan x="853.2">h264</tspan><tspan x="884.7">hevc</tspan><tspan x="900.5">hevc</tspan><tspan x="931.9">h264</tspan><tspan x="947.7">h264</tspan><tspan x="963.4">h264</tspan><tspan x="979">hevc</tspan><tspan x="994.7">hevc</tspan></text>
<text y="374.7" font-size="3.84" fill-opacity=".86"><tspan x="375.1">h264</tspan><tspan x="390.9">h264</tspan><tspan x="406.7">h264</tspan><tspan x="422.4">hevc</tspan><tspan x="438.2">h264</tspan><tspan x="453.9">h264</tspan><tspan x="469.6">mpeg4</tspan><tspan x="500.9">hevc</tspan><tspan x="516.5">hevc</tspan><tspan x="532.1">mpeg4</tspan><tspan x="547.7">h264</tspan><tspan x="563.2">hevc</tspan><tspan x="578.8">hevc</tspan><tspan x="594.3">h264</tspan><tspan x="609.8">hevc</tspan><tspan x="625.2">h264</tspan><tspan x="640.7">h264</tspan><tspan x="656.1">hevc</tspan><tspan x="671.5">hevc</tspan><tspan x="702.2">h264</tspan><tspan x="717.5">h264</tspan><tspan x="748.1">h264</tspan><tspan x="763.4">h264</tspan><tspan x="778.6">h264</tspan><tspan x="793.8">hevc</tspan><tspan x="809">mpeg4</tspan><tspan x="824.2">h264</tspan><tspan x="839.3">h264</tspan><tspan x="854.4">h264</tspan><tspan x="869.5">hevc</tspan><tspan x="884.6">h264</tspan><tspan x="899.7">hevc</tspan><tspan x="929.7">h264</tspan><tspan x="944.7">h264</tspan><tspan x="959.6">hevc</tspan><tspan x="974.6">h264</tspan><tspan x="989.5">h264</tspan></text>
<text y="390" font-size="3.64" fill-opacity=".83"><tspan x="375.1">h264</tspan><tspan x="389.8">hevc</tspan><tspan x="404.6">h264</tspan><tspan x="419.3">h264</tspan><tspan x="434">h264</tspan><tspan x="448.8">h264</tspan><tspan x="463.5">h264</tspan><tspan x="478.2">hevc</tspan><tspan x="492.9">h264</tspan><tspan x="507.7">h264</tspan><tspan x="522.4">h264</tspan><tspan x="537.1">hevc</tspan><tspan x="551.8">hevc</tspan><tspan x="566.6">h264</tspan><tspan x="595.9">h264</tspan><tspan x="610.6">h264</tspan><tspan x="625.3">hevc</tspan><tspan x="639.9">hevc</tspan><tspan x="654.6">hevc</tspan><tspan x="683.8">h264</tspan><tspan x="727.5">hevc</tspan><tspan x="742">h264</tspan><tspan x="756.6">h264</tspan><tspan x="771.1">h264</tspan><tspan x="785.6">h264</tspan><tspan x="800.1">hevc</tspan><tspan x="814.5">h264</tspan><tspan x="843.4">hevc</tspan><tspan x="857.9">h264</tspan><tspan x="886.7">hevc</tspan><tspan x="901.1">hevc</tspan><tspan x="929.9">h264</tspan><tspan x="944.3">h264</tspan><tspan x="958.6">h264</tspan><tspan x="973">h264</tspan><tspan x="987.3">h264</tspan></text>
<text y="404.5" font-size="3.55" fill-opacity=".82"><tspan x="375.1">h264</tspan><tspan x="389.5">hevc</tspan><tspan x="403.8">hevc</tspan><tspan x="418.2">h264</tspan><tspan x="447">h264</tspan><tspan x="461.3">h264</tspan><tspan x="490.1">h264</tspan><tspan x="504.4">h264</tspan><tspan x="518.8">h264</tspan><tspan x="533.1">h264</tspan><tspan x="547.5">h264</tspan><tspan x="561.8">h264</tspan><tspan x="576.2">h264</tspan><tspan x="590.5">hevc</tspan><tspan x="604.8">hevc</tspan><tspan x="619.2">hevc</tspan><tspan x="633.5">hevc</tspan><tspan x="647.8">hevc</tspan><tspan x="662.1">h264</tspan><tspan x="676.4">h264</tspan><tspan x="690.7">h264</tspan><tspan x="705">h264</tspan><tspan x="719.3">mpeg4</tspan><tspan x="747.8">hevc</tspan><tspan x="762">hevc</tspan><tspan x="776.2">h264</tspan><tspan x="790.4">h264</tspan><tspan x="804.6">hevc</tspan><tspan x="818.7">hevc</tspan><tspan x="861">hevc</tspan><tspan x="875.1">hevc</tspan><tspan x="889.1">h264</tspan><tspan x="903.1">h264</tspan><tspan x="917.2">h264</tspan><tspan x="931.1">h264</tspan><tspan x="945.1">hevc</tspan><tspan x="959.1">hevc</tspan><tspan x="973">hevc</tspan><tspan x="986.9">h264</tspan><tspan x="1000.8">h264</tspan></text>
<text y="418.4" font-size="3.38" fill-opacity=".8"><tspan x="375.1">mpeg4</tspan><tspan x="388.9">h264</tspan><tspan x="402.7">h264</tspan><tspan x="416.5">h264</tspan><tspan x="430.3">h264</tspan><tspan x="457.6">hevc</tspan><tspan x="471.3">h264</tspan><tspan x="484.9">hevc</tspan><tspan x="498.4">hevc</tspan><tspan x="512">h264</tspan><tspan x="525.6">hevc</tspan><tspan x="539.1">hevc</tspan><tspan x="552.7">hevc</tspan><tspan x="579.8">hevc</tspan><tspan x="593.3">hevc</tspan><tspan x="606.9">hevc</tspan><tspan x="620.5">h264</tspan><tspan x="634.1">h264</tspan><tspan x="647.7">h264</tspan><tspan x="661.2">h264</tspan><tspan x="688.4">h264</tspan><tspan x="701.9">hevc</tspan><tspan x="715.5">h264</tspan><tspan x="729">h264</tspan><tspan x="742.5">h264</tspan><tspan x="756.1">h264</tspan><tspan x="769.6">h264</tspan><tspan x="783.1">h264</tspan><tspan x="796.5">hevc</tspan><tspan x="823.4">hevc</tspan><tspan x="836.9">hevc</tspan><tspan x="850.3">h264</tspan><tspan x="863.7">h264</tspan><tspan x="877.1">hevc</tspan><tspan x="890.5">hevc</tspan><tspan x="903.9">h264</tspan><tspan x="917.2">h264</tspan><tspan x="943.9">h264</tspan><tspan x="957.2">h264</tspan><tspan x="970.5">h264</tspan><tspan x="983.8">h264</tspan><tspan x="997.1">h264</tspan></text>
<text y="432.1" font-size="3.3" fill-opacity=".79"><tspan x="375.1">h264</tspan><tspan x="388.6">h264</tspan><tspan x="402">h264</tspan><tspan x="428.9">h264</tspan><tspan x="442.2">h264</tspan><tspan x="468.9">mpeg4</tspan><tspan x="482.2">h264</tspan><tspan x="495.5">hevc</tspan><tspan x="508.8">h264</tspan><tspan x="522.1">h264</tspan><tspan x="535.4">hevc</tspan><tspan x="548.7">h264</tspan><tspan x="561.9">hevc</tspan><tspan x="575.2">hevc</tspan><tspan x="588.4">hevc</tspan><tspan x="601.7">h264</tspan><tspan x="614.9">h264</tspan><tspan x="628.2">h264</tspan><tspan x="641.4">h264</tspan><tspan x="654.6">h264</tspan><tspan x="681">h264</tspan><tspan x="694.2">h264</tspan><tspan x="707.4">h264</tspan><tspan x="720.6">h264</tspan><tspan x="733.8">h264</tspan><tspan x="747">hevc</tspan><tspan x="760.1">h264</tspan><tspan x="773.3">hevc</tspan><tspan x="786.4">h264</tspan><tspan x="799.5">h264</tspan><tspan x="812.7">h264</tspan><tspan x="825.8">h264</tspan><tspan x="838.9">hevc</tspan><tspan x="852">hevc</tspan><tspan x="865.1">hevc</tspan><tspan x="878.2">hevc</tspan><tspan x="891.3">h264</tspan><tspan x="904.4">h264</tspan><tspan x="917.4">h264</tspan><tspan x="930.5">h264</tspan><tspan x="943.6">hevc</tspan><tspan x="969.6">hevc</tspan><tspan x="982.7">h264</tspan><tspan x="995.7">h264</tspan></text>
<text y="445.4" font-size="3.22" fill-opacity=".78"><tspan x="375.1">h264</tspan><tspan x="388.1">h264</tspan><tspan x="401.2">h264</tspan><tspan x="414.2">h264</tspan><tspan x="427.2">hevc</tspan><tspan x="440.2">h264</tspan><tspan x="453.3">h264</tspan><tspan x="466.3">h264</tspan><tspan x="479.3">h264</tspan><tspan x="492.4">h264</tspan><tspan x="505.4">h264</tspan><tspan x="518.4">h264</tspan><tspan x="531.4">hevc</tspan><tspan x="544.4">hevc</tspan><tspan x="557.4">hevc</tspan><tspan x="570.4">h264</tspan><tspan x="583.3">h264</tspan><tspan x="596.3">h264</tspan><tspan x="609.2">h264</tspan><tspan x="635.1">h264</tspan><tspan x="648">h264</tspan><tspan x="660.9">h264</tspan><tspan x="673.8">h264</tspan><tspan x="686.7">h264</tspan><tspan x="699.6">hevc</tspan><tspan x="712.4">h264</tspan><tspan x="725.3">hevc</tspan><tspan x="738.2">h264</tspan><tspan x="751">h264</tspan><tspan x="763.9">h264</tspan><tspan x="776.7">h264</tspan><tspan x="789.5">h264</tspan><tspan x="802.4">h264</tspan><tspan x="828">h264</tspan><tspan x="840.8">h264</tspan><tspan x="853.6">h264</tspan><tspan x="866.5">h264</tspan><tspan x="879.3">h264</tspan><tspan x="904.8">h264</tspan><tspan x="917.6">h264</tspan><tspan x="930.4">h264</tspan><tspan x="943.2">h264</tspan><tspan x="955.9">h264</tspan><tspan x="968.7">hevc</tspan><tspan x="981.4">h264</tspan><tspan x="994.2">h264</tspan></text>
<text y="458" font-size="3.14" fill-opacity=".77"><tspan x="375.1">hevc</tspan><tspan x="388">hevc</tspan><tspan x="400.8">h264</tspan><tspan x="413.6">h264</tspan><tspan x="426.3">h264</tspan><tspan x="439.1">hevc</tspan><tspan x="451.8">hevc</tspan><tspan x="464.5">h264</tspan><tspan x="477.2">h264</tspan><tspan x="489.8">h264</tspan><tspan x="502.4">h264</tspan><tspan x="515.1">h264</tspan><tspan x="527.7">hevc</tspan><tspan x="540.3">hevc</tspan><tspan x="552.9">h264</tspan><tspan x="565.5">h264</tspan><tspan x="578.1">h264</tspan><tspan x="590.7">hevc</tspan><tspan x="603.4">hevc</tspan><tspan x="628.6">h264</tspan><tspan x="641.3">h264</tspan><tspan x="653.9">hevc</tspan><tspan x="679.1">hevc</tspan><tspan x="691.8">h264</tspan><tspan x="704.4">h264</tspan><tspan x="717">h264</tspan><tspan x="742.1">h264</tspan><tspan x="767.2">hevc</tspan><tspan x="779.8">hevc</tspan><tspan x="792.3">hevc</tspan><tspan x="817.3">h264</tspan><tspan x="829.8">h264</tspan><tspan x="842.2">h264</tspan><tspan x="867.1">h264</tspan><tspan x="879.5">h264</tspan><tspan x="929.1">h264</tspan><tspan x="941.4">h264</tspan><tspan x="953.8">hevc</tspan><tspan x="966.1">hevc</tspan><tspan x="978.4">hevc</tspan><tspan x="990.7">h264</tspan><tspan x="1003">h264</tspan></text>
<text y="470.8" font-size="3.08" fill-opacity=".76"><tspan x="375.1">h264</tspan><tspan x="387.5">h264</tspan><tspan x="399.9">h264</tspan><tspan x="412.3">h264</tspan><tspan x="424.7">h264</tspan><tspan x="437.2">h264</tspan><tspan x="449.6">h264</tspan><tspan x="474.4">h264</tspan><tspan x="486.8">h264</tspan><tspan x="499.2">h264</tspan><tspan x="511.6">h264</tspan><tspan x="524">h264</tspan><tspan x="548.8">h264</tspan><tspan x="561.2">h264</tspan><tspan x="573.6">hevc</tspan><tspan x="585.9">h264</tspan><tspan x="598.3">h264</tspan><tspan x="610.7">h264</tspan><tspan x="623">h264</tspan><tspan x="635.4">h264</tspan><tspan x="647.7">h264</tspan><tspan x="660.1">hevc</tspan><tspan x="672.4">hevc</tspan><tspan x="684.7">hevc</tspan><tspan x="697.1">hevc</tspan><tspan x="709.4">hevc</tspan><tspan x="721.7">h264</tspan><tspan x="746.3">h264</tspan><tspan x="758.6">hevc</tspan><tspan x="783.2">hevc</tspan><tspan x="795.5">hevc</tspan><tspan x="820">hevc</tspan><tspan x="832.3">h264</tspan><tspan x="844.5">h264</tspan><tspan x="856.7">h264</tspan><tspan x="869">h264</tspan><tspan x="881.2">h264</tspan><tspan x="893.4">h264</tspan><tspan x="905.6">h264</tspan><tspan x="917.9">h264</tspan><tspan x="930.1">h264</tspan><tspan x="942.3">h264</tspan><tspan x="954.4">h264</tspan><tspan x="966.6">h264</tspan><tspan x="1003.1">h264</tspan></text>
<text y="482.9" font-size="3.02" fill-opacity=".75"><tspan x="375.1">h264</tspan><tspan x="387.3">h264</tspan><tspan x="399.5">h264</tspan><tspan x="411.7">h264</tspan><tspan x="423.9">h264</tspan><tspan x="436.1">h264</tspan><tspan x="448.3">hevc</tspan><tspan x="460.5">hevc</tspan><tspan x="472.7">h264</tspan><tspan x="484.9">h264</tspan><tspan x="497">h264</tspan><tspan x="509.2">h264</tspan><tspan x="521.4">h264</tspan><tspan x="533.5">hevc</tspan><tspan x="545.7">h264</tspan><tspan x="557.8">h264</tspan><tspan x="570">h264</tspan><tspan x="582.1">h264</tspan><tspan x="594.2">hevc</tspan><tspan x="606.3">h264</tspan><tspan x="618.4">h264</tspan><tspan x="666.7">h264</tspan><tspan x="678.8">h264</tspan><tspan x="690.8">h264</tspan><tspan x="702.9">h264</tspan><tspan x="714.9">h264</tspan><tspan x="726.9">hevc</tspan><tspan x="739">h264</tspan><tspan x="751">h264</tspan><tspan x="787">h264</tspan><tspan x="799">h264</tspan><tspan x="811">hevc</tspan><tspan x="823">hevc</tspan><tspan x="835">h264</tspan><tspan x="846.9">h264</tspan><tspan x="870.9">hevc</tspan><tspan x="882.8">hevc</tspan><tspan x="894.8">h264</tspan><tspan x="906.7">h264</tspan><tspan x="918.7">h264</tspan><tspan x="930.6">h264</tspan><tspan x="954.5">h264</tspan><tspan x="966.4">hevc</tspan><tspan x="990.2">h264</tspan><tspan x="1002.1">h264</tspan></text>
<text y="494.9" font-size="2.94" fill-opacity=".74"><tspan x="375.1">h264</tspan><tspan x="398.9">h264</tspan><tspan x="422.7">hevc</tspan><tspan x="434.6">hevc</tspan><tspan x="446.5">h264</tspan><tspan x="470.3">h264</tspan><tspan x="482.2">h264</tspan><tspan x="494.1">h264</tspan><tspan x="506">h264</tspan><tspan x="517.9">h264</tspan><tspan x="529.7">h264</tspan><tspan x="541.6">h264</tspan><tspan x="553.4">hevc</tspan><tspan x="577.1">h264</tspan><tspan x="600.7">h264</tspan><tspan x="612.5">h264</tspan><tspan x="624.2">hevc</tspan><tspan x="636">h264</tspan><tspan x="647.7">h264</tspan><tspan x="659.5">h264</tspan><tspan x="671.2">h264</tspan><tspan x="682.9">h264</tspan><tspan x="694.7">h264</tspan><tspan x="706.4">h264</tspan><tspan x="718.1">hevc</tspan><tspan x="741.5">hevc</tspan><tspan x="753.2">h264</tspan><tspan x="764.8">h264</tspan><tspan x="776.5">h264</tspan><tspan x="788.2">h264</tspan><tspan x="799.9">h264</tspan><tspan x="811.5">h264</tspan><tspan x="823.2">h264</tspan><tspan x="834.9">h264</tspan><tspan x="846.5">h264</tspan><tspan x="858.2">h264</tspan><tspan x="869.9">h264</tspan><tspan x="881.5">hevc</tspan><tspan x="893.2">h264</tspan><tspan x="928.1">h264</tspan><tspan x="951.3">h264</tspan><tspan x="963">h264</tspan><tspan x="974.6">h264</tspan><tspan x="986.2">h264</tspan><tspan x="997.8">h264</tspan></text>
<text y="506.7" font-size="2.87" fill-opacity=".73"><tspan x="375.1">h264</tspan><tspan x="398.6">h264</tspan><tspan x="410.3">h264</tspan><tspan x="421.9">h264</tspan><tspan x="445.2">hevc</tspan><tspan x="456.8">h264</tspan><tspan x="468.3">h264</tspan><tspan x="479.8">h264</tspan><tspan x="502.9">h264</tspan><tspan x="514.3">h264</tspan><tspan x="525.8">h264</tspan><tspan x="537.3">hevc</tspan><tspan x="548.8">h264</tspan><tspan x="571.8">h264</tspan><tspan x="583.2">hevc</tspan><tspan x="594.7">hevc</tspan><tspan x="606.2">h264</tspan><tspan x="617.7">h264</tspan><tspan x="629.2">h264</tspan><tspan x="640.7">h264</tspan><tspan x="652.2">h264</tspan><tspan x="663.7">h264</tspan><tspan x="686.7">hevc</tspan><tspan x="698.2">hevc</tspan><tspan x="709.7">h264</tspan><tspan x="721.1">h264</tspan><tspan x="732.6">h264</tspan><tspan x="744.1">h264</tspan><tspan x="755.5">h264</tspan><tspan x="767">h264</tspan><tspan x="778.4">h264</tspan><tspan x="789.9">h264</tspan><tspan x="812.8">h264</tspan><tspan x="824.2">h264</tspan><tspan x="835.6">h264</tspan><tspan x="847.1">h264</tspan><tspan x="869.9">h264</tspan><tspan x="881.3">h264</tspan><tspan x="892.7">h264</tspan><tspan x="904.1">h264</tspan><tspan x="915.5">h264</tspan><tspan x="926.9">h264</tspan><tspan x="949.7">h264</tspan><tspan x="961">h264</tspan><tspan x="983.8">hevc</tspan><tspan x="995.1">hevc</tspan></text>
<text y="518.4" font-size="2.82" fill-opacity=".73"><tspan x="375.1">hevc</tspan><tspan x="386.5">h264</tspan><tspan x="397.9">h264</tspan><tspan x="409.3">h264</tspan><tspan x="420.7">h264</tspan><tspan x="432.1">h264</tspan><tspan x="443.5">h264</tspan><tspan x="466.3">h264</tspan><tspan x="477.6">h264</tspan><tspan x="489">h264</tspan><tspan x="500.4">h264</tspan><tspan x="511.7">h264</tspan><tspan x="523.1">h264</tspan><tspan x="545.8">h264</tspan><tspan x="591.1">h264</tspan><tspan x="613.7">h264</tspan><tspan x="625">h264</tspan><tspan x="636.2">h264</tspan><tspan x="647.5">h264</tspan><tspan x="658.8">h264</tspan><tspan x="670">h264</tspan><tspan x="681.3">h264</tspan><tspan x="692.5">h264</tspan><tspan x="703.8">h264</tspan><tspan x="715">h264</tspan><tspan x="726.2">h264</tspan><tspan x="737.5">hevc</tspan><tspan x="748.7">hevc</tspan><tspan x="759.9">h264</tspan><tspan x="782.3">h264</tspan><tspan x="793.6">h264</tspan><tspan x="804.8">h264</tspan><tspan x="816">h264</tspan><tspan x="827.2">h264</tspan><tspan x="838.4">h264</tspan><tspan x="849.6">h264</tspan><tspan x="872.1">h264</tspan><tspan x="883.3">h264</tspan><tspan x="905.7">h264</tspan><tspan x="916.9">h264</tspan><tspan x="928.1">h264</tspan><tspan x="939.3">h264</tspan><tspan x="950.5">h264</tspan><tspan x="961.7">h264</tspan><tspan x="972.8">h264</tspan><tspan x="984">h264</tspan><tspan x="995.2">h264</tspan></text>
<text y="529.6" font-size="2.75" fill-opacity=".72"><tspan x="397.3">hevc</tspan><tspan x="408.4">hevc</tspan><tspan x="430.7">h264</tspan><tspan x="441.8">h264</tspan><tspan x="452.9">h264</tspan><tspan x="464">hevc</tspan><tspan x="475.1">hevc</tspan><tspan x="486.2">h264</tspan><tspan x="497.3">h264</tspan><tspan x="508.4">h264</tspan><tspan x="530.6">h264</tspan><tspan x="541.7">h264</tspan><tspan x="552.8">h264</tspan><tspan x="563.8">hevc</tspan><tspan x="585.9">h264</tspan><tspan x="597">h264</tspan><tspan x="619">h264</tspan><tspan x="630.1">h264</tspan><tspan x="641.1">h264</tspan><tspan x="663.1">h264</tspan><tspan x="674">h264</tspan><tspan x="685">h264</tspan><tspan x="696">h264</tspan><tspan x="707">h264</tspan><tspan x="717.9">h264</tspan><tspan x="728.9">h264</tspan><tspan x="739.9">h264</tspan><tspan x="761.8">h264</tspan><tspan x="772.7">h264</tspan><tspan x="783.7">h264</tspan><tspan x="805.6">h264</tspan><tspan x="827.4">hevc</tspan><tspan x="838.4">hevc</tspan><tspan x="849.3">hevc</tspan><tspan x="860.3">hevc</tspan><tspan x="871.2">h264</tspan><tspan x="882.1">h264</tspan><tspan x="893">h264</tspan><tspan x="904">h264</tspan><tspan x="914.9">h264</tspan><tspan x="936.7">h264</tspan><tspan x="947.6">hevc</tspan><tspan x="958.5">hevc</tspan><tspan x="969.4">h264</tspan><tspan x="980.3">h264</tspan><tspan x="991.2">h264</tspan><tspan x="1002.1">h264</tspan></text>
<text y="540.4" font-size="2.7" fill-opacity=".71"><tspan x="375.1">hevc</tspan><tspan x="386">hevc</tspan><tspan x="396.9">h264</tspan><tspan x="407.8">h264</tspan><tspan x="418.7">h264</tspan><tspan x="429.6">h264</tspan><tspan x="451.4">h264</tspan><tspan x="462.3">h264</tspan><tspan x="473.2">h264</tspan><tspan x="484.1">h264</tspan><tspan x="505.9">hevc</tspan><tspan x="527.7">h264</tspan><tspan x="538.6">h264</tspan><tspan x="549.5">hevc</tspan><tspan x="560.3">hevc</tspan><tspan x="571.2">h264</tspan><tspan x="582.1">h264</tspan><tspan x="592.9">h264</tspan><tspan x="603.7">h264</tspan><tspan x="614.5">h264</tspan><tspan x="625.4">h264</tspan><tspan x="647">h264</tspan><tspan x="668.6">h264</tspan><tspan x="679.3">h264</tspan><tspan x="690.1">h264</tspan><tspan x="700.9">h264</tspan><tspan x="711.7">h264</tspan><tspan x="722.4">h264</tspan><tspan x="733.2">h264</tspan><tspan x="743.9">h264</tspan><tspan x="754.7">h264</tspan><tspan x="765.4">h264</tspan><tspan x="776.2">h264</tspan><tspan x="797.6">hevc</tspan><tspan x="808.4">hevc</tspan><tspan x="819.1">h264</tspan><tspan x="829.8">h264</tspan><tspan x="851.3">h264</tspan><tspan x="862">h264</tspan><tspan x="872.7">h264</tspan><tspan x="883.4">h264</tspan><tspan x="894.1">h264</tspan><tspan x="904.7">h264</tspan><tspan x="915.4">h264</tspan><tspan x="936.8">h264</tspan><tspan x="947.5">h264</tspan><tspan x="958.1">h264</tspan><tspan x="968.8">h264</tspan><tspan x="979.5">hevc</tspan><tspan x="990.1">hevc</tspan><tspan x="1000.8">h264</tspan></text>
<text y="551" font-size="2.63" fill-opacity=".7"><tspan x="375.1">h264</tspan><tspan x="385.9">h264</tspan><tspan x="396.6">h264</tspan><tspan x="418.1">h264</tspan><tspan x="439.6">h264</tspan><tspan x="460.9">h264</tspan><tspan x="471.6">h264</tspan><tspan x="482.2">h264</tspan><tspan x="492.9">h264</tspan><tspan x="503.5">h264</tspan><tspan x="514.1">h264</tspan><tspan x="524.7">h264</tspan><tspan x="535.3">h264</tspan><tspan x="545.9">h264</tspan><tspan x="567.1">h264</tspan><tspan x="577.7">h264</tspan><tspan x="598.8">hevc</tspan><tspan x="609.4">hevc</tspan><tspan x="619.9">h264</tspan><tspan x="641">h264</tspan><tspan x="651.5">h264</tspan><tspan x="662.1">h264</tspan><tspan x="683.1">hevc</tspan><tspan x="693.6">hevc</tspan><tspan x="704.1">hevc</tspan><tspan x="735.5">h264</tspan><tspan x="746">hevc</tspan><tspan x="756.5">hevc</tspan><tspan x="766.9">h264</tspan><tspan x="787.8">hevc</tspan><tspan x="798.2">hevc</tspan><tspan x="808.7">hevc</tspan><tspan x="829.5">h264</tspan><tspan x="839.9">h264</tspan><tspan x="850.3">h264</tspan><tspan x="871.1">h264</tspan><tspan x="881.5">h264</tspan><tspan x="891.9">h264</tspan><tspan x="902.3">h264</tspan><tspan x="912.7">h264</tspan><tspan x="923">h264</tspan><tspan x="933.4">h264</tspan><tspan x="943.7">h264</tspan><tspan x="954.1">h264</tspan><tspan x="964.4">h264</tspan><tspan x="974.7">h264</tspan><tspan x="985.1">h264</tspan><tspan x="995.4">h264</tspan></text>
<text y="561.7" font-size="2.6" fill-opacity=".7"><tspan x="375.1">h264</tspan><tspan x="385.7">h264</tspan><tspan x="407">h264</tspan><tspan x="417.6">h264</tspan><tspan x="428.1">h264</tspan><tspan x="438.6">hevc</tspan><tspan x="449.2">hevc</tspan><tspan x="459.6">hevc</tspan><tspan x="470.1">h264</tspan><tspan x="480.5">h264</tspan><tspan x="501.4">h264</tspan><tspan x="511.8">h264</tspan><tspan x="522.2">h264</tspan><tspan x="532.6">h264</tspan><tspan x="553.4">h264</tspan><tspan x="563.8">h264</tspan><tspan x="574.1">h264</tspan><tspan x="594.9">h264</tspan><tspan x="605.3">h264</tspan><tspan x="615.7">h264</tspan><tspan x="626.1">h264</tspan><tspan x="636.5">h264</tspan><tspan x="646.9">h264</tspan><tspan x="657.3">h264</tspan><tspan x="667.7">h264</tspan><tspan x="678.1">h264</tspan><tspan x="688.5">h264</tspan><tspan x="698.9">h264</tspan><tspan x="709.3">h264</tspan><tspan x="719.6">h264</tspan><tspan x="730">h264</tspan><tspan x="740.4">h264</tspan><tspan x="750.8">h264</tspan><tspan x="761.1">h264</tspan><tspan x="771.5">h264</tspan><tspan x="781.9">h264</tspan><tspan x="802.6">h264</tspan><tspan x="813">h264</tspan><tspan x="823.3">h264</tspan><tspan x="833.7">h264</tspan><tspan x="844.1">h264</tspan><tspan x="854.4">h264</tspan><tspan x="864.8">h264</tspan><tspan x="875.2">h264</tspan><tspan x="885.5">h264</tspan><tspan x="895.9">h264</tspan><tspan x="916.6">h264</tspan><tspan x="926.9">h264</tspan><tspan x="937.3">h264</tspan><tspan x="947.6">h264</tspan><tspan x="968.3">h264</tspan><tspan x="989">hevc</tspan></text>
<text y="572.3" font-size="2.55" fill-opacity=".69"><tspan x="385.4">h264</tspan><tspan x="406">hevc</tspan><tspan x="426.6">h264</tspan><tspan x="436.9">h264</tspan><tspan x="447.2">h264</tspan><tspan x="457.5">h264</tspan><tspan x="467.8">h264</tspan><tspan x="478.1">h264</tspan><tspan x="488.4">h264</tspan><tspan x="498.6">h264</tspan><tspan x="508.9">h264</tspan><tspan x="519.2">h264</tspan><tspan x="529.5">hevc</tspan><tspan x="539.7">hevc</tspan><tspan x="550">h264</tspan><tspan x="560.2">h264</tspan><tspan x="580.8">h264</tspan><tspan x="591">hevc</tspan><tspan x="601.2">h264</tspan><tspan x="611.5">h264</tspan><tspan x="621.7">h264</tspan><tspan x="631.9">h264</tspan><tspan x="642.2">h264</tspan><tspan x="652.4">h264</tspan><tspan x="662.6">h264</tspan><tspan x="672.8">h264</tspan><tspan x="683">h264</tspan><tspan x="703.5">hevc</tspan><tspan x="713.6">h264</tspan><tspan x="723.8">h264</tspan><tspan x="734">h264</tspan><tspan x="744.2">hevc</tspan><tspan x="754.4">h264</tspan><tspan x="764.6">h264</tspan><tspan x="774.7">h264</tspan><tspan x="784.9">h264</tspan><tspan x="805.2">h264</tspan><tspan x="815.4">h264</tspan><tspan x="835.6">hevc</tspan><tspan x="845.8">h264</tspan><tspan x="866">h264</tspan><tspan x="876.1">hevc</tspan><tspan x="896.3">h264</tspan><tspan x="906.4">hevc</tspan><tspan x="916.5">h264</tspan><tspan x="926.6">h264</tspan><tspan x="936.7">h264</tspan><tspan x="956.8">h264</tspan><tspan x="966.9">h264</tspan><tspan x="977">h264</tspan><tspan x="987">h264</tspan><tspan x="997.1">h264</tspan></text>
<text y="582.5" font-size="2.51" fill-opacity=".69"><tspan x="375.1">h264</tspan><tspan x="385.2">h264</tspan><tspan x="395.3">h264</tspan><tspan x="405.4">h264</tspan><tspan x="415.5">h264</tspan><tspan x="425.6">h264</tspan><tspan x="435.7">h264</tspan><tspan x="455.9">h264</tspan><tspan x="466">hevc</tspan><tspan x="476.1">hevc</tspan><tspan x="486.2">hevc</tspan><tspan x="496.3">hevc</tspan><tspan x="506.4">h264</tspan><tspan x="516.5">h264</tspan><tspan x="556.8">h264</tspan><tspan x="566.8">h264</tspan><tspan x="576.9">hevc</tspan><tspan x="607">h264</tspan><tspan x="617.1">h264</tspan><tspan x="627.1">h264</tspan><tspan x="637.1">h264</tspan><tspan x="657.2">h264</tspan><tspan x="677.2">h264</tspan><tspan x="687.2">h264</tspan><tspan x="707.3">h264</tspan><tspan x="717.3">h264</tspan><tspan x="747.3">h264</tspan><tspan x="757.3">h264</tspan><tspan x="767.3">h264</tspan><tspan x="797.2">h264</tspan><tspan x="807.2">h264</tspan><tspan x="817.2">h264</tspan><tspan x="827.2">h264</tspan><tspan x="837.2">h264</tspan><tspan x="847.2">h264</tspan><tspan x="857.1">h264</tspan><tspan x="867.1">h264</tspan><tspan x="897.1">h264</tspan><tspan x="907">h264</tspan><tspan x="917">h264</tspan><tspan x="927">h264</tspan><tspan x="937">h264</tspan><tspan x="946.9">mpeg4</tspan><tspan x="956.9">mpeg4</tspan><tspan x="976.8">hevc</tspan><tspan x="986.8">h264</tspan><tspan x="996.7">h264</tspan></text>
<text y="592.5" font-size="2.47" fill-opacity=".68"><tspan x="375.1">h264</tspan><tspan x="385.1">h264</tspan><tspan x="395.1">h264</tspan><tspan x="405.1">h264</tspan><tspan x="415.1">h264</tspan><tspan x="425.1">h264</tspan><tspan x="435.1">h264</tspan><tspan x="445.1">h264</tspan><tspan x="455.1">h264</tspan><tspan x="465">h264</tspan><tspan x="475">h264</tspan><tspan x="485">h264</tspan><tspan x="495">h264</tspan><tspan x="504.9">h264</tspan><tspan x="514.9">h264</tspan><tspan x="534.8">h264</tspan><tspan x="544.8">h264</tspan><tspan x="554.7">h264</tspan><tspan x="584.5">h264</tspan><tspan x="594.4">h264</tspan><tspan x="614.2">h264</tspan><tspan x="624.1">h264</tspan><tspan x="643.9">h264</tspan><tspan x="653.7">h264</tspan><tspan x="663.6">h264</tspan><tspan x="683.4">h264</tspan><tspan x="693.2">h264</tspan><tspan x="703.1">h264</tspan><tspan x="722.7">h264</tspan><tspan x="732.6">h264</tspan><tspan x="742.4">h264</tspan><tspan x="752.2">h264</tspan><tspan x="762.1">h264</tspan><tspan x="771.9">h264</tspan><tspan x="801.3">h264</tspan><tspan x="811.1">h264</tspan><tspan x="820.9">h264</tspan><tspan x="840.5">h264</tspan><tspan x="850.3">h264</tspan><tspan x="860">h264</tspan><tspan x="879.6">h264</tspan><tspan x="889.3">h264</tspan><tspan x="899.1">h264</tspan><tspan x="908.8">h264</tspan><tspan x="928.3">h264</tspan><tspan x="938.1">h264</tspan><tspan x="947.8">h264</tspan><tspan x="957.5">h264</tspan><tspan x="967.3">h264</tspan><tspan x="977">h264</tspan><tspan x="986.7">h264</tspan><tspan x="996.4">h264</tspan></text>
<text y="602.4" font-size="2.42" fill-opacity=".68"><tspan x="375.1">h264</tspan><tspan x="385">h264</tspan><tspan x="394.8">h264</tspan><tspan x="414.5">h264</tspan><tspan x="424.3">h264</tspan><tspan x="444">h264</tspan><tspan x="453.7">h264</tspan><tspan x="463.5">h264</tspan><tspan x="473.3">h264</tspan><tspan x="483">h264</tspan><tspan x="502.5">h264</tspan><tspan x="521.9">h264</tspan><tspan x="541.4">h264</tspan><tspan x="551.1">h264</tspan><tspan x="560.8">h264</tspan><tspan x="570.5">hevc</tspan><tspan x="599.6">h264</tspan><tspan x="619">h264</tspan><tspan x="638.4">h264</tspan><tspan x="648.1">mpeg4</tspan><tspan x="657.8">h264</tspan><tspan x="667.5">h264</tspan><tspan x="677.2">h264</tspan><tspan x="686.9">h264</tspan><tspan x="696.6">h264</tspan><tspan x="706.2">h264</tspan><tspan x="725.6">h264</tspan><tspan x="735.3">h264</tspan><tspan x="744.9">h264</tspan><tspan x="754.6">h264</tspan><tspan x="764.3">h264</tspan><tspan x="773.9">h264</tspan><tspan x="793.2">h264</tspan><tspan x="802.9">h264</tspan><tspan x="812.5">h264</tspan><tspan x="822.2">h264</tspan><tspan x="831.9">h264</tspan><tspan x="841.5">h264</tspan><tspan x="851.2">h264</tspan><tspan x="860.8">h264</tspan><tspan x="870.5">h264</tspan><tspan x="880.1">hevc</tspan><tspan x="889.8">hevc</tspan><tspan x="899.4">h264</tspan><tspan x="928.3">hevc</tspan><tspan x="938">h264</tspan><tspan x="957.2">h264</tspan><tspan x="966.9">hevc</tspan><tspan x="976.5">h264</tspan><tspan x="986.1">h264</tspan><tspan x="995.8">h264</tspan><tspan x="1005.4">h264</tspan></text>
<text y="612.2" font-size="2.37" fill-opacity=".67"><tspan x="375.1">h264</tspan><tspan x="384.7">h264</tspan><tspan x="394.4">h264</tspan><tspan x="404">h264</tspan><tspan x="413.6">h264</tspan><tspan x="423.2">h264</tspan><tspan x="432.9">h264</tspan><tspan x="452.1">h264</tspan><tspan x="461.7">h264</tspan><tspan x="471.4">h264</tspan><tspan x="481">h264</tspan><tspan x="490.6">h264</tspan><tspan x="500.2">h264</tspan><tspan x="509.9">h264</tspan><tspan x="519.5">hevc</tspan><tspan x="529.1">h264</tspan><tspan x="538.7">h264</tspan><tspan x="557.8">h264</tspan><tspan x="567.4">h264</tspan><tspan x="586.5">h264</tspan><tspan x="605.6">h264</tspan><tspan x="615.2">h264</tspan><tspan x="624.7">h264</tspan><tspan x="634.2">h264</tspan><tspan x="653.2">h264</tspan><tspan x="662.7">h264</tspan><tspan x="672.2">h264</tspan><tspan x="681.6">h264</tspan><tspan x="691.1">hevc</tspan><tspan x="700.6">h264</tspan><tspan x="719.5">h264</tspan><tspan x="728.9">h264</tspan><tspan x="738.4">h264</tspan><tspan x="747.8">h264</tspan><tspan x="757.3">h264</tspan><tspan x="766.7">h264</tspan><tspan x="776.1">h264</tspan><tspan x="785.6">hevc</tspan><tspan x="795">h264</tspan><tspan x="804.4">h264</tspan><tspan x="813.8">h264</tspan><tspan x="823.2">h264</tspan><tspan x="832.6">h264</tspan><tspan x="842">h264</tspan><tspan x="860.8">h264</tspan><tspan x="879.6">h264</tspan><tspan x="888.9">h264</tspan><tspan x="898.3">h264</tspan><tspan x="907.7">h264</tspan><tspan x="917">h264</tspan><tspan x="926.4">h264</tspan><tspan x="935.7">h264</tspan><tspan x="945.1">h264</tspan><tspan x="954.4">h264</tspan><tspan x="963.8">h264</tspan><tspan x="973.1">h264</tspan><tspan x="982.4">h264</tspan><tspan x="991.8">hevc</tspan><tspan x="1001.1">hevc</tspan></text>
<text y="621.5" font-size="2.31" fill-opacity=".66"><tspan x="375.1">h264</tspan><tspan x="384.6">h264</tspan><tspan x="394">h264</tspan><tspan x="403.5">h264</tspan><tspan x="431.7">h264</tspan><tspan x="441.1">h264</tspan><tspan x="450.5">h264</tspan><tspan x="459.8">h264</tspan><tspan x="469.2">h264</tspan><tspan x="487.8">h264</tspan><tspan x="497.1">hevc</tspan><tspan x="506.4">h264</tspan><tspan x="525">h264</tspan><tspan x="562.1">h264</tspan><tspan x="571.3">h264</tspan><tspan x="580.6">hevc</tspan><tspan x="589.9">h264</tspan><tspan x="599.1">h264</tspan><tspan x="608.4">h264</tspan><tspan x="617.6">hevc</tspan><tspan x="626.9">h264</tspan><tspan x="636.1">h264</tspan><tspan x="645.4">h264</tspan><tspan x="654.6">h264</tspan><tspan x="663.8">h264</tspan><tspan x="673.1">h264</tspan><tspan x="682.3">hevc</tspan><tspan x="691.5">h264</tspan><tspan x="700.7">h264</tspan><tspan x="709.9">hevc</tspan><tspan x="719.1">h264</tspan><tspan x="728.3">h264</tspan><tspan x="737.5">h264</tspan><tspan x="755.9">h264</tspan><tspan x="765.1">h264</tspan><tspan x="774.3">h264</tspan><tspan x="783.5">hevc</tspan><tspan x="792.7">hevc</tspan><tspan x="811">hevc</tspan><tspan x="820.2">h264</tspan><tspan x="829.4">h264</tspan><tspan x="838.6">h264</tspan><tspan x="847.8">h264</tspan><tspan x="856.9">hevc</tspan><tspan x="866.1">h264</tspan><tspan x="875.3">h264</tspan><tspan x="884.5">h264</tspan><tspan x="893.6">hevc</tspan><tspan x="902.8">h264</tspan><tspan x="912">h264</tspan><tspan x="921.1">h264</tspan><tspan x="957.8">h264</tspan><tspan x="966.9">h264</tspan><tspan x="976.1">h264</tspan><tspan x="994.4">h264</tspan><tspan x="1003.6">hevc</tspan></text>
<text y="630.9" font-size="2.24" fill-opacity=".65"><tspan x="375.1">hevc</tspan><tspan x="384.2">h264</tspan><tspan x="393.3">h264</tspan><tspan x="402.4">h264</tspan><tspan x="411.5">h264</tspan><tspan x="420.6">h264</tspan><tspan x="429.7">h264</tspan><tspan x="438.8">h264</tspan><tspan x="447.9">h264</tspan><tspan x="457">h264</tspan><tspan x="475.1">h264</tspan><tspan x="484.2">hevc</tspan><tspan x="493.3">h264</tspan><tspan x="502.4">h264</tspan><tspan x="511.4">h264</tspan><tspan x="520.5">h264</tspan><tspan x="529.5">hevc</tspan><tspan x="538.6">hevc</tspan><tspan x="547.6">h264</tspan><tspan x="556.6">h264</tspan><tspan x="565.7">h264</tspan><tspan x="574.7">h264</tspan><tspan x="592.7">h264</tspan><tspan x="601.7">hevc</tspan><tspan x="610.7">h264</tspan><tspan x="619.6">h264</tspan><tspan x="628.6">h264</tspan><tspan x="646.5">h264</tspan><tspan x="655.4">h264</tspan><tspan x="664.4">h264</tspan><tspan x="682.2">h264</tspan><tspan x="691.1">h264</tspan><tspan x="726.8">hevc</tspan><tspan x="735.7">h264</tspan><tspan x="744.6">h264</tspan><tspan x="753.5">h264</tspan><tspan x="762.3">h264</tspan><tspan x="771.2">h264</tspan><tspan x="797.9">h264</tspan><tspan x="806.8">h264</tspan><tspan x="815.6">h264</tspan><tspan x="824.5">h264</tspan><tspan x="833.4">h264</tspan><tspan x="842.3">h264</tspan><tspan x="851.1">h264</tspan><tspan x="860">hevc</tspan><tspan x="868.9">h264</tspan><tspan x="877.7">h264</tspan><tspan x="886.6">h264</tspan><tspan x="895.5">h264</tspan><tspan x="904.3">h264</tspan><tspan x="913.2">h264</tspan><tspan x="922">h264</tspan><tspan x="930.9">mpeg4</tspan><tspan x="939.7">hevc</tspan><tspan x="948.6">h264</tspan><tspan x="966.2">hevc</tspan><tspan x="975.1">hevc</tspan><tspan x="983.9">h264</tspan><tspan x="992.7">h264</tspan></text>
<text y="639.8" font-size="2.15" fill-opacity=".64"><tspan x="375.1">h264</tspan><tspan x="383.9">h264</tspan><tspan x="410.2">h264</tspan><tspan x="418.9">h264</tspan><tspan x="427.7">h264</tspan><tspan x="436.4">h264</tspan><tspan x="454">h264</tspan><tspan x="471.5">h264</tspan><tspan x="480.3">h264</tspan><tspan x="489">h264</tspan><tspan x="506.5">h264</tspan><tspan x="524">hevc</tspan><tspan x="532.7">h264</tspan><tspan x="541.5">h264</tspan><tspan x="550.2">h264</tspan><tspan x="558.9">h264</tspan><tspan x="585">h264</tspan><tspan x="593.7">h264</tspan><tspan x="602.4">h264</tspan><tspan x="611">h264</tspan><tspan x="628.3">h264</tspan><tspan x="636.9">hevc</tspan><tspan x="645.5">hevc</tspan><tspan x="680">h264</tspan><tspan x="688.6">h264</tspan><tspan x="697.2">hevc</tspan><tspan x="705.7">hevc</tspan><tspan x="714.3">hevc</tspan><tspan x="722.9">hevc</tspan><tspan x="731.4">h264</tspan><tspan x="740">h264</tspan><tspan x="748.6">hevc</tspan><tspan x="757.1">h264</tspan><tspan x="765.7">h264</tspan><tspan x="774.2">h264</tspan><tspan x="782.8">h264</tspan><tspan x="791.3">h264</tspan><tspan x="808.4">h264</tspan><tspan x="817">hevc</tspan><tspan x="825.5">hevc</tspan><tspan x="842.6">h264</tspan><tspan x="868.2">h264</tspan><tspan x="876.7">hevc</tspan><tspan x="885.2">hevc</tspan><tspan x="893.7">h264</tspan><tspan x="902.3">h264</tspan><tspan x="927.8">h264</tspan><tspan x="936.3">h264</tspan><tspan x="944.8">h264</tspan><tspan x="953.3">h264</tspan><tspan x="961.8">h264</tspan><tspan x="970.3">h264</tspan><tspan x="1004.2">h264</tspan></text>
<text y="648" font-size="2.08" fill-opacity=".63"><tspan x="383.5">h264</tspan><tspan x="392">h264</tspan><tspan x="400.4">h264</tspan><tspan x="408.8">h264</tspan><tspan x="417.2">h264</tspan><tspan x="425.7">h264</tspan><tspan x="450.9">h264</tspan><tspan x="459.4">h264</tspan><tspan x="467.8">h264</tspan><tspan x="484.6">h264</tspan><tspan x="493">h264</tspan><tspan x="501.4">h264</tspan><tspan x="518.2">h264</tspan><tspan x="526.6">h264</tspan><tspan x="535">h264</tspan><tspan x="543.3">h264</tspan><tspan x="551.7">h264</tspan><tspan x="560.1">h264</tspan><tspan x="568.4">h264</tspan><tspan x="576.8">h264</tspan><tspan x="585.1">h264</tspan><tspan x="593.4">h264</tspan><tspan x="601.8">h264</tspan><tspan x="610.1">h264</tspan><tspan x="635.1">h264</tspan><tspan x="643.4">h264</tspan><tspan x="651.7">h264</tspan><tspan x="660">h264</tspan><tspan x="668.3">h264</tspan><tspan x="684.9">h264</tspan><tspan x="693.2">h264</tspan><tspan x="701.5">hevc</tspan><tspan x="734.6">h264</tspan><tspan x="759.5">h264</tspan><tspan x="767.7">h264</tspan><tspan x="776">h264</tspan><tspan x="784.3">hevc</tspan><tspan x="792.5">hevc</tspan><tspan x="809">h264</tspan><tspan x="817.3">h264</tspan><tspan x="825.5">h264</tspan><tspan x="891.3">hevc</tspan><tspan x="899.5">hevc</tspan><tspan x="907.8">hevc</tspan><tspan x="916">hevc</tspan><tspan x="924.2">h264</tspan><tspan x="940.5">hevc</tspan><tspan x="956.9">hevc</tspan><tspan x="973.3">hevc</tspan><tspan x="981.4">hevc</tspan><tspan x="989.6">h264</tspan><tspan x="997.8">h264</tspan><tspan x="1005.9">h264</tspan></text>
<text y="656" font-size="1.98" fill-opacity=".62"><tspan x="375.1">h264</tspan><tspan x="383.3">h264</tspan><tspan x="391.6">h264</tspan><tspan x="399.7">h264</tspan><tspan x="407.9">h264</tspan><tspan x="424.1">h264</tspan><tspan x="432.2">hevc</tspan><tspan x="448.3">mpeg4</tspan><tspan x="464.3">h264</tspan><tspan x="504.2">hevc</tspan><tspan x="512.2">h264</tspan><tspan x="520.1">hevc</tspan><tspan x="536.1">h264</tspan><tspan x="544.2">h264</tspan><tspan x="552.2">h264</tspan><tspan x="568.2">hevc</tspan><tspan x="576.2">h264</tspan><tspan x="584.3">hevc</tspan><tspan x="592.3">hevc</tspan><tspan x="600.3">h264</tspan><tspan x="608.3">hevc</tspan><tspan x="616.3">h264</tspan><tspan x="624.3">h264</tspan><tspan x="632.3">hevc</tspan><tspan x="640.3">hevc</tspan><tspan x="648.2">h264</tspan><tspan x="664.2">hevc</tspan><tspan x="672.1">hevc</tspan><tspan x="680.1">hevc</tspan><tspan x="688.1">h264</tspan><tspan x="696">h264</tspan><tspan x="704">hevc</tspan><tspan x="711.9">hevc</tspan><tspan x="719.8">h264</tspan><tspan x="727.8">h264</tspan><tspan x="735.7">hevc</tspan><tspan x="743.6">h264</tspan><tspan x="751.5">h264</tspan><tspan x="759.5">hevc</tspan><tspan x="767.4">hevc</tspan><tspan x="775.3">hevc</tspan><tspan x="783.1">h264</tspan><tspan x="791">h264</tspan><tspan x="798.9">hevc</tspan><tspan x="806.8">hevc</tspan><tspan x="830.3">h264</tspan><tspan x="838.1">h264</tspan><tspan x="861.5">hevc</tspan><tspan x="869.3">hevc</tspan><tspan x="877">h264</tspan><tspan x="884.8">hevc</tspan><tspan x="892.5">h264</tspan><tspan x="900.3">h264</tspan><tspan x="908">hevc</tspan><tspan x="931.2">hevc</tspan><tspan x="946.5">hevc</tspan><tspan x="954.2">h264</tspan><tspan x="961.9">h264</tspan><tspan x="969.5">hevc</tspan><tspan x="977.2">hevc</tspan><tspan x="984.8">hevc</tspan><tspan x="1000.1">hevc</tspan><tspan x="1007.7">hevc</tspan></text>
<text y="664" font-size="1.83" fill-opacity=".6"><tspan x="390.6">h264</tspan><tspan x="398.4">h264</tspan><tspan x="406.1">h264</tspan><tspan x="413.8">mpeg4</tspan><tspan x="429.1">h264</tspan><tspan x="436.8">h264</tspan><tspan x="444.4">hevc</tspan><tspan x="452">h264</tspan><tspan x="467.2">h264</tspan><tspan x="474.7">mpeg4</tspan><tspan x="482.3">h264</tspan><tspan x="497.4">h264</tspan><tspan x="512.5">hevc</tspan><tspan x="520.1">hevc</tspan><tspan x="527.6">hevc</tspan><tspan x="535.2">hevc</tspan><tspan x="542.7">h264</tspan><tspan x="550.2">h264</tspan><tspan x="565.3">hevc</tspan><tspan x="572.8">hevc</tspan><tspan x="580.3">hevc</tspan><tspan x="602.8">h264</tspan><tspan x="610.3">h264</tspan><tspan x="617.8">hevc</tspan><tspan x="625.2">hevc</tspan><tspan x="632.7">hevc</tspan><tspan x="640.1">h264</tspan><tspan x="647.6">h264</tspan><tspan x="655">h264</tspan><tspan x="662.4">h264</tspan><tspan x="669.8">h264</tspan><tspan x="677.2">hevc</tspan><tspan x="684.6">hevc</tspan><tspan x="692">hevc</tspan><tspan x="699.3">h264</tspan><tspan x="706.7">h264</tspan><tspan x="714">h264</tspan><tspan x="721.3">h264</tspan><tspan x="728.6">hevc</tspan><tspan x="736">h264</tspan><tspan x="743.2">h264</tspan><tspan x="750.5">h264</tspan><tspan x="757.8">hevc</tspan><tspan x="765.1">hevc</tspan><tspan x="772.3">hevc</tspan><tspan x="779.6">hevc</tspan><tspan x="786.8">h264</tspan><tspan x="794.1">h264</tspan><tspan x="801.3">h264</tspan><tspan x="808.5">h264</tspan><tspan x="815.7">h264</tspan><tspan x="822.9">h264</tspan><tspan x="830.1">hevc</tspan><tspan x="837.2">hevc</tspan><tspan x="844.4">h264</tspan><tspan x="851.6">h264</tspan><tspan x="858.7">h264</tspan><tspan x="865.8">h264</tspan><tspan x="873">h264</tspan><tspan x="880.1">h264</tspan><tspan x="887.2">h264</tspan><tspan x="894.3">h264</tspan><tspan x="901.4">hevc</tspan><tspan x="908.5">hevc</tspan><tspan x="915.6">hevc</tspan><tspan x="922.6">hevc</tspan><tspan x="929.7">hevc</tspan><tspan x="936.7">h264</tspan><tspan x="943.8">hevc</tspan><tspan x="950.8">hevc</tspan><tspan x="957.8">h264</tspan><tspan x="964.8">hevc</tspan><tspan x="971.8">h264</tspan><tspan x="978.8">h264</tspan><tspan x="985.8">h264</tspan><tspan x="992.7">h264</tspan><tspan x="999.7">hevc</tspan><tspan x="1006.7">hevc</tspan></text>
<text y="671.2" font-size="1.58" fill-opacity=".57"><tspan x="375.1">h264</tspan><tspan x="381.7">hevc</tspan><tspan x="388.3">hevc</tspan><tspan x="395">hevc</tspan><tspan x="401.6">h264</tspan><tspan x="408.2">h264</tspan><tspan x="414.8">h264</tspan><tspan x="421.4">h264</tspan><tspan x="428.1">hevc</tspan><tspan x="434.7">h264</tspan><tspan x="441.3">h264</tspan><tspan x="447.9">h264</tspan><tspan x="454.5">h264</tspan><tspan x="461.1">h264</tspan><tspan x="467.8">h264</tspan><tspan x="474.4">h264</tspan><tspan x="480.9">h264</tspan><tspan x="487.5">hevc</tspan><tspan x="494.1">h264</tspan><tspan x="500.7">hevc</tspan><tspan x="507.2">hevc</tspan><tspan x="513.8">hevc</tspan><tspan x="520.4">hevc</tspan><tspan x="526.9">h264</tspan><tspan x="533.4">h264</tspan><tspan x="539.9">h264</tspan><tspan x="546.4">h264</tspan><tspan x="552.9">h264</tspan><tspan x="559.4">h264</tspan><tspan x="565.9">hevc</tspan><tspan x="572.4">h264</tspan><tspan x="578.9">hevc</tspan><tspan x="585.3">hevc</tspan><tspan x="591.8">hevc</tspan><tspan x="598.3">hevc</tspan><tspan x="604.7">hevc</tspan><tspan x="611.1">h264</tspan><tspan x="617.6">h264</tspan><tspan x="624">hevc</tspan><tspan x="630.4">h264</tspan><tspan x="636.8">h264</tspan><tspan x="643.2">hevc</tspan><tspan x="649.6">hevc</tspan><tspan x="656">h264</tspan><tspan x="662.4">h264</tspan><tspan x="668.8">h264</tspan><tspan x="675.1">h264</tspan><tspan x="681.5">hevc</tspan><tspan x="687.9">hevc</tspan><tspan x="694.2">h264</tspan><tspan x="700.5">h264</tspan><tspan x="706.9">h264</tspan><tspan x="713.2">h264</tspan><tspan x="719.5">h264</tspan><tspan x="725.8">hevc</tspan><tspan x="732.1">hevc</tspan><tspan x="738.4">h264</tspan><tspan x="744.7">hevc</tspan><tspan x="751">hevc</tspan><tspan x="757.2">hevc</tspan><tspan x="763.5">hevc</tspan><tspan x="769.8">h264</tspan><tspan x="776">h264</tspan><tspan x="782.2">h264</tspan><tspan x="788.5">hevc</tspan><tspan x="794.7">hevc</tspan><tspan x="813.3">h264</tspan><tspan x="819.5">h264</tspan><tspan x="825.7">hevc</tspan><tspan x="831.8">hevc</tspan><tspan x="838">hevc</tspan><tspan x="844.1">h264</tspan><tspan x="850.3">h264</tspan><tspan x="856.4">hevc</tspan><tspan x="862.5">hevc</tspan><tspan x="868.7">hevc</tspan><tspan x="874.8">h264</tspan><tspan x="880.9">h264</tspan><tspan x="886.9">hevc</tspan><tspan x="893">hevc</tspan><tspan x="899.1">hevc</tspan><tspan x="905.2">hevc</tspan><tspan x="911.2">h264</tspan><tspan x="917.3">h264</tspan><tspan x="923.3">hevc</tspan><tspan x="929.3">hevc</tspan><tspan x="935.3">hevc</tspan><tspan x="941.3">hevc</tspan><tspan x="947.3">hevc</tspan><tspan x="953.3">h264</tspan><tspan x="959.3">h264</tspan><tspan x="965.3">hevc</tspan><tspan x="971.3">hevc</tspan><tspan x="977.2">hevc</tspan><tspan x="983.2">hevc</tspan><tspan x="989.1">hevc</tspan><tspan x="995.1">hevc</tspan><tspan x="1001">hevc</tspan><tspan x="1006.9">hevc</tspan></text>
<text y="677.2" font-size="1.4" fill-opacity=".54"><tspan x="375.1">h264</tspan><tspan x="380.9">h264</tspan><tspan x="386.8">h264</tspan><tspan x="392.6">hevc</tspan><tspan x="398.5">hevc</tspan><tspan x="404.3">hevc</tspan><tspan x="410.1">h264</tspan><tspan x="416">h264</tspan><tspan x="421.8">hevc</tspan><tspan x="427.6">hevc</tspan><tspan x="433.5">hevc</tspan><tspan x="439.3">hevc</tspan><tspan x="445.2">hevc</tspan><tspan x="451">hevc</tspan><tspan x="456.8">h264</tspan><tspan x="462.7">h264</tspan><tspan x="468.5">h264</tspan><tspan x="474.3">h264</tspan><tspan x="480.1">h264</tspan><tspan x="485.9">h264</tspan><tspan x="491.7">h264</tspan><tspan x="497.5">h264</tspan><tspan x="503.3">h264</tspan><tspan x="509.1">hevc</tspan><tspan x="520.6">hevc</tspan><tspan x="526.4">hevc</tspan><tspan x="532.1">h264</tspan><tspan x="537.8">h264</tspan><tspan x="543.5">h264</tspan><tspan x="549.2">hevc</tspan><tspan x="554.9">hevc</tspan><tspan x="560.6">hevc</tspan><tspan x="566.3">hevc</tspan><tspan x="572">h264</tspan><tspan x="577.6">h264</tspan><tspan x="583.3">h264</tspan><tspan x="589">h264</tspan><tspan x="594.6">hevc</tspan><tspan x="600.3">h264</tspan><tspan x="605.9">h264</tspan><tspan x="611.5">h264</tspan><tspan x="617.2">h264</tspan><tspan x="622.8">h264</tspan><tspan x="628.5">h264</tspan><tspan x="634.1">hevc</tspan><tspan x="639.8">hevc</tspan><tspan x="645.4">hevc</tspan><tspan x="651.1">h264</tspan><tspan x="656.8">h264</tspan><tspan x="662.4">h264</tspan><tspan x="668.1">h264</tspan><tspan x="673.8">hevc</tspan><tspan x="679.4">hevc</tspan><tspan x="685.1">hevc</tspan><tspan x="690.9">hevc</tspan><tspan x="696.6">hevc</tspan><tspan x="702.4">hevc</tspan><tspan x="708.2">hevc</tspan><tspan x="714">hevc</tspan><tspan x="719.7">h264</tspan><tspan x="725.5">h264</tspan><tspan x="731.3">h264</tspan><tspan x="737.1">hevc</tspan><tspan x="742.9">hevc</tspan><tspan x="748.7">hevc</tspan><tspan x="754.5">h264</tspan><tspan x="760.3">hevc</tspan><tspan x="766.1">hevc</tspan><tspan x="771.8">hevc</tspan><tspan x="777.6">hevc</tspan><tspan x="783.4">hevc</tspan><tspan x="789.1">hevc</tspan><tspan x="794.8">h264</tspan><tspan x="800.5">h264</tspan><tspan x="806.2">h264</tspan><tspan x="811.9">h264</tspan><tspan x="817.6">h264</tspan><tspan x="823.2">h264</tspan><tspan x="828.9">h264</tspan><tspan x="834.5">h264</tspan><tspan x="840.1">h264</tspan><tspan x="845.6">h264</tspan><tspan x="851.1">h264</tspan><tspan x="856.7">hevc</tspan><tspan x="862.1">h264</tspan><tspan x="867.6">h264</tspan><tspan x="873.1">h264</tspan><tspan x="878.5">hevc</tspan><tspan x="883.9">hevc</tspan><tspan x="900.1">hevc</tspan><tspan x="905.5">h264</tspan><tspan x="910.9">h264</tspan><tspan x="916.2">hevc</tspan><tspan x="921.5">hevc</tspan><tspan x="926.8">hevc</tspan><tspan x="932.1">h264</tspan><tspan x="937.4">h264</tspan><tspan x="942.7">hevc</tspan><tspan x="947.9">hevc</tspan><tspan x="953.1">hevc</tspan><tspan x="958.4">hevc</tspan><tspan x="963.6">hevc</tspan><tspan x="968.8">h264</tspan><tspan x="973.9">hevc</tspan><tspan x="979.1">hevc</tspan><tspan x="984.2">hevc</tspan><tspan x="989.4">hevc</tspan><tspan x="994.5">h264</tspan><tspan x="999.6">h264</tspan><tspan x="1004.7">hevc</tspan><tspan x="1009.7">hevc</tspan></text>
<text y="682.6" font-size="1.29" fill-opacity=".53"><tspan x="375.1">hevc</tspan><tspan x="380.6">h264</tspan><tspan x="386.1">h264</tspan><tspan x="391.6">hevc</tspan><tspan x="397.1">h264</tspan><tspan x="402.5">h264</tspan><tspan x="408">h264</tspan><tspan x="413.5">h264</tspan><tspan x="418.9">h264</tspan><tspan x="424.4">h264</tspan><tspan x="429.8">h264</tspan><tspan x="435.3">hevc</tspan><tspan x="440.7">hevc</tspan><tspan x="446.2">hevc</tspan><tspan x="451.6">h264</tspan><tspan x="457">h264</tspan><tspan x="462.4">hevc</tspan><tspan x="467.8">h264</tspan><tspan x="473.2">h264</tspan><tspan x="478.6">h264</tspan><tspan x="484">hevc</tspan><tspan x="489.4">h264</tspan><tspan x="494.8">h264</tspan><tspan x="500.2">hevc</tspan><tspan x="505.5">hevc</tspan><tspan x="510.9">hevc</tspan><tspan x="516.3">h264</tspan><tspan x="521.6">h264</tspan><tspan x="527">h264</tspan><tspan x="532.3">h264</tspan><tspan x="537.6">h264</tspan><tspan x="543">hevc</tspan><tspan x="548.3">h264</tspan><tspan x="553.6">hevc</tspan><tspan x="558.9">h264</tspan><tspan x="564.2">h264</tspan><tspan x="569.5">hevc</tspan><tspan x="574.8">h264</tspan><tspan x="580.1">hevc</tspan><tspan x="585.4">h264</tspan><tspan x="590.7">h264</tspan><tspan x="596">hevc</tspan><tspan x="601.2">hevc</tspan><tspan x="606.5">hevc</tspan><tspan x="611.8">hevc</tspan><tspan x="617">h264</tspan><tspan x="622.3">hevc</tspan><tspan x="627.5">hevc</tspan><tspan x="632.7">h264</tspan><tspan x="638">hevc</tspan><tspan x="643.2">hevc</tspan><tspan x="648.4">hevc</tspan><tspan x="653.6">hevc</tspan><tspan x="658.8">hevc</tspan><tspan x="664">hevc</tspan><tspan x="669.2">h264</tspan><tspan x="674.4">hevc</tspan><tspan x="679.6">hevc</tspan><tspan x="684.8">hevc</tspan><tspan x="690">hevc</tspan><tspan x="695.1">h264</tspan><tspan x="700.3">h264</tspan><tspan x="710.6">hevc</tspan><tspan x="715.7">hevc</tspan><tspan x="720.9">h264</tspan><tspan x="726">h264</tspan><tspan x="731.1">hevc</tspan><tspan x="736.3">hevc</tspan><tspan x="741.4">hevc</tspan><tspan x="746.5">hevc</tspan><tspan x="751.6">hevc</tspan><tspan x="756.7">hevc</tspan><tspan x="761.8">hevc</tspan><tspan x="777">hevc</tspan><tspan x="782.1">hevc</tspan><tspan x="787.2">hevc</tspan><tspan x="792.2">h264</tspan><tspan x="797.3">hevc</tspan><tspan x="802.3">h264</tspan><tspan x="807.4">h264</tspan><tspan x="812.4">h264</tspan><tspan x="817.4">h264</tspan><tspan x="822.5">h264</tspan><tspan x="827.5">hevc</tspan><tspan x="832.5">h264</tspan><tspan x="837.5">h264</tspan><tspan x="842.5">h264</tspan><tspan x="847.5">hevc</tspan><tspan x="852.5">hevc</tspan><tspan x="857.5">hevc</tspan><tspan x="862.5">hevc</tspan><tspan x="867.5">h264</tspan><tspan x="872.4">h264</tspan><tspan x="877.4">hevc</tspan><tspan x="882.3">hevc</tspan><tspan x="887.3">h264</tspan><tspan x="892.2">h264</tspan><tspan x="897.2">hevc</tspan><tspan x="902.1">hevc</tspan><tspan x="907.1">h264</tspan><tspan x="912">hevc</tspan><tspan x="916.9">hevc</tspan><tspan x="921.8">h264</tspan><tspan x="926.7">h264</tspan><tspan x="931.6">h264</tspan><tspan x="936.5">h264</tspan><tspan x="941.4">h264</tspan><tspan x="946.3">h264</tspan><tspan x="951.2">h264</tspan><tspan x="956.1">h264</tspan><tspan x="960.9">h264</tspan><tspan x="965.8">hevc</tspan><tspan x="970.6">hevc</tspan><tspan x="975.5">hevc</tspan><tspan x="980.3">hevc</tspan><tspan x="985.2">hevc</tspan><tspan x="990">h264</tspan><tspan x="994.8">h264</tspan><tspan x="999.7">h264</tspan><tspan x="1004.5">hevc</tspan><tspan x="1009.3">hevc</tspan></text>
</g>
</svg>
</body></html>
